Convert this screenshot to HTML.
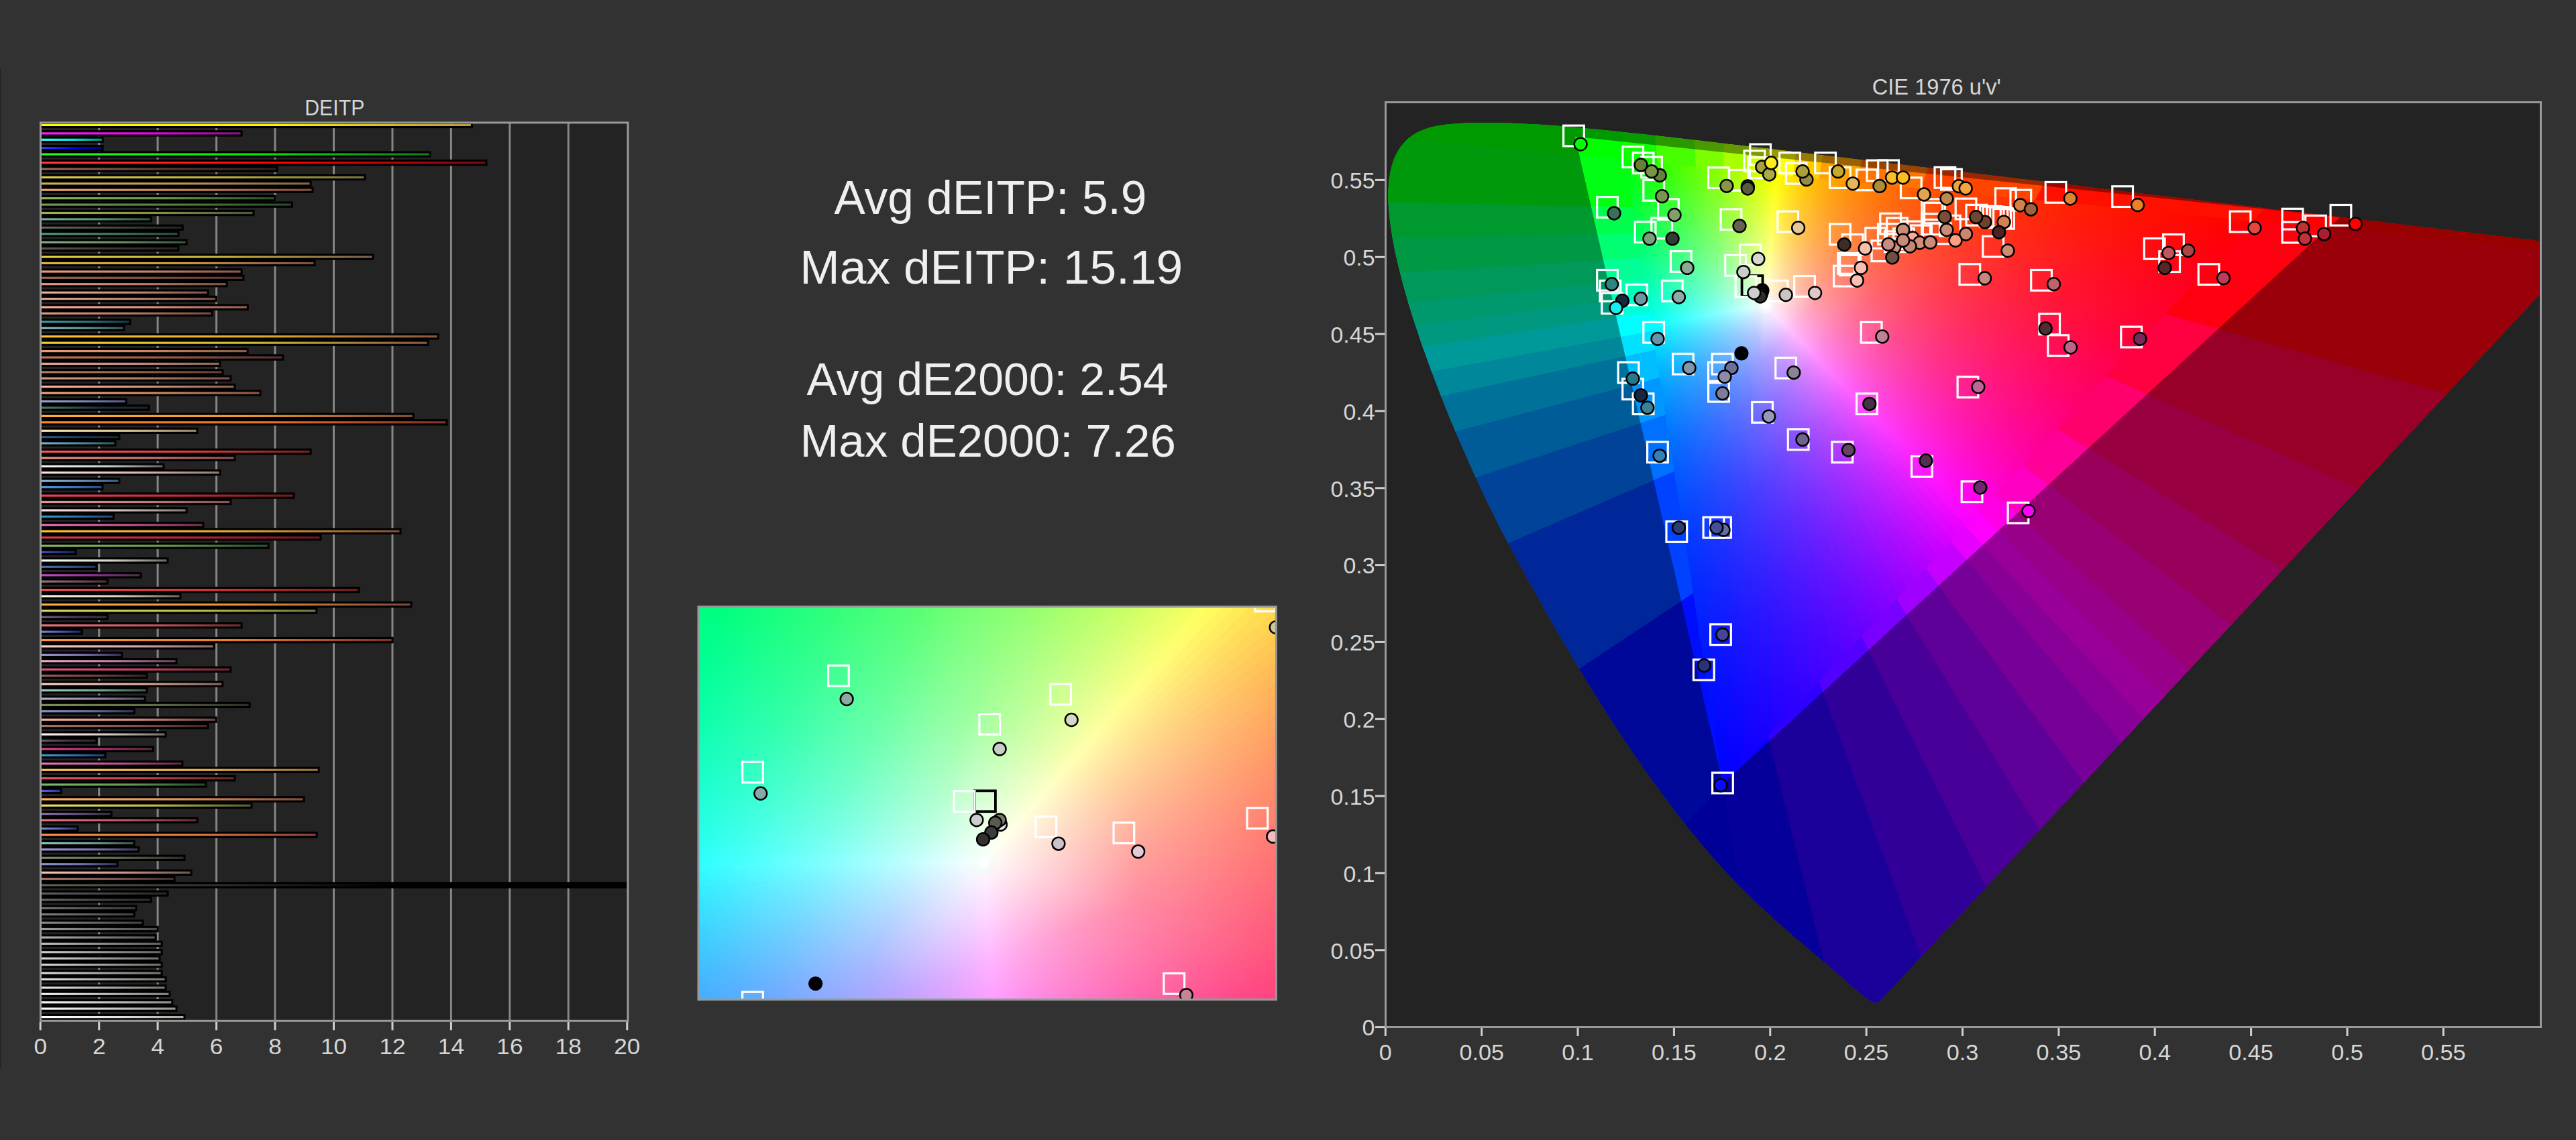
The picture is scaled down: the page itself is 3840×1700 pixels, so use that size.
<!DOCTYPE html>
<html lang="en"><head><meta charset="utf-8"><title>DEITP / CIE 1976 u'v'</title>
<style>
html,body{margin:0;padding:0;background:#323232;}
body{width:3840px;height:1700px;position:relative;overflow:hidden;font-family:"Liberation Sans",sans-serif;}
svg{position:absolute;left:0;top:0;}
text{font-family:"Liberation Sans",sans-serif;}
</style></head><body>
<svg width="3840" height="1700" viewBox="0 0 3840 1700">

<defs>
<linearGradient id="mf0" gradientUnits="userSpaceOnUse" x1="2632.5" y1="455.2" x2="2431.5" y2="239.5"><stop offset="0" stop-color="#fff"/><stop offset="0.12" stop-color="#d1ffd0"/><stop offset="0.25" stop-color="#a6ffa4"/><stop offset="0.4" stop-color="#7cff79"/><stop offset="0.55" stop-color="#58ff54"/><stop offset="0.7" stop-color="#39ff34"/><stop offset="0.85" stop-color="#1eff18"/><stop offset="1" stop-color="#07ff00"/></linearGradient>
<linearGradient id="mf1" gradientUnits="userSpaceOnUse" x1="2632.5" y1="455.2" x2="2446.1" y2="240.9"><stop offset="0" stop-color="#fff"/><stop offset="0.12" stop-color="#d4ffd0"/><stop offset="0.25" stop-color="#acffa5"/><stop offset="0.4" stop-color="#84ff7a"/><stop offset="0.55" stop-color="#62ff55"/><stop offset="0.7" stop-color="#44ff35"/><stop offset="0.85" stop-color="#2aff19"/><stop offset="1" stop-color="#14ff00"/></linearGradient>
<linearGradient id="mf2" gradientUnits="userSpaceOnUse" x1="2632.5" y1="455.2" x2="2459.7" y2="242.2"><stop offset="0" stop-color="#fff"/><stop offset="0.12" stop-color="#d7ffd1"/><stop offset="0.25" stop-color="#b1ffa6"/><stop offset="0.4" stop-color="#8bff7b"/><stop offset="0.55" stop-color="#6bff56"/><stop offset="0.7" stop-color="#4fff35"/><stop offset="0.85" stop-color="#36ff19"/><stop offset="1" stop-color="#20ff00"/></linearGradient>
<linearGradient id="mf3" gradientUnits="userSpaceOnUse" x1="2632.5" y1="455.2" x2="2472.4" y2="243.5"><stop offset="0" stop-color="#fff"/><stop offset="0.12" stop-color="#d9ffd2"/><stop offset="0.25" stop-color="#b6ffa7"/><stop offset="0.4" stop-color="#92ff7c"/><stop offset="0.55" stop-color="#74ff57"/><stop offset="0.7" stop-color="#59ff36"/><stop offset="0.85" stop-color="#41ff19"/><stop offset="1" stop-color="#2cff00"/></linearGradient>
<linearGradient id="mf4" gradientUnits="userSpaceOnUse" x1="2632.5" y1="455.2" x2="2484.4" y2="244.6"><stop offset="0" stop-color="#fff"/><stop offset="0.12" stop-color="#dcffd2"/><stop offset="0.25" stop-color="#baffa7"/><stop offset="0.4" stop-color="#99ff7d"/><stop offset="0.55" stop-color="#7cff57"/><stop offset="0.7" stop-color="#62ff37"/><stop offset="0.85" stop-color="#4cff1a"/><stop offset="1" stop-color="#37ff00"/></linearGradient>
<linearGradient id="mf5" gradientUnits="userSpaceOnUse" x1="2632.5" y1="455.2" x2="2495.7" y2="245.7"><stop offset="0" stop-color="#fff"/><stop offset="0.12" stop-color="#deffd3"/><stop offset="0.25" stop-color="#bfffa8"/><stop offset="0.4" stop-color="#9fff7d"/><stop offset="0.55" stop-color="#84ff58"/><stop offset="0.7" stop-color="#6bff37"/><stop offset="0.85" stop-color="#56ff1a"/><stop offset="1" stop-color="#43ff00"/></linearGradient>
<linearGradient id="mf6" gradientUnits="userSpaceOnUse" x1="2632.5" y1="455.2" x2="2506.3" y2="246.8"><stop offset="0" stop-color="#fff"/><stop offset="0.12" stop-color="#e0ffd3"/><stop offset="0.25" stop-color="#c3ffa9"/><stop offset="0.4" stop-color="#a5ff7e"/><stop offset="0.55" stop-color="#8bff59"/><stop offset="0.7" stop-color="#74ff38"/><stop offset="0.85" stop-color="#60ff1a"/><stop offset="1" stop-color="#4dff00"/></linearGradient>
<linearGradient id="mf7" gradientUnits="userSpaceOnUse" x1="2632.5" y1="455.2" x2="2516.4" y2="247.7"><stop offset="0" stop-color="#fff"/><stop offset="0.12" stop-color="#e2ffd3"/><stop offset="0.25" stop-color="#c7ffaa"/><stop offset="0.4" stop-color="#abff7f"/><stop offset="0.55" stop-color="#93ff5a"/><stop offset="0.7" stop-color="#7dff38"/><stop offset="0.85" stop-color="#69ff1b"/><stop offset="1" stop-color="#58ff00"/></linearGradient>
<linearGradient id="mf8" gradientUnits="userSpaceOnUse" x1="2632.5" y1="455.2" x2="2526.1" y2="248.7"><stop offset="0" stop-color="#fff"/><stop offset="0.12" stop-color="#e4ffd4"/><stop offset="0.25" stop-color="#cbffaa"/><stop offset="0.4" stop-color="#b1ff80"/><stop offset="0.55" stop-color="#9aff5a"/><stop offset="0.7" stop-color="#85ff39"/><stop offset="0.85" stop-color="#73ff1b"/><stop offset="1" stop-color="#62ff00"/></linearGradient>
<linearGradient id="mf9" gradientUnits="userSpaceOnUse" x1="2632.5" y1="455.2" x2="2535.3" y2="249.6"><stop offset="0" stop-color="#fff"/><stop offset="0.12" stop-color="#e6ffd4"/><stop offset="0.25" stop-color="#cfffab"/><stop offset="0.4" stop-color="#b6ff80"/><stop offset="0.55" stop-color="#a1ff5b"/><stop offset="0.7" stop-color="#8dff39"/><stop offset="0.85" stop-color="#7cff1b"/><stop offset="1" stop-color="#6cff00"/></linearGradient>
<linearGradient id="mf10" gradientUnits="userSpaceOnUse" x1="2632.5" y1="455.2" x2="2544.2" y2="250.5"><stop offset="0" stop-color="#fff"/><stop offset="0.12" stop-color="#e8ffd5"/><stop offset="0.25" stop-color="#d2ffab"/><stop offset="0.4" stop-color="#bbff81"/><stop offset="0.55" stop-color="#a7ff5b"/><stop offset="0.7" stop-color="#95ff3a"/><stop offset="0.85" stop-color="#85ff1b"/><stop offset="1" stop-color="#76ff00"/></linearGradient>
<linearGradient id="mf11" gradientUnits="userSpaceOnUse" x1="2632.5" y1="455.2" x2="2552.7" y2="251.3"><stop offset="0" stop-color="#fff"/><stop offset="0.12" stop-color="#eaffd5"/><stop offset="0.25" stop-color="#d6ffac"/><stop offset="0.4" stop-color="#c1ff82"/><stop offset="0.55" stop-color="#aeff5c"/><stop offset="0.7" stop-color="#9dff3a"/><stop offset="0.85" stop-color="#8eff1c"/><stop offset="1" stop-color="#80ff00"/></linearGradient>
<linearGradient id="mf12" gradientUnits="userSpaceOnUse" x1="2632.5" y1="455.2" x2="2561.0" y2="252.1"><stop offset="0" stop-color="#fff"/><stop offset="0.12" stop-color="#ecffd5"/><stop offset="0.25" stop-color="#d9ffad"/><stop offset="0.4" stop-color="#c6ff82"/><stop offset="0.55" stop-color="#b4ff5d"/><stop offset="0.7" stop-color="#a4ff3b"/><stop offset="0.85" stop-color="#96ff1c"/><stop offset="1" stop-color="#89ff00"/></linearGradient>
<linearGradient id="mf13" gradientUnits="userSpaceOnUse" x1="2632.5" y1="455.2" x2="2568.9" y2="252.9"><stop offset="0" stop-color="#fff"/><stop offset="0.12" stop-color="#edffd6"/><stop offset="0.25" stop-color="#dcffad"/><stop offset="0.4" stop-color="#caff83"/><stop offset="0.55" stop-color="#baff5d"/><stop offset="0.7" stop-color="#acff3b"/><stop offset="0.85" stop-color="#9fff1c"/><stop offset="1" stop-color="#93ff00"/></linearGradient>
<linearGradient id="mf14" gradientUnits="userSpaceOnUse" x1="2632.5" y1="455.2" x2="2576.7" y2="253.6"><stop offset="0" stop-color="#fff"/><stop offset="0.12" stop-color="#efffd6"/><stop offset="0.25" stop-color="#dfffae"/><stop offset="0.4" stop-color="#cfff84"/><stop offset="0.55" stop-color="#c1ff5e"/><stop offset="0.7" stop-color="#b3ff3c"/><stop offset="0.85" stop-color="#a7ff1c"/><stop offset="1" stop-color="#9cff00"/></linearGradient>
<linearGradient id="mf15" gradientUnits="userSpaceOnUse" x1="2632.5" y1="455.2" x2="2584.3" y2="254.4"><stop offset="0" stop-color="#fff"/><stop offset="0.12" stop-color="#f1ffd6"/><stop offset="0.25" stop-color="#e3ffae"/><stop offset="0.4" stop-color="#d4ff84"/><stop offset="0.55" stop-color="#c7ff5e"/><stop offset="0.7" stop-color="#bbff3c"/><stop offset="0.85" stop-color="#b0ff1d"/><stop offset="1" stop-color="#a6ff00"/></linearGradient>
<linearGradient id="mf16" gradientUnits="userSpaceOnUse" x1="2632.5" y1="455.2" x2="2591.6" y2="255.1"><stop offset="0" stop-color="#fff"/><stop offset="0.12" stop-color="#f2ffd7"/><stop offset="0.25" stop-color="#e6ffaf"/><stop offset="0.4" stop-color="#d9ff85"/><stop offset="0.55" stop-color="#cdff5f"/><stop offset="0.7" stop-color="#c2ff3d"/><stop offset="0.85" stop-color="#b8ff1d"/><stop offset="1" stop-color="#afff00"/></linearGradient>
<linearGradient id="mf17" gradientUnits="userSpaceOnUse" x1="2632.5" y1="455.2" x2="2598.8" y2="255.8"><stop offset="0" stop-color="#fff"/><stop offset="0.12" stop-color="#f4ffd7"/><stop offset="0.25" stop-color="#e9ffaf"/><stop offset="0.4" stop-color="#ddff86"/><stop offset="0.55" stop-color="#d3ff60"/><stop offset="0.7" stop-color="#c9ff3d"/><stop offset="0.85" stop-color="#c0ff1d"/><stop offset="1" stop-color="#b8ff00"/></linearGradient>
<linearGradient id="mf18" gradientUnits="userSpaceOnUse" x1="2632.5" y1="455.2" x2="2605.9" y2="256.5"><stop offset="0" stop-color="#fff"/><stop offset="0.12" stop-color="#f5ffd7"/><stop offset="0.25" stop-color="#ecffb0"/><stop offset="0.4" stop-color="#e2ff86"/><stop offset="0.55" stop-color="#d9ff60"/><stop offset="0.7" stop-color="#d0ff3d"/><stop offset="0.85" stop-color="#c8ff1d"/><stop offset="1" stop-color="#c1ff00"/></linearGradient>
<linearGradient id="mf19" gradientUnits="userSpaceOnUse" x1="2632.5" y1="455.2" x2="2612.9" y2="257.1"><stop offset="0" stop-color="#fff"/><stop offset="0.12" stop-color="#f7ffd8"/><stop offset="0.25" stop-color="#efffb0"/><stop offset="0.4" stop-color="#e6ff87"/><stop offset="0.55" stop-color="#deff61"/><stop offset="0.7" stop-color="#d7ff3e"/><stop offset="0.85" stop-color="#d1ff1e"/><stop offset="1" stop-color="#cbff00"/></linearGradient>
<linearGradient id="mf20" gradientUnits="userSpaceOnUse" x1="2632.5" y1="455.2" x2="2619.8" y2="257.8"><stop offset="0" stop-color="#fff"/><stop offset="0.12" stop-color="#f8ffd8"/><stop offset="0.25" stop-color="#f2ffb1"/><stop offset="0.4" stop-color="#ebff87"/><stop offset="0.55" stop-color="#e4ff61"/><stop offset="0.7" stop-color="#deff3e"/><stop offset="0.85" stop-color="#d9ff1e"/><stop offset="1" stop-color="#d4ff00"/></linearGradient>
<linearGradient id="mf21" gradientUnits="userSpaceOnUse" x1="2632.5" y1="455.2" x2="2626.6" y2="258.5"><stop offset="0" stop-color="#fff"/><stop offset="0.12" stop-color="#faffd8"/><stop offset="0.25" stop-color="#f5ffb1"/><stop offset="0.4" stop-color="#efff88"/><stop offset="0.55" stop-color="#eaff62"/><stop offset="0.7" stop-color="#e6ff3f"/><stop offset="0.85" stop-color="#e1ff1e"/><stop offset="1" stop-color="#df0"/></linearGradient>
<linearGradient id="mf22" gradientUnits="userSpaceOnUse" x1="2632.5" y1="455.2" x2="2633.3" y2="259.1"><stop offset="0" stop-color="#fff"/><stop offset="0.12" stop-color="#fbffd9"/><stop offset="0.25" stop-color="#f8ffb2"/><stop offset="0.4" stop-color="#f4ff88"/><stop offset="0.55" stop-color="#f0ff62"/><stop offset="0.7" stop-color="#edff3f"/><stop offset="0.85" stop-color="#eaff1e"/><stop offset="1" stop-color="#e7ff00"/></linearGradient>
<linearGradient id="mf23" gradientUnits="userSpaceOnUse" x1="2632.5" y1="455.2" x2="2640.0" y2="259.8"><stop offset="0" stop-color="#fff"/><stop offset="0.12" stop-color="#fdffd9"/><stop offset="0.25" stop-color="#fbffb2"/><stop offset="0.4" stop-color="#f8ff89"/><stop offset="0.55" stop-color="#f6ff63"/><stop offset="0.7" stop-color="#f4ff40"/><stop offset="0.85" stop-color="#f2ff1f"/><stop offset="1" stop-color="#f0ff00"/></linearGradient>
<linearGradient id="mf24" gradientUnits="userSpaceOnUse" x1="2632.5" y1="455.2" x2="2646.7" y2="260.4"><stop offset="0" stop-color="#fff"/><stop offset="0.12" stop-color="#feffd9"/><stop offset="0.25" stop-color="#feffb3"/><stop offset="0.4" stop-color="#fdff8a"/><stop offset="0.55" stop-color="#fcff64"/><stop offset="0.7" stop-color="#fbff40"/><stop offset="0.85" stop-color="#fbff1f"/><stop offset="1" stop-color="#faff00"/></linearGradient>
<linearGradient id="mf25" gradientUnits="userSpaceOnUse" x1="2632.5" y1="455.2" x2="2653.4" y2="261.1"><stop offset="0" stop-color="#fff"/><stop offset="0.12" stop-color="#fffed9"/><stop offset="0.25" stop-color="#fffeb2"/><stop offset="0.4" stop-color="#fffd89"/><stop offset="0.55" stop-color="#fffc63"/><stop offset="0.7" stop-color="#fffb40"/><stop offset="0.85" stop-color="#fffb1f"/><stop offset="1" stop-color="#fffa00"/></linearGradient>
<linearGradient id="mf26" gradientUnits="userSpaceOnUse" x1="2632.5" y1="455.2" x2="2660.1" y2="261.7"><stop offset="0" stop-color="#fff"/><stop offset="0.12" stop-color="#fffdd8"/><stop offset="0.25" stop-color="#fffbb1"/><stop offset="0.4" stop-color="#fff887"/><stop offset="0.55" stop-color="#fff661"/><stop offset="0.7" stop-color="#fff43e"/><stop offset="0.85" stop-color="#fff21e"/><stop offset="1" stop-color="#fff100"/></linearGradient>
<linearGradient id="mf27" gradientUnits="userSpaceOnUse" x1="2632.5" y1="455.2" x2="2666.8" y2="262.4"><stop offset="0" stop-color="#fff"/><stop offset="0.12" stop-color="#fffbd7"/><stop offset="0.25" stop-color="#fff8af"/><stop offset="0.4" stop-color="#fff485"/><stop offset="0.55" stop-color="#fff05f"/><stop offset="0.7" stop-color="#ffed3d"/><stop offset="0.85" stop-color="#ffea1d"/><stop offset="1" stop-color="#ffe800"/></linearGradient>
<linearGradient id="mf28" gradientUnits="userSpaceOnUse" x1="2632.5" y1="455.2" x2="2673.6" y2="263.1"><stop offset="0" stop-color="#fff"/><stop offset="0.12" stop-color="#fffad6"/><stop offset="0.25" stop-color="#fff5ae"/><stop offset="0.4" stop-color="#fff084"/><stop offset="0.55" stop-color="#ffeb5e"/><stop offset="0.7" stop-color="#ffe73c"/><stop offset="0.85" stop-color="#ffe31c"/><stop offset="1" stop-color="#ffdf00"/></linearGradient>
<linearGradient id="mf29" gradientUnits="userSpaceOnUse" x1="2632.5" y1="455.2" x2="2680.4" y2="263.7"><stop offset="0" stop-color="#fff"/><stop offset="0.12" stop-color="#fff8d5"/><stop offset="0.25" stop-color="#fff2ac"/><stop offset="0.4" stop-color="#ffeb82"/><stop offset="0.55" stop-color="#ffe65c"/><stop offset="0.7" stop-color="#ffe03a"/><stop offset="0.85" stop-color="#ffdc1c"/><stop offset="1" stop-color="#ffd700"/></linearGradient>
<linearGradient id="mf30" gradientUnits="userSpaceOnUse" x1="2632.5" y1="455.2" x2="2687.3" y2="264.4"><stop offset="0" stop-color="#fff"/><stop offset="0.12" stop-color="#fff7d4"/><stop offset="0.25" stop-color="#ffefab"/><stop offset="0.4" stop-color="#ffe780"/><stop offset="0.55" stop-color="#ffe05b"/><stop offset="0.7" stop-color="#ffda39"/><stop offset="0.85" stop-color="#ffd51b"/><stop offset="1" stop-color="#ffcf00"/></linearGradient>
<linearGradient id="mf31" gradientUnits="userSpaceOnUse" x1="2632.5" y1="455.2" x2="2694.2" y2="265.1"><stop offset="0" stop-color="#fff"/><stop offset="0.12" stop-color="#fff6d3"/><stop offset="0.25" stop-color="#ffeda9"/><stop offset="0.4" stop-color="#ffe37f"/><stop offset="0.55" stop-color="#ffdb59"/><stop offset="0.7" stop-color="#ffd438"/><stop offset="0.85" stop-color="#ffce1b"/><stop offset="1" stop-color="#ffc800"/></linearGradient>
<linearGradient id="mf32" gradientUnits="userSpaceOnUse" x1="2632.5" y1="455.2" x2="2701.3" y2="265.8"><stop offset="0" stop-color="#fff"/><stop offset="0.12" stop-color="#fff4d2"/><stop offset="0.25" stop-color="#ffeaa8"/><stop offset="0.4" stop-color="#ffdf7d"/><stop offset="0.55" stop-color="#ffd658"/><stop offset="0.7" stop-color="#ffce37"/><stop offset="0.85" stop-color="#ffc71a"/><stop offset="1" stop-color="#ffc100"/></linearGradient>
<linearGradient id="mf33" gradientUnits="userSpaceOnUse" x1="2632.5" y1="455.2" x2="2708.5" y2="266.5"><stop offset="0" stop-color="#fff"/><stop offset="0.12" stop-color="#fff3d1"/><stop offset="0.25" stop-color="#ffe7a6"/><stop offset="0.4" stop-color="#ffdb7b"/><stop offset="0.55" stop-color="#ffd156"/><stop offset="0.7" stop-color="#ffc836"/><stop offset="0.85" stop-color="#ffc119"/><stop offset="1" stop-color="#ffba00"/></linearGradient>
<linearGradient id="mf34" gradientUnits="userSpaceOnUse" x1="2632.5" y1="455.2" x2="2715.8" y2="267.2"><stop offset="0" stop-color="#fff"/><stop offset="0.12" stop-color="#fff1d0"/><stop offset="0.25" stop-color="#ffe4a5"/><stop offset="0.4" stop-color="#ffd77a"/><stop offset="0.55" stop-color="#fc5"/><stop offset="0.7" stop-color="#ffc335"/><stop offset="0.85" stop-color="#ffbb19"/><stop offset="1" stop-color="#ffb300"/></linearGradient>
<linearGradient id="mf35" gradientUnits="userSpaceOnUse" x1="2632.5" y1="455.2" x2="2723.4" y2="267.9"><stop offset="0" stop-color="#fff"/><stop offset="0.12" stop-color="#fff0cf"/><stop offset="0.25" stop-color="#ffe1a3"/><stop offset="0.4" stop-color="#ffd378"/><stop offset="0.55" stop-color="#ffc853"/><stop offset="0.7" stop-color="#ffbd34"/><stop offset="0.85" stop-color="#ffb418"/><stop offset="1" stop-color="#ffad00"/></linearGradient>
<linearGradient id="mf36" gradientUnits="userSpaceOnUse" x1="2632.5" y1="455.2" x2="2731.1" y2="268.7"><stop offset="0" stop-color="#fff"/><stop offset="0.12" stop-color="#ffeece"/><stop offset="0.25" stop-color="#ffdfa2"/><stop offset="0.4" stop-color="#ffcf76"/><stop offset="0.55" stop-color="#ffc352"/><stop offset="0.7" stop-color="#ffb833"/><stop offset="0.85" stop-color="#ffae18"/><stop offset="1" stop-color="#ffa600"/></linearGradient>
<linearGradient id="mf37" gradientUnits="userSpaceOnUse" x1="2632.5" y1="455.2" x2="2739.0" y2="269.4"><stop offset="0" stop-color="#fff"/><stop offset="0.12" stop-color="#ffedcd"/><stop offset="0.25" stop-color="#ffdca0"/><stop offset="0.4" stop-color="#ffcc75"/><stop offset="0.55" stop-color="#ffbe51"/><stop offset="0.7" stop-color="#ffb332"/><stop offset="0.85" stop-color="#ffa917"/><stop offset="1" stop-color="#ffa000"/></linearGradient>
<linearGradient id="mf38" gradientUnits="userSpaceOnUse" x1="2632.5" y1="455.2" x2="2747.2" y2="270.2"><stop offset="0" stop-color="#fff"/><stop offset="0.12" stop-color="#ffebcc"/><stop offset="0.25" stop-color="#ffd99f"/><stop offset="0.4" stop-color="#ffc873"/><stop offset="0.55" stop-color="#ffb94f"/><stop offset="0.7" stop-color="#ffad31"/><stop offset="0.85" stop-color="#ffa317"/><stop offset="1" stop-color="#ff9a00"/></linearGradient>
<linearGradient id="mf39" gradientUnits="userSpaceOnUse" x1="2632.5" y1="455.2" x2="2755.7" y2="271.1"><stop offset="0" stop-color="#fff"/><stop offset="0.12" stop-color="#ffe9cb"/><stop offset="0.25" stop-color="#ffd69d"/><stop offset="0.4" stop-color="#ffc472"/><stop offset="0.55" stop-color="#ffb54e"/><stop offset="0.7" stop-color="#ffa830"/><stop offset="0.85" stop-color="#ff9d16"/><stop offset="1" stop-color="#ff9400"/></linearGradient>
<linearGradient id="mf40" gradientUnits="userSpaceOnUse" x1="2632.5" y1="455.2" x2="2764.5" y2="271.9"><stop offset="0" stop-color="#fff"/><stop offset="0.12" stop-color="#ffe8ca"/><stop offset="0.25" stop-color="#ffd39c"/><stop offset="0.4" stop-color="#ffc070"/><stop offset="0.55" stop-color="#ffb04c"/><stop offset="0.7" stop-color="#ffa32f"/><stop offset="0.85" stop-color="#ff9816"/><stop offset="1" stop-color="#ff8e00"/></linearGradient>
<linearGradient id="mf41" gradientUnits="userSpaceOnUse" x1="2632.5" y1="455.2" x2="2773.6" y2="272.8"><stop offset="0" stop-color="#fff"/><stop offset="0.12" stop-color="#ffe6c9"/><stop offset="0.25" stop-color="#ffd09a"/><stop offset="0.4" stop-color="#ffbc6e"/><stop offset="0.55" stop-color="#ffab4b"/><stop offset="0.7" stop-color="#ff9d2e"/><stop offset="0.85" stop-color="#ff9215"/><stop offset="1" stop-color="#f80"/></linearGradient>
<linearGradient id="mf42" gradientUnits="userSpaceOnUse" x1="2632.5" y1="455.2" x2="2783.2" y2="273.7"><stop offset="0" stop-color="#fff"/><stop offset="0.12" stop-color="#ffe4c8"/><stop offset="0.25" stop-color="#ffcd98"/><stop offset="0.4" stop-color="#ffb76d"/><stop offset="0.55" stop-color="#ffa649"/><stop offset="0.7" stop-color="#ff982d"/><stop offset="0.85" stop-color="#ff8c14"/><stop offset="1" stop-color="#ff8200"/></linearGradient>
<linearGradient id="mf43" gradientUnits="userSpaceOnUse" x1="2632.5" y1="455.2" x2="2793.2" y2="274.7"><stop offset="0" stop-color="#fff"/><stop offset="0.12" stop-color="#ffe2c7"/><stop offset="0.25" stop-color="#ffca97"/><stop offset="0.4" stop-color="#ffb36b"/><stop offset="0.55" stop-color="#ffa148"/><stop offset="0.7" stop-color="#ff932c"/><stop offset="0.85" stop-color="#ff8714"/><stop offset="1" stop-color="#ff7d00"/></linearGradient>
<linearGradient id="mf44" gradientUnits="userSpaceOnUse" x1="2632.5" y1="455.2" x2="2803.7" y2="275.7"><stop offset="0" stop-color="#fff"/><stop offset="0.12" stop-color="#ffe0c5"/><stop offset="0.25" stop-color="#ffc695"/><stop offset="0.4" stop-color="#ffaf69"/><stop offset="0.55" stop-color="#ff9d47"/><stop offset="0.7" stop-color="#ff8e2b"/><stop offset="0.85" stop-color="#ff8113"/><stop offset="1" stop-color="#f70"/></linearGradient>
<linearGradient id="mf45" gradientUnits="userSpaceOnUse" x1="2632.5" y1="455.2" x2="2814.8" y2="276.8"><stop offset="0" stop-color="#fff"/><stop offset="0.12" stop-color="#ffdec4"/><stop offset="0.25" stop-color="#ffc393"/><stop offset="0.4" stop-color="#ffab67"/><stop offset="0.55" stop-color="#ff9845"/><stop offset="0.7" stop-color="#ff882a"/><stop offset="0.85" stop-color="#ff7c13"/><stop offset="1" stop-color="#ff7100"/></linearGradient>
<linearGradient id="mf46" gradientUnits="userSpaceOnUse" x1="2632.5" y1="455.2" x2="2826.6" y2="278.0"><stop offset="0" stop-color="#fff"/><stop offset="0.12" stop-color="#ffdcc3"/><stop offset="0.25" stop-color="#ffc091"/><stop offset="0.4" stop-color="#ffa666"/><stop offset="0.55" stop-color="#ff9344"/><stop offset="0.7" stop-color="#ff8329"/><stop offset="0.85" stop-color="#ff7612"/><stop offset="1" stop-color="#ff6c00"/></linearGradient>
<linearGradient id="mf47" gradientUnits="userSpaceOnUse" x1="2632.5" y1="455.2" x2="2839.1" y2="279.2"><stop offset="0" stop-color="#fff"/><stop offset="0.12" stop-color="#ffdac1"/><stop offset="0.25" stop-color="#ffbc8f"/><stop offset="0.4" stop-color="#ffa264"/><stop offset="0.55" stop-color="#ff8e42"/><stop offset="0.7" stop-color="#ff7e28"/><stop offset="0.85" stop-color="#ff7112"/><stop offset="1" stop-color="#f60"/></linearGradient>
<linearGradient id="mf48" gradientUnits="userSpaceOnUse" x1="2632.5" y1="455.2" x2="2852.5" y2="280.5"><stop offset="0" stop-color="#fff"/><stop offset="0.12" stop-color="#ffd8c0"/><stop offset="0.25" stop-color="#ffb88d"/><stop offset="0.4" stop-color="#ff9d62"/><stop offset="0.55" stop-color="#ff8841"/><stop offset="0.7" stop-color="#ff7826"/><stop offset="0.85" stop-color="#ff6b11"/><stop offset="1" stop-color="#ff6000"/></linearGradient>
<linearGradient id="mf49" gradientUnits="userSpaceOnUse" x1="2632.5" y1="455.2" x2="2866.9" y2="281.9"><stop offset="0" stop-color="#fff"/><stop offset="0.12" stop-color="#ffd5be"/><stop offset="0.25" stop-color="#ffb48b"/><stop offset="0.4" stop-color="#ff9860"/><stop offset="0.55" stop-color="#ff833f"/><stop offset="0.7" stop-color="#ff7225"/><stop offset="0.85" stop-color="#ff6511"/><stop offset="1" stop-color="#ff5a00"/></linearGradient>
<linearGradient id="mf50" gradientUnits="userSpaceOnUse" x1="2632.5" y1="455.2" x2="2882.4" y2="283.4"><stop offset="0" stop-color="#fff"/><stop offset="0.12" stop-color="#ffd3bd"/><stop offset="0.25" stop-color="#ffb089"/><stop offset="0.4" stop-color="#ff935e"/><stop offset="0.55" stop-color="#ff7e3d"/><stop offset="0.7" stop-color="#ff6d24"/><stop offset="0.85" stop-color="#ff5f10"/><stop offset="1" stop-color="#f50"/></linearGradient>
<linearGradient id="mf51" gradientUnits="userSpaceOnUse" x1="2632.5" y1="455.2" x2="2899.3" y2="285.1"><stop offset="0" stop-color="#fff"/><stop offset="0.12" stop-color="#ffd0bb"/><stop offset="0.25" stop-color="#ffac87"/><stop offset="0.4" stop-color="#ff8e5c"/><stop offset="0.55" stop-color="#ff783c"/><stop offset="0.7" stop-color="#ff6723"/><stop offset="0.85" stop-color="#ff5a10"/><stop offset="1" stop-color="#ff4f00"/></linearGradient>
<linearGradient id="mf52" gradientUnits="userSpaceOnUse" x1="2632.5" y1="455.2" x2="2917.7" y2="286.9"><stop offset="0" stop-color="#fff"/><stop offset="0.12" stop-color="#ffcdb9"/><stop offset="0.25" stop-color="#ffa784"/><stop offset="0.4" stop-color="#ff8959"/><stop offset="0.55" stop-color="#ff723a"/><stop offset="0.7" stop-color="#ff6122"/><stop offset="0.85" stop-color="#ff540f"/><stop offset="1" stop-color="#ff4900"/></linearGradient>
<linearGradient id="mf53" gradientUnits="userSpaceOnUse" x1="2632.5" y1="455.2" x2="2937.9" y2="288.8"><stop offset="0" stop-color="#fff"/><stop offset="0.12" stop-color="#ffcab7"/><stop offset="0.25" stop-color="#ffa382"/><stop offset="0.4" stop-color="#ff8357"/><stop offset="0.55" stop-color="#ff6c38"/><stop offset="0.7" stop-color="#ff5b21"/><stop offset="0.85" stop-color="#ff4d0f"/><stop offset="1" stop-color="#ff4300"/></linearGradient>
<linearGradient id="mf54" gradientUnits="userSpaceOnUse" x1="2632.5" y1="455.2" x2="2960.3" y2="291.0"><stop offset="0" stop-color="#fff"/><stop offset="0.12" stop-color="#ffc6b5"/><stop offset="0.25" stop-color="#ff9d7f"/><stop offset="0.4" stop-color="#ff7d55"/><stop offset="0.55" stop-color="#ff6636"/><stop offset="0.7" stop-color="#ff5520"/><stop offset="0.85" stop-color="#ff470e"/><stop offset="1" stop-color="#ff3c00"/></linearGradient>
<linearGradient id="mf55" gradientUnits="userSpaceOnUse" x1="2632.5" y1="455.2" x2="2985.3" y2="293.5"><stop offset="0" stop-color="#fff"/><stop offset="0.12" stop-color="#ffc3b2"/><stop offset="0.25" stop-color="#ff987c"/><stop offset="0.4" stop-color="#ff7752"/><stop offset="0.55" stop-color="#ff5f34"/><stop offset="0.7" stop-color="#ff4e1e"/><stop offset="0.85" stop-color="#ff410d"/><stop offset="1" stop-color="#ff3600"/></linearGradient>
<linearGradient id="mf56" gradientUnits="userSpaceOnUse" x1="2632.5" y1="455.2" x2="3013.5" y2="296.2"><stop offset="0" stop-color="#fff"/><stop offset="0.12" stop-color="#ffbeb0"/><stop offset="0.25" stop-color="#ff9279"/><stop offset="0.4" stop-color="#ff704f"/><stop offset="0.55" stop-color="#ff5932"/><stop offset="0.7" stop-color="#ff471d"/><stop offset="0.85" stop-color="#ff3a0d"/><stop offset="1" stop-color="#ff3000"/></linearGradient>
<linearGradient id="mf57" gradientUnits="userSpaceOnUse" x1="2632.5" y1="455.2" x2="3045.5" y2="299.3"><stop offset="0" stop-color="#fff"/><stop offset="0.12" stop-color="#ffbaad"/><stop offset="0.25" stop-color="#ff8c76"/><stop offset="0.4" stop-color="#ff694d"/><stop offset="0.55" stop-color="#ff5230"/><stop offset="0.7" stop-color="#ff401c"/><stop offset="0.85" stop-color="#ff330c"/><stop offset="1" stop-color="#ff2900"/></linearGradient>
<linearGradient id="mf58" gradientUnits="userSpaceOnUse" x1="2632.5" y1="455.2" x2="3082.3" y2="302.9"><stop offset="0" stop-color="#fff"/><stop offset="0.12" stop-color="#ffb5a9"/><stop offset="0.25" stop-color="#ff8572"/><stop offset="0.4" stop-color="#ff624a"/><stop offset="0.55" stop-color="#ff4a2e"/><stop offset="0.7" stop-color="#ff391a"/><stop offset="0.85" stop-color="#ff2c0c"/><stop offset="1" stop-color="#f20"/></linearGradient>
<linearGradient id="mf59" gradientUnits="userSpaceOnUse" x1="2632.5" y1="455.2" x2="3125.3" y2="307.1"><stop offset="0" stop-color="#fff"/><stop offset="0.12" stop-color="#ffafa6"/><stop offset="0.25" stop-color="#ff7e6e"/><stop offset="0.4" stop-color="#ff5a46"/><stop offset="0.55" stop-color="#ff422c"/><stop offset="0.7" stop-color="#ff3119"/><stop offset="0.85" stop-color="#ff250b"/><stop offset="1" stop-color="#ff1b00"/></linearGradient>
<linearGradient id="mf60" gradientUnits="userSpaceOnUse" x1="2632.5" y1="455.2" x2="3176.1" y2="312.1"><stop offset="0" stop-color="#fff"/><stop offset="0.12" stop-color="#ffa9a2"/><stop offset="0.25" stop-color="#ff756a"/><stop offset="0.4" stop-color="#ff5143"/><stop offset="0.55" stop-color="#ff3a29"/><stop offset="0.7" stop-color="#ff2917"/><stop offset="0.85" stop-color="#ff1d0a"/><stop offset="1" stop-color="#ff1400"/></linearGradient>
<linearGradient id="mf61" gradientUnits="userSpaceOnUse" x1="2632.5" y1="455.2" x2="3237.3" y2="318.0"><stop offset="0" stop-color="#fff"/><stop offset="0.12" stop-color="#ffa29d"/><stop offset="0.25" stop-color="#ff6c65"/><stop offset="0.4" stop-color="#ff483f"/><stop offset="0.55" stop-color="#ff3127"/><stop offset="0.7" stop-color="#ff2116"/><stop offset="0.85" stop-color="#ff1509"/><stop offset="1" stop-color="#ff0c00"/></linearGradient>
<linearGradient id="mf62" gradientUnits="userSpaceOnUse" x1="2632.5" y1="455.2" x2="3312.8" y2="325.4"><stop offset="0" stop-color="#fff"/><stop offset="0.12" stop-color="#ff9998"/><stop offset="0.25" stop-color="#ff6260"/><stop offset="0.4" stop-color="#ff3e3b"/><stop offset="0.55" stop-color="#ff2724"/><stop offset="0.7" stop-color="#ff1814"/><stop offset="0.85" stop-color="#ff0d09"/><stop offset="1" stop-color="#ff0400"/></linearGradient>
<linearGradient id="mf63" gradientUnits="userSpaceOnUse" x1="2632.5" y1="455.2" x2="3343.3" y2="344.9"><stop offset="0" stop-color="#fff"/><stop offset="0.12" stop-color="#ff9697"/><stop offset="0.25" stop-color="#ff5e60"/><stop offset="0.4" stop-color="#ff393d"/><stop offset="0.55" stop-color="#ff2327"/><stop offset="0.7" stop-color="#ff1417"/><stop offset="0.85" stop-color="#ff080c"/><stop offset="1" stop-color="#ff0004"/></linearGradient>
<linearGradient id="mf64" gradientUnits="userSpaceOnUse" x1="2632.5" y1="455.2" x2="3316.6" y2="373.3"><stop offset="0" stop-color="#fff"/><stop offset="0.12" stop-color="#ff989d"/><stop offset="0.25" stop-color="#ff6068"/><stop offset="0.4" stop-color="#ff3b45"/><stop offset="0.55" stop-color="#ff242f"/><stop offset="0.7" stop-color="#ff1420"/><stop offset="0.85" stop-color="#ff0915"/><stop offset="1" stop-color="#ff000c"/></linearGradient>
<linearGradient id="mf65" gradientUnits="userSpaceOnUse" x1="2632.5" y1="455.2" x2="3292.0" y2="399.5"><stop offset="0" stop-color="#fff"/><stop offset="0.12" stop-color="#ff9aa2"/><stop offset="0.25" stop-color="#ff626f"/><stop offset="0.4" stop-color="#ff3d4c"/><stop offset="0.55" stop-color="#ff2537"/><stop offset="0.7" stop-color="#ff1528"/><stop offset="0.85" stop-color="#ff091d"/><stop offset="1" stop-color="#ff0015"/></linearGradient>
<linearGradient id="mf66" gradientUnits="userSpaceOnUse" x1="2632.5" y1="455.2" x2="3269.3" y2="423.7"><stop offset="0" stop-color="#fff"/><stop offset="0.12" stop-color="#ff9ca7"/><stop offset="0.25" stop-color="#ff6475"/><stop offset="0.4" stop-color="#ff3e54"/><stop offset="0.55" stop-color="#ff263e"/><stop offset="0.7" stop-color="#ff1530"/><stop offset="0.85" stop-color="#ff0925"/><stop offset="1" stop-color="#ff001d"/></linearGradient>
<linearGradient id="mf67" gradientUnits="userSpaceOnUse" x1="2632.5" y1="455.2" x2="3248.1" y2="446.1"><stop offset="0" stop-color="#fff"/><stop offset="0.12" stop-color="#ff9eac"/><stop offset="0.25" stop-color="#ff667c"/><stop offset="0.4" stop-color="#ff405b"/><stop offset="0.55" stop-color="#ff2746"/><stop offset="0.7" stop-color="#ff1637"/><stop offset="0.85" stop-color="#ff0a2d"/><stop offset="1" stop-color="#ff0025"/></linearGradient>
<linearGradient id="mf68" gradientUnits="userSpaceOnUse" x1="2632.5" y1="455.2" x2="3228.3" y2="467.2"><stop offset="0" stop-color="#fff"/><stop offset="0.12" stop-color="#ffa0b0"/><stop offset="0.25" stop-color="#ff6882"/><stop offset="0.4" stop-color="#ff4162"/><stop offset="0.55" stop-color="#ff284e"/><stop offset="0.7" stop-color="#ff173f"/><stop offset="0.85" stop-color="#ff0a35"/><stop offset="1" stop-color="#ff002c"/></linearGradient>
<linearGradient id="mf69" gradientUnits="userSpaceOnUse" x1="2632.5" y1="455.2" x2="3209.7" y2="486.9"><stop offset="0" stop-color="#fff"/><stop offset="0.12" stop-color="#ffa1b4"/><stop offset="0.25" stop-color="#ff6988"/><stop offset="0.4" stop-color="#ff4269"/><stop offset="0.55" stop-color="#ff2955"/><stop offset="0.7" stop-color="#ff1747"/><stop offset="0.85" stop-color="#ff0a3c"/><stop offset="1" stop-color="#ff0034"/></linearGradient>
<linearGradient id="mf70" gradientUnits="userSpaceOnUse" x1="2632.5" y1="455.2" x2="3192.2" y2="505.5"><stop offset="0" stop-color="#fff"/><stop offset="0.12" stop-color="#ffa3b9"/><stop offset="0.25" stop-color="#ff6b8e"/><stop offset="0.4" stop-color="#ff4470"/><stop offset="0.55" stop-color="#ff2a5c"/><stop offset="0.7" stop-color="#ff184e"/><stop offset="0.85" stop-color="#ff0a44"/><stop offset="1" stop-color="#ff003c"/></linearGradient>
<linearGradient id="mf71" gradientUnits="userSpaceOnUse" x1="2632.5" y1="455.2" x2="3175.6" y2="523.2"><stop offset="0" stop-color="#fff"/><stop offset="0.12" stop-color="#ffa4bd"/><stop offset="0.25" stop-color="#ff6d94"/><stop offset="0.4" stop-color="#ff4577"/><stop offset="0.55" stop-color="#ff2b63"/><stop offset="0.7" stop-color="#ff1856"/><stop offset="0.85" stop-color="#ff0b4c"/><stop offset="1" stop-color="#f04"/></linearGradient>
<linearGradient id="mf72" gradientUnits="userSpaceOnUse" x1="2632.5" y1="455.2" x2="3159.8" y2="539.9"><stop offset="0" stop-color="#fff"/><stop offset="0.12" stop-color="#ffa6c0"/><stop offset="0.25" stop-color="#ff6e99"/><stop offset="0.4" stop-color="#ff467d"/><stop offset="0.55" stop-color="#ff2c6b"/><stop offset="0.7" stop-color="#ff195d"/><stop offset="0.85" stop-color="#ff0b54"/><stop offset="1" stop-color="#ff004c"/></linearGradient>
<linearGradient id="mf73" gradientUnits="userSpaceOnUse" x1="2632.5" y1="455.2" x2="3144.8" y2="555.9"><stop offset="0" stop-color="#fff"/><stop offset="0.12" stop-color="#ffa7c4"/><stop offset="0.25" stop-color="#ff709f"/><stop offset="0.4" stop-color="#ff4884"/><stop offset="0.55" stop-color="#ff2d72"/><stop offset="0.7" stop-color="#ff1a65"/><stop offset="0.85" stop-color="#ff0b5b"/><stop offset="1" stop-color="#ff0054"/></linearGradient>
<linearGradient id="mf74" gradientUnits="userSpaceOnUse" x1="2632.5" y1="455.2" x2="3130.4" y2="571.2"><stop offset="0" stop-color="#fff"/><stop offset="0.12" stop-color="#ffa9c8"/><stop offset="0.25" stop-color="#ff72a4"/><stop offset="0.4" stop-color="#ff498a"/><stop offset="0.55" stop-color="#ff2e79"/><stop offset="0.7" stop-color="#ff1a6c"/><stop offset="0.85" stop-color="#ff0b63"/><stop offset="1" stop-color="#ff005c"/></linearGradient>
<linearGradient id="mf75" gradientUnits="userSpaceOnUse" x1="2632.5" y1="455.2" x2="3116.6" y2="585.9"><stop offset="0" stop-color="#fff"/><stop offset="0.12" stop-color="#ffaacb"/><stop offset="0.25" stop-color="#ff73aa"/><stop offset="0.4" stop-color="#ff4a91"/><stop offset="0.55" stop-color="#ff2f80"/><stop offset="0.7" stop-color="#ff1b74"/><stop offset="0.85" stop-color="#ff0c6b"/><stop offset="1" stop-color="#ff0064"/></linearGradient>
<linearGradient id="mf76" gradientUnits="userSpaceOnUse" x1="2632.5" y1="455.2" x2="3103.3" y2="600.1"><stop offset="0" stop-color="#fff"/><stop offset="0.12" stop-color="#ffaccf"/><stop offset="0.25" stop-color="#ff75af"/><stop offset="0.4" stop-color="#ff4c97"/><stop offset="0.55" stop-color="#ff3087"/><stop offset="0.7" stop-color="#ff1b7c"/><stop offset="0.85" stop-color="#ff0c73"/><stop offset="1" stop-color="#ff006c"/></linearGradient>
<linearGradient id="mf77" gradientUnits="userSpaceOnUse" x1="2632.5" y1="455.2" x2="3090.4" y2="613.7"><stop offset="0" stop-color="#fff"/><stop offset="0.12" stop-color="#ffadd2"/><stop offset="0.25" stop-color="#ff76b4"/><stop offset="0.4" stop-color="#ff4d9e"/><stop offset="0.55" stop-color="#ff318f"/><stop offset="0.7" stop-color="#ff1c83"/><stop offset="0.85" stop-color="#ff0c7b"/><stop offset="1" stop-color="#ff0074"/></linearGradient>
<linearGradient id="mf78" gradientUnits="userSpaceOnUse" x1="2632.5" y1="455.2" x2="3077.9" y2="627.0"><stop offset="0" stop-color="#fff"/><stop offset="0.12" stop-color="#ffaed6"/><stop offset="0.25" stop-color="#ff78ba"/><stop offset="0.4" stop-color="#ff4ea5"/><stop offset="0.55" stop-color="#ff3296"/><stop offset="0.7" stop-color="#ff1d8b"/><stop offset="0.85" stop-color="#ff0d83"/><stop offset="1" stop-color="#ff007d"/></linearGradient>
<linearGradient id="mf79" gradientUnits="userSpaceOnUse" x1="2632.5" y1="455.2" x2="3065.8" y2="639.9"><stop offset="0" stop-color="#fff"/><stop offset="0.12" stop-color="#ffb0d9"/><stop offset="0.25" stop-color="#ff79bf"/><stop offset="0.4" stop-color="#ff50ab"/><stop offset="0.55" stop-color="#ff339d"/><stop offset="0.7" stop-color="#ff1d93"/><stop offset="0.85" stop-color="#ff0d8b"/><stop offset="1" stop-color="#ff0085"/></linearGradient>
<linearGradient id="mf80" gradientUnits="userSpaceOnUse" x1="2632.5" y1="455.2" x2="3054.0" y2="652.5"><stop offset="0" stop-color="#fff"/><stop offset="0.12" stop-color="#ffb1dc"/><stop offset="0.25" stop-color="#ff7bc4"/><stop offset="0.4" stop-color="#ff51b2"/><stop offset="0.55" stop-color="#ff34a5"/><stop offset="0.7" stop-color="#ff1e9b"/><stop offset="0.85" stop-color="#ff0d94"/><stop offset="1" stop-color="#ff008e"/></linearGradient>
<linearGradient id="mf81" gradientUnits="userSpaceOnUse" x1="2632.5" y1="455.2" x2="3042.4" y2="664.7"><stop offset="0" stop-color="#fff"/><stop offset="0.12" stop-color="#ffb2e0"/><stop offset="0.25" stop-color="#ff7cca"/><stop offset="0.4" stop-color="#ff52b8"/><stop offset="0.55" stop-color="#ff35ac"/><stop offset="0.7" stop-color="#ff1fa3"/><stop offset="0.85" stop-color="#ff0e9c"/><stop offset="1" stop-color="#ff0097"/></linearGradient>
<linearGradient id="mf82" gradientUnits="userSpaceOnUse" x1="2632.5" y1="455.2" x2="3031.1" y2="676.8"><stop offset="0" stop-color="#fff"/><stop offset="0.12" stop-color="#ffb4e3"/><stop offset="0.25" stop-color="#ff7ecf"/><stop offset="0.4" stop-color="#ff54bf"/><stop offset="0.55" stop-color="#ff36b4"/><stop offset="0.7" stop-color="#ff1fac"/><stop offset="0.85" stop-color="#ff0ea5"/><stop offset="1" stop-color="#ff00a0"/></linearGradient>
<linearGradient id="mf83" gradientUnits="userSpaceOnUse" x1="2632.5" y1="455.2" x2="3020.0" y2="688.6"><stop offset="0" stop-color="#fff"/><stop offset="0.12" stop-color="#ffb5e6"/><stop offset="0.25" stop-color="#ff7fd4"/><stop offset="0.4" stop-color="#ff55c6"/><stop offset="0.55" stop-color="#ff37bc"/><stop offset="0.7" stop-color="#ff20b4"/><stop offset="0.85" stop-color="#ff0eae"/><stop offset="1" stop-color="#f0a"/></linearGradient>
<linearGradient id="mf84" gradientUnits="userSpaceOnUse" x1="2632.5" y1="455.2" x2="3009.0" y2="700.2"><stop offset="0" stop-color="#fff"/><stop offset="0.12" stop-color="#ffb6e9"/><stop offset="0.25" stop-color="#ff81da"/><stop offset="0.4" stop-color="#ff56cd"/><stop offset="0.55" stop-color="#ff38c4"/><stop offset="0.7" stop-color="#ff21bd"/><stop offset="0.85" stop-color="#ff0eb8"/><stop offset="1" stop-color="#ff00b3"/></linearGradient>
<linearGradient id="mf85" gradientUnits="userSpaceOnUse" x1="2632.5" y1="455.2" x2="2998.2" y2="711.8"><stop offset="0" stop-color="#fff"/><stop offset="0.12" stop-color="#ffb7ed"/><stop offset="0.25" stop-color="#ff83df"/><stop offset="0.4" stop-color="#ff58d4"/><stop offset="0.55" stop-color="#ff39cc"/><stop offset="0.7" stop-color="#ff21c6"/><stop offset="0.85" stop-color="#ff0fc1"/><stop offset="1" stop-color="#ff00be"/></linearGradient>
<linearGradient id="mf86" gradientUnits="userSpaceOnUse" x1="2632.5" y1="455.2" x2="2987.5" y2="723.1"><stop offset="0" stop-color="#fff"/><stop offset="0.12" stop-color="#ffb9f0"/><stop offset="0.25" stop-color="#ff84e5"/><stop offset="0.4" stop-color="#ff59db"/><stop offset="0.55" stop-color="#ff3ad5"/><stop offset="0.7" stop-color="#ff22d0"/><stop offset="0.85" stop-color="#ff0fcc"/><stop offset="1" stop-color="#ff00c8"/></linearGradient>
<linearGradient id="mf87" gradientUnits="userSpaceOnUse" x1="2632.5" y1="455.2" x2="2976.8" y2="734.4"><stop offset="0" stop-color="#fff"/><stop offset="0.12" stop-color="#ffbaf3"/><stop offset="0.25" stop-color="#ff86ea"/><stop offset="0.4" stop-color="#ff5be3"/><stop offset="0.55" stop-color="#ff3bdd"/><stop offset="0.7" stop-color="#ff23d9"/><stop offset="0.85" stop-color="#ff10d6"/><stop offset="1" stop-color="#ff00d3"/></linearGradient>
<linearGradient id="mf88" gradientUnits="userSpaceOnUse" x1="2632.5" y1="455.2" x2="2966.3" y2="745.7"><stop offset="0" stop-color="#fff"/><stop offset="0.12" stop-color="#ffbbf7"/><stop offset="0.25" stop-color="#ff87f0"/><stop offset="0.4" stop-color="#ff5ceb"/><stop offset="0.55" stop-color="#ff3ce7"/><stop offset="0.7" stop-color="#ff24e4"/><stop offset="0.85" stop-color="#ff10e1"/><stop offset="1" stop-color="#ff00df"/></linearGradient>
<linearGradient id="mf89" gradientUnits="userSpaceOnUse" x1="2632.5" y1="455.2" x2="2955.7" y2="756.9"><stop offset="0" stop-color="#fff"/><stop offset="0.12" stop-color="#ffbdfa"/><stop offset="0.25" stop-color="#ff89f6"/><stop offset="0.4" stop-color="#ff5ef3"/><stop offset="0.55" stop-color="#ff3df0"/><stop offset="0.7" stop-color="#ff24ee"/><stop offset="0.85" stop-color="#ff10ed"/><stop offset="1" stop-color="#ff00eb"/></linearGradient>
<linearGradient id="mf90" gradientUnits="userSpaceOnUse" x1="2632.5" y1="455.2" x2="2945.2" y2="768.1"><stop offset="0" stop-color="#fff"/><stop offset="0.12" stop-color="#ffbefd"/><stop offset="0.25" stop-color="#ff8bfc"/><stop offset="0.4" stop-color="#ff5ffb"/><stop offset="0.55" stop-color="#ff3ffa"/><stop offset="0.7" stop-color="#ff25f9"/><stop offset="0.85" stop-color="#ff11f9"/><stop offset="1" stop-color="#ff00f8"/></linearGradient>
<linearGradient id="mf91" gradientUnits="userSpaceOnUse" x1="2632.5" y1="455.2" x2="2934.7" y2="779.3"><stop offset="0" stop-color="#fff"/><stop offset="0.12" stop-color="#fdbeff"/><stop offset="0.25" stop-color="#fc8bff"/><stop offset="0.4" stop-color="#fb60ff"/><stop offset="0.55" stop-color="#fa3fff"/><stop offset="0.7" stop-color="#f925ff"/><stop offset="0.85" stop-color="#f911ff"/><stop offset="1" stop-color="#f800ff"/></linearGradient>
<linearGradient id="mf92" gradientUnits="userSpaceOnUse" x1="2632.5" y1="455.2" x2="2924.2" y2="790.4"><stop offset="0" stop-color="#fff"/><stop offset="0.12" stop-color="#fabdff"/><stop offset="0.25" stop-color="#f689ff"/><stop offset="0.4" stop-color="#f35eff"/><stop offset="0.55" stop-color="#f03eff"/><stop offset="0.7" stop-color="#ee25ff"/><stop offset="0.85" stop-color="#ed10ff"/><stop offset="1" stop-color="#eb00ff"/></linearGradient>
<linearGradient id="mf93" gradientUnits="userSpaceOnUse" x1="2632.5" y1="455.2" x2="2913.7" y2="801.6"><stop offset="0" stop-color="#fff"/><stop offset="0.12" stop-color="#f7bcff"/><stop offset="0.25" stop-color="#f088ff"/><stop offset="0.4" stop-color="#eb5dff"/><stop offset="0.55" stop-color="#e73dff"/><stop offset="0.7" stop-color="#e424ff"/><stop offset="0.85" stop-color="#e110ff"/><stop offset="1" stop-color="#df00ff"/></linearGradient>
<linearGradient id="mf94" gradientUnits="userSpaceOnUse" x1="2632.5" y1="455.2" x2="2903.0" y2="812.9"><stop offset="0" stop-color="#fff"/><stop offset="0.12" stop-color="#f3bbff"/><stop offset="0.25" stop-color="#ea86ff"/><stop offset="0.4" stop-color="#e35bff"/><stop offset="0.55" stop-color="#dd3bff"/><stop offset="0.7" stop-color="#d923ff"/><stop offset="0.85" stop-color="#d610ff"/><stop offset="1" stop-color="#d300ff"/></linearGradient>
<linearGradient id="mf95" gradientUnits="userSpaceOnUse" x1="2632.5" y1="455.2" x2="2892.3" y2="824.3"><stop offset="0" stop-color="#fff"/><stop offset="0.12" stop-color="#f0b9ff"/><stop offset="0.25" stop-color="#e485ff"/><stop offset="0.4" stop-color="#db5aff"/><stop offset="0.55" stop-color="#d43aff"/><stop offset="0.7" stop-color="#cf22ff"/><stop offset="0.85" stop-color="#cb0fff"/><stop offset="1" stop-color="#c800ff"/></linearGradient>
<linearGradient id="mf96" gradientUnits="userSpaceOnUse" x1="2632.5" y1="455.2" x2="2881.4" y2="835.9"><stop offset="0" stop-color="#fff"/><stop offset="0.12" stop-color="#edb8ff"/><stop offset="0.25" stop-color="#df83ff"/><stop offset="0.4" stop-color="#d459ff"/><stop offset="0.55" stop-color="#cb39ff"/><stop offset="0.7" stop-color="#c522ff"/><stop offset="0.85" stop-color="#c00fff"/><stop offset="1" stop-color="#bc00ff"/></linearGradient>
<linearGradient id="mf97" gradientUnits="userSpaceOnUse" x1="2632.5" y1="455.2" x2="2870.3" y2="847.7"><stop offset="0" stop-color="#fff"/><stop offset="0.12" stop-color="#e9b7ff"/><stop offset="0.25" stop-color="#d982ff"/><stop offset="0.4" stop-color="#cc57ff"/><stop offset="0.55" stop-color="#c338ff"/><stop offset="0.7" stop-color="#bc21ff"/><stop offset="0.85" stop-color="#b60fff"/><stop offset="1" stop-color="#b200ff"/></linearGradient>
<linearGradient id="mf98" gradientUnits="userSpaceOnUse" x1="2632.5" y1="455.2" x2="2859.0" y2="859.7"><stop offset="0" stop-color="#fff"/><stop offset="0.12" stop-color="#e6b6ff"/><stop offset="0.25" stop-color="#d381ff"/><stop offset="0.4" stop-color="#c556ff"/><stop offset="0.55" stop-color="#ba37ff"/><stop offset="0.7" stop-color="#b220ff"/><stop offset="0.85" stop-color="#ac0eff"/><stop offset="1" stop-color="#a700ff"/></linearGradient>
<linearGradient id="mf99" gradientUnits="userSpaceOnUse" x1="2632.5" y1="455.2" x2="2847.4" y2="872.0"><stop offset="0" stop-color="#fff"/><stop offset="0.12" stop-color="#e2b5ff"/><stop offset="0.25" stop-color="#ce7fff"/><stop offset="0.4" stop-color="#bd55ff"/><stop offset="0.55" stop-color="#b236ff"/><stop offset="0.7" stop-color="#a920ff"/><stop offset="0.85" stop-color="#a20eff"/><stop offset="1" stop-color="#9d00ff"/></linearGradient>
<linearGradient id="mf100" gradientUnits="userSpaceOnUse" x1="2632.5" y1="455.2" x2="2835.6" y2="884.6"><stop offset="0" stop-color="#fff"/><stop offset="0.12" stop-color="#dfb3ff"/><stop offset="0.25" stop-color="#c87eff"/><stop offset="0.4" stop-color="#b653ff"/><stop offset="0.55" stop-color="#a935ff"/><stop offset="0.7" stop-color="#a01fff"/><stop offset="0.85" stop-color="#990eff"/><stop offset="1" stop-color="#9300ff"/></linearGradient>
<linearGradient id="mf101" gradientUnits="userSpaceOnUse" x1="2632.5" y1="455.2" x2="2823.4" y2="897.5"><stop offset="0" stop-color="#fff"/><stop offset="0.12" stop-color="#dbb2ff"/><stop offset="0.25" stop-color="#c27cff"/><stop offset="0.4" stop-color="#af52ff"/><stop offset="0.55" stop-color="#a134ff"/><stop offset="0.7" stop-color="#971eff"/><stop offset="0.85" stop-color="#8f0dff"/><stop offset="1" stop-color="#8900ff"/></linearGradient>
<linearGradient id="mf102" gradientUnits="userSpaceOnUse" x1="2632.5" y1="455.2" x2="2810.9" y2="910.8"><stop offset="0" stop-color="#fff"/><stop offset="0.12" stop-color="#d8b1ff"/><stop offset="0.25" stop-color="#bd7bff"/><stop offset="0.4" stop-color="#a851ff"/><stop offset="0.55" stop-color="#93f"/><stop offset="0.7" stop-color="#8e1eff"/><stop offset="0.85" stop-color="#860dff"/><stop offset="1" stop-color="#7f00ff"/></linearGradient>
<linearGradient id="mf103" gradientUnits="userSpaceOnUse" x1="2632.5" y1="455.2" x2="2798.0" y2="924.5"><stop offset="0" stop-color="#fff"/><stop offset="0.12" stop-color="#d4b0ff"/><stop offset="0.25" stop-color="#b779ff"/><stop offset="0.4" stop-color="#a04fff"/><stop offset="0.55" stop-color="#9133ff"/><stop offset="0.7" stop-color="#851dff"/><stop offset="0.85" stop-color="#7d0dff"/><stop offset="1" stop-color="#7600ff"/></linearGradient>
<linearGradient id="mf104" gradientUnits="userSpaceOnUse" x1="2632.5" y1="455.2" x2="2784.6" y2="938.8"><stop offset="0" stop-color="#fff"/><stop offset="0.12" stop-color="#d1aeff"/><stop offset="0.25" stop-color="#b178ff"/><stop offset="0.4" stop-color="#994eff"/><stop offset="0.55" stop-color="#8932ff"/><stop offset="0.7" stop-color="#7d1dff"/><stop offset="0.85" stop-color="#730dff"/><stop offset="1" stop-color="#6c00ff"/></linearGradient>
<linearGradient id="mf105" gradientUnits="userSpaceOnUse" x1="2632.5" y1="455.2" x2="2770.6" y2="953.6"><stop offset="0" stop-color="#fff"/><stop offset="0.12" stop-color="#cdadff"/><stop offset="0.25" stop-color="#ab76ff"/><stop offset="0.4" stop-color="#924dff"/><stop offset="0.55" stop-color="#8131ff"/><stop offset="0.7" stop-color="#741cff"/><stop offset="0.85" stop-color="#6a0cff"/><stop offset="1" stop-color="#6300ff"/></linearGradient>
<linearGradient id="mf106" gradientUnits="userSpaceOnUse" x1="2632.5" y1="455.2" x2="2756.1" y2="969.0"><stop offset="0" stop-color="#fff"/><stop offset="0.12" stop-color="#c9acff"/><stop offset="0.25" stop-color="#a575ff"/><stop offset="0.4" stop-color="#8b4cff"/><stop offset="0.55" stop-color="#7830ff"/><stop offset="0.7" stop-color="#6b1bff"/><stop offset="0.85" stop-color="#610cff"/><stop offset="1" stop-color="#5a00ff"/></linearGradient>
<linearGradient id="mf107" gradientUnits="userSpaceOnUse" x1="2632.5" y1="455.2" x2="2740.9" y2="985.2"><stop offset="0" stop-color="#fff"/><stop offset="0.12" stop-color="#c5aaff"/><stop offset="0.25" stop-color="#9f73ff"/><stop offset="0.4" stop-color="#834aff"/><stop offset="0.55" stop-color="#702fff"/><stop offset="0.7" stop-color="#631bff"/><stop offset="0.85" stop-color="#580cff"/><stop offset="1" stop-color="#5000ff"/></linearGradient>
<linearGradient id="mf108" gradientUnits="userSpaceOnUse" x1="2632.5" y1="455.2" x2="2725.0" y2="1002.1"><stop offset="0" stop-color="#fff"/><stop offset="0.12" stop-color="#c1a9ff"/><stop offset="0.25" stop-color="#9971ff"/><stop offset="0.4" stop-color="#7c49ff"/><stop offset="0.55" stop-color="#682eff"/><stop offset="0.7" stop-color="#5a1aff"/><stop offset="0.85" stop-color="#4f0bff"/><stop offset="1" stop-color="#4700ff"/></linearGradient>
<linearGradient id="mf109" gradientUnits="userSpaceOnUse" x1="2632.5" y1="455.2" x2="2708.2" y2="1020.0"><stop offset="0" stop-color="#fff"/><stop offset="0.12" stop-color="#bda7ff"/><stop offset="0.25" stop-color="#9270ff"/><stop offset="0.4" stop-color="#7448ff"/><stop offset="0.55" stop-color="#602dff"/><stop offset="0.7" stop-color="#511aff"/><stop offset="0.85" stop-color="#460bff"/><stop offset="1" stop-color="#3e00ff"/></linearGradient>
<linearGradient id="mf110" gradientUnits="userSpaceOnUse" x1="2632.5" y1="455.2" x2="2690.4" y2="1038.9"><stop offset="0" stop-color="#fff"/><stop offset="0.12" stop-color="#b8a6ff"/><stop offset="0.25" stop-color="#8c6eff"/><stop offset="0.4" stop-color="#6c46ff"/><stop offset="0.55" stop-color="#572cff"/><stop offset="0.7" stop-color="#4819ff"/><stop offset="0.85" stop-color="#3d0bff"/><stop offset="1" stop-color="#3400ff"/></linearGradient>
<linearGradient id="mf111" gradientUnits="userSpaceOnUse" x1="2632.5" y1="455.2" x2="2671.6" y2="1058.9"><stop offset="0" stop-color="#fff"/><stop offset="0.12" stop-color="#b4a4ff"/><stop offset="0.25" stop-color="#856cff"/><stop offset="0.4" stop-color="#6445ff"/><stop offset="0.55" stop-color="#4f2bff"/><stop offset="0.7" stop-color="#3f18ff"/><stop offset="0.85" stop-color="#340bff"/><stop offset="1" stop-color="#2b00ff"/></linearGradient>
<linearGradient id="mf112" gradientUnits="userSpaceOnUse" x1="2632.5" y1="455.2" x2="2651.5" y2="1080.3"><stop offset="0" stop-color="#fff"/><stop offset="0.12" stop-color="#afa2ff"/><stop offset="0.25" stop-color="#7e6bff"/><stop offset="0.4" stop-color="#5c43ff"/><stop offset="0.55" stop-color="#462aff"/><stop offset="0.7" stop-color="#3618ff"/><stop offset="0.85" stop-color="#2b0aff"/><stop offset="1" stop-color="#20f"/></linearGradient>
<linearGradient id="mf113" gradientUnits="userSpaceOnUse" x1="2632.5" y1="455.2" x2="2629.9" y2="1103.1"><stop offset="0" stop-color="#fff"/><stop offset="0.12" stop-color="#aaa1ff"/><stop offset="0.25" stop-color="#7769ff"/><stop offset="0.4" stop-color="#5442ff"/><stop offset="0.55" stop-color="#3d29ff"/><stop offset="0.7" stop-color="#2d17ff"/><stop offset="0.85" stop-color="#210aff"/><stop offset="1" stop-color="#1800ff"/></linearGradient>
<linearGradient id="mf114" gradientUnits="userSpaceOnUse" x1="2632.5" y1="455.2" x2="2606.8" y2="1127.8"><stop offset="0" stop-color="#fff"/><stop offset="0.12" stop-color="#a49fff"/><stop offset="0.25" stop-color="#7067ff"/><stop offset="0.4" stop-color="#4b40ff"/><stop offset="0.55" stop-color="#3428ff"/><stop offset="0.7" stop-color="#2416ff"/><stop offset="0.85" stop-color="#180aff"/><stop offset="1" stop-color="#0f00ff"/></linearGradient>
<linearGradient id="mf115" gradientUnits="userSpaceOnUse" x1="2632.5" y1="455.2" x2="2581.7" y2="1154.4"><stop offset="0" stop-color="#fff"/><stop offset="0.12" stop-color="#9f9dff"/><stop offset="0.25" stop-color="#6865ff"/><stop offset="0.4" stop-color="#433fff"/><stop offset="0.55" stop-color="#2b27ff"/><stop offset="0.7" stop-color="#1a16ff"/><stop offset="0.85" stop-color="#0e09ff"/><stop offset="1" stop-color="#0500ff"/></linearGradient>
<linearGradient id="mf116" gradientUnits="userSpaceOnUse" x1="2632.5" y1="455.2" x2="2561.0" y2="1121.4"><stop offset="0" stop-color="#fff"/><stop offset="0.12" stop-color="#9fa1ff"/><stop offset="0.25" stop-color="#676aff"/><stop offset="0.4" stop-color="#4044ff"/><stop offset="0.55" stop-color="#282cff"/><stop offset="0.7" stop-color="#161bff"/><stop offset="0.85" stop-color="#0a0eff"/><stop offset="1" stop-color="#0005ff"/></linearGradient>
<linearGradient id="mf117" gradientUnits="userSpaceOnUse" x1="2632.5" y1="455.2" x2="2548.8" y2="1043.1"><stop offset="0" stop-color="#fff"/><stop offset="0.12" stop-color="#a4aaff"/><stop offset="0.25" stop-color="#6d75ff"/><stop offset="0.4" stop-color="#454fff"/><stop offset="0.55" stop-color="#2b37ff"/><stop offset="0.7" stop-color="#1825ff"/><stop offset="0.85" stop-color="#0b18ff"/><stop offset="1" stop-color="#000eff"/></linearGradient>
<linearGradient id="mf118" gradientUnits="userSpaceOnUse" x1="2632.5" y1="455.2" x2="2539.1" y2="980.7"><stop offset="0" stop-color="#fff"/><stop offset="0.12" stop-color="#a9b1ff"/><stop offset="0.25" stop-color="#727fff"/><stop offset="0.4" stop-color="#495aff"/><stop offset="0.55" stop-color="#2e41ff"/><stop offset="0.7" stop-color="#1a2fff"/><stop offset="0.85" stop-color="#0c22ff"/><stop offset="1" stop-color="#0017ff"/></linearGradient>
<linearGradient id="mf119" gradientUnits="userSpaceOnUse" x1="2632.5" y1="455.2" x2="2531.2" y2="929.8"><stop offset="0" stop-color="#fff"/><stop offset="0.12" stop-color="#adb7ff"/><stop offset="0.25" stop-color="#7687ff"/><stop offset="0.4" stop-color="#4d63ff"/><stop offset="0.55" stop-color="#314aff"/><stop offset="0.7" stop-color="#1c38ff"/><stop offset="0.85" stop-color="#0c2aff"/><stop offset="1" stop-color="#0020ff"/></linearGradient>
<linearGradient id="mf120" gradientUnits="userSpaceOnUse" x1="2632.5" y1="455.2" x2="2524.6" y2="887.2"><stop offset="0" stop-color="#fff"/><stop offset="0.12" stop-color="#b1bdff"/><stop offset="0.25" stop-color="#7a8fff"/><stop offset="0.4" stop-color="#506cff"/><stop offset="0.55" stop-color="#3353ff"/><stop offset="0.7" stop-color="#1e41ff"/><stop offset="0.85" stop-color="#0d33ff"/><stop offset="1" stop-color="#0028ff"/></linearGradient>
<linearGradient id="mf121" gradientUnits="userSpaceOnUse" x1="2632.5" y1="455.2" x2="2519.0" y2="851.1"><stop offset="0" stop-color="#fff"/><stop offset="0.12" stop-color="#b4c2ff"/><stop offset="0.25" stop-color="#7e96ff"/><stop offset="0.4" stop-color="#5474ff"/><stop offset="0.55" stop-color="#365bff"/><stop offset="0.7" stop-color="#1f49ff"/><stop offset="0.85" stop-color="#0e3bff"/><stop offset="1" stop-color="#0030ff"/></linearGradient>
<linearGradient id="mf122" gradientUnits="userSpaceOnUse" x1="2632.5" y1="455.2" x2="2514.1" y2="820.1"><stop offset="0" stop-color="#fff"/><stop offset="0.12" stop-color="#b6c6ff"/><stop offset="0.25" stop-color="#819cff"/><stop offset="0.4" stop-color="#577bff"/><stop offset="0.55" stop-color="#3863ff"/><stop offset="0.7" stop-color="#2151ff"/><stop offset="0.85" stop-color="#0f42ff"/><stop offset="1" stop-color="#0037ff"/></linearGradient>
<linearGradient id="mf123" gradientUnits="userSpaceOnUse" x1="2632.5" y1="455.2" x2="2509.9" y2="792.9"><stop offset="0" stop-color="#fff"/><stop offset="0.12" stop-color="#b9caff"/><stop offset="0.25" stop-color="#84a2ff"/><stop offset="0.4" stop-color="#5982ff"/><stop offset="0.55" stop-color="#3a6aff"/><stop offset="0.7" stop-color="#2258ff"/><stop offset="0.85" stop-color="#0f4aff"/><stop offset="1" stop-color="#003eff"/></linearGradient>
<linearGradient id="mf124" gradientUnits="userSpaceOnUse" x1="2632.5" y1="455.2" x2="2506.2" y2="769.0"><stop offset="0" stop-color="#fff"/><stop offset="0.12" stop-color="#bbcdff"/><stop offset="0.25" stop-color="#87a8ff"/><stop offset="0.4" stop-color="#5c88ff"/><stop offset="0.55" stop-color="#3c71ff"/><stop offset="0.7" stop-color="#235fff"/><stop offset="0.85" stop-color="#1051ff"/><stop offset="1" stop-color="#0045ff"/></linearGradient>
<linearGradient id="mf125" gradientUnits="userSpaceOnUse" x1="2632.5" y1="455.2" x2="2502.9" y2="747.7"><stop offset="0" stop-color="#fff"/><stop offset="0.12" stop-color="#bdd1ff"/><stop offset="0.25" stop-color="#8aadff"/><stop offset="0.4" stop-color="#5e8eff"/><stop offset="0.55" stop-color="#3e77ff"/><stop offset="0.7" stop-color="#2566ff"/><stop offset="0.85" stop-color="#1057ff"/><stop offset="1" stop-color="#004cff"/></linearGradient>
<linearGradient id="mf126" gradientUnits="userSpaceOnUse" x1="2632.5" y1="455.2" x2="2499.9" y2="728.6"><stop offset="0" stop-color="#fff"/><stop offset="0.12" stop-color="#bfd4ff"/><stop offset="0.25" stop-color="#8cb1ff"/><stop offset="0.4" stop-color="#6194ff"/><stop offset="0.55" stop-color="#407dff"/><stop offset="0.7" stop-color="#266cff"/><stop offset="0.85" stop-color="#115eff"/><stop offset="1" stop-color="#0052ff"/></linearGradient>
<linearGradient id="mf127" gradientUnits="userSpaceOnUse" x1="2632.5" y1="455.2" x2="2497.2" y2="711.3"><stop offset="0" stop-color="#fff"/><stop offset="0.12" stop-color="#c1d6ff"/><stop offset="0.25" stop-color="#8eb6ff"/><stop offset="0.4" stop-color="#6399ff"/><stop offset="0.55" stop-color="#4183ff"/><stop offset="0.7" stop-color="#2772ff"/><stop offset="0.85" stop-color="#1264ff"/><stop offset="1" stop-color="#0059ff"/></linearGradient>
<linearGradient id="mf128" gradientUnits="userSpaceOnUse" x1="2632.5" y1="455.2" x2="2494.8" y2="695.5"><stop offset="0" stop-color="#fff"/><stop offset="0.12" stop-color="#c2d9ff"/><stop offset="0.25" stop-color="#91baff"/><stop offset="0.4" stop-color="#659eff"/><stop offset="0.55" stop-color="#4389ff"/><stop offset="0.7" stop-color="#2878ff"/><stop offset="0.85" stop-color="#126aff"/><stop offset="1" stop-color="#005fff"/></linearGradient>
<linearGradient id="mf129" gradientUnits="userSpaceOnUse" x1="2632.5" y1="455.2" x2="2492.5" y2="681.0"><stop offset="0" stop-color="#fff"/><stop offset="0.12" stop-color="#c4dbff"/><stop offset="0.25" stop-color="#93beff"/><stop offset="0.4" stop-color="#67a3ff"/><stop offset="0.55" stop-color="#458fff"/><stop offset="0.7" stop-color="#297eff"/><stop offset="0.85" stop-color="#1370ff"/><stop offset="1" stop-color="#0065ff"/></linearGradient>
<linearGradient id="mf130" gradientUnits="userSpaceOnUse" x1="2632.5" y1="455.2" x2="2490.4" y2="667.6"><stop offset="0" stop-color="#fff"/><stop offset="0.12" stop-color="#c5ddff"/><stop offset="0.25" stop-color="#94c1ff"/><stop offset="0.4" stop-color="#69a8ff"/><stop offset="0.55" stop-color="#4694ff"/><stop offset="0.7" stop-color="#2a84ff"/><stop offset="0.85" stop-color="#1376ff"/><stop offset="1" stop-color="#006bff"/></linearGradient>
<linearGradient id="mf131" gradientUnits="userSpaceOnUse" x1="2632.5" y1="455.2" x2="2488.5" y2="655.2"><stop offset="0" stop-color="#fff"/><stop offset="0.12" stop-color="#c6dfff"/><stop offset="0.25" stop-color="#96c5ff"/><stop offset="0.4" stop-color="#6aacff"/><stop offset="0.55" stop-color="#4899ff"/><stop offset="0.7" stop-color="#2b89ff"/><stop offset="0.85" stop-color="#147cff"/><stop offset="1" stop-color="#0071ff"/></linearGradient>
<linearGradient id="mf132" gradientUnits="userSpaceOnUse" x1="2632.5" y1="455.2" x2="2486.7" y2="643.7"><stop offset="0" stop-color="#fff"/><stop offset="0.12" stop-color="#c8e1ff"/><stop offset="0.25" stop-color="#98c8ff"/><stop offset="0.4" stop-color="#6cb1ff"/><stop offset="0.55" stop-color="#499eff"/><stop offset="0.7" stop-color="#2c8fff"/><stop offset="0.85" stop-color="#1482ff"/><stop offset="1" stop-color="#07f"/></linearGradient>
<linearGradient id="mf133" gradientUnits="userSpaceOnUse" x1="2632.5" y1="455.2" x2="2485.0" y2="632.8"><stop offset="0" stop-color="#fff"/><stop offset="0.12" stop-color="#c9e3ff"/><stop offset="0.25" stop-color="#9acbff"/><stop offset="0.4" stop-color="#6eb5ff"/><stop offset="0.55" stop-color="#4ba3ff"/><stop offset="0.7" stop-color="#2d94ff"/><stop offset="0.85" stop-color="#1587ff"/><stop offset="1" stop-color="#007dff"/></linearGradient>
<linearGradient id="mf134" gradientUnits="userSpaceOnUse" x1="2632.5" y1="455.2" x2="2483.4" y2="622.7"><stop offset="0" stop-color="#fff"/><stop offset="0.12" stop-color="#cae5ff"/><stop offset="0.25" stop-color="#9bceff"/><stop offset="0.4" stop-color="#70b9ff"/><stop offset="0.55" stop-color="#4ca8ff"/><stop offset="0.7" stop-color="#2e99ff"/><stop offset="0.85" stop-color="#158dff"/><stop offset="1" stop-color="#0082ff"/></linearGradient>
<linearGradient id="mf135" gradientUnits="userSpaceOnUse" x1="2632.5" y1="455.2" x2="2481.9" y2="613.0"><stop offset="0" stop-color="#fff"/><stop offset="0.12" stop-color="#cbe7ff"/><stop offset="0.25" stop-color="#9dd1ff"/><stop offset="0.4" stop-color="#71bdff"/><stop offset="0.55" stop-color="#4dacff"/><stop offset="0.7" stop-color="#2f9eff"/><stop offset="0.85" stop-color="#1692ff"/><stop offset="1" stop-color="#08f"/></linearGradient>
<linearGradient id="mf136" gradientUnits="userSpaceOnUse" x1="2632.5" y1="455.2" x2="2480.5" y2="603.9"><stop offset="0" stop-color="#fff"/><stop offset="0.12" stop-color="#cce8ff"/><stop offset="0.25" stop-color="#9ed4ff"/><stop offset="0.4" stop-color="#73c1ff"/><stop offset="0.55" stop-color="#4fb1ff"/><stop offset="0.7" stop-color="#30a3ff"/><stop offset="0.85" stop-color="#1698ff"/><stop offset="1" stop-color="#008eff"/></linearGradient>
<linearGradient id="mf137" gradientUnits="userSpaceOnUse" x1="2632.5" y1="455.2" x2="2479.2" y2="595.2"><stop offset="0" stop-color="#fff"/><stop offset="0.12" stop-color="#cdeaff"/><stop offset="0.25" stop-color="#a0d7ff"/><stop offset="0.4" stop-color="#74c5ff"/><stop offset="0.55" stop-color="#50b5ff"/><stop offset="0.7" stop-color="#31a8ff"/><stop offset="0.85" stop-color="#179dff"/><stop offset="1" stop-color="#0094ff"/></linearGradient>
<linearGradient id="mf138" gradientUnits="userSpaceOnUse" x1="2632.5" y1="455.2" x2="2477.9" y2="586.9"><stop offset="0" stop-color="#fff"/><stop offset="0.12" stop-color="#ceebff"/><stop offset="0.25" stop-color="#a1daff"/><stop offset="0.4" stop-color="#76c8ff"/><stop offset="0.55" stop-color="#51baff"/><stop offset="0.7" stop-color="#32adff"/><stop offset="0.85" stop-color="#17a3ff"/><stop offset="1" stop-color="#09f"/></linearGradient>
<linearGradient id="mf139" gradientUnits="userSpaceOnUse" x1="2632.5" y1="455.2" x2="2476.6" y2="578.9"><stop offset="0" stop-color="#fff"/><stop offset="0.12" stop-color="#cfedff"/><stop offset="0.25" stop-color="#a2dcff"/><stop offset="0.4" stop-color="#7cf"/><stop offset="0.55" stop-color="#53beff"/><stop offset="0.7" stop-color="#33b2ff"/><stop offset="0.85" stop-color="#18a8ff"/><stop offset="1" stop-color="#009fff"/></linearGradient>
<linearGradient id="mf140" gradientUnits="userSpaceOnUse" x1="2632.5" y1="455.2" x2="2475.4" y2="571.3"><stop offset="0" stop-color="#fff"/><stop offset="0.12" stop-color="#d0eeff"/><stop offset="0.25" stop-color="#a4dfff"/><stop offset="0.4" stop-color="#79cfff"/><stop offset="0.55" stop-color="#54c2ff"/><stop offset="0.7" stop-color="#34b7ff"/><stop offset="0.85" stop-color="#18adff"/><stop offset="1" stop-color="#00a5ff"/></linearGradient>
<linearGradient id="mf141" gradientUnits="userSpaceOnUse" x1="2632.5" y1="455.2" x2="2474.3" y2="563.9"><stop offset="0" stop-color="#fff"/><stop offset="0.12" stop-color="#d1f0ff"/><stop offset="0.25" stop-color="#a5e1ff"/><stop offset="0.4" stop-color="#7ad3ff"/><stop offset="0.55" stop-color="#55c7ff"/><stop offset="0.7" stop-color="#35bcff"/><stop offset="0.85" stop-color="#19b3ff"/><stop offset="1" stop-color="#00abff"/></linearGradient>
<linearGradient id="mf142" gradientUnits="userSpaceOnUse" x1="2632.5" y1="455.2" x2="2473.2" y2="556.8"><stop offset="0" stop-color="#fff"/><stop offset="0.12" stop-color="#d1f1ff"/><stop offset="0.25" stop-color="#a6e4ff"/><stop offset="0.4" stop-color="#7bd6ff"/><stop offset="0.55" stop-color="#56cbff"/><stop offset="0.7" stop-color="#36c1ff"/><stop offset="0.85" stop-color="#19b8ff"/><stop offset="1" stop-color="#00b0ff"/></linearGradient>
<linearGradient id="mf143" gradientUnits="userSpaceOnUse" x1="2632.5" y1="455.2" x2="2472.1" y2="549.8"><stop offset="0" stop-color="#fff"/><stop offset="0.12" stop-color="#d2f2ff"/><stop offset="0.25" stop-color="#a8e6ff"/><stop offset="0.4" stop-color="#7ddaff"/><stop offset="0.55" stop-color="#58cfff"/><stop offset="0.7" stop-color="#37c6ff"/><stop offset="0.85" stop-color="#1abeff"/><stop offset="1" stop-color="#00b6ff"/></linearGradient>
<linearGradient id="mf144" gradientUnits="userSpaceOnUse" x1="2632.5" y1="455.2" x2="2471.1" y2="543.1"><stop offset="0" stop-color="#fff"/><stop offset="0.12" stop-color="#d3f4ff"/><stop offset="0.25" stop-color="#a9e9ff"/><stop offset="0.4" stop-color="#7eddff"/><stop offset="0.55" stop-color="#59d4ff"/><stop offset="0.7" stop-color="#38cbff"/><stop offset="0.85" stop-color="#1ac3ff"/><stop offset="1" stop-color="#00bcff"/></linearGradient>
<linearGradient id="mf145" gradientUnits="userSpaceOnUse" x1="2632.5" y1="455.2" x2="2470.0" y2="536.5"><stop offset="0" stop-color="#fff"/><stop offset="0.12" stop-color="#d4f5ff"/><stop offset="0.25" stop-color="#aaebff"/><stop offset="0.4" stop-color="#80e1ff"/><stop offset="0.55" stop-color="#5ad8ff"/><stop offset="0.7" stop-color="#39d0ff"/><stop offset="0.85" stop-color="#1bc9ff"/><stop offset="1" stop-color="#00c3ff"/></linearGradient>
<linearGradient id="mf146" gradientUnits="userSpaceOnUse" x1="2632.5" y1="455.2" x2="2469.0" y2="530.1"><stop offset="0" stop-color="#fff"/><stop offset="0.12" stop-color="#d5f6ff"/><stop offset="0.25" stop-color="#abedff"/><stop offset="0.4" stop-color="#81e4ff"/><stop offset="0.55" stop-color="#5bdcff"/><stop offset="0.7" stop-color="#3ad5ff"/><stop offset="0.85" stop-color="#1bcfff"/><stop offset="1" stop-color="#00c9ff"/></linearGradient>
<linearGradient id="mf147" gradientUnits="userSpaceOnUse" x1="2632.5" y1="455.2" x2="2468.1" y2="523.8"><stop offset="0" stop-color="#fff"/><stop offset="0.12" stop-color="#d5f7ff"/><stop offset="0.25" stop-color="#adf0ff"/><stop offset="0.4" stop-color="#82e8ff"/><stop offset="0.55" stop-color="#5de1ff"/><stop offset="0.7" stop-color="#3bdaff"/><stop offset="0.85" stop-color="#1cd5ff"/><stop offset="1" stop-color="#00cfff"/></linearGradient>
<linearGradient id="mf148" gradientUnits="userSpaceOnUse" x1="2632.5" y1="455.2" x2="2467.1" y2="517.6"><stop offset="0" stop-color="#fff"/><stop offset="0.12" stop-color="#d6f8ff"/><stop offset="0.25" stop-color="#aef2ff"/><stop offset="0.4" stop-color="#84ebff"/><stop offset="0.55" stop-color="#5ee5ff"/><stop offset="0.7" stop-color="#3ce0ff"/><stop offset="0.85" stop-color="#1ddbff"/><stop offset="1" stop-color="#00d6ff"/></linearGradient>
<linearGradient id="mf149" gradientUnits="userSpaceOnUse" x1="2632.5" y1="455.2" x2="2466.1" y2="511.5"><stop offset="0" stop-color="#fff"/><stop offset="0.12" stop-color="#d7faff"/><stop offset="0.25" stop-color="#aff4ff"/><stop offset="0.4" stop-color="#85efff"/><stop offset="0.55" stop-color="#5feaff"/><stop offset="0.7" stop-color="#3de5ff"/><stop offset="0.85" stop-color="#1de1ff"/><stop offset="1" stop-color="#0df"/></linearGradient>
<linearGradient id="mf150" gradientUnits="userSpaceOnUse" x1="2632.5" y1="455.2" x2="2465.2" y2="505.4"><stop offset="0" stop-color="#fff"/><stop offset="0.12" stop-color="#d8fbff"/><stop offset="0.25" stop-color="#b0f7ff"/><stop offset="0.4" stop-color="#87f2ff"/><stop offset="0.55" stop-color="#61eeff"/><stop offset="0.7" stop-color="#3eebff"/><stop offset="0.85" stop-color="#1ee7ff"/><stop offset="1" stop-color="#00e4ff"/></linearGradient>
<linearGradient id="mf151" gradientUnits="userSpaceOnUse" x1="2632.5" y1="455.2" x2="2464.3" y2="499.5"><stop offset="0" stop-color="#fff"/><stop offset="0.12" stop-color="#d8fcff"/><stop offset="0.25" stop-color="#b2f9ff"/><stop offset="0.4" stop-color="#88f6ff"/><stop offset="0.55" stop-color="#62f3ff"/><stop offset="0.7" stop-color="#3ff0ff"/><stop offset="0.85" stop-color="#1eeeff"/><stop offset="1" stop-color="#00ebff"/></linearGradient>
<linearGradient id="mf152" gradientUnits="userSpaceOnUse" x1="2632.5" y1="455.2" x2="2463.3" y2="493.5"><stop offset="0" stop-color="#fff"/><stop offset="0.12" stop-color="#d9fdff"/><stop offset="0.25" stop-color="#b3fbff"/><stop offset="0.4" stop-color="#8af9ff"/><stop offset="0.55" stop-color="#63f8ff"/><stop offset="0.7" stop-color="#40f6ff"/><stop offset="0.85" stop-color="#1ff4ff"/><stop offset="1" stop-color="#00f3ff"/></linearGradient>
<linearGradient id="mf153" gradientUnits="userSpaceOnUse" x1="2632.5" y1="455.2" x2="2462.4" y2="487.6"><stop offset="0" stop-color="#fff"/><stop offset="0.12" stop-color="#dafeff"/><stop offset="0.25" stop-color="#b4feff"/><stop offset="0.4" stop-color="#8bfdff"/><stop offset="0.55" stop-color="#65fdff"/><stop offset="0.7" stop-color="#41fcff"/><stop offset="0.85" stop-color="#20fbff"/><stop offset="1" stop-color="#00fbff"/></linearGradient>
<linearGradient id="mf154" gradientUnits="userSpaceOnUse" x1="2632.5" y1="455.2" x2="2461.5" y2="481.7"><stop offset="0" stop-color="#fff"/><stop offset="0.12" stop-color="#dafffe"/><stop offset="0.25" stop-color="#b4fffe"/><stop offset="0.4" stop-color="#8cfffd"/><stop offset="0.55" stop-color="#65fffc"/><stop offset="0.7" stop-color="#41fffc"/><stop offset="0.85" stop-color="#20fffb"/><stop offset="1" stop-color="#00fffb"/></linearGradient>
<linearGradient id="mf155" gradientUnits="userSpaceOnUse" x1="2632.5" y1="455.2" x2="2460.6" y2="475.7"><stop offset="0" stop-color="#fff"/><stop offset="0.12" stop-color="#dafffd"/><stop offset="0.25" stop-color="#b4fffb"/><stop offset="0.4" stop-color="#8bfff9"/><stop offset="0.55" stop-color="#65fff7"/><stop offset="0.7" stop-color="#41fff6"/><stop offset="0.85" stop-color="#20fff4"/><stop offset="1" stop-color="#00fff3"/></linearGradient>
<linearGradient id="mf156" gradientUnits="userSpaceOnUse" x1="2632.5" y1="455.2" x2="2459.6" y2="469.8"><stop offset="0" stop-color="#fff"/><stop offset="0.12" stop-color="#dafffc"/><stop offset="0.25" stop-color="#b3fff9"/><stop offset="0.4" stop-color="#8afff6"/><stop offset="0.55" stop-color="#64fff3"/><stop offset="0.7" stop-color="#41fff0"/><stop offset="0.85" stop-color="#1fffed"/><stop offset="1" stop-color="#00ffea"/></linearGradient>
<linearGradient id="mf157" gradientUnits="userSpaceOnUse" x1="2632.5" y1="455.2" x2="2458.7" y2="463.8"><stop offset="0" stop-color="#fff"/><stop offset="0.12" stop-color="#d9fffb"/><stop offset="0.25" stop-color="#b3fff6"/><stop offset="0.4" stop-color="#8afff2"/><stop offset="0.55" stop-color="#64ffee"/><stop offset="0.7" stop-color="#40ffea"/><stop offset="0.85" stop-color="#1fffe6"/><stop offset="1" stop-color="#00ffe2"/></linearGradient>
<linearGradient id="mf158" gradientUnits="userSpaceOnUse" x1="2632.5" y1="455.2" x2="2457.8" y2="457.7"><stop offset="0" stop-color="#fff"/><stop offset="0.12" stop-color="#d9fffa"/><stop offset="0.25" stop-color="#b3fff4"/><stop offset="0.4" stop-color="#89ffee"/><stop offset="0.55" stop-color="#63ffe9"/><stop offset="0.7" stop-color="#40ffe4"/><stop offset="0.85" stop-color="#1fffdf"/><stop offset="1" stop-color="#00ffda"/></linearGradient>
<linearGradient id="mf159" gradientUnits="userSpaceOnUse" x1="2632.5" y1="455.2" x2="2456.8" y2="451.6"><stop offset="0" stop-color="#fff"/><stop offset="0.12" stop-color="#d9fff8"/><stop offset="0.25" stop-color="#b2fff2"/><stop offset="0.4" stop-color="#89ffea"/><stop offset="0.55" stop-color="#63ffe4"/><stop offset="0.7" stop-color="#3fffde"/><stop offset="0.85" stop-color="#1fffd8"/><stop offset="1" stop-color="#00ffd3"/></linearGradient>
<linearGradient id="mf160" gradientUnits="userSpaceOnUse" x1="2632.5" y1="455.2" x2="2455.9" y2="445.4"><stop offset="0" stop-color="#fff"/><stop offset="0.12" stop-color="#d8fff7"/><stop offset="0.25" stop-color="#b2ffef"/><stop offset="0.4" stop-color="#88ffe7"/><stop offset="0.55" stop-color="#62ffdf"/><stop offset="0.7" stop-color="#3fffd8"/><stop offset="0.85" stop-color="#1effd1"/><stop offset="1" stop-color="#00ffcb"/></linearGradient>
<linearGradient id="mf161" gradientUnits="userSpaceOnUse" x1="2632.5" y1="455.2" x2="2454.9" y2="439.2"><stop offset="0" stop-color="#fff"/><stop offset="0.12" stop-color="#d8fff6"/><stop offset="0.25" stop-color="#b1ffed"/><stop offset="0.4" stop-color="#88ffe3"/><stop offset="0.55" stop-color="#62ffda"/><stop offset="0.7" stop-color="#3fffd2"/><stop offset="0.85" stop-color="#1effca"/><stop offset="1" stop-color="#00ffc3"/></linearGradient>
<linearGradient id="mf162" gradientUnits="userSpaceOnUse" x1="2632.5" y1="455.2" x2="2453.9" y2="432.8"><stop offset="0" stop-color="#fff"/><stop offset="0.12" stop-color="#d8fff5"/><stop offset="0.25" stop-color="#b1ffea"/><stop offset="0.4" stop-color="#87ffdf"/><stop offset="0.55" stop-color="#61ffd5"/><stop offset="0.7" stop-color="#3effcc"/><stop offset="0.85" stop-color="#1effc3"/><stop offset="1" stop-color="#0fb"/></linearGradient>
<linearGradient id="mf163" gradientUnits="userSpaceOnUse" x1="2632.5" y1="455.2" x2="2452.9" y2="426.3"><stop offset="0" stop-color="#fff"/><stop offset="0.12" stop-color="#d8fff3"/><stop offset="0.25" stop-color="#b0ffe8"/><stop offset="0.4" stop-color="#87ffdb"/><stop offset="0.55" stop-color="#61ffd0"/><stop offset="0.7" stop-color="#3effc6"/><stop offset="0.85" stop-color="#1effbc"/><stop offset="1" stop-color="#00ffb3"/></linearGradient>
<linearGradient id="mf164" gradientUnits="userSpaceOnUse" x1="2632.5" y1="455.2" x2="2451.8" y2="419.6"><stop offset="0" stop-color="#fff"/><stop offset="0.12" stop-color="#d7fff2"/><stop offset="0.25" stop-color="#b0ffe5"/><stop offset="0.4" stop-color="#86ffd7"/><stop offset="0.55" stop-color="#60ffcb"/><stop offset="0.7" stop-color="#3dffbf"/><stop offset="0.85" stop-color="#1dffb5"/><stop offset="1" stop-color="#00ffab"/></linearGradient>
<linearGradient id="mf165" gradientUnits="userSpaceOnUse" x1="2632.5" y1="455.2" x2="2450.8" y2="412.8"><stop offset="0" stop-color="#fff"/><stop offset="0.12" stop-color="#d7fff1"/><stop offset="0.25" stop-color="#afffe2"/><stop offset="0.4" stop-color="#86ffd3"/><stop offset="0.55" stop-color="#60ffc6"/><stop offset="0.7" stop-color="#3dffb9"/><stop offset="0.85" stop-color="#1dffae"/><stop offset="1" stop-color="#00ffa3"/></linearGradient>
<linearGradient id="mf166" gradientUnits="userSpaceOnUse" x1="2632.5" y1="455.2" x2="2449.7" y2="405.8"><stop offset="0" stop-color="#fff"/><stop offset="0.12" stop-color="#d7ffef"/><stop offset="0.25" stop-color="#afffe0"/><stop offset="0.4" stop-color="#85ffcf"/><stop offset="0.55" stop-color="#5fffc0"/><stop offset="0.7" stop-color="#3dffb3"/><stop offset="0.85" stop-color="#1dffa7"/><stop offset="1" stop-color="#00ff9b"/></linearGradient>
<linearGradient id="mf167" gradientUnits="userSpaceOnUse" x1="2632.5" y1="455.2" x2="2448.6" y2="398.5"><stop offset="0" stop-color="#fff"/><stop offset="0.12" stop-color="#d6ffee"/><stop offset="0.25" stop-color="#aeffdd"/><stop offset="0.4" stop-color="#84ffcb"/><stop offset="0.55" stop-color="#5effbb"/><stop offset="0.7" stop-color="#3cffad"/><stop offset="0.85" stop-color="#1dff9f"/><stop offset="1" stop-color="#00ff93"/></linearGradient>
<linearGradient id="mf168" gradientUnits="userSpaceOnUse" x1="2632.5" y1="455.2" x2="2447.4" y2="391.0"><stop offset="0" stop-color="#fff"/><stop offset="0.12" stop-color="#d6ffec"/><stop offset="0.25" stop-color="#aeffda"/><stop offset="0.4" stop-color="#84ffc7"/><stop offset="0.55" stop-color="#5effb6"/><stop offset="0.7" stop-color="#3cffa6"/><stop offset="0.85" stop-color="#1cff98"/><stop offset="1" stop-color="#00ff8b"/></linearGradient>
<linearGradient id="mf169" gradientUnits="userSpaceOnUse" x1="2632.5" y1="455.2" x2="2446.2" y2="383.3"><stop offset="0" stop-color="#fff"/><stop offset="0.12" stop-color="#d6ffeb"/><stop offset="0.25" stop-color="#adffd7"/><stop offset="0.4" stop-color="#83ffc2"/><stop offset="0.55" stop-color="#5dffb0"/><stop offset="0.7" stop-color="#3bff9f"/><stop offset="0.85" stop-color="#1cff90"/><stop offset="1" stop-color="#00ff83"/></linearGradient>
<linearGradient id="mf170" gradientUnits="userSpaceOnUse" x1="2632.5" y1="455.2" x2="2444.9" y2="375.2"><stop offset="0" stop-color="#fff"/><stop offset="0.12" stop-color="#d5ffe9"/><stop offset="0.25" stop-color="#adffd4"/><stop offset="0.4" stop-color="#82ffbe"/><stop offset="0.55" stop-color="#5dffaa"/><stop offset="0.7" stop-color="#3bff99"/><stop offset="0.85" stop-color="#1cff89"/><stop offset="1" stop-color="#00ff7a"/></linearGradient>
<linearGradient id="mf171" gradientUnits="userSpaceOnUse" x1="2632.5" y1="455.2" x2="2443.6" y2="366.7"><stop offset="0" stop-color="#fff"/><stop offset="0.12" stop-color="#d5ffe8"/><stop offset="0.25" stop-color="#acffd1"/><stop offset="0.4" stop-color="#82ffb9"/><stop offset="0.55" stop-color="#5cffa4"/><stop offset="0.7" stop-color="#3aff92"/><stop offset="0.85" stop-color="#1cff81"/><stop offset="1" stop-color="#00ff71"/></linearGradient>
<linearGradient id="mf172" gradientUnits="userSpaceOnUse" x1="2632.5" y1="455.2" x2="2442.2" y2="357.9"><stop offset="0" stop-color="#fff"/><stop offset="0.12" stop-color="#d5ffe6"/><stop offset="0.25" stop-color="#abffce"/><stop offset="0.4" stop-color="#81ffb5"/><stop offset="0.55" stop-color="#5bff9e"/><stop offset="0.7" stop-color="#3aff8a"/><stop offset="0.85" stop-color="#1bff78"/><stop offset="1" stop-color="#00ff68"/></linearGradient>
<linearGradient id="mf173" gradientUnits="userSpaceOnUse" x1="2632.5" y1="455.2" x2="2440.8" y2="348.5"><stop offset="0" stop-color="#fff"/><stop offset="0.12" stop-color="#d4ffe4"/><stop offset="0.25" stop-color="#abffca"/><stop offset="0.4" stop-color="#80ffaf"/><stop offset="0.55" stop-color="#5bff98"/><stop offset="0.7" stop-color="#39ff83"/><stop offset="0.85" stop-color="#1bff70"/><stop offset="1" stop-color="#00ff5f"/></linearGradient>
<linearGradient id="mf174" gradientUnits="userSpaceOnUse" x1="2632.5" y1="455.2" x2="2439.3" y2="338.7"><stop offset="0" stop-color="#fff"/><stop offset="0.12" stop-color="#d4ffe2"/><stop offset="0.25" stop-color="#aaffc7"/><stop offset="0.4" stop-color="#80ffaa"/><stop offset="0.55" stop-color="#5aff91"/><stop offset="0.7" stop-color="#39ff7b"/><stop offset="0.85" stop-color="#1bff67"/><stop offset="1" stop-color="#00ff56"/></linearGradient>
<linearGradient id="mf175" gradientUnits="userSpaceOnUse" x1="2632.5" y1="455.2" x2="2437.6" y2="328.3"><stop offset="0" stop-color="#fff"/><stop offset="0.12" stop-color="#d3ffe0"/><stop offset="0.25" stop-color="#a9ffc3"/><stop offset="0.4" stop-color="#7fffa5"/><stop offset="0.55" stop-color="#59ff8a"/><stop offset="0.7" stop-color="#38ff73"/><stop offset="0.85" stop-color="#1bff5e"/><stop offset="1" stop-color="#00ff4c"/></linearGradient>
<linearGradient id="mf176" gradientUnits="userSpaceOnUse" x1="2632.5" y1="455.2" x2="2435.9" y2="317.2"><stop offset="0" stop-color="#fff"/><stop offset="0.12" stop-color="#d3ffde"/><stop offset="0.25" stop-color="#a9ffbf"/><stop offset="0.4" stop-color="#7eff9f"/><stop offset="0.55" stop-color="#59ff83"/><stop offset="0.7" stop-color="#38ff6b"/><stop offset="0.85" stop-color="#1aff55"/><stop offset="1" stop-color="#00ff41"/></linearGradient>
<linearGradient id="mf177" gradientUnits="userSpaceOnUse" x1="2632.5" y1="455.2" x2="2434.1" y2="305.3"><stop offset="0" stop-color="#fff"/><stop offset="0.12" stop-color="#d2ffdc"/><stop offset="0.25" stop-color="#a8ffbb"/><stop offset="0.4" stop-color="#7dff99"/><stop offset="0.55" stop-color="#58ff7c"/><stop offset="0.7" stop-color="#37ff62"/><stop offset="0.85" stop-color="#1aff4b"/><stop offset="1" stop-color="#00ff37"/></linearGradient>
<linearGradient id="mf178" gradientUnits="userSpaceOnUse" x1="2632.5" y1="455.2" x2="2432.1" y2="292.6"><stop offset="0" stop-color="#fff"/><stop offset="0.12" stop-color="#d2ffd9"/><stop offset="0.25" stop-color="#a7ffb6"/><stop offset="0.4" stop-color="#7cff92"/><stop offset="0.55" stop-color="#57ff74"/><stop offset="0.7" stop-color="#36ff59"/><stop offset="0.85" stop-color="#1aff41"/><stop offset="1" stop-color="#00ff2c"/></linearGradient>
<linearGradient id="mf179" gradientUnits="userSpaceOnUse" x1="2632.5" y1="455.2" x2="2429.9" y2="278.8"><stop offset="0" stop-color="#fff"/><stop offset="0.12" stop-color="#d1ffd7"/><stop offset="0.25" stop-color="#a6ffb1"/><stop offset="0.4" stop-color="#7bff8c"/><stop offset="0.55" stop-color="#56ff6b"/><stop offset="0.7" stop-color="#36ff4f"/><stop offset="0.85" stop-color="#19ff36"/><stop offset="1" stop-color="#00ff20"/></linearGradient>
<linearGradient id="mf180" gradientUnits="userSpaceOnUse" x1="2632.5" y1="455.2" x2="2427.6" y2="263.8"><stop offset="0" stop-color="#fff"/><stop offset="0.12" stop-color="#d1ffd4"/><stop offset="0.25" stop-color="#a5ffac"/><stop offset="0.4" stop-color="#7aff84"/><stop offset="0.55" stop-color="#55ff62"/><stop offset="0.7" stop-color="#35ff45"/><stop offset="0.85" stop-color="#19ff2b"/><stop offset="1" stop-color="#00ff14"/></linearGradient>
<linearGradient id="mf181" gradientUnits="userSpaceOnUse" x1="2632.5" y1="455.2" x2="2425.1" y2="247.5"><stop offset="0" stop-color="#fff"/><stop offset="0.12" stop-color="#d0ffd1"/><stop offset="0.25" stop-color="#a4ffa6"/><stop offset="0.4" stop-color="#79ff7c"/><stop offset="0.55" stop-color="#54ff59"/><stop offset="0.7" stop-color="#34ff3a"/><stop offset="0.85" stop-color="#18ff1f"/><stop offset="1" stop-color="#00ff07"/></linearGradient>
<radialGradient id="mw" gradientUnits="userSpaceOnUse" cx="2632.5" cy="455.2" r="16"><stop offset="0" stop-color="#fff"/><stop offset=".3" stop-color="#fff" stop-opacity=".9"/><stop offset="1" stop-color="#fff" stop-opacity="0"/></radialGradient>
<clipPath id="mtri"><path d="M3357.6 329.7L2423.7 238.7L2568.3 1168.6z"/></clipPath>
<linearGradient id="if0" gradientUnits="userSpaceOnUse" x1="1466.0" y1="1286.0" x2="1403.9" y2="158.4"><stop offset="0" stop-color="#fff"/><stop offset="0.2" stop-color="#9eff9c"/><stop offset="0.45" stop-color="#56ff53"/><stop offset="0.7" stop-color="#28ff25"/><stop offset="1" stop-color="#04ff00"/></linearGradient>
<linearGradient id="if1" gradientUnits="userSpaceOnUse" x1="1466.0" y1="1286.0" x2="1435.4" y2="175.4"><stop offset="0" stop-color="#fff"/><stop offset="0.2" stop-color="#a1ff9d"/><stop offset="0.45" stop-color="#5bff54"/><stop offset="0.7" stop-color="#2fff25"/><stop offset="1" stop-color="#0bff00"/></linearGradient>
<linearGradient id="if2" gradientUnits="userSpaceOnUse" x1="1466.0" y1="1286.0" x2="1465.8" y2="191.9"><stop offset="0" stop-color="#fff"/><stop offset="0.2" stop-color="#a5ff9e"/><stop offset="0.45" stop-color="#61ff55"/><stop offset="0.7" stop-color="#35ff26"/><stop offset="1" stop-color="#12ff00"/></linearGradient>
<linearGradient id="if3" gradientUnits="userSpaceOnUse" x1="1466.0" y1="1286.0" x2="1495.4" y2="207.9"><stop offset="0" stop-color="#fff"/><stop offset="0.2" stop-color="#a9ff9f"/><stop offset="0.45" stop-color="#67ff56"/><stop offset="0.7" stop-color="#3cff26"/><stop offset="1" stop-color="#1aff00"/></linearGradient>
<linearGradient id="if4" gradientUnits="userSpaceOnUse" x1="1466.0" y1="1286.0" x2="1524.1" y2="223.4"><stop offset="0" stop-color="#fff"/><stop offset="0.2" stop-color="#acffa0"/><stop offset="0.45" stop-color="#6cff56"/><stop offset="0.7" stop-color="#43ff27"/><stop offset="1" stop-color="#21ff00"/></linearGradient>
<linearGradient id="if5" gradientUnits="userSpaceOnUse" x1="1466.0" y1="1286.0" x2="1552.1" y2="238.6"><stop offset="0" stop-color="#fff"/><stop offset="0.2" stop-color="#b0ffa1"/><stop offset="0.45" stop-color="#72ff57"/><stop offset="0.7" stop-color="#49ff27"/><stop offset="1" stop-color="#28ff00"/></linearGradient>
<linearGradient id="if6" gradientUnits="userSpaceOnUse" x1="1466.0" y1="1286.0" x2="1579.5" y2="253.4"><stop offset="0" stop-color="#fff"/><stop offset="0.2" stop-color="#b3ffa1"/><stop offset="0.45" stop-color="#77ff58"/><stop offset="0.7" stop-color="#50ff28"/><stop offset="1" stop-color="#30ff00"/></linearGradient>
<linearGradient id="if7" gradientUnits="userSpaceOnUse" x1="1466.0" y1="1286.0" x2="1606.2" y2="267.8"><stop offset="0" stop-color="#fff"/><stop offset="0.2" stop-color="#b6ffa2"/><stop offset="0.45" stop-color="#7dff59"/><stop offset="0.7" stop-color="#57ff28"/><stop offset="1" stop-color="#37ff00"/></linearGradient>
<linearGradient id="if8" gradientUnits="userSpaceOnUse" x1="1466.0" y1="1286.0" x2="1632.4" y2="282.0"><stop offset="0" stop-color="#fff"/><stop offset="0.2" stop-color="#baffa3"/><stop offset="0.45" stop-color="#82ff5a"/><stop offset="0.7" stop-color="#5dff29"/><stop offset="1" stop-color="#3eff00"/></linearGradient>
<linearGradient id="if9" gradientUnits="userSpaceOnUse" x1="1466.0" y1="1286.0" x2="1658.2" y2="295.9"><stop offset="0" stop-color="#fff"/><stop offset="0.2" stop-color="#bdffa4"/><stop offset="0.45" stop-color="#88ff5b"/><stop offset="0.7" stop-color="#64ff29"/><stop offset="1" stop-color="#46ff00"/></linearGradient>
<linearGradient id="if10" gradientUnits="userSpaceOnUse" x1="1466.0" y1="1286.0" x2="1683.4" y2="309.6"><stop offset="0" stop-color="#fff"/><stop offset="0.2" stop-color="#c0ffa5"/><stop offset="0.45" stop-color="#8dff5b"/><stop offset="0.7" stop-color="#6bff2a"/><stop offset="1" stop-color="#4eff00"/></linearGradient>
<linearGradient id="if11" gradientUnits="userSpaceOnUse" x1="1466.0" y1="1286.0" x2="1708.3" y2="323.0"><stop offset="0" stop-color="#fff"/><stop offset="0.2" stop-color="#c3ffa6"/><stop offset="0.45" stop-color="#93ff5c"/><stop offset="0.7" stop-color="#71ff2a"/><stop offset="1" stop-color="#5f0"/></linearGradient>
<linearGradient id="if12" gradientUnits="userSpaceOnUse" x1="1466.0" y1="1286.0" x2="1732.9" y2="336.3"><stop offset="0" stop-color="#fff"/><stop offset="0.2" stop-color="#c7ffa6"/><stop offset="0.45" stop-color="#98ff5d"/><stop offset="0.7" stop-color="#78ff2b"/><stop offset="1" stop-color="#5dff00"/></linearGradient>
<linearGradient id="if13" gradientUnits="userSpaceOnUse" x1="1466.0" y1="1286.0" x2="1757.1" y2="349.4"><stop offset="0" stop-color="#fff"/><stop offset="0.2" stop-color="#caffa7"/><stop offset="0.45" stop-color="#9eff5e"/><stop offset="0.7" stop-color="#7fff2b"/><stop offset="1" stop-color="#65ff00"/></linearGradient>
<linearGradient id="if14" gradientUnits="userSpaceOnUse" x1="1466.0" y1="1286.0" x2="1781.1" y2="362.4"><stop offset="0" stop-color="#fff"/><stop offset="0.2" stop-color="#cdffa8"/><stop offset="0.45" stop-color="#a3ff5f"/><stop offset="0.7" stop-color="#86ff2c"/><stop offset="1" stop-color="#6dff00"/></linearGradient>
<linearGradient id="if15" gradientUnits="userSpaceOnUse" x1="1466.0" y1="1286.0" x2="1804.8" y2="375.2"><stop offset="0" stop-color="#fff"/><stop offset="0.2" stop-color="#d0ffa9"/><stop offset="0.45" stop-color="#a9ff5f"/><stop offset="0.7" stop-color="#8dff2c"/><stop offset="1" stop-color="#75ff00"/></linearGradient>
<linearGradient id="if16" gradientUnits="userSpaceOnUse" x1="1466.0" y1="1286.0" x2="1828.4" y2="388.0"><stop offset="0" stop-color="#fff"/><stop offset="0.2" stop-color="#d4ffaa"/><stop offset="0.45" stop-color="#afff60"/><stop offset="0.7" stop-color="#94ff2d"/><stop offset="1" stop-color="#7eff00"/></linearGradient>
<linearGradient id="if17" gradientUnits="userSpaceOnUse" x1="1466.0" y1="1286.0" x2="1851.8" y2="400.7"><stop offset="0" stop-color="#fff"/><stop offset="0.2" stop-color="#d7ffaa"/><stop offset="0.45" stop-color="#b4ff61"/><stop offset="0.7" stop-color="#9cff2d"/><stop offset="1" stop-color="#86ff00"/></linearGradient>
<linearGradient id="if18" gradientUnits="userSpaceOnUse" x1="1466.0" y1="1286.0" x2="1875.2" y2="413.3"><stop offset="0" stop-color="#fff"/><stop offset="0.2" stop-color="#daffab"/><stop offset="0.45" stop-color="#baff62"/><stop offset="0.7" stop-color="#a3ff2e"/><stop offset="1" stop-color="#8fff00"/></linearGradient>
<linearGradient id="if19" gradientUnits="userSpaceOnUse" x1="1466.0" y1="1286.0" x2="1898.4" y2="425.8"><stop offset="0" stop-color="#fff"/><stop offset="0.2" stop-color="#deffac"/><stop offset="0.45" stop-color="#c0ff63"/><stop offset="0.7" stop-color="#abff2e"/><stop offset="1" stop-color="#98ff00"/></linearGradient>
<linearGradient id="if20" gradientUnits="userSpaceOnUse" x1="1466.0" y1="1286.0" x2="1921.6" y2="438.4"><stop offset="0" stop-color="#fff"/><stop offset="0.2" stop-color="#e1ffad"/><stop offset="0.45" stop-color="#c6ff64"/><stop offset="0.7" stop-color="#b3ff2f"/><stop offset="1" stop-color="#a1ff00"/></linearGradient>
<linearGradient id="if21" gradientUnits="userSpaceOnUse" x1="1466.0" y1="1286.0" x2="1944.8" y2="450.9"><stop offset="0" stop-color="#fff"/><stop offset="0.2" stop-color="#e4ffae"/><stop offset="0.45" stop-color="#ccff65"/><stop offset="0.7" stop-color="#bbff30"/><stop offset="1" stop-color="#abff00"/></linearGradient>
<linearGradient id="if22" gradientUnits="userSpaceOnUse" x1="1466.0" y1="1286.0" x2="1968.1" y2="463.5"><stop offset="0" stop-color="#fff"/><stop offset="0.2" stop-color="#e8ffaf"/><stop offset="0.45" stop-color="#d2ff66"/><stop offset="0.7" stop-color="#c3ff30"/><stop offset="1" stop-color="#b5ff00"/></linearGradient>
<linearGradient id="if23" gradientUnits="userSpaceOnUse" x1="1466.0" y1="1286.0" x2="1991.4" y2="476.1"><stop offset="0" stop-color="#fff"/><stop offset="0.2" stop-color="#ebffaf"/><stop offset="0.45" stop-color="#d9ff67"/><stop offset="0.7" stop-color="#cbff31"/><stop offset="1" stop-color="#bfff00"/></linearGradient>
<linearGradient id="if24" gradientUnits="userSpaceOnUse" x1="1466.0" y1="1286.0" x2="2014.8" y2="488.8"><stop offset="0" stop-color="#fff"/><stop offset="0.2" stop-color="#efffb0"/><stop offset="0.45" stop-color="#dfff68"/><stop offset="0.7" stop-color="#d4ff31"/><stop offset="1" stop-color="#caff00"/></linearGradient>
<linearGradient id="if25" gradientUnits="userSpaceOnUse" x1="1466.0" y1="1286.0" x2="2038.3" y2="501.5"><stop offset="0" stop-color="#fff"/><stop offset="0.2" stop-color="#f2ffb1"/><stop offset="0.45" stop-color="#e6ff69"/><stop offset="0.7" stop-color="#ddff32"/><stop offset="1" stop-color="#d5ff00"/></linearGradient>
<linearGradient id="if26" gradientUnits="userSpaceOnUse" x1="1466.0" y1="1286.0" x2="2062.0" y2="514.3"><stop offset="0" stop-color="#fff"/><stop offset="0.2" stop-color="#f6ffb2"/><stop offset="0.45" stop-color="#edff6a"/><stop offset="0.7" stop-color="#e6ff33"/><stop offset="1" stop-color="#e0ff00"/></linearGradient>
<linearGradient id="if27" gradientUnits="userSpaceOnUse" x1="1466.0" y1="1286.0" x2="2086.0" y2="527.3"><stop offset="0" stop-color="#fff"/><stop offset="0.2" stop-color="#f9ffb3"/><stop offset="0.45" stop-color="#f4ff6b"/><stop offset="0.7" stop-color="#f0ff33"/><stop offset="1" stop-color="#ecff00"/></linearGradient>
<linearGradient id="if28" gradientUnits="userSpaceOnUse" x1="1466.0" y1="1286.0" x2="2110.2" y2="540.4"><stop offset="0" stop-color="#fff"/><stop offset="0.2" stop-color="#fdffb4"/><stop offset="0.45" stop-color="#fbff6c"/><stop offset="0.7" stop-color="#faff34"/><stop offset="1" stop-color="#f9ff00"/></linearGradient>
<linearGradient id="if29" gradientUnits="userSpaceOnUse" x1="1466.0" y1="1286.0" x2="2134.5" y2="553.5"><stop offset="0" stop-color="#fff"/><stop offset="0.2" stop-color="#fffdb3"/><stop offset="0.45" stop-color="#fffb6b"/><stop offset="0.7" stop-color="#fffa34"/><stop offset="1" stop-color="#fff900"/></linearGradient>
<linearGradient id="if30" gradientUnits="userSpaceOnUse" x1="1466.0" y1="1286.0" x2="2159.2" y2="566.8"><stop offset="0" stop-color="#fff"/><stop offset="0.2" stop-color="#fff9b2"/><stop offset="0.45" stop-color="#fff469"/><stop offset="0.7" stop-color="#fff032"/><stop offset="1" stop-color="#ffec00"/></linearGradient>
<linearGradient id="if31" gradientUnits="userSpaceOnUse" x1="1466.0" y1="1286.0" x2="2184.1" y2="580.4"><stop offset="0" stop-color="#fff"/><stop offset="0.2" stop-color="#fff6b0"/><stop offset="0.45" stop-color="#ffed67"/><stop offset="0.7" stop-color="#ffe631"/><stop offset="1" stop-color="#ffe100"/></linearGradient>
<linearGradient id="if32" gradientUnits="userSpaceOnUse" x1="1466.0" y1="1286.0" x2="2209.5" y2="594.1"><stop offset="0" stop-color="#fff"/><stop offset="0.2" stop-color="#fff2ae"/><stop offset="0.45" stop-color="#ffe665"/><stop offset="0.7" stop-color="#ffdd30"/><stop offset="1" stop-color="#ffd500"/></linearGradient>
<linearGradient id="if33" gradientUnits="userSpaceOnUse" x1="1466.0" y1="1286.0" x2="2235.4" y2="608.1"><stop offset="0" stop-color="#fff"/><stop offset="0.2" stop-color="#ffeead"/><stop offset="0.45" stop-color="#ffdf64"/><stop offset="0.7" stop-color="#ffd42f"/><stop offset="1" stop-color="#ffcb00"/></linearGradient>
<linearGradient id="if34" gradientUnits="userSpaceOnUse" x1="1466.0" y1="1286.0" x2="2261.8" y2="622.4"><stop offset="0" stop-color="#fff"/><stop offset="0.2" stop-color="#ffeaab"/><stop offset="0.45" stop-color="#ffd862"/><stop offset="0.7" stop-color="#ffcc2e"/><stop offset="1" stop-color="#ffc000"/></linearGradient>
<linearGradient id="if35" gradientUnits="userSpaceOnUse" x1="1466.0" y1="1286.0" x2="2288.8" y2="636.9"><stop offset="0" stop-color="#fff"/><stop offset="0.2" stop-color="#ffe7a9"/><stop offset="0.45" stop-color="#ffd260"/><stop offset="0.7" stop-color="#ffc32c"/><stop offset="1" stop-color="#ffb600"/></linearGradient>
<linearGradient id="if36" gradientUnits="userSpaceOnUse" x1="1466.0" y1="1286.0" x2="2316.4" y2="651.9"><stop offset="0" stop-color="#fff"/><stop offset="0.2" stop-color="#ffe3a7"/><stop offset="0.45" stop-color="#ffcb5e"/><stop offset="0.7" stop-color="#ffbb2b"/><stop offset="1" stop-color="#ffad00"/></linearGradient>
<linearGradient id="if37" gradientUnits="userSpaceOnUse" x1="1466.0" y1="1286.0" x2="2344.7" y2="667.2"><stop offset="0" stop-color="#fff"/><stop offset="0.2" stop-color="#ffdfa6"/><stop offset="0.45" stop-color="#ffc55c"/><stop offset="0.7" stop-color="#ffb32a"/><stop offset="1" stop-color="#ffa400"/></linearGradient>
<linearGradient id="if38" gradientUnits="userSpaceOnUse" x1="1466.0" y1="1286.0" x2="2373.8" y2="682.9"><stop offset="0" stop-color="#fff"/><stop offset="0.2" stop-color="#ffdba4"/><stop offset="0.45" stop-color="#ffbe5a"/><stop offset="0.7" stop-color="#ffab29"/><stop offset="1" stop-color="#ff9b00"/></linearGradient>
<linearGradient id="if39" gradientUnits="userSpaceOnUse" x1="1466.0" y1="1286.0" x2="2403.7" y2="699.1"><stop offset="0" stop-color="#fff"/><stop offset="0.2" stop-color="#ffd7a2"/><stop offset="0.45" stop-color="#ffb859"/><stop offset="0.7" stop-color="#ffa328"/><stop offset="1" stop-color="#ff9200"/></linearGradient>
<linearGradient id="if40" gradientUnits="userSpaceOnUse" x1="1466.0" y1="1286.0" x2="2434.6" y2="715.8"><stop offset="0" stop-color="#fff"/><stop offset="0.2" stop-color="#ffd4a0"/><stop offset="0.45" stop-color="#ffb257"/><stop offset="0.7" stop-color="#ff9c27"/><stop offset="1" stop-color="#ff8a00"/></linearGradient>
<linearGradient id="if41" gradientUnits="userSpaceOnUse" x1="1466.0" y1="1286.0" x2="2466.5" y2="733.1"><stop offset="0" stop-color="#fff"/><stop offset="0.2" stop-color="#ffd09f"/><stop offset="0.45" stop-color="#ffac55"/><stop offset="0.7" stop-color="#ff9426"/><stop offset="1" stop-color="#ff8200"/></linearGradient>
<linearGradient id="if42" gradientUnits="userSpaceOnUse" x1="1466.0" y1="1286.0" x2="2487.3" y2="757.3"><stop offset="0" stop-color="#fff"/><stop offset="0.2" stop-color="#ffcc9e"/><stop offset="0.45" stop-color="#ffa655"/><stop offset="0.7" stop-color="#ff8e27"/><stop offset="1" stop-color="#ff7a01"/></linearGradient>
<linearGradient id="if43" gradientUnits="userSpaceOnUse" x1="1466.0" y1="1286.0" x2="2501.3" y2="785.3"><stop offset="0" stop-color="#fff"/><stop offset="0.2" stop-color="#ffc99d"/><stop offset="0.45" stop-color="#ffa155"/><stop offset="0.7" stop-color="#ff8828"/><stop offset="1" stop-color="#ff7403"/></linearGradient>
<linearGradient id="if44" gradientUnits="userSpaceOnUse" x1="1466.0" y1="1286.0" x2="2514.5" y2="813.6"><stop offset="0" stop-color="#fff"/><stop offset="0.2" stop-color="#ffc69d"/><stop offset="0.45" stop-color="#ff9c55"/><stop offset="0.7" stop-color="#ff8229"/><stop offset="1" stop-color="#ff6d05"/></linearGradient>
<linearGradient id="if45" gradientUnits="userSpaceOnUse" x1="1466.0" y1="1286.0" x2="2526.9" y2="842.2"><stop offset="0" stop-color="#fff"/><stop offset="0.2" stop-color="#ffc39d"/><stop offset="0.45" stop-color="#ff9756"/><stop offset="0.7" stop-color="#ff7c2a"/><stop offset="1" stop-color="#ff6707"/></linearGradient>
<linearGradient id="if46" gradientUnits="userSpaceOnUse" x1="1466.0" y1="1286.0" x2="2538.6" y2="871.2"><stop offset="0" stop-color="#fff"/><stop offset="0.2" stop-color="#ffc09c"/><stop offset="0.45" stop-color="#ff9356"/><stop offset="0.7" stop-color="#ff772b"/><stop offset="1" stop-color="#ff6109"/></linearGradient>
<linearGradient id="if47" gradientUnits="userSpaceOnUse" x1="1466.0" y1="1286.0" x2="2549.5" y2="900.5"><stop offset="0" stop-color="#fff"/><stop offset="0.2" stop-color="#ffbd9c"/><stop offset="0.45" stop-color="#ff8e57"/><stop offset="0.7" stop-color="#ff722c"/><stop offset="1" stop-color="#ff5b0b"/></linearGradient>
<linearGradient id="if48" gradientUnits="userSpaceOnUse" x1="1466.0" y1="1286.0" x2="2559.6" y2="930.1"><stop offset="0" stop-color="#fff"/><stop offset="0.2" stop-color="#ffba9c"/><stop offset="0.45" stop-color="#ff8a57"/><stop offset="0.7" stop-color="#ff6d2d"/><stop offset="1" stop-color="#ff560c"/></linearGradient>
<linearGradient id="if49" gradientUnits="userSpaceOnUse" x1="1466.0" y1="1286.0" x2="2568.8" y2="960.0"><stop offset="0" stop-color="#fff"/><stop offset="0.2" stop-color="#ffb79c"/><stop offset="0.45" stop-color="#ff8658"/><stop offset="0.7" stop-color="#ff682e"/><stop offset="1" stop-color="#ff510e"/></linearGradient>
<linearGradient id="if50" gradientUnits="userSpaceOnUse" x1="1466.0" y1="1286.0" x2="2577.3" y2="990.1"><stop offset="0" stop-color="#fff"/><stop offset="0.2" stop-color="#ffb59c"/><stop offset="0.45" stop-color="#ff8258"/><stop offset="0.7" stop-color="#ff6330"/><stop offset="1" stop-color="#ff4c10"/></linearGradient>
<linearGradient id="if51" gradientUnits="userSpaceOnUse" x1="1466.0" y1="1286.0" x2="2584.9" y2="1020.4"><stop offset="0" stop-color="#fff"/><stop offset="0.2" stop-color="#ffb29c"/><stop offset="0.45" stop-color="#ff7e59"/><stop offset="0.7" stop-color="#ff5f31"/><stop offset="1" stop-color="#ff4712"/></linearGradient>
<linearGradient id="if52" gradientUnits="userSpaceOnUse" x1="1466.0" y1="1286.0" x2="2591.7" y2="1050.9"><stop offset="0" stop-color="#fff"/><stop offset="0.2" stop-color="#ffb09c"/><stop offset="0.45" stop-color="#ff7a5a"/><stop offset="0.7" stop-color="#ff5a32"/><stop offset="1" stop-color="#ff4214"/></linearGradient>
<linearGradient id="if53" gradientUnits="userSpaceOnUse" x1="1466.0" y1="1286.0" x2="2597.7" y2="1081.6"><stop offset="0" stop-color="#fff"/><stop offset="0.2" stop-color="#ffad9c"/><stop offset="0.45" stop-color="#ff765b"/><stop offset="0.7" stop-color="#ff5634"/><stop offset="1" stop-color="#ff3d16"/></linearGradient>
<linearGradient id="if54" gradientUnits="userSpaceOnUse" x1="1466.0" y1="1286.0" x2="2602.8" y2="1112.4"><stop offset="0" stop-color="#fff"/><stop offset="0.2" stop-color="#ffab9d"/><stop offset="0.45" stop-color="#ff735b"/><stop offset="0.7" stop-color="#ff5235"/><stop offset="1" stop-color="#ff3918"/></linearGradient>
<linearGradient id="if55" gradientUnits="userSpaceOnUse" x1="1466.0" y1="1286.0" x2="2607.1" y2="1143.3"><stop offset="0" stop-color="#fff"/><stop offset="0.2" stop-color="#ffa89d"/><stop offset="0.45" stop-color="#ff6f5c"/><stop offset="0.7" stop-color="#ff4e37"/><stop offset="1" stop-color="#ff351a"/></linearGradient>
<linearGradient id="if56" gradientUnits="userSpaceOnUse" x1="1466.0" y1="1286.0" x2="2610.6" y2="1174.4"><stop offset="0" stop-color="#fff"/><stop offset="0.2" stop-color="#ffa69d"/><stop offset="0.45" stop-color="#ff6c5d"/><stop offset="0.7" stop-color="#ff4a38"/><stop offset="1" stop-color="#ff311c"/></linearGradient>
<linearGradient id="if57" gradientUnits="userSpaceOnUse" x1="1466.0" y1="1286.0" x2="2613.2" y2="1205.5"><stop offset="0" stop-color="#fff"/><stop offset="0.2" stop-color="#ffa49e"/><stop offset="0.45" stop-color="#ff695e"/><stop offset="0.7" stop-color="#ff463a"/><stop offset="1" stop-color="#ff2d1e"/></linearGradient>
<linearGradient id="if58" gradientUnits="userSpaceOnUse" x1="1466.0" y1="1286.0" x2="2614.9" y2="1236.7"><stop offset="0" stop-color="#fff"/><stop offset="0.2" stop-color="#ffa29e"/><stop offset="0.45" stop-color="#ff665f"/><stop offset="0.7" stop-color="#ff433b"/><stop offset="1" stop-color="#ff2920"/></linearGradient>
<linearGradient id="if59" gradientUnits="userSpaceOnUse" x1="1466.0" y1="1286.0" x2="2615.9" y2="1268.0"><stop offset="0" stop-color="#fff"/><stop offset="0.2" stop-color="#ffa09e"/><stop offset="0.45" stop-color="#ff6260"/><stop offset="0.7" stop-color="#ff3f3d"/><stop offset="1" stop-color="#ff2522"/></linearGradient>
<linearGradient id="if60" gradientUnits="userSpaceOnUse" x1="1466.0" y1="1286.0" x2="2615.9" y2="1299.6"><stop offset="0" stop-color="#fff"/><stop offset="0.2" stop-color="#ff9e9f"/><stop offset="0.45" stop-color="#ff5f62"/><stop offset="0.7" stop-color="#ff3c3e"/><stop offset="1" stop-color="#ff2124"/></linearGradient>
<linearGradient id="if61" gradientUnits="userSpaceOnUse" x1="1466.0" y1="1286.0" x2="2615.1" y2="1331.6"><stop offset="0" stop-color="#fff"/><stop offset="0.2" stop-color="#ff9c9f"/><stop offset="0.45" stop-color="#ff5d63"/><stop offset="0.7" stop-color="#ff3940"/><stop offset="1" stop-color="#ff1e26"/></linearGradient>
<linearGradient id="if62" gradientUnits="userSpaceOnUse" x1="1466.0" y1="1286.0" x2="2613.4" y2="1363.6"><stop offset="0" stop-color="#fff"/><stop offset="0.2" stop-color="#ff9aa0"/><stop offset="0.45" stop-color="#ff5a64"/><stop offset="0.7" stop-color="#ff3542"/><stop offset="1" stop-color="#ff1a28"/></linearGradient>
<linearGradient id="if63" gradientUnits="userSpaceOnUse" x1="1466.0" y1="1286.0" x2="2610.8" y2="1395.6"><stop offset="0" stop-color="#fff"/><stop offset="0.2" stop-color="#ff98a1"/><stop offset="0.45" stop-color="#ff5765"/><stop offset="0.7" stop-color="#ff3244"/><stop offset="1" stop-color="#ff172b"/></linearGradient>
<linearGradient id="if64" gradientUnits="userSpaceOnUse" x1="1466.0" y1="1286.0" x2="2607.3" y2="1427.4"><stop offset="0" stop-color="#fff"/><stop offset="0.2" stop-color="#ff96a1"/><stop offset="0.45" stop-color="#ff5467"/><stop offset="0.7" stop-color="#ff2f46"/><stop offset="1" stop-color="#ff132d"/></linearGradient>
<linearGradient id="if65" gradientUnits="userSpaceOnUse" x1="1466.0" y1="1286.0" x2="2602.9" y2="1459.1"><stop offset="0" stop-color="#fff"/><stop offset="0.2" stop-color="#ff94a2"/><stop offset="0.45" stop-color="#ff5268"/><stop offset="0.7" stop-color="#ff2c47"/><stop offset="1" stop-color="#ff102f"/></linearGradient>
<linearGradient id="if66" gradientUnits="userSpaceOnUse" x1="1466.0" y1="1286.0" x2="2597.6" y2="1490.7"><stop offset="0" stop-color="#fff"/><stop offset="0.2" stop-color="#ff93a3"/><stop offset="0.45" stop-color="#ff4f6a"/><stop offset="0.7" stop-color="#ff2949"/><stop offset="1" stop-color="#ff0d31"/></linearGradient>
<linearGradient id="if67" gradientUnits="userSpaceOnUse" x1="1466.0" y1="1286.0" x2="2591.5" y2="1522.2"><stop offset="0" stop-color="#fff"/><stop offset="0.2" stop-color="#ff91a4"/><stop offset="0.45" stop-color="#ff4d6b"/><stop offset="0.7" stop-color="#ff264b"/><stop offset="1" stop-color="#ff0a34"/></linearGradient>
<linearGradient id="if68" gradientUnits="userSpaceOnUse" x1="1466.0" y1="1286.0" x2="2584.5" y2="1553.4"><stop offset="0" stop-color="#fff"/><stop offset="0.2" stop-color="#ff8fa5"/><stop offset="0.45" stop-color="#ff4a6d"/><stop offset="0.7" stop-color="#ff244d"/><stop offset="1" stop-color="#ff0736"/></linearGradient>
<linearGradient id="if69" gradientUnits="userSpaceOnUse" x1="1466.0" y1="1286.0" x2="2576.6" y2="1584.5"><stop offset="0" stop-color="#fff"/><stop offset="0.2" stop-color="#ff8ea6"/><stop offset="0.45" stop-color="#ff486e"/><stop offset="0.7" stop-color="#ff214f"/><stop offset="1" stop-color="#ff0438"/></linearGradient>
<linearGradient id="if70" gradientUnits="userSpaceOnUse" x1="1466.0" y1="1286.0" x2="2567.8" y2="1615.3"><stop offset="0" stop-color="#fff"/><stop offset="0.2" stop-color="#ff8da7"/><stop offset="0.45" stop-color="#ff4670"/><stop offset="0.7" stop-color="#ff1e51"/><stop offset="1" stop-color="#ff013b"/></linearGradient>
<linearGradient id="if71" gradientUnits="userSpaceOnUse" x1="1466.0" y1="1286.0" x2="2533.1" y2="1637.6"><stop offset="0" stop-color="#fff"/><stop offset="0.2" stop-color="#ff8da9"/><stop offset="0.45" stop-color="#ff4673"/><stop offset="0.7" stop-color="#ff1e55"/><stop offset="1" stop-color="#ff003f"/></linearGradient>
<linearGradient id="if72" gradientUnits="userSpaceOnUse" x1="1466.0" y1="1286.0" x2="2487.9" y2="1654.5"><stop offset="0" stop-color="#fff"/><stop offset="0.2" stop-color="#ff8eac"/><stop offset="0.45" stop-color="#ff4777"/><stop offset="0.7" stop-color="#ff1e59"/><stop offset="1" stop-color="#ff0043"/></linearGradient>
<linearGradient id="if73" gradientUnits="userSpaceOnUse" x1="1466.0" y1="1286.0" x2="2445.6" y2="1670.4"><stop offset="0" stop-color="#fff"/><stop offset="0.2" stop-color="#ff90af"/><stop offset="0.45" stop-color="#ff487b"/><stop offset="0.7" stop-color="#ff1f5e"/><stop offset="1" stop-color="#ff0047"/></linearGradient>
<linearGradient id="if74" gradientUnits="userSpaceOnUse" x1="1466.0" y1="1286.0" x2="2405.8" y2="1685.4"><stop offset="0" stop-color="#fff"/><stop offset="0.2" stop-color="#ff91b2"/><stop offset="0.45" stop-color="#ff497f"/><stop offset="0.7" stop-color="#ff2062"/><stop offset="1" stop-color="#ff004c"/></linearGradient>
<linearGradient id="if75" gradientUnits="userSpaceOnUse" x1="1466.0" y1="1286.0" x2="2368.3" y2="1699.4"><stop offset="0" stop-color="#fff"/><stop offset="0.2" stop-color="#ff92b4"/><stop offset="0.45" stop-color="#ff4a83"/><stop offset="0.7" stop-color="#ff2066"/><stop offset="1" stop-color="#ff0050"/></linearGradient>
<linearGradient id="if76" gradientUnits="userSpaceOnUse" x1="1466.0" y1="1286.0" x2="2332.7" y2="1712.8"><stop offset="0" stop-color="#fff"/><stop offset="0.2" stop-color="#ff93b7"/><stop offset="0.45" stop-color="#ff4b86"/><stop offset="0.7" stop-color="#ff216a"/><stop offset="1" stop-color="#ff0054"/></linearGradient>
<linearGradient id="if77" gradientUnits="userSpaceOnUse" x1="1466.0" y1="1286.0" x2="2299.0" y2="1725.4"><stop offset="0" stop-color="#fff"/><stop offset="0.2" stop-color="#ff94b9"/><stop offset="0.45" stop-color="#ff4c8a"/><stop offset="0.7" stop-color="#ff216e"/><stop offset="1" stop-color="#ff0058"/></linearGradient>
<linearGradient id="if78" gradientUnits="userSpaceOnUse" x1="1466.0" y1="1286.0" x2="2267.0" y2="1737.4"><stop offset="0" stop-color="#fff"/><stop offset="0.2" stop-color="#ff96bc"/><stop offset="0.45" stop-color="#ff4d8d"/><stop offset="0.7" stop-color="#ff2271"/><stop offset="1" stop-color="#ff005c"/></linearGradient>
<linearGradient id="if79" gradientUnits="userSpaceOnUse" x1="1466.0" y1="1286.0" x2="2236.4" y2="1748.9"><stop offset="0" stop-color="#fff"/><stop offset="0.2" stop-color="#ff97be"/><stop offset="0.45" stop-color="#ff4e91"/><stop offset="0.7" stop-color="#ff2275"/><stop offset="1" stop-color="#ff0060"/></linearGradient>
<linearGradient id="if80" gradientUnits="userSpaceOnUse" x1="1466.0" y1="1286.0" x2="2207.1" y2="1759.9"><stop offset="0" stop-color="#fff"/><stop offset="0.2" stop-color="#ff98c0"/><stop offset="0.45" stop-color="#ff4f94"/><stop offset="0.7" stop-color="#ff2379"/><stop offset="1" stop-color="#ff0064"/></linearGradient>
<linearGradient id="if81" gradientUnits="userSpaceOnUse" x1="1466.0" y1="1286.0" x2="2179.0" y2="1770.5"><stop offset="0" stop-color="#fff"/><stop offset="0.2" stop-color="#ff99c2"/><stop offset="0.45" stop-color="#ff5097"/><stop offset="0.7" stop-color="#ff237d"/><stop offset="1" stop-color="#ff0068"/></linearGradient>
<linearGradient id="if82" gradientUnits="userSpaceOnUse" x1="1466.0" y1="1286.0" x2="2152.0" y2="1780.6"><stop offset="0" stop-color="#fff"/><stop offset="0.2" stop-color="#ff9ac4"/><stop offset="0.45" stop-color="#ff519a"/><stop offset="0.7" stop-color="#ff2480"/><stop offset="1" stop-color="#ff006c"/></linearGradient>
<linearGradient id="if83" gradientUnits="userSpaceOnUse" x1="1466.0" y1="1286.0" x2="2126.0" y2="1790.3"><stop offset="0" stop-color="#fff"/><stop offset="0.2" stop-color="#ff9bc6"/><stop offset="0.45" stop-color="#ff529d"/><stop offset="0.7" stop-color="#ff2484"/><stop offset="1" stop-color="#ff006f"/></linearGradient>
<linearGradient id="if84" gradientUnits="userSpaceOnUse" x1="1466.0" y1="1286.0" x2="2100.9" y2="1799.8"><stop offset="0" stop-color="#fff"/><stop offset="0.2" stop-color="#ff9cc8"/><stop offset="0.45" stop-color="#ff52a0"/><stop offset="0.7" stop-color="#ff2587"/><stop offset="1" stop-color="#ff0073"/></linearGradient>
<linearGradient id="if85" gradientUnits="userSpaceOnUse" x1="1466.0" y1="1286.0" x2="2076.5" y2="1808.9"><stop offset="0" stop-color="#fff"/><stop offset="0.2" stop-color="#ff9cca"/><stop offset="0.45" stop-color="#ff53a3"/><stop offset="0.7" stop-color="#ff258b"/><stop offset="1" stop-color="#f07"/></linearGradient>
<linearGradient id="if86" gradientUnits="userSpaceOnUse" x1="1466.0" y1="1286.0" x2="2053.0" y2="1817.7"><stop offset="0" stop-color="#fff"/><stop offset="0.2" stop-color="#ff9dcc"/><stop offset="0.45" stop-color="#ff54a6"/><stop offset="0.7" stop-color="#ff268e"/><stop offset="1" stop-color="#ff007b"/></linearGradient>
<linearGradient id="if87" gradientUnits="userSpaceOnUse" x1="1466.0" y1="1286.0" x2="2030.1" y2="1826.3"><stop offset="0" stop-color="#fff"/><stop offset="0.2" stop-color="#ff9ece"/><stop offset="0.45" stop-color="#ff55a9"/><stop offset="0.7" stop-color="#ff2692"/><stop offset="1" stop-color="#ff007f"/></linearGradient>
<linearGradient id="if88" gradientUnits="userSpaceOnUse" x1="1466.0" y1="1286.0" x2="2007.8" y2="1834.7"><stop offset="0" stop-color="#fff"/><stop offset="0.2" stop-color="#ff9fd0"/><stop offset="0.45" stop-color="#ff56ac"/><stop offset="0.7" stop-color="#ff2695"/><stop offset="1" stop-color="#ff0082"/></linearGradient>
<linearGradient id="if89" gradientUnits="userSpaceOnUse" x1="1466.0" y1="1286.0" x2="1986.0" y2="1842.9"><stop offset="0" stop-color="#fff"/><stop offset="0.2" stop-color="#ffa0d2"/><stop offset="0.45" stop-color="#ff57af"/><stop offset="0.7" stop-color="#ff2799"/><stop offset="1" stop-color="#ff0086"/></linearGradient>
<linearGradient id="if90" gradientUnits="userSpaceOnUse" x1="1466.0" y1="1286.0" x2="1964.7" y2="1850.9"><stop offset="0" stop-color="#fff"/><stop offset="0.2" stop-color="#ffa1d4"/><stop offset="0.45" stop-color="#ff57b2"/><stop offset="0.7" stop-color="#ff279c"/><stop offset="1" stop-color="#ff008a"/></linearGradient>
<linearGradient id="if91" gradientUnits="userSpaceOnUse" x1="1466.0" y1="1286.0" x2="1943.9" y2="1858.7"><stop offset="0" stop-color="#fff"/><stop offset="0.2" stop-color="#ffa2d6"/><stop offset="0.45" stop-color="#ff58b5"/><stop offset="0.7" stop-color="#ff28a0"/><stop offset="1" stop-color="#ff008e"/></linearGradient>
<linearGradient id="if92" gradientUnits="userSpaceOnUse" x1="1466.0" y1="1286.0" x2="1923.5" y2="1866.3"><stop offset="0" stop-color="#fff"/><stop offset="0.2" stop-color="#ffa2d7"/><stop offset="0.45" stop-color="#ff59b8"/><stop offset="0.7" stop-color="#ff28a3"/><stop offset="1" stop-color="#ff0092"/></linearGradient>
<linearGradient id="if93" gradientUnits="userSpaceOnUse" x1="1466.0" y1="1286.0" x2="1903.4" y2="1873.9"><stop offset="0" stop-color="#fff"/><stop offset="0.2" stop-color="#ffa3d9"/><stop offset="0.45" stop-color="#ff5abb"/><stop offset="0.7" stop-color="#ff29a7"/><stop offset="1" stop-color="#ff0096"/></linearGradient>
<linearGradient id="if94" gradientUnits="userSpaceOnUse" x1="1466.0" y1="1286.0" x2="1883.7" y2="1881.3"><stop offset="0" stop-color="#fff"/><stop offset="0.2" stop-color="#ffa4db"/><stop offset="0.45" stop-color="#ff5bbe"/><stop offset="0.7" stop-color="#ff29aa"/><stop offset="1" stop-color="#ff009a"/></linearGradient>
<linearGradient id="if95" gradientUnits="userSpaceOnUse" x1="1466.0" y1="1286.0" x2="1864.3" y2="1888.6"><stop offset="0" stop-color="#fff"/><stop offset="0.2" stop-color="#ffa5dd"/><stop offset="0.45" stop-color="#ff5bc1"/><stop offset="0.7" stop-color="#ff2aae"/><stop offset="1" stop-color="#ff009e"/></linearGradient>
<linearGradient id="if96" gradientUnits="userSpaceOnUse" x1="1466.0" y1="1286.0" x2="1845.0" y2="1895.8"><stop offset="0" stop-color="#fff"/><stop offset="0.2" stop-color="#ffa6de"/><stop offset="0.45" stop-color="#ff5cc4"/><stop offset="0.7" stop-color="#ff2ab1"/><stop offset="1" stop-color="#ff00a2"/></linearGradient>
<linearGradient id="if97" gradientUnits="userSpaceOnUse" x1="1466.0" y1="1286.0" x2="1826.1" y2="1902.9"><stop offset="0" stop-color="#fff"/><stop offset="0.2" stop-color="#ffa6e0"/><stop offset="0.45" stop-color="#ff5dc6"/><stop offset="0.7" stop-color="#ff2bb5"/><stop offset="1" stop-color="#ff00a6"/></linearGradient>
<linearGradient id="if98" gradientUnits="userSpaceOnUse" x1="1466.0" y1="1286.0" x2="1807.2" y2="1910.0"><stop offset="0" stop-color="#fff"/><stop offset="0.2" stop-color="#ffa7e2"/><stop offset="0.45" stop-color="#ff5ec9"/><stop offset="0.7" stop-color="#ff2bb9"/><stop offset="1" stop-color="#f0a"/></linearGradient>
<linearGradient id="if99" gradientUnits="userSpaceOnUse" x1="1466.0" y1="1286.0" x2="1788.6" y2="1917.0"><stop offset="0" stop-color="#fff"/><stop offset="0.2" stop-color="#ffa8e4"/><stop offset="0.45" stop-color="#ff5fcc"/><stop offset="0.7" stop-color="#ff2cbc"/><stop offset="1" stop-color="#ff00af"/></linearGradient>
<linearGradient id="if100" gradientUnits="userSpaceOnUse" x1="1466.0" y1="1286.0" x2="1770.0" y2="1923.9"><stop offset="0" stop-color="#fff"/><stop offset="0.2" stop-color="#ffa9e5"/><stop offset="0.45" stop-color="#ff5fcf"/><stop offset="0.7" stop-color="#ff2cc0"/><stop offset="1" stop-color="#ff00b3"/></linearGradient>
<linearGradient id="if101" gradientUnits="userSpaceOnUse" x1="1466.0" y1="1286.0" x2="1751.6" y2="1930.8"><stop offset="0" stop-color="#fff"/><stop offset="0.2" stop-color="#ffaae7"/><stop offset="0.45" stop-color="#ff60d3"/><stop offset="0.7" stop-color="#ff2dc4"/><stop offset="1" stop-color="#ff00b7"/></linearGradient>
<linearGradient id="if102" gradientUnits="userSpaceOnUse" x1="1466.0" y1="1286.0" x2="1733.2" y2="1937.8"><stop offset="0" stop-color="#fff"/><stop offset="0.2" stop-color="#ffaae9"/><stop offset="0.45" stop-color="#ff61d6"/><stop offset="0.7" stop-color="#ff2dc8"/><stop offset="1" stop-color="#ff00bc"/></linearGradient>
<linearGradient id="if103" gradientUnits="userSpaceOnUse" x1="1466.0" y1="1286.0" x2="1714.8" y2="1944.6"><stop offset="0" stop-color="#fff"/><stop offset="0.2" stop-color="#ffabeb"/><stop offset="0.45" stop-color="#ff62d9"/><stop offset="0.7" stop-color="#ff2ecc"/><stop offset="1" stop-color="#ff00c1"/></linearGradient>
<linearGradient id="if104" gradientUnits="userSpaceOnUse" x1="1466.0" y1="1286.0" x2="1696.4" y2="1951.5"><stop offset="0" stop-color="#fff"/><stop offset="0.2" stop-color="#ffacec"/><stop offset="0.45" stop-color="#ff63dc"/><stop offset="0.7" stop-color="#ff2ed0"/><stop offset="1" stop-color="#ff00c6"/></linearGradient>
<linearGradient id="if105" gradientUnits="userSpaceOnUse" x1="1466.0" y1="1286.0" x2="1678.0" y2="1958.4"><stop offset="0" stop-color="#fff"/><stop offset="0.2" stop-color="#ffadee"/><stop offset="0.45" stop-color="#ff64df"/><stop offset="0.7" stop-color="#ff2fd4"/><stop offset="1" stop-color="#ff00cb"/></linearGradient>
<linearGradient id="if106" gradientUnits="userSpaceOnUse" x1="1466.0" y1="1286.0" x2="1659.6" y2="1965.4"><stop offset="0" stop-color="#fff"/><stop offset="0.2" stop-color="#ffaef0"/><stop offset="0.45" stop-color="#ff65e3"/><stop offset="0.7" stop-color="#ff30d9"/><stop offset="1" stop-color="#ff00d0"/></linearGradient>
<linearGradient id="if107" gradientUnits="userSpaceOnUse" x1="1466.0" y1="1286.0" x2="1641.1" y2="1972.3"><stop offset="0" stop-color="#fff"/><stop offset="0.2" stop-color="#ffaff2"/><stop offset="0.45" stop-color="#ff66e6"/><stop offset="0.7" stop-color="#ff30dd"/><stop offset="1" stop-color="#ff00d6"/></linearGradient>
<linearGradient id="if108" gradientUnits="userSpaceOnUse" x1="1466.0" y1="1286.0" x2="1622.4" y2="1979.3"><stop offset="0" stop-color="#fff"/><stop offset="0.2" stop-color="#ffb0f4"/><stop offset="0.45" stop-color="#ff67ea"/><stop offset="0.7" stop-color="#ff31e2"/><stop offset="1" stop-color="#ff00db"/></linearGradient>
<linearGradient id="if109" gradientUnits="userSpaceOnUse" x1="1466.0" y1="1286.0" x2="1603.6" y2="1986.4"><stop offset="0" stop-color="#fff"/><stop offset="0.2" stop-color="#ffb0f6"/><stop offset="0.45" stop-color="#ff68ed"/><stop offset="0.7" stop-color="#ff31e7"/><stop offset="1" stop-color="#ff00e1"/></linearGradient>
<linearGradient id="if110" gradientUnits="userSpaceOnUse" x1="1466.0" y1="1286.0" x2="1584.7" y2="1993.5"><stop offset="0" stop-color="#fff"/><stop offset="0.2" stop-color="#ffb1f8"/><stop offset="0.45" stop-color="#ff69f1"/><stop offset="0.7" stop-color="#ff32ec"/><stop offset="1" stop-color="#ff00e7"/></linearGradient>
<linearGradient id="if111" gradientUnits="userSpaceOnUse" x1="1466.0" y1="1286.0" x2="1565.5" y2="2000.7"><stop offset="0" stop-color="#fff"/><stop offset="0.2" stop-color="#ffb2fa"/><stop offset="0.45" stop-color="#ff6af5"/><stop offset="0.7" stop-color="#ff33f1"/><stop offset="1" stop-color="#f0e"/></linearGradient>
<linearGradient id="if112" gradientUnits="userSpaceOnUse" x1="1466.0" y1="1286.0" x2="1546.1" y2="2008.0"><stop offset="0" stop-color="#fff"/><stop offset="0.2" stop-color="#ffb3fc"/><stop offset="0.45" stop-color="#ff6bf9"/><stop offset="0.7" stop-color="#ff34f6"/><stop offset="1" stop-color="#ff00f4"/></linearGradient>
<linearGradient id="if113" gradientUnits="userSpaceOnUse" x1="1466.0" y1="1286.0" x2="1526.4" y2="2015.3"><stop offset="0" stop-color="#fff"/><stop offset="0.2" stop-color="#ffb4fe"/><stop offset="0.45" stop-color="#ff6cfd"/><stop offset="0.7" stop-color="#ff34fc"/><stop offset="1" stop-color="#ff00fb"/></linearGradient>
<linearGradient id="if114" gradientUnits="userSpaceOnUse" x1="1466.0" y1="1286.0" x2="1506.6" y2="2022.8"><stop offset="0" stop-color="#fff"/><stop offset="0.2" stop-color="#feb4ff"/><stop offset="0.45" stop-color="#fd6cff"/><stop offset="0.7" stop-color="#fc34ff"/><stop offset="1" stop-color="#fb00ff"/></linearGradient>
<linearGradient id="if115" gradientUnits="userSpaceOnUse" x1="1466.0" y1="1286.0" x2="1486.5" y2="2030.3"><stop offset="0" stop-color="#fff"/><stop offset="0.2" stop-color="#fcb4ff"/><stop offset="0.45" stop-color="#f96cff"/><stop offset="0.7" stop-color="#f634ff"/><stop offset="1" stop-color="#f400ff"/></linearGradient>
<linearGradient id="if116" gradientUnits="userSpaceOnUse" x1="1466.0" y1="1286.0" x2="1466.1" y2="2038.0"><stop offset="0" stop-color="#fff"/><stop offset="0.2" stop-color="#fab3ff"/><stop offset="0.45" stop-color="#f46bff"/><stop offset="0.7" stop-color="#f034ff"/><stop offset="1" stop-color="#ed00ff"/></linearGradient>
<linearGradient id="if117" gradientUnits="userSpaceOnUse" x1="1466.0" y1="1286.0" x2="1445.3" y2="2045.8"><stop offset="0" stop-color="#fff"/><stop offset="0.2" stop-color="#f7b3ff"/><stop offset="0.45" stop-color="#f06aff"/><stop offset="0.7" stop-color="#eb33ff"/><stop offset="1" stop-color="#e500ff"/></linearGradient>
<linearGradient id="if118" gradientUnits="userSpaceOnUse" x1="1466.0" y1="1286.0" x2="1424.0" y2="2053.8"><stop offset="0" stop-color="#fff"/><stop offset="0.2" stop-color="#f5b2ff"/><stop offset="0.45" stop-color="#ec6aff"/><stop offset="0.7" stop-color="#e533ff"/><stop offset="1" stop-color="#de00ff"/></linearGradient>
<linearGradient id="if119" gradientUnits="userSpaceOnUse" x1="1466.0" y1="1286.0" x2="1402.2" y2="2062.0"><stop offset="0" stop-color="#fff"/><stop offset="0.2" stop-color="#f3b2ff"/><stop offset="0.45" stop-color="#e769ff"/><stop offset="0.7" stop-color="#df32ff"/><stop offset="1" stop-color="#d700ff"/></linearGradient>
<linearGradient id="if120" gradientUnits="userSpaceOnUse" x1="1466.0" y1="1286.0" x2="1379.8" y2="2070.4"><stop offset="0" stop-color="#fff"/><stop offset="0.2" stop-color="#f0b1ff"/><stop offset="0.45" stop-color="#e369ff"/><stop offset="0.7" stop-color="#d932ff"/><stop offset="1" stop-color="#cf00ff"/></linearGradient>
<linearGradient id="if121" gradientUnits="userSpaceOnUse" x1="1466.0" y1="1286.0" x2="1356.8" y2="2079.0"><stop offset="0" stop-color="#fff"/><stop offset="0.2" stop-color="#eeb1ff"/><stop offset="0.45" stop-color="#de68ff"/><stop offset="0.7" stop-color="#d332ff"/><stop offset="1" stop-color="#c800ff"/></linearGradient>
<linearGradient id="if122" gradientUnits="userSpaceOnUse" x1="1466.0" y1="1286.0" x2="1333.1" y2="2087.9"><stop offset="0" stop-color="#fff"/><stop offset="0.2" stop-color="#ecb0ff"/><stop offset="0.45" stop-color="#da67ff"/><stop offset="0.7" stop-color="#cd31ff"/><stop offset="1" stop-color="#c100ff"/></linearGradient>
<linearGradient id="if123" gradientUnits="userSpaceOnUse" x1="1466.0" y1="1286.0" x2="1308.6" y2="2097.1"><stop offset="0" stop-color="#fff"/><stop offset="0.2" stop-color="#e9afff"/><stop offset="0.45" stop-color="#d566ff"/><stop offset="0.7" stop-color="#c631ff"/><stop offset="1" stop-color="#b900ff"/></linearGradient>
<linearGradient id="if124" gradientUnits="userSpaceOnUse" x1="1466.0" y1="1286.0" x2="1283.3" y2="2106.6"><stop offset="0" stop-color="#fff"/><stop offset="0.2" stop-color="#e7afff"/><stop offset="0.45" stop-color="#d066ff"/><stop offset="0.7" stop-color="#c030ff"/><stop offset="1" stop-color="#b100ff"/></linearGradient>
<linearGradient id="if125" gradientUnits="userSpaceOnUse" x1="1466.0" y1="1286.0" x2="1257.0" y2="2116.4"><stop offset="0" stop-color="#fff"/><stop offset="0.2" stop-color="#e4aeff"/><stop offset="0.45" stop-color="#cc65ff"/><stop offset="0.7" stop-color="#ba30ff"/><stop offset="1" stop-color="#a0f"/></linearGradient>
<linearGradient id="if126" gradientUnits="userSpaceOnUse" x1="1466.0" y1="1286.0" x2="1229.8" y2="2126.7"><stop offset="0" stop-color="#fff"/><stop offset="0.2" stop-color="#e1adff"/><stop offset="0.45" stop-color="#c764ff"/><stop offset="0.7" stop-color="#b32fff"/><stop offset="1" stop-color="#a200ff"/></linearGradient>
<linearGradient id="if127" gradientUnits="userSpaceOnUse" x1="1466.0" y1="1286.0" x2="1201.4" y2="2137.3"><stop offset="0" stop-color="#fff"/><stop offset="0.2" stop-color="#deadff"/><stop offset="0.45" stop-color="#c164ff"/><stop offset="0.7" stop-color="#ac2fff"/><stop offset="1" stop-color="#9a00ff"/></linearGradient>
<linearGradient id="if128" gradientUnits="userSpaceOnUse" x1="1466.0" y1="1286.0" x2="1171.8" y2="2148.4"><stop offset="0" stop-color="#fff"/><stop offset="0.2" stop-color="#dbacff"/><stop offset="0.45" stop-color="#bc63ff"/><stop offset="0.7" stop-color="#a62eff"/><stop offset="1" stop-color="#9200ff"/></linearGradient>
<linearGradient id="if129" gradientUnits="userSpaceOnUse" x1="1466.0" y1="1286.0" x2="1140.8" y2="2160.0"><stop offset="0" stop-color="#fff"/><stop offset="0.2" stop-color="#d8abff"/><stop offset="0.45" stop-color="#b762ff"/><stop offset="0.7" stop-color="#9f2eff"/><stop offset="1" stop-color="#8a00ff"/></linearGradient>
<linearGradient id="if130" gradientUnits="userSpaceOnUse" x1="1466.0" y1="1286.0" x2="1108.3" y2="2172.2"><stop offset="0" stop-color="#fff"/><stop offset="0.2" stop-color="#d5aaff"/><stop offset="0.45" stop-color="#b161ff"/><stop offset="0.7" stop-color="#982dff"/><stop offset="1" stop-color="#8100ff"/></linearGradient>
<linearGradient id="if131" gradientUnits="userSpaceOnUse" x1="1466.0" y1="1286.0" x2="1074.2" y2="2185.0"><stop offset="0" stop-color="#fff"/><stop offset="0.2" stop-color="#d2aaff"/><stop offset="0.45" stop-color="#ab60ff"/><stop offset="0.7" stop-color="#902dff"/><stop offset="1" stop-color="#7900ff"/></linearGradient>
<linearGradient id="if132" gradientUnits="userSpaceOnUse" x1="1466.0" y1="1286.0" x2="1038.2" y2="2198.6"><stop offset="0" stop-color="#fff"/><stop offset="0.2" stop-color="#cfa9ff"/><stop offset="0.45" stop-color="#a55fff"/><stop offset="0.7" stop-color="#892cff"/><stop offset="1" stop-color="#7000ff"/></linearGradient>
<linearGradient id="if133" gradientUnits="userSpaceOnUse" x1="1466.0" y1="1286.0" x2="1000.1" y2="2212.9"><stop offset="0" stop-color="#fff"/><stop offset="0.2" stop-color="#cba8ff"/><stop offset="0.45" stop-color="#9f5eff"/><stop offset="0.7" stop-color="#812cff"/><stop offset="1" stop-color="#6700ff"/></linearGradient>
<linearGradient id="if134" gradientUnits="userSpaceOnUse" x1="1466.0" y1="1286.0" x2="959.6" y2="2228.0"><stop offset="0" stop-color="#fff"/><stop offset="0.2" stop-color="#c7a7ff"/><stop offset="0.45" stop-color="#995dff"/><stop offset="0.7" stop-color="#792bff"/><stop offset="1" stop-color="#5e00ff"/></linearGradient>
<linearGradient id="if135" gradientUnits="userSpaceOnUse" x1="1466.0" y1="1286.0" x2="916.6" y2="2244.2"><stop offset="0" stop-color="#fff"/><stop offset="0.2" stop-color="#c3a6ff"/><stop offset="0.45" stop-color="#925cff"/><stop offset="0.7" stop-color="#702aff"/><stop offset="1" stop-color="#5400ff"/></linearGradient>
<linearGradient id="if136" gradientUnits="userSpaceOnUse" x1="1466.0" y1="1286.0" x2="870.6" y2="2261.4"><stop offset="0" stop-color="#fff"/><stop offset="0.2" stop-color="#bfa5ff"/><stop offset="0.45" stop-color="#8b5bff"/><stop offset="0.7" stop-color="#682aff"/><stop offset="1" stop-color="#4a00ff"/></linearGradient>
<linearGradient id="if137" gradientUnits="userSpaceOnUse" x1="1466.0" y1="1286.0" x2="840.1" y2="2250.8"><stop offset="0" stop-color="#fff"/><stop offset="0.2" stop-color="#bca6ff"/><stop offset="0.45" stop-color="#865dff"/><stop offset="0.7" stop-color="#612dff"/><stop offset="1" stop-color="#4203ff"/></linearGradient>
<linearGradient id="if138" gradientUnits="userSpaceOnUse" x1="1466.0" y1="1286.0" x2="813.9" y2="2233.3"><stop offset="0" stop-color="#fff"/><stop offset="0.2" stop-color="#baa8ff"/><stop offset="0.45" stop-color="#8160ff"/><stop offset="0.7" stop-color="#5b30ff"/><stop offset="1" stop-color="#3b08ff"/></linearGradient>
<linearGradient id="if139" gradientUnits="userSpaceOnUse" x1="1466.0" y1="1286.0" x2="788.2" y2="2215.0"><stop offset="0" stop-color="#fff"/><stop offset="0.2" stop-color="#b7a9ff"/><stop offset="0.45" stop-color="#7d63ff"/><stop offset="0.7" stop-color="#5634ff"/><stop offset="1" stop-color="#340cff"/></linearGradient>
<linearGradient id="if140" gradientUnits="userSpaceOnUse" x1="1466.0" y1="1286.0" x2="763.0" y2="2196.1"><stop offset="0" stop-color="#fff"/><stop offset="0.2" stop-color="#b5abff"/><stop offset="0.45" stop-color="#7966ff"/><stop offset="0.7" stop-color="#5038ff"/><stop offset="1" stop-color="#2d10ff"/></linearGradient>
<linearGradient id="if141" gradientUnits="userSpaceOnUse" x1="1466.0" y1="1286.0" x2="738.3" y2="2176.5"><stop offset="0" stop-color="#fff"/><stop offset="0.2" stop-color="#b3adff"/><stop offset="0.45" stop-color="#7469ff"/><stop offset="0.7" stop-color="#4a3cff"/><stop offset="1" stop-color="#2615ff"/></linearGradient>
<linearGradient id="if142" gradientUnits="userSpaceOnUse" x1="1466.0" y1="1286.0" x2="714.2" y2="2156.2"><stop offset="0" stop-color="#fff"/><stop offset="0.2" stop-color="#b0aeff"/><stop offset="0.45" stop-color="#706cff"/><stop offset="0.7" stop-color="#4440ff"/><stop offset="1" stop-color="#1f1aff"/></linearGradient>
<linearGradient id="if143" gradientUnits="userSpaceOnUse" x1="1466.0" y1="1286.0" x2="690.7" y2="2135.4"><stop offset="0" stop-color="#fff"/><stop offset="0.2" stop-color="#aeb0ff"/><stop offset="0.45" stop-color="#6c70ff"/><stop offset="0.7" stop-color="#3f44ff"/><stop offset="1" stop-color="#191eff"/></linearGradient>
<linearGradient id="if144" gradientUnits="userSpaceOnUse" x1="1466.0" y1="1286.0" x2="667.9" y2="2114.0"><stop offset="0" stop-color="#fff"/><stop offset="0.2" stop-color="#acb2ff"/><stop offset="0.45" stop-color="#6873ff"/><stop offset="0.7" stop-color="#3948ff"/><stop offset="1" stop-color="#1223ff"/></linearGradient>
<linearGradient id="if145" gradientUnits="userSpaceOnUse" x1="1466.0" y1="1286.0" x2="645.7" y2="2092.0"><stop offset="0" stop-color="#fff"/><stop offset="0.2" stop-color="#aab4ff"/><stop offset="0.45" stop-color="#6476ff"/><stop offset="0.7" stop-color="#344cff"/><stop offset="1" stop-color="#0b28ff"/></linearGradient>
<linearGradient id="if146" gradientUnits="userSpaceOnUse" x1="1466.0" y1="1286.0" x2="624.1" y2="2069.4"><stop offset="0" stop-color="#fff"/><stop offset="0.2" stop-color="#a8b6ff"/><stop offset="0.45" stop-color="#607aff"/><stop offset="0.7" stop-color="#2e50ff"/><stop offset="1" stop-color="#042dff"/></linearGradient>
<linearGradient id="if147" gradientUnits="userSpaceOnUse" x1="1466.0" y1="1286.0" x2="620.4" y2="2031.0"><stop offset="0" stop-color="#fff"/><stop offset="0.2" stop-color="#a7b9ff"/><stop offset="0.45" stop-color="#5e7fff"/><stop offset="0.7" stop-color="#2b57ff"/><stop offset="1" stop-color="#0034ff"/></linearGradient>
<linearGradient id="if148" gradientUnits="userSpaceOnUse" x1="1466.0" y1="1286.0" x2="645.1" y2="1970.6"><stop offset="0" stop-color="#fff"/><stop offset="0.2" stop-color="#a9beff"/><stop offset="0.45" stop-color="#6087ff"/><stop offset="0.7" stop-color="#2c60ff"/><stop offset="1" stop-color="#003fff"/></linearGradient>
<linearGradient id="if149" gradientUnits="userSpaceOnUse" x1="1466.0" y1="1286.0" x2="667.3" y2="1916.1"><stop offset="0" stop-color="#fff"/><stop offset="0.2" stop-color="#abc3ff"/><stop offset="0.45" stop-color="#628eff"/><stop offset="0.7" stop-color="#2e69ff"/><stop offset="1" stop-color="#0049ff"/></linearGradient>
<linearGradient id="if150" gradientUnits="userSpaceOnUse" x1="1466.0" y1="1286.0" x2="687.5" y2="1866.5"><stop offset="0" stop-color="#fff"/><stop offset="0.2" stop-color="#acc7ff"/><stop offset="0.45" stop-color="#6395ff"/><stop offset="0.7" stop-color="#2f72ff"/><stop offset="1" stop-color="#0052ff"/></linearGradient>
<linearGradient id="if151" gradientUnits="userSpaceOnUse" x1="1466.0" y1="1286.0" x2="706.0" y2="1821.2"><stop offset="0" stop-color="#fff"/><stop offset="0.2" stop-color="#aecbff"/><stop offset="0.45" stop-color="#659cff"/><stop offset="0.7" stop-color="#307aff"/><stop offset="1" stop-color="#005bff"/></linearGradient>
<linearGradient id="if152" gradientUnits="userSpaceOnUse" x1="1466.0" y1="1286.0" x2="723.0" y2="1779.6"><stop offset="0" stop-color="#fff"/><stop offset="0.2" stop-color="#afcfff"/><stop offset="0.45" stop-color="#66a2ff"/><stop offset="0.7" stop-color="#3182ff"/><stop offset="1" stop-color="#0064ff"/></linearGradient>
<linearGradient id="if153" gradientUnits="userSpaceOnUse" x1="1466.0" y1="1286.0" x2="738.6" y2="1741.2"><stop offset="0" stop-color="#fff"/><stop offset="0.2" stop-color="#b1d2ff"/><stop offset="0.45" stop-color="#68a8ff"/><stop offset="0.7" stop-color="#3289ff"/><stop offset="1" stop-color="#006dff"/></linearGradient>
<linearGradient id="if154" gradientUnits="userSpaceOnUse" x1="1466.0" y1="1286.0" x2="753.2" y2="1705.6"><stop offset="0" stop-color="#fff"/><stop offset="0.2" stop-color="#b2d5ff"/><stop offset="0.45" stop-color="#69aeff"/><stop offset="0.7" stop-color="#3290ff"/><stop offset="1" stop-color="#0075ff"/></linearGradient>
<linearGradient id="if155" gradientUnits="userSpaceOnUse" x1="1466.0" y1="1286.0" x2="766.7" y2="1672.5"><stop offset="0" stop-color="#fff"/><stop offset="0.2" stop-color="#b3d8ff"/><stop offset="0.45" stop-color="#6bb4ff"/><stop offset="0.7" stop-color="#3397ff"/><stop offset="1" stop-color="#007dff"/></linearGradient>
<linearGradient id="if156" gradientUnits="userSpaceOnUse" x1="1466.0" y1="1286.0" x2="779.3" y2="1641.5"><stop offset="0" stop-color="#fff"/><stop offset="0.2" stop-color="#b4dbff"/><stop offset="0.45" stop-color="#6cb9ff"/><stop offset="0.7" stop-color="#349eff"/><stop offset="1" stop-color="#0085ff"/></linearGradient>
<linearGradient id="if157" gradientUnits="userSpaceOnUse" x1="1466.0" y1="1286.0" x2="791.2" y2="1612.4"><stop offset="0" stop-color="#fff"/><stop offset="0.2" stop-color="#b5deff"/><stop offset="0.45" stop-color="#6dbeff"/><stop offset="0.7" stop-color="#35a5ff"/><stop offset="1" stop-color="#008dff"/></linearGradient>
<linearGradient id="if158" gradientUnits="userSpaceOnUse" x1="1466.0" y1="1286.0" x2="802.4" y2="1585.0"><stop offset="0" stop-color="#fff"/><stop offset="0.2" stop-color="#b6e1ff"/><stop offset="0.45" stop-color="#6ec3ff"/><stop offset="0.7" stop-color="#36abff"/><stop offset="1" stop-color="#0095ff"/></linearGradient>
<linearGradient id="if159" gradientUnits="userSpaceOnUse" x1="1466.0" y1="1286.0" x2="812.9" y2="1559.2"><stop offset="0" stop-color="#fff"/><stop offset="0.2" stop-color="#b7e3ff"/><stop offset="0.45" stop-color="#70c7ff"/><stop offset="0.7" stop-color="#37b1ff"/><stop offset="1" stop-color="#009cff"/></linearGradient>
<linearGradient id="if160" gradientUnits="userSpaceOnUse" x1="1466.0" y1="1286.0" x2="822.9" y2="1534.7"><stop offset="0" stop-color="#fff"/><stop offset="0.2" stop-color="#b8e5ff"/><stop offset="0.45" stop-color="#71ccff"/><stop offset="0.7" stop-color="#37b7ff"/><stop offset="1" stop-color="#00a3ff"/></linearGradient>
<linearGradient id="if161" gradientUnits="userSpaceOnUse" x1="1466.0" y1="1286.0" x2="832.4" y2="1511.4"><stop offset="0" stop-color="#fff"/><stop offset="0.2" stop-color="#b9e8ff"/><stop offset="0.45" stop-color="#72d0ff"/><stop offset="0.7" stop-color="#38bdff"/><stop offset="1" stop-color="#00abff"/></linearGradient>
<linearGradient id="if162" gradientUnits="userSpaceOnUse" x1="1466.0" y1="1286.0" x2="841.4" y2="1489.3"><stop offset="0" stop-color="#fff"/><stop offset="0.2" stop-color="#baeaff"/><stop offset="0.45" stop-color="#73d4ff"/><stop offset="0.7" stop-color="#39c3ff"/><stop offset="1" stop-color="#00b2ff"/></linearGradient>
<linearGradient id="if163" gradientUnits="userSpaceOnUse" x1="1466.0" y1="1286.0" x2="850.0" y2="1468.1"><stop offset="0" stop-color="#fff"/><stop offset="0.2" stop-color="#baecff"/><stop offset="0.45" stop-color="#74d9ff"/><stop offset="0.7" stop-color="#3ac9ff"/><stop offset="1" stop-color="#00b9ff"/></linearGradient>
<linearGradient id="if164" gradientUnits="userSpaceOnUse" x1="1466.0" y1="1286.0" x2="858.3" y2="1447.8"><stop offset="0" stop-color="#fff"/><stop offset="0.2" stop-color="#bef"/><stop offset="0.45" stop-color="#75ddff"/><stop offset="0.7" stop-color="#3aceff"/><stop offset="1" stop-color="#00c0ff"/></linearGradient>
<linearGradient id="if165" gradientUnits="userSpaceOnUse" x1="1466.0" y1="1286.0" x2="866.2" y2="1428.4"><stop offset="0" stop-color="#fff"/><stop offset="0.2" stop-color="#bcf0ff"/><stop offset="0.45" stop-color="#76e1ff"/><stop offset="0.7" stop-color="#3bd3ff"/><stop offset="1" stop-color="#00c6ff"/></linearGradient>
<linearGradient id="if166" gradientUnits="userSpaceOnUse" x1="1466.0" y1="1286.0" x2="873.9" y2="1409.7"><stop offset="0" stop-color="#fff"/><stop offset="0.2" stop-color="#bdf2ff"/><stop offset="0.45" stop-color="#77e4ff"/><stop offset="0.7" stop-color="#3cd9ff"/><stop offset="1" stop-color="#00cdff"/></linearGradient>
<linearGradient id="if167" gradientUnits="userSpaceOnUse" x1="1466.0" y1="1286.0" x2="881.2" y2="1391.6"><stop offset="0" stop-color="#fff"/><stop offset="0.2" stop-color="#bdf4ff"/><stop offset="0.45" stop-color="#78e8ff"/><stop offset="0.7" stop-color="#3cdeff"/><stop offset="1" stop-color="#00d4ff"/></linearGradient>
<linearGradient id="if168" gradientUnits="userSpaceOnUse" x1="1466.0" y1="1286.0" x2="888.3" y2="1374.2"><stop offset="0" stop-color="#fff"/><stop offset="0.2" stop-color="#bef6ff"/><stop offset="0.45" stop-color="#78ecff"/><stop offset="0.7" stop-color="#3de3ff"/><stop offset="1" stop-color="#00dbff"/></linearGradient>
<linearGradient id="if169" gradientUnits="userSpaceOnUse" x1="1466.0" y1="1286.0" x2="895.2" y2="1357.4"><stop offset="0" stop-color="#fff"/><stop offset="0.2" stop-color="#bff7ff"/><stop offset="0.45" stop-color="#79efff"/><stop offset="0.7" stop-color="#3ee8ff"/><stop offset="1" stop-color="#00e1ff"/></linearGradient>
<linearGradient id="if170" gradientUnits="userSpaceOnUse" x1="1466.0" y1="1286.0" x2="901.9" y2="1341.0"><stop offset="0" stop-color="#fff"/><stop offset="0.2" stop-color="#bff9ff"/><stop offset="0.45" stop-color="#7af3ff"/><stop offset="0.7" stop-color="#3eedff"/><stop offset="1" stop-color="#00e8ff"/></linearGradient>
<linearGradient id="if171" gradientUnits="userSpaceOnUse" x1="1466.0" y1="1286.0" x2="908.4" y2="1325.1"><stop offset="0" stop-color="#fff"/><stop offset="0.2" stop-color="#c0fbff"/><stop offset="0.45" stop-color="#7bf6ff"/><stop offset="0.7" stop-color="#3ff3ff"/><stop offset="1" stop-color="#0ef"/></linearGradient>
<linearGradient id="if172" gradientUnits="userSpaceOnUse" x1="1466.0" y1="1286.0" x2="914.7" y2="1309.6"><stop offset="0" stop-color="#fff"/><stop offset="0.2" stop-color="#c1fdff"/><stop offset="0.45" stop-color="#7cfaff"/><stop offset="0.7" stop-color="#3ff8ff"/><stop offset="1" stop-color="#00f5ff"/></linearGradient>
<linearGradient id="if173" gradientUnits="userSpaceOnUse" x1="1466.0" y1="1286.0" x2="920.8" y2="1294.5"><stop offset="0" stop-color="#fff"/><stop offset="0.2" stop-color="#c1feff"/><stop offset="0.45" stop-color="#7dfdff"/><stop offset="0.7" stop-color="#40fdff"/><stop offset="1" stop-color="#00fcff"/></linearGradient>
<linearGradient id="if174" gradientUnits="userSpaceOnUse" x1="1466.0" y1="1286.0" x2="926.9" y2="1279.6"><stop offset="0" stop-color="#fff"/><stop offset="0.2" stop-color="#c1fffe"/><stop offset="0.45" stop-color="#7dfffd"/><stop offset="0.7" stop-color="#40fffc"/><stop offset="1" stop-color="#00fffc"/></linearGradient>
<linearGradient id="if175" gradientUnits="userSpaceOnUse" x1="1466.0" y1="1286.0" x2="933.0" y2="1264.8"><stop offset="0" stop-color="#fff"/><stop offset="0.2" stop-color="#c1fffd"/><stop offset="0.45" stop-color="#7cfffa"/><stop offset="0.7" stop-color="#3ffff8"/><stop offset="1" stop-color="#00fff5"/></linearGradient>
<linearGradient id="if176" gradientUnits="userSpaceOnUse" x1="1466.0" y1="1286.0" x2="938.9" y2="1250.3"><stop offset="0" stop-color="#fff"/><stop offset="0.2" stop-color="#c0fffb"/><stop offset="0.45" stop-color="#7bfff7"/><stop offset="0.7" stop-color="#3ffff3"/><stop offset="1" stop-color="#00ffef"/></linearGradient>
<linearGradient id="if177" gradientUnits="userSpaceOnUse" x1="1466.0" y1="1286.0" x2="944.7" y2="1236.1"><stop offset="0" stop-color="#fff"/><stop offset="0.2" stop-color="#bffffa"/><stop offset="0.45" stop-color="#7afff4"/><stop offset="0.7" stop-color="#3effee"/><stop offset="1" stop-color="#00ffe9"/></linearGradient>
<linearGradient id="if178" gradientUnits="userSpaceOnUse" x1="1466.0" y1="1286.0" x2="950.4" y2="1222.1"><stop offset="0" stop-color="#fff"/><stop offset="0.2" stop-color="#bffff8"/><stop offset="0.45" stop-color="#7afff1"/><stop offset="0.7" stop-color="#3effea"/><stop offset="1" stop-color="#00ffe3"/></linearGradient>
<linearGradient id="if179" gradientUnits="userSpaceOnUse" x1="1466.0" y1="1286.0" x2="956.0" y2="1208.3"><stop offset="0" stop-color="#fff"/><stop offset="0.2" stop-color="#befff7"/><stop offset="0.45" stop-color="#79ffee"/><stop offset="0.7" stop-color="#3dffe6"/><stop offset="1" stop-color="#00ffde"/></linearGradient>
<linearGradient id="if180" gradientUnits="userSpaceOnUse" x1="1466.0" y1="1286.0" x2="961.5" y2="1194.7"><stop offset="0" stop-color="#fff"/><stop offset="0.2" stop-color="#befff5"/><stop offset="0.45" stop-color="#78ffeb"/><stop offset="0.7" stop-color="#3dffe2"/><stop offset="1" stop-color="#00ffd9"/></linearGradient>
<linearGradient id="if181" gradientUnits="userSpaceOnUse" x1="1466.0" y1="1286.0" x2="967.0" y2="1181.3"><stop offset="0" stop-color="#fff"/><stop offset="0.2" stop-color="#bdfff4"/><stop offset="0.45" stop-color="#77ffe8"/><stop offset="0.7" stop-color="#3cffde"/><stop offset="1" stop-color="#00ffd3"/></linearGradient>
<linearGradient id="if182" gradientUnits="userSpaceOnUse" x1="1466.0" y1="1286.0" x2="972.5" y2="1168.0"><stop offset="0" stop-color="#fff"/><stop offset="0.2" stop-color="#bdfff2"/><stop offset="0.45" stop-color="#77ffe5"/><stop offset="0.7" stop-color="#3cffda"/><stop offset="1" stop-color="#00ffce"/></linearGradient>
<linearGradient id="if183" gradientUnits="userSpaceOnUse" x1="1466.0" y1="1286.0" x2="977.8" y2="1154.8"><stop offset="0" stop-color="#fff"/><stop offset="0.2" stop-color="#bcfff1"/><stop offset="0.45" stop-color="#76ffe2"/><stop offset="0.7" stop-color="#3bffd6"/><stop offset="1" stop-color="#00ffca"/></linearGradient>
<linearGradient id="if184" gradientUnits="userSpaceOnUse" x1="1466.0" y1="1286.0" x2="983.2" y2="1141.7"><stop offset="0" stop-color="#fff"/><stop offset="0.2" stop-color="#bcfff0"/><stop offset="0.45" stop-color="#75ffe0"/><stop offset="0.7" stop-color="#3bffd2"/><stop offset="1" stop-color="#00ffc5"/></linearGradient>
<linearGradient id="if185" gradientUnits="userSpaceOnUse" x1="1466.0" y1="1286.0" x2="988.5" y2="1128.7"><stop offset="0" stop-color="#fff"/><stop offset="0.2" stop-color="#bfe"/><stop offset="0.45" stop-color="#75ffdd"/><stop offset="0.7" stop-color="#3affcf"/><stop offset="1" stop-color="#00ffc0"/></linearGradient>
<linearGradient id="if186" gradientUnits="userSpaceOnUse" x1="1466.0" y1="1286.0" x2="993.8" y2="1115.7"><stop offset="0" stop-color="#fff"/><stop offset="0.2" stop-color="#bbffed"/><stop offset="0.45" stop-color="#74ffda"/><stop offset="0.7" stop-color="#3affcb"/><stop offset="1" stop-color="#00ffbc"/></linearGradient>
<linearGradient id="if187" gradientUnits="userSpaceOnUse" x1="1466.0" y1="1286.0" x2="999.1" y2="1102.8"><stop offset="0" stop-color="#fff"/><stop offset="0.2" stop-color="#baffec"/><stop offset="0.45" stop-color="#73ffd8"/><stop offset="0.7" stop-color="#39ffc8"/><stop offset="1" stop-color="#00ffb8"/></linearGradient>
<linearGradient id="if188" gradientUnits="userSpaceOnUse" x1="1466.0" y1="1286.0" x2="1004.3" y2="1089.8"><stop offset="0" stop-color="#fff"/><stop offset="0.2" stop-color="#baffea"/><stop offset="0.45" stop-color="#73ffd5"/><stop offset="0.7" stop-color="#39ffc4"/><stop offset="1" stop-color="#00ffb3"/></linearGradient>
<linearGradient id="if189" gradientUnits="userSpaceOnUse" x1="1466.0" y1="1286.0" x2="1009.6" y2="1076.9"><stop offset="0" stop-color="#fff"/><stop offset="0.2" stop-color="#b9ffe9"/><stop offset="0.45" stop-color="#72ffd3"/><stop offset="0.7" stop-color="#38ffc1"/><stop offset="1" stop-color="#00ffaf"/></linearGradient>
<linearGradient id="if190" gradientUnits="userSpaceOnUse" x1="1466.0" y1="1286.0" x2="1014.9" y2="1063.9"><stop offset="0" stop-color="#fff"/><stop offset="0.2" stop-color="#b9ffe8"/><stop offset="0.45" stop-color="#72ffd0"/><stop offset="0.7" stop-color="#38ffbe"/><stop offset="1" stop-color="#00ffab"/></linearGradient>
<linearGradient id="if191" gradientUnits="userSpaceOnUse" x1="1466.0" y1="1286.0" x2="1020.2" y2="1050.9"><stop offset="0" stop-color="#fff"/><stop offset="0.2" stop-color="#b8ffe7"/><stop offset="0.45" stop-color="#71ffce"/><stop offset="0.7" stop-color="#38ffba"/><stop offset="1" stop-color="#00ffa7"/></linearGradient>
<linearGradient id="if192" gradientUnits="userSpaceOnUse" x1="1466.0" y1="1286.0" x2="1025.6" y2="1037.8"><stop offset="0" stop-color="#fff"/><stop offset="0.2" stop-color="#b8ffe5"/><stop offset="0.45" stop-color="#70ffcc"/><stop offset="0.7" stop-color="#37ffb7"/><stop offset="1" stop-color="#00ffa3"/></linearGradient>
<linearGradient id="if193" gradientUnits="userSpaceOnUse" x1="1466.0" y1="1286.0" x2="1031.0" y2="1024.6"><stop offset="0" stop-color="#fff"/><stop offset="0.2" stop-color="#b7ffe4"/><stop offset="0.45" stop-color="#70ffc9"/><stop offset="0.7" stop-color="#37ffb4"/><stop offset="1" stop-color="#00ff9f"/></linearGradient>
<linearGradient id="if194" gradientUnits="userSpaceOnUse" x1="1466.0" y1="1286.0" x2="1036.4" y2="1011.3"><stop offset="0" stop-color="#fff"/><stop offset="0.2" stop-color="#b7ffe3"/><stop offset="0.45" stop-color="#6fffc7"/><stop offset="0.7" stop-color="#36ffb0"/><stop offset="1" stop-color="#00ff9b"/></linearGradient>
<linearGradient id="if195" gradientUnits="userSpaceOnUse" x1="1466.0" y1="1286.0" x2="1041.9" y2="997.8"><stop offset="0" stop-color="#fff"/><stop offset="0.2" stop-color="#b6ffe1"/><stop offset="0.45" stop-color="#6fffc4"/><stop offset="0.7" stop-color="#36ffad"/><stop offset="1" stop-color="#00ff97"/></linearGradient>
<linearGradient id="if196" gradientUnits="userSpaceOnUse" x1="1466.0" y1="1286.0" x2="1047.4" y2="984.2"><stop offset="0" stop-color="#fff"/><stop offset="0.2" stop-color="#b6ffe0"/><stop offset="0.45" stop-color="#6effc2"/><stop offset="0.7" stop-color="#36ffaa"/><stop offset="1" stop-color="#00ff93"/></linearGradient>
<linearGradient id="if197" gradientUnits="userSpaceOnUse" x1="1466.0" y1="1286.0" x2="1053.0" y2="970.4"><stop offset="0" stop-color="#fff"/><stop offset="0.2" stop-color="#b5ffdf"/><stop offset="0.45" stop-color="#6dffbf"/><stop offset="0.7" stop-color="#35ffa7"/><stop offset="1" stop-color="#00ff90"/></linearGradient>
<linearGradient id="if198" gradientUnits="userSpaceOnUse" x1="1466.0" y1="1286.0" x2="1058.8" y2="956.4"><stop offset="0" stop-color="#fff"/><stop offset="0.2" stop-color="#b5ffdd"/><stop offset="0.45" stop-color="#6dffbd"/><stop offset="0.7" stop-color="#35ffa4"/><stop offset="1" stop-color="#00ff8c"/></linearGradient>
<linearGradient id="if199" gradientUnits="userSpaceOnUse" x1="1466.0" y1="1286.0" x2="1064.6" y2="942.2"><stop offset="0" stop-color="#fff"/><stop offset="0.2" stop-color="#b4ffdc"/><stop offset="0.45" stop-color="#6cffbb"/><stop offset="0.7" stop-color="#34ffa0"/><stop offset="1" stop-color="#0f8"/></linearGradient>
<linearGradient id="if200" gradientUnits="userSpaceOnUse" x1="1466.0" y1="1286.0" x2="1070.5" y2="927.7"><stop offset="0" stop-color="#fff"/><stop offset="0.2" stop-color="#b4ffdb"/><stop offset="0.45" stop-color="#6cffb8"/><stop offset="0.7" stop-color="#34ff9d"/><stop offset="1" stop-color="#00ff84"/></linearGradient>
<linearGradient id="if201" gradientUnits="userSpaceOnUse" x1="1466.0" y1="1286.0" x2="1076.5" y2="912.9"><stop offset="0" stop-color="#fff"/><stop offset="0.2" stop-color="#b3ffd9"/><stop offset="0.45" stop-color="#6bffb6"/><stop offset="0.7" stop-color="#34ff9a"/><stop offset="1" stop-color="#00ff80"/></linearGradient>
<linearGradient id="if202" gradientUnits="userSpaceOnUse" x1="1466.0" y1="1286.0" x2="1082.7" y2="897.8"><stop offset="0" stop-color="#fff"/><stop offset="0.2" stop-color="#b3ffd8"/><stop offset="0.45" stop-color="#6affb3"/><stop offset="0.7" stop-color="#33ff97"/><stop offset="1" stop-color="#00ff7d"/></linearGradient>
<linearGradient id="if203" gradientUnits="userSpaceOnUse" x1="1466.0" y1="1286.0" x2="1089.0" y2="882.3"><stop offset="0" stop-color="#fff"/><stop offset="0.2" stop-color="#b2ffd7"/><stop offset="0.45" stop-color="#6affb0"/><stop offset="0.7" stop-color="#33ff94"/><stop offset="1" stop-color="#00ff79"/></linearGradient>
<linearGradient id="if204" gradientUnits="userSpaceOnUse" x1="1466.0" y1="1286.0" x2="1095.5" y2="866.4"><stop offset="0" stop-color="#fff"/><stop offset="0.2" stop-color="#b2ffd5"/><stop offset="0.45" stop-color="#69ffae"/><stop offset="0.7" stop-color="#32ff90"/><stop offset="1" stop-color="#00ff75"/></linearGradient>
<linearGradient id="if205" gradientUnits="userSpaceOnUse" x1="1466.0" y1="1286.0" x2="1102.2" y2="850.0"><stop offset="0" stop-color="#fff"/><stop offset="0.2" stop-color="#b1ffd4"/><stop offset="0.45" stop-color="#68ffab"/><stop offset="0.7" stop-color="#32ff8d"/><stop offset="1" stop-color="#00ff71"/></linearGradient>
<linearGradient id="if206" gradientUnits="userSpaceOnUse" x1="1466.0" y1="1286.0" x2="1109.0" y2="833.2"><stop offset="0" stop-color="#fff"/><stop offset="0.2" stop-color="#b0ffd2"/><stop offset="0.45" stop-color="#68ffa9"/><stop offset="0.7" stop-color="#31ff8a"/><stop offset="1" stop-color="#00ff6d"/></linearGradient>
<linearGradient id="if207" gradientUnits="userSpaceOnUse" x1="1466.0" y1="1286.0" x2="1116.1" y2="815.8"><stop offset="0" stop-color="#fff"/><stop offset="0.2" stop-color="#b0ffd1"/><stop offset="0.45" stop-color="#67ffa6"/><stop offset="0.7" stop-color="#31ff86"/><stop offset="1" stop-color="#00ff69"/></linearGradient>
<linearGradient id="if208" gradientUnits="userSpaceOnUse" x1="1466.0" y1="1286.0" x2="1123.4" y2="797.8"><stop offset="0" stop-color="#fff"/><stop offset="0.2" stop-color="#afffcf"/><stop offset="0.45" stop-color="#66ffa3"/><stop offset="0.7" stop-color="#31ff83"/><stop offset="1" stop-color="#00ff65"/></linearGradient>
<linearGradient id="if209" gradientUnits="userSpaceOnUse" x1="1466.0" y1="1286.0" x2="1131.0" y2="779.2"><stop offset="0" stop-color="#fff"/><stop offset="0.2" stop-color="#afffcd"/><stop offset="0.45" stop-color="#66ffa0"/><stop offset="0.7" stop-color="#30ff7f"/><stop offset="1" stop-color="#00ff61"/></linearGradient>
<linearGradient id="if210" gradientUnits="userSpaceOnUse" x1="1466.0" y1="1286.0" x2="1138.9" y2="759.8"><stop offset="0" stop-color="#fff"/><stop offset="0.2" stop-color="#aeffcc"/><stop offset="0.45" stop-color="#65ff9d"/><stop offset="0.7" stop-color="#30ff7b"/><stop offset="1" stop-color="#00ff5d"/></linearGradient>
<linearGradient id="if211" gradientUnits="userSpaceOnUse" x1="1466.0" y1="1286.0" x2="1147.2" y2="739.7"><stop offset="0" stop-color="#fff"/><stop offset="0.2" stop-color="#adffca"/><stop offset="0.45" stop-color="#64ff9a"/><stop offset="0.7" stop-color="#2fff78"/><stop offset="1" stop-color="#00ff59"/></linearGradient>
<linearGradient id="if212" gradientUnits="userSpaceOnUse" x1="1466.0" y1="1286.0" x2="1155.7" y2="718.7"><stop offset="0" stop-color="#fff"/><stop offset="0.2" stop-color="#adffc8"/><stop offset="0.45" stop-color="#64ff97"/><stop offset="0.7" stop-color="#2fff74"/><stop offset="1" stop-color="#0f5"/></linearGradient>
<linearGradient id="if213" gradientUnits="userSpaceOnUse" x1="1466.0" y1="1286.0" x2="1164.7" y2="696.7"><stop offset="0" stop-color="#fff"/><stop offset="0.2" stop-color="#acffc6"/><stop offset="0.45" stop-color="#63ff94"/><stop offset="0.7" stop-color="#2eff70"/><stop offset="1" stop-color="#00ff51"/></linearGradient>
<linearGradient id="if214" gradientUnits="userSpaceOnUse" x1="1466.0" y1="1286.0" x2="1174.1" y2="673.6"><stop offset="0" stop-color="#fff"/><stop offset="0.2" stop-color="#abffc4"/><stop offset="0.45" stop-color="#62ff91"/><stop offset="0.7" stop-color="#2eff6c"/><stop offset="1" stop-color="#00ff4c"/></linearGradient>
<linearGradient id="if215" gradientUnits="userSpaceOnUse" x1="1466.0" y1="1286.0" x2="1184.0" y2="649.3"><stop offset="0" stop-color="#fff"/><stop offset="0.2" stop-color="#aaffc2"/><stop offset="0.45" stop-color="#61ff8d"/><stop offset="0.7" stop-color="#2dff68"/><stop offset="1" stop-color="#00ff48"/></linearGradient>
<linearGradient id="if216" gradientUnits="userSpaceOnUse" x1="1466.0" y1="1286.0" x2="1194.5" y2="623.7"><stop offset="0" stop-color="#fff"/><stop offset="0.2" stop-color="#aaffc0"/><stop offset="0.45" stop-color="#60ff8a"/><stop offset="0.7" stop-color="#2dff64"/><stop offset="1" stop-color="#00ff43"/></linearGradient>
<linearGradient id="if217" gradientUnits="userSpaceOnUse" x1="1466.0" y1="1286.0" x2="1205.5" y2="596.5"><stop offset="0" stop-color="#fff"/><stop offset="0.2" stop-color="#a9ffbe"/><stop offset="0.45" stop-color="#5fff86"/><stop offset="0.7" stop-color="#2cff60"/><stop offset="1" stop-color="#00ff3e"/></linearGradient>
<linearGradient id="if218" gradientUnits="userSpaceOnUse" x1="1466.0" y1="1286.0" x2="1217.3" y2="567.7"><stop offset="0" stop-color="#fff"/><stop offset="0.2" stop-color="#a8ffbb"/><stop offset="0.45" stop-color="#5eff82"/><stop offset="0.7" stop-color="#2cff5b"/><stop offset="1" stop-color="#00ff39"/></linearGradient>
<linearGradient id="if219" gradientUnits="userSpaceOnUse" x1="1466.0" y1="1286.0" x2="1229.8" y2="537.0"><stop offset="0" stop-color="#fff"/><stop offset="0.2" stop-color="#a7ffb9"/><stop offset="0.45" stop-color="#5dff7e"/><stop offset="0.7" stop-color="#2bff56"/><stop offset="1" stop-color="#00ff34"/></linearGradient>
<linearGradient id="if220" gradientUnits="userSpaceOnUse" x1="1466.0" y1="1286.0" x2="1243.2" y2="504.2"><stop offset="0" stop-color="#fff"/><stop offset="0.2" stop-color="#a6ffb6"/><stop offset="0.45" stop-color="#5cff7a"/><stop offset="0.7" stop-color="#2aff51"/><stop offset="1" stop-color="#00ff2f"/></linearGradient>
<linearGradient id="if221" gradientUnits="userSpaceOnUse" x1="1466.0" y1="1286.0" x2="1257.6" y2="469.0"><stop offset="0" stop-color="#fff"/><stop offset="0.2" stop-color="#a5ffb3"/><stop offset="0.45" stop-color="#5bff76"/><stop offset="0.7" stop-color="#2aff4c"/><stop offset="1" stop-color="#00ff2a"/></linearGradient>
<linearGradient id="if222" gradientUnits="userSpaceOnUse" x1="1466.0" y1="1286.0" x2="1273.1" y2="431.0"><stop offset="0" stop-color="#fff"/><stop offset="0.2" stop-color="#a4ffb0"/><stop offset="0.45" stop-color="#5aff71"/><stop offset="0.7" stop-color="#29ff47"/><stop offset="1" stop-color="#00ff24"/></linearGradient>
<linearGradient id="if223" gradientUnits="userSpaceOnUse" x1="1466.0" y1="1286.0" x2="1289.9" y2="389.8"><stop offset="0" stop-color="#fff"/><stop offset="0.2" stop-color="#a2ffad"/><stop offset="0.45" stop-color="#59ff6d"/><stop offset="0.7" stop-color="#28ff42"/><stop offset="1" stop-color="#00ff1e"/></linearGradient>
<linearGradient id="if224" gradientUnits="userSpaceOnUse" x1="1466.0" y1="1286.0" x2="1308.1" y2="345.0"><stop offset="0" stop-color="#fff"/><stop offset="0.2" stop-color="#a1ffaa"/><stop offset="0.45" stop-color="#58ff67"/><stop offset="0.7" stop-color="#28ff3c"/><stop offset="1" stop-color="#00ff18"/></linearGradient>
<linearGradient id="if225" gradientUnits="userSpaceOnUse" x1="1466.0" y1="1286.0" x2="1328.2" y2="295.9"><stop offset="0" stop-color="#fff"/><stop offset="0.2" stop-color="#a0ffa6"/><stop offset="0.45" stop-color="#56ff62"/><stop offset="0.7" stop-color="#27ff36"/><stop offset="1" stop-color="#0f1"/></linearGradient>
<linearGradient id="if226" gradientUnits="userSpaceOnUse" x1="1466.0" y1="1286.0" x2="1350.2" y2="242.0"><stop offset="0" stop-color="#fff"/><stop offset="0.2" stop-color="#9effa2"/><stop offset="0.45" stop-color="#55ff5c"/><stop offset="0.7" stop-color="#26ff2f"/><stop offset="1" stop-color="#00ff0b"/></linearGradient>
<linearGradient id="if227" gradientUnits="userSpaceOnUse" x1="1466.0" y1="1286.0" x2="1374.6" y2="182.1"><stop offset="0" stop-color="#fff"/><stop offset="0.2" stop-color="#9dff9e"/><stop offset="0.45" stop-color="#53ff56"/><stop offset="0.7" stop-color="#25ff28"/><stop offset="1" stop-color="#00ff04"/></linearGradient>
<radialGradient id="iw" gradientUnits="userSpaceOnUse" cx="1466.0" cy="1286.0" r="16"><stop offset="0" stop-color="#fff"/><stop offset=".3" stop-color="#fff" stop-opacity=".9"/><stop offset="1" stop-color="#fff" stop-opacity="0"/></radialGradient>
<clipPath id="itri"><path d="M3481.2 1281.8L1387.8 149.7L464.3 2413.9z"/></clipPath>
<clipPath id="cpm"><rect x="2067" y="154" width="1719" height="1376"/></clipPath>
<clipPath id="cpl"><path d="M2801.6 1493.4L2801.6 1493.3L2801.4 1493.3L2801.3 1493.3L2801.2 1493.4L2801.0 1493.5L2800.9 1493.7L2800.7 1494.0L2800.5 1494.1L2800.3 1494.2L2800.1 1494.1L2799.8 1494.1L2799.6 1494.1L2799.3 1494.3L2799.0 1494.5L2798.8 1494.7L2798.5 1494.9L2798.1 1494.9L2797.8 1494.9L2797.4 1494.9L2797.0 1494.9L2796.6 1494.9L2796.1 1494.9L2795.6 1494.9L2795.1 1494.9L2794.6 1495.0L2794.1 1495.0L2793.5 1495.1L2792.7 1494.9L2791.9 1494.6L2790.9 1494.1L2789.8 1493.5L2788.5 1492.7L2786.9 1491.7L2785.1 1490.5L2783.1 1489.1L2781.0 1487.5L2778.8 1485.8L2776.5 1484.0L2773.9 1481.9L2771.0 1479.5L2767.8 1476.8L2764.3 1473.9L2760.5 1470.7L2756.5 1467.3L2752.3 1463.6L2747.9 1459.6L2743.2 1455.5L2738.2 1451.0L2733.0 1446.5L2727.4 1441.7L2721.5 1436.6L2715.1 1431.1L2708.2 1425.2L2700.8 1418.9L2693.0 1412.3L2684.8 1405.2L2676.3 1397.9L2667.5 1390.4L2658.2 1382.3L2648.3 1373.4L2637.9 1364.0L2627.1 1354.0L2615.6 1343.2L2603.5 1331.3L2591.2 1318.9L2578.5 1306.0L2564.9 1291.4L2549.8 1274.2L2533.4 1254.8L2516.1 1233.7L2497.8 1210.5L2478.4 1184.5L2458.3 1156.7L2437.7 1127.5L2416.4 1096.1L2394.2 1061.8L2371.5 1025.6L2348.7 988.2L2325.8 949.5L2302.8 909.1L2279.7 867.9L2257.1 826.7L2235.3 785.4L2214.8 743.9L2195.6 702.6L2177.6 662.1L2161.0 622.9L2146.0 585.3L2132.3 549.0L2119.7 514.2L2108.7 481.6L2099.4 451.7L2091.5 423.9L2084.8 397.8L2079.3 373.9L2075.3 352.3L2072.3 332.7L2070.3 314.6L2069.3 298.1L2069.4 283.2L2070.5 269.5L2072.4 257.0L2075.1 245.7L2078.6 235.6L2083.0 226.7L2088.3 218.6L2094.2 211.5L2100.5 205.5L2107.5 200.4L2115.1 196.3L2123.2 192.9L2131.6 190.1L2140.3 187.9L2149.4 186.4L2158.9 185.3L2168.5 184.4L2178.3 183.7L2188.4 183.3L2198.6 183.1L2208.8 183.0L2219.0 182.9L2229.2 183.0L2239.4 183.2L2249.8 183.5L2260.2 183.9L2270.8 184.4L2281.5 184.9L2292.5 185.6L2303.6 186.3L2315.0 187.1L2326.6 188.1L2338.5 189.0L2350.6 190.1L2362.9 191.2L2375.5 192.5L2388.4 193.7L2401.7 195.1L2415.2 196.5L2429.1 198.0L2443.4 199.5L2458.0 201.1L2473.1 202.8L2488.5 204.5L2504.3 206.3L2520.5 208.2L2537.1 210.1L2554.1 212.1L2571.6 214.2L2589.6 216.3L2608.0 218.4L2626.9 220.6L2646.2 222.9L2666.0 225.3L2686.2 227.7L2707.0 230.2L2728.1 232.7L2749.8 235.3L2771.9 238.0L2794.5 240.7L2817.5 243.4L2841.0 246.3L2864.9 249.1L2889.2 252.0L2913.9 255.0L2938.9 258.0L2964.3 261.0L2990.0 264.1L3015.9 267.2L3042.0 270.3L3068.2 273.5L3094.5 276.6L3120.6 279.8L3146.4 282.9L3171.8 285.9L3197.0 288.9L3222.2 291.9L3247.3 295.0L3272.3 298.0L3296.9 300.9L3321.0 303.8L3344.4 306.6L3367.0 309.2L3389.1 311.9L3410.6 314.4L3431.4 316.9L3451.5 319.3L3470.9 321.7L3489.7 323.9L3507.7 326.1L3524.8 328.2L3541.2 330.1L3557.0 332.0L3572.1 333.8L3586.5 335.5L3600.2 337.2L3613.4 338.7L3626.1 340.3L3638.1 341.7L3649.7 343.1L3661.0 344.5L3671.9 345.8L3682.4 347.0L3692.5 348.2L3702.2 349.4L3711.5 350.5L3720.4 351.6L3728.9 352.6L3737.0 353.6L3744.7 354.5L3751.9 355.4L3758.8 356.1L3765.2 356.9L3771.3 357.6L3776.9 358.3L3782.1 358.9L3787.1 359.5L3791.8 360.1L3796.2 360.6L3800.3 361.1L3804.1 361.6L3807.7 362.0L3811.1 362.4L3814.1 362.8L3816.9 363.1L3819.3 363.4L3821.4 363.7L3823.3 363.9L3825.2 364.1L3827.0 364.3L3828.8 364.5L3830.4 364.7L3832.0 364.9L3833.5 365.1L3834.8 365.3L3836.1 365.4L3837.4 365.6L3838.7 365.7L3840.1 365.9L3841.4 366.1L3842.7 366.2L3844.0 366.4L3845.2 366.5L3846.3 366.7L3847.3 366.8L3848.3 366.9L3849.1 367.0L3849.8 367.1L3850.4 367.2L3850.9 367.2L3851.4 367.3L3851.7 367.3L3852.0 367.3L3852.2 367.4L3852.5 367.4L3852.6 367.4L3852.8 367.4z"/></clipPath>
<clipPath id="cpi"><rect x="1042.5" y="906.2" width="858.5" height="583"/></clipPath>
<clipPath id="cpb"><rect x="61.8" y="184.4" width="872.7" height="1336.4"/></clipPath>
<linearGradient id="b0" gradientUnits="userSpaceOnUse" x1="61.8" y1="0" x2="701.9" y2="0"><stop offset="0" stop-color="#ff0"/><stop offset=".55" stop-color="#fff000"/><stop offset="1" stop-color="#be963c"/></linearGradient>
<linearGradient id="b1" gradientUnits="userSpaceOnUse" x1="61.8" y1="0" x2="358.6" y2="0"><stop offset="0" stop-color="#ff1eff"/><stop offset=".55" stop-color="#f000f0"/><stop offset="1" stop-color="#821482"/></linearGradient>
<linearGradient id="b2" gradientUnits="userSpaceOnUse" x1="61.8" y1="0" x2="151.7" y2="0"><stop offset="0" stop-color="#3cffff"/><stop offset=".55" stop-color="#00ebeb"/><stop offset="1" stop-color="#008c78"/></linearGradient>
<linearGradient id="b3" gradientUnits="userSpaceOnUse" x1="61.8" y1="0" x2="151.7" y2="0"><stop offset="0" stop-color="#3c3cff"/><stop offset=".55" stop-color="#0000f0"/><stop offset="1" stop-color="#000082"/></linearGradient>
<linearGradient id="b4" gradientUnits="userSpaceOnUse" x1="61.8" y1="0" x2="639.6" y2="0"><stop offset="0" stop-color="#28ff28"/><stop offset=".55" stop-color="#00f000"/><stop offset="1" stop-color="#14781e"/></linearGradient>
<linearGradient id="b5" gradientUnits="userSpaceOnUse" x1="61.8" y1="0" x2="723.5" y2="0"><stop offset="0" stop-color="#ff3c3c"/><stop offset=".55" stop-color="#f00"/><stop offset="1" stop-color="#780a14"/></linearGradient>
<linearGradient id="b6" gradientUnits="userSpaceOnUse" x1="61.8" y1="0" x2="411.4" y2="0"><stop offset="0" stop-color="#96695f"/><stop offset=".55" stop-color="#5f3732"/><stop offset="1" stop-color="#282020"/></linearGradient>
<linearGradient id="b7" gradientUnits="userSpaceOnUse" x1="61.8" y1="0" x2="542.4" y2="0"><stop offset="0" stop-color="#d7cd4b"/><stop offset=".55" stop-color="#beaf3c"/><stop offset="1" stop-color="#78733c"/></linearGradient>
<linearGradient id="b8" gradientUnits="userSpaceOnUse" x1="61.8" y1="0" x2="461.6" y2="0"><stop offset="0" stop-color="#cdaf5f"/><stop offset=".55" stop-color="#b9964b"/><stop offset="1" stop-color="#826446"/></linearGradient>
<linearGradient id="b9" gradientUnits="userSpaceOnUse" x1="61.8" y1="0" x2="464.4" y2="0"><stop offset="0" stop-color="#eba569"/><stop offset=".55" stop-color="#c88250"/><stop offset="1" stop-color="#824b41"/></linearGradient>
<linearGradient id="b10" gradientUnits="userSpaceOnUse" x1="61.8" y1="0" x2="408.5" y2="0"><stop offset="0" stop-color="#87b955"/><stop offset=".55" stop-color="#649641"/><stop offset="1" stop-color="#235028"/></linearGradient>
<linearGradient id="b11" gradientUnits="userSpaceOnUse" x1="61.8" y1="0" x2="433.8" y2="0"><stop offset="0" stop-color="#739b55"/><stop offset=".55" stop-color="#557d37"/><stop offset="1" stop-color="#234b28"/></linearGradient>
<linearGradient id="b12" gradientUnits="userSpaceOnUse" x1="61.8" y1="0" x2="376.5" y2="0"><stop offset="0" stop-color="#a5af5f"/><stop offset=".55" stop-color="#829146"/><stop offset="1" stop-color="#465a37"/></linearGradient>
<linearGradient id="b13" gradientUnits="userSpaceOnUse" x1="61.8" y1="0" x2="223.6" y2="0"><stop offset="0" stop-color="#73af9b"/><stop offset=".55" stop-color="#559173"/><stop offset="1" stop-color="#2d553c"/></linearGradient>
<linearGradient id="b14" gradientUnits="userSpaceOnUse" x1="61.8" y1="0" x2="270.7" y2="0"><stop offset="0" stop-color="#5f695f"/><stop offset=".55" stop-color="#3c463c"/><stop offset="1" stop-color="#202020"/></linearGradient>
<linearGradient id="b15" gradientUnits="userSpaceOnUse" x1="61.8" y1="0" x2="264.5" y2="0"><stop offset="0" stop-color="#559b7d"/><stop offset=".55" stop-color="#3c7d5a"/><stop offset="1" stop-color="#28503c"/></linearGradient>
<linearGradient id="b16" gradientUnits="userSpaceOnUse" x1="61.8" y1="0" x2="276.6" y2="0"><stop offset="0" stop-color="#87af87"/><stop offset=".55" stop-color="#699164"/><stop offset="1" stop-color="#325a37"/></linearGradient>
<linearGradient id="b17" gradientUnits="userSpaceOnUse" x1="61.8" y1="0" x2="264.5" y2="0"><stop offset="0" stop-color="#5f5555"/><stop offset=".55" stop-color="#3c3434"/><stop offset="1" stop-color="#282424"/></linearGradient>
<linearGradient id="b18" gradientUnits="userSpaceOnUse" x1="61.8" y1="0" x2="554.5" y2="0"><stop offset="0" stop-color="#e1cd41"/><stop offset=".55" stop-color="#c3af37"/><stop offset="1" stop-color="#785a4b"/></linearGradient>
<linearGradient id="b19" gradientUnits="userSpaceOnUse" x1="61.8" y1="0" x2="467.5" y2="0"><stop offset="0" stop-color="#e1af41"/><stop offset=".55" stop-color="#c8963c"/><stop offset="1" stop-color="#7d4b46"/></linearGradient>
<linearGradient id="b20" gradientUnits="userSpaceOnUse" x1="61.8" y1="0" x2="358.6" y2="0"><stop offset="0" stop-color="#eb9b7d"/><stop offset=".55" stop-color="#c88269"/><stop offset="1" stop-color="#8c554b"/></linearGradient>
<linearGradient id="b21" gradientUnits="userSpaceOnUse" x1="61.8" y1="0" x2="361.4" y2="0"><stop offset="0" stop-color="#9b6955"/><stop offset=".55" stop-color="#7d5041"/><stop offset="1" stop-color="#5a3232"/></linearGradient>
<linearGradient id="b22" gradientUnits="userSpaceOnUse" x1="61.8" y1="0" x2="336.7" y2="0"><stop offset="0" stop-color="#e19b87"/><stop offset=".55" stop-color="#be7d69"/><stop offset="1" stop-color="#7d5046"/></linearGradient>
<linearGradient id="b23" gradientUnits="userSpaceOnUse" x1="61.8" y1="0" x2="308.6" y2="0"><stop offset="0" stop-color="#ebaf9b"/><stop offset=".55" stop-color="#c38778"/><stop offset="1" stop-color="#78504b"/></linearGradient>
<linearGradient id="b24" gradientUnits="userSpaceOnUse" x1="61.8" y1="0" x2="320.7" y2="0"><stop offset="0" stop-color="#e1a591"/><stop offset=".55" stop-color="#b9826e"/><stop offset="1" stop-color="#7d5046"/></linearGradient>
<linearGradient id="b25" gradientUnits="userSpaceOnUse" x1="61.8" y1="0" x2="367.8" y2="0"><stop offset="0" stop-color="#ffaf9b"/><stop offset=".55" stop-color="#dc917d"/><stop offset="1" stop-color="#965a50"/></linearGradient>
<linearGradient id="b26" gradientUnits="userSpaceOnUse" x1="61.8" y1="0" x2="314.5" y2="0"><stop offset="0" stop-color="#e19b87"/><stop offset=".55" stop-color="#b97869"/><stop offset="1" stop-color="#7d4641"/></linearGradient>
<linearGradient id="b27" gradientUnits="userSpaceOnUse" x1="61.8" y1="0" x2="192.4" y2="0"><stop offset="0" stop-color="#419baf"/><stop offset=".55" stop-color="#2d737d"/><stop offset="1" stop-color="#143750"/></linearGradient>
<linearGradient id="b28" gradientUnits="userSpaceOnUse" x1="61.8" y1="0" x2="183.4" y2="0"><stop offset="0" stop-color="#7db9c3"/><stop offset=".55" stop-color="#5a9196"/><stop offset="1" stop-color="#325a5a"/></linearGradient>
<linearGradient id="b29" gradientUnits="userSpaceOnUse" x1="61.8" y1="0" x2="651.6" y2="0"><stop offset="0" stop-color="#ffc32d"/><stop offset=".55" stop-color="#e1aa32"/><stop offset="1" stop-color="#875546"/></linearGradient>
<linearGradient id="b30" gradientUnits="userSpaceOnUse" x1="61.8" y1="0" x2="636.5" y2="0"><stop offset="0" stop-color="#ebcd37"/><stop offset=".55" stop-color="#cdb92d"/><stop offset="1" stop-color="#8c5546"/></linearGradient>
<linearGradient id="b31" gradientUnits="userSpaceOnUse" x1="61.8" y1="0" x2="367.6" y2="0"><stop offset="0" stop-color="#eb9b7d"/><stop offset=".55" stop-color="#c88264"/><stop offset="1" stop-color="#8c5a46"/></linearGradient>
<linearGradient id="b32" gradientUnits="userSpaceOnUse" x1="61.8" y1="0" x2="420.3" y2="0"><stop offset="0" stop-color="#c37355"/><stop offset=".55" stop-color="#965a41"/><stop offset="1" stop-color="#552d32"/></linearGradient>
<linearGradient id="b33" gradientUnits="userSpaceOnUse" x1="61.8" y1="0" x2="326.6" y2="0"><stop offset="0" stop-color="#eba591"/><stop offset=".55" stop-color="#c88c78"/><stop offset="1" stop-color="#8c6455"/></linearGradient>
<linearGradient id="b34" gradientUnits="userSpaceOnUse" x1="61.8" y1="0" x2="330.5" y2="0"><stop offset="0" stop-color="#b97d5f"/><stop offset=".55" stop-color="#915f46"/><stop offset="1" stop-color="#5f3c37"/></linearGradient>
<linearGradient id="b35" gradientUnits="userSpaceOnUse" x1="61.8" y1="0" x2="342.3" y2="0"><stop offset="0" stop-color="#d79b7d"/><stop offset=".55" stop-color="#b47d64"/><stop offset="1" stop-color="#7d5046"/></linearGradient>
<linearGradient id="b36" gradientUnits="userSpaceOnUse" x1="61.8" y1="0" x2="348.5" y2="0"><stop offset="0" stop-color="#ffb9a5"/><stop offset=".55" stop-color="#d79682"/><stop offset="1" stop-color="#8c6455"/></linearGradient>
<linearGradient id="b37" gradientUnits="userSpaceOnUse" x1="61.8" y1="0" x2="386.6" y2="0"><stop offset="0" stop-color="#f5a573"/><stop offset=".55" stop-color="#cd875f"/><stop offset="1" stop-color="#8c5546"/></linearGradient>
<linearGradient id="b38" gradientUnits="userSpaceOnUse" x1="61.8" y1="0" x2="186.5" y2="0"><stop offset="0" stop-color="#91a5cd"/><stop offset=".55" stop-color="#7882af"/><stop offset="1" stop-color="#50557d"/></linearGradient>
<linearGradient id="b39" gradientUnits="userSpaceOnUse" x1="61.8" y1="0" x2="220.5" y2="0"><stop offset="0" stop-color="#467d64"/><stop offset=".55" stop-color="#193246"/><stop offset="1" stop-color="#202022"/></linearGradient>
<linearGradient id="b40" gradientUnits="userSpaceOnUse" x1="61.8" y1="0" x2="614.6" y2="0"><stop offset="0" stop-color="#ffaf37"/><stop offset=".55" stop-color="#eb9632"/><stop offset="1" stop-color="#824b32"/></linearGradient>
<linearGradient id="b41" gradientUnits="userSpaceOnUse" x1="61.8" y1="0" x2="664.5" y2="0"><stop offset="0" stop-color="#ff8723"/><stop offset=".55" stop-color="#eb731e"/><stop offset="1" stop-color="#822d28"/></linearGradient>
<linearGradient id="b42" gradientUnits="userSpaceOnUse" x1="61.8" y1="0" x2="292.6" y2="0"><stop offset="0" stop-color="#f5e1af"/><stop offset=".55" stop-color="#d7c396"/><stop offset="1" stop-color="#968264"/></linearGradient>
<linearGradient id="b43" gradientUnits="userSpaceOnUse" x1="61.8" y1="0" x2="176.4" y2="0"><stop offset="0" stop-color="#325a82"/><stop offset=".55" stop-color="#193255"/><stop offset="1" stop-color="#202226"/></linearGradient>
<linearGradient id="b44" gradientUnits="userSpaceOnUse" x1="61.8" y1="0" x2="170.5" y2="0"><stop offset="0" stop-color="#73afcd"/><stop offset=".55" stop-color="#508796"/><stop offset="1" stop-color="#2d555a"/></linearGradient>
<linearGradient id="b45" gradientUnits="userSpaceOnUse" x1="61.8" y1="0" x2="461.6" y2="0"><stop offset="0" stop-color="#f55"/><stop offset=".55" stop-color="#e13c3c"/><stop offset="1" stop-color="#732323"/></linearGradient>
<linearGradient id="b46" gradientUnits="userSpaceOnUse" x1="61.8" y1="0" x2="348.5" y2="0"><stop offset="0" stop-color="#eb9187"/><stop offset=".55" stop-color="#c87873"/><stop offset="1" stop-color="#8c5050"/></linearGradient>
<linearGradient id="b47" gradientUnits="userSpaceOnUse" x1="61.8" y1="0" x2="242.4" y2="0"><stop offset="0" stop-color="#f5f5f5"/><stop offset=".55" stop-color="#c8cdc8"/><stop offset="1" stop-color="#64645a"/></linearGradient>
<linearGradient id="b48" gradientUnits="userSpaceOnUse" x1="61.8" y1="0" x2="326.6" y2="0"><stop offset="0" stop-color="#ffe1d7"/><stop offset=".55" stop-color="#dcb9af"/><stop offset="1" stop-color="#967873"/></linearGradient>
<linearGradient id="b49" gradientUnits="userSpaceOnUse" x1="61.8" y1="0" x2="176.4" y2="0"><stop offset="0" stop-color="#87afd7"/><stop offset=".55" stop-color="#698cb4"/><stop offset="1" stop-color="#415a7d"/></linearGradient>
<linearGradient id="b50" gradientUnits="userSpaceOnUse" x1="61.8" y1="0" x2="151.4" y2="0"><stop offset="0" stop-color="#4b9be1"/><stop offset=".55" stop-color="#3773be"/><stop offset="1" stop-color="#234b8c"/></linearGradient>
<linearGradient id="b51" gradientUnits="userSpaceOnUse" x1="61.8" y1="0" x2="436.6" y2="0"><stop offset="0" stop-color="#eb4155"/><stop offset=".55" stop-color="#cd2837"/><stop offset="1" stop-color="#691c1e"/></linearGradient>
<linearGradient id="b52" gradientUnits="userSpaceOnUse" x1="61.8" y1="0" x2="342.3" y2="0"><stop offset="0" stop-color="#eb919b"/><stop offset=".55" stop-color="#c8787d"/><stop offset="1" stop-color="#8c5055"/></linearGradient>
<linearGradient id="b53" gradientUnits="userSpaceOnUse" x1="61.8" y1="0" x2="276.6" y2="0"><stop offset="0" stop-color="#ffe1e6"/><stop offset=".55" stop-color="#d2bebe"/><stop offset="1" stop-color="#827878"/></linearGradient>
<linearGradient id="b54" gradientUnits="userSpaceOnUse" x1="61.8" y1="0" x2="167.7" y2="0"><stop offset="0" stop-color="#2d9bcd"/><stop offset=".55" stop-color="#286ea0"/><stop offset="1" stop-color="#234173"/></linearGradient>
<linearGradient id="b55" gradientUnits="userSpaceOnUse" x1="61.8" y1="0" x2="301.3" y2="0"><stop offset="0" stop-color="#eb73b9"/><stop offset=".55" stop-color="#be5591"/><stop offset="1" stop-color="#782d50"/></linearGradient>
<linearGradient id="b56" gradientUnits="userSpaceOnUse" x1="61.8" y1="0" x2="595.5" y2="0"><stop offset="0" stop-color="#ffc32d"/><stop offset=".55" stop-color="#e1aa32"/><stop offset="1" stop-color="#7d503c"/></linearGradient>
<linearGradient id="b57" gradientUnits="userSpaceOnUse" x1="61.8" y1="0" x2="476.5" y2="0"><stop offset="0" stop-color="#e13755"/><stop offset=".55" stop-color="#be2337"/><stop offset="1" stop-color="#731226"/></linearGradient>
<linearGradient id="b58" gradientUnits="userSpaceOnUse" x1="61.8" y1="0" x2="398.7" y2="0"><stop offset="0" stop-color="#87b95f"/><stop offset=".55" stop-color="#699b4b"/><stop offset="1" stop-color="#28502d"/></linearGradient>
<linearGradient id="b59" gradientUnits="userSpaceOnUse" x1="61.8" y1="0" x2="111.6" y2="0"><stop offset="0" stop-color="#3c50b4"/><stop offset=".55" stop-color="#233787"/><stop offset="1" stop-color="#142355"/></linearGradient>
<linearGradient id="b60" gradientUnits="userSpaceOnUse" x1="61.8" y1="0" x2="248.5" y2="0"><stop offset="0" stop-color="#f5faf0"/><stop offset=".55" stop-color="#d7d7cd"/><stop offset="1" stop-color="#69695f"/></linearGradient>
<linearGradient id="b61" gradientUnits="userSpaceOnUse" x1="61.8" y1="0" x2="142.4" y2="0"><stop offset="0" stop-color="#5569af"/><stop offset=".55" stop-color="#3c508c"/><stop offset="1" stop-color="#23325f"/></linearGradient>
<linearGradient id="b62" gradientUnits="userSpaceOnUse" x1="61.8" y1="0" x2="208.4" y2="0"><stop offset="0" stop-color="#c34bc3"/><stop offset=".55" stop-color="#912d91"/><stop offset="1" stop-color="#413241"/></linearGradient>
<linearGradient id="b63" gradientUnits="userSpaceOnUse" x1="61.8" y1="0" x2="158.7" y2="0"><stop offset="0" stop-color="#9b737d"/><stop offset=".55" stop-color="#78505a"/><stop offset="1" stop-color="#502d37"/></linearGradient>
<linearGradient id="b64" gradientUnits="userSpaceOnUse" x1="61.8" y1="0" x2="533.5" y2="0"><stop offset="0" stop-color="#f54b55"/><stop offset=".55" stop-color="#e12d37"/><stop offset="1" stop-color="#731c1e"/></linearGradient>
<linearGradient id="b65" gradientUnits="userSpaceOnUse" x1="61.8" y1="0" x2="267.4" y2="0"><stop offset="0" stop-color="#fafae1"/><stop offset=".55" stop-color="#d2d2be"/><stop offset="1" stop-color="#64645a"/></linearGradient>
<linearGradient id="b66" gradientUnits="userSpaceOnUse" x1="61.8" y1="0" x2="611.5" y2="0"><stop offset="0" stop-color="#ffaf41"/><stop offset=".55" stop-color="#eb9137"/><stop offset="1" stop-color="#7d463c"/></linearGradient>
<linearGradient id="b67" gradientUnits="userSpaceOnUse" x1="61.8" y1="0" x2="470.3" y2="0"><stop offset="0" stop-color="#e1d75f"/><stop offset=".55" stop-color="#c3c34b"/><stop offset="1" stop-color="#737841"/></linearGradient>
<linearGradient id="b68" gradientUnits="userSpaceOnUse" x1="61.8" y1="0" x2="158.7" y2="0"><stop offset="0" stop-color="#735f87"/><stop offset=".55" stop-color="#503255"/><stop offset="1" stop-color="#303032"/></linearGradient>
<linearGradient id="b69" gradientUnits="userSpaceOnUse" x1="61.8" y1="0" x2="358.6" y2="0"><stop offset="0" stop-color="#eb737d"/><stop offset=".55" stop-color="#c8555f"/><stop offset="1" stop-color="#692d2d"/></linearGradient>
<linearGradient id="b70" gradientUnits="userSpaceOnUse" x1="61.8" y1="0" x2="120.5" y2="0"><stop offset="0" stop-color="#7387d7"/><stop offset=".55" stop-color="#4155aa"/><stop offset="1" stop-color="#14285a"/></linearGradient>
<linearGradient id="b71" gradientUnits="userSpaceOnUse" x1="61.8" y1="0" x2="583.7" y2="0"><stop offset="0" stop-color="#ff9137"/><stop offset=".55" stop-color="#eb7d2d"/><stop offset="1" stop-color="#7d3228"/></linearGradient>
<linearGradient id="b72" gradientUnits="userSpaceOnUse" x1="61.8" y1="0" x2="317.6" y2="0"><stop offset="0" stop-color="#ffcdcd"/><stop offset=".55" stop-color="#d7a5a5"/><stop offset="1" stop-color="#8c6464"/></linearGradient>
<linearGradient id="b73" gradientUnits="userSpaceOnUse" x1="61.8" y1="0" x2="180.3" y2="0"><stop offset="0" stop-color="#9b91cd"/><stop offset=".55" stop-color="#7369a5"/><stop offset="1" stop-color="#372d55"/></linearGradient>
<linearGradient id="b74" gradientUnits="userSpaceOnUse" x1="61.8" y1="0" x2="261.5" y2="0"><stop offset="0" stop-color="#eba5cd"/><stop offset=".55" stop-color="#b97da5"/><stop offset="1" stop-color="#64415a"/></linearGradient>
<linearGradient id="b75" gradientUnits="userSpaceOnUse" x1="61.8" y1="0" x2="342.3" y2="0"><stop offset="0" stop-color="#e1557d"/><stop offset=".55" stop-color="#cd4169"/><stop offset="1" stop-color="#6e2630"/></linearGradient>
<linearGradient id="b76" gradientUnits="userSpaceOnUse" x1="61.8" y1="0" x2="217.4" y2="0"><stop offset="0" stop-color="#9b5f5f"/><stop offset=".55" stop-color="#6e4141"/><stop offset="1" stop-color="#302626"/></linearGradient>
<linearGradient id="b77" gradientUnits="userSpaceOnUse" x1="61.8" y1="0" x2="330.2" y2="0"><stop offset="0" stop-color="#ffd7c3"/><stop offset=".55" stop-color="#e1af9b"/><stop offset="1" stop-color="#8c645a"/></linearGradient>
<linearGradient id="b78" gradientUnits="userSpaceOnUse" x1="61.8" y1="0" x2="217.4" y2="0"><stop offset="0" stop-color="#9bcdc3"/><stop offset=".55" stop-color="#78aa96"/><stop offset="1" stop-color="#375f4b"/></linearGradient>
<linearGradient id="b79" gradientUnits="userSpaceOnUse" x1="61.8" y1="0" x2="214.6" y2="0"><stop offset="0" stop-color="#b9afcd"/><stop offset=".55" stop-color="#9187a5"/><stop offset="1" stop-color="#554b5f"/></linearGradient>
<linearGradient id="b80" gradientUnits="userSpaceOnUse" x1="61.8" y1="0" x2="370.6" y2="0"><stop offset="0" stop-color="#7d9155"/><stop offset=".55" stop-color="#5f6e41"/><stop offset="1" stop-color="#2d2d26"/></linearGradient>
<linearGradient id="b81" gradientUnits="userSpaceOnUse" x1="61.8" y1="0" x2="198.6" y2="0"><stop offset="0" stop-color="#8791c3"/><stop offset=".55" stop-color="#646e9b"/><stop offset="1" stop-color="#2d374b"/></linearGradient>
<linearGradient id="b82" gradientUnits="userSpaceOnUse" x1="61.8" y1="0" x2="320.7" y2="0"><stop offset="0" stop-color="#f5af9b"/><stop offset=".55" stop-color="#d28c78"/><stop offset="1" stop-color="#6e4641"/></linearGradient>
<linearGradient id="b83" gradientUnits="userSpaceOnUse" x1="61.8" y1="0" x2="308.6" y2="0"><stop offset="0" stop-color="#a5735f"/><stop offset=".55" stop-color="#82554b"/><stop offset="1" stop-color="#412626"/></linearGradient>
<linearGradient id="b84" gradientUnits="userSpaceOnUse" x1="61.8" y1="0" x2="245.5" y2="0"><stop offset="0" stop-color="#fff5f5"/><stop offset=".55" stop-color="#d7c8c8"/><stop offset="1" stop-color="#6e6e64"/></linearGradient>
<linearGradient id="b85" gradientUnits="userSpaceOnUse" x1="61.8" y1="0" x2="142.4" y2="0"><stop offset="0" stop-color="#695573"/><stop offset=".55" stop-color="#462d46"/><stop offset="1" stop-color="#28282a"/></linearGradient>
<linearGradient id="b86" gradientUnits="userSpaceOnUse" x1="61.8" y1="0" x2="226.6" y2="0"><stop offset="0" stop-color="#e14191"/><stop offset=".55" stop-color="#aa2d6e"/><stop offset="1" stop-color="#552d30"/></linearGradient>
<linearGradient id="b87" gradientUnits="userSpaceOnUse" x1="61.8" y1="0" x2="155.6" y2="0"><stop offset="0" stop-color="#419bd7"/><stop offset=".55" stop-color="#2d6eb4"/><stop offset="1" stop-color="#1e3c6e"/></linearGradient>
<linearGradient id="b88" gradientUnits="userSpaceOnUse" x1="61.8" y1="0" x2="270.4" y2="0"><stop offset="0" stop-color="#eb73b9"/><stop offset=".55" stop-color="#be5096"/><stop offset="1" stop-color="#5f264b"/></linearGradient>
<linearGradient id="b89" gradientUnits="userSpaceOnUse" x1="61.8" y1="0" x2="473.7" y2="0"><stop offset="0" stop-color="#ffc355"/><stop offset=".55" stop-color="#ebaf4b"/><stop offset="1" stop-color="#966e3c"/></linearGradient>
<linearGradient id="b90" gradientUnits="userSpaceOnUse" x1="61.8" y1="0" x2="348.5" y2="0"><stop offset="0" stop-color="#e1555f"/><stop offset=".55" stop-color="#be414b"/><stop offset="1" stop-color="#642626"/></linearGradient>
<linearGradient id="b91" gradientUnits="userSpaceOnUse" x1="61.8" y1="0" x2="305.5" y2="0"><stop offset="0" stop-color="#7db969"/><stop offset=".55" stop-color="#5f9b55"/><stop offset="1" stop-color="#234b28"/></linearGradient>
<linearGradient id="b92" gradientUnits="userSpaceOnUse" x1="61.8" y1="0" x2="89.7" y2="0"><stop offset="0" stop-color="#5f5fe1"/><stop offset=".55" stop-color="#4646be"/><stop offset="1" stop-color="#2d2d8c"/></linearGradient>
<linearGradient id="b93" gradientUnits="userSpaceOnUse" x1="61.8" y1="0" x2="451.5" y2="0"><stop offset="0" stop-color="#ffaf5f"/><stop offset=".55" stop-color="#e19155"/><stop offset="1" stop-color="#824b3c"/></linearGradient>
<linearGradient id="b94" gradientUnits="userSpaceOnUse" x1="61.8" y1="0" x2="373.5" y2="0"><stop offset="0" stop-color="#ebe15f"/><stop offset=".55" stop-color="#bebe4b"/><stop offset="1" stop-color="#505f32"/></linearGradient>
<linearGradient id="b95" gradientUnits="userSpaceOnUse" x1="61.8" y1="0" x2="164.6" y2="0"><stop offset="0" stop-color="#9173af"/><stop offset=".55" stop-color="#64507d"/><stop offset="1" stop-color="#30303a"/></linearGradient>
<linearGradient id="b96" gradientUnits="userSpaceOnUse" x1="61.8" y1="0" x2="292.6" y2="0"><stop offset="0" stop-color="#eb7387"/><stop offset=".55" stop-color="#be5569"/><stop offset="1" stop-color="#643030"/></linearGradient>
<linearGradient id="b97" gradientUnits="userSpaceOnUse" x1="61.8" y1="0" x2="114.4" y2="0"><stop offset="0" stop-color="#7d87e1"/><stop offset=".55" stop-color="#555fb4"/><stop offset="1" stop-color="#283264"/></linearGradient>
<linearGradient id="b98" gradientUnits="userSpaceOnUse" x1="61.8" y1="0" x2="470.6" y2="0"><stop offset="0" stop-color="#ff914b"/><stop offset=".55" stop-color="#e17d41"/><stop offset="1" stop-color="#8c413c"/></linearGradient>
<linearGradient id="b99" gradientUnits="userSpaceOnUse" x1="61.8" y1="0" x2="198.6" y2="0"><stop offset="0" stop-color="#91c3c3"/><stop offset=".55" stop-color="#6ea096"/><stop offset="1" stop-color="#37554b"/></linearGradient>
<linearGradient id="b100" gradientUnits="userSpaceOnUse" x1="61.8" y1="0" x2="205.3" y2="0"><stop offset="0" stop-color="#9b9bd7"/><stop offset=".55" stop-color="#7878af"/><stop offset="1" stop-color="#373755"/></linearGradient>
<linearGradient id="b101" gradientUnits="userSpaceOnUse" x1="61.8" y1="0" x2="273.5" y2="0"><stop offset="0" stop-color="#7d8769"/><stop offset=".55" stop-color="#5f694b"/><stop offset="1" stop-color="#30302c"/></linearGradient>
<linearGradient id="b102" gradientUnits="userSpaceOnUse" x1="61.8" y1="0" x2="173.6" y2="0"><stop offset="0" stop-color="#9191d7"/><stop offset=".55" stop-color="#6e6eaf"/><stop offset="1" stop-color="#2d2d55"/></linearGradient>
<linearGradient id="b103" gradientUnits="userSpaceOnUse" x1="61.8" y1="0" x2="283.6" y2="0"><stop offset="0" stop-color="#f5c3af"/><stop offset=".55" stop-color="#c8968c"/><stop offset="1" stop-color="#6e554b"/></linearGradient>
<linearGradient id="b104" gradientUnits="userSpaceOnUse" x1="61.8" y1="0" x2="258.6" y2="0"><stop offset="0" stop-color="#a57369"/><stop offset=".55" stop-color="#7d5555"/><stop offset="1" stop-color="#413030"/></linearGradient>
<linearGradient id="b105" gradientUnits="userSpaceOnUse" x1="61.8" y1="0" x2="585.0" y2="0"><stop offset="0" stop-color="#5f5f4b"/><stop offset=".55" stop-color="#282826"/><stop offset="1" stop-color="#000"/></linearGradient>
<linearGradient id="b106" gradientUnits="userSpaceOnUse" x1="61.8" y1="0" x2="248.5" y2="0"><stop offset="0" stop-color="#5f5f5f"/><stop offset=".55" stop-color="#414141"/><stop offset="1" stop-color="#262626"/></linearGradient>
<linearGradient id="b107" gradientUnits="userSpaceOnUse" x1="61.8" y1="0" x2="223.6" y2="0"><stop offset="0" stop-color="#696969"/><stop offset=".55" stop-color="#444"/><stop offset="1" stop-color="#2a2a2a"/></linearGradient>
<linearGradient id="b108" gradientUnits="userSpaceOnUse" x1="61.8" y1="0" x2="201.4" y2="0"><stop offset="0" stop-color="#737373"/><stop offset=".55" stop-color="#555"/><stop offset="1" stop-color="#3c3c3c"/></linearGradient>
<linearGradient id="b109" gradientUnits="userSpaceOnUse" x1="61.8" y1="0" x2="198.6" y2="0"><stop offset="0" stop-color="#7d7d7d"/><stop offset=".55" stop-color="#5c5c5c"/><stop offset="1" stop-color="#3e3e3e"/></linearGradient>
<linearGradient id="b110" gradientUnits="userSpaceOnUse" x1="61.8" y1="0" x2="211.5" y2="0"><stop offset="0" stop-color="#8c8c8c"/><stop offset=".55" stop-color="#646464"/><stop offset="1" stop-color="#414141"/></linearGradient>
<linearGradient id="b111" gradientUnits="userSpaceOnUse" x1="61.8" y1="0" x2="233.7" y2="0"><stop offset="0" stop-color="#9b9b9b"/><stop offset=".55" stop-color="#707070"/><stop offset="1" stop-color="#4b4b4b"/></linearGradient>
<linearGradient id="b112" gradientUnits="userSpaceOnUse" x1="61.8" y1="0" x2="230.6" y2="0"><stop offset="0" stop-color="#afafaf"/><stop offset=".55" stop-color="#7d7d7d"/><stop offset="1" stop-color="#555"/></linearGradient>
<linearGradient id="b113" gradientUnits="userSpaceOnUse" x1="61.8" y1="0" x2="239.6" y2="0"><stop offset="0" stop-color="#bebebe"/><stop offset=".55" stop-color="#878787"/><stop offset="1" stop-color="#5f5f5f"/></linearGradient>
<linearGradient id="b114" gradientUnits="userSpaceOnUse" x1="61.8" y1="0" x2="239.6" y2="0"><stop offset="0" stop-color="#cdcdcd"/><stop offset=".55" stop-color="#919191"/><stop offset="1" stop-color="#646464"/></linearGradient>
<linearGradient id="b115" gradientUnits="userSpaceOnUse" x1="61.8" y1="0" x2="236.5" y2="0"><stop offset="0" stop-color="#d7d7d7"/><stop offset=".55" stop-color="#9b9b9b"/><stop offset="1" stop-color="#6e6e69"/></linearGradient>
<linearGradient id="b116" gradientUnits="userSpaceOnUse" x1="61.8" y1="0" x2="239.6" y2="0"><stop offset="0" stop-color="#dadada"/><stop offset=".55" stop-color="#a0a0a0"/><stop offset="1" stop-color="#6e6e69"/></linearGradient>
<linearGradient id="b117" gradientUnits="userSpaceOnUse" x1="61.8" y1="0" x2="239.6" y2="0"><stop offset="0" stop-color="#dedede"/><stop offset=".55" stop-color="#a0a0a0"/><stop offset="1" stop-color="#737369"/></linearGradient>
<linearGradient id="b118" gradientUnits="userSpaceOnUse" x1="61.8" y1="0" x2="245.5" y2="0"><stop offset="0" stop-color="#e4e4e4"/><stop offset=".55" stop-color="#a5a5a5"/><stop offset="1" stop-color="#78786e"/></linearGradient>
<linearGradient id="b119" gradientUnits="userSpaceOnUse" x1="61.8" y1="0" x2="245.5" y2="0"><stop offset="0" stop-color="#e9e9e4"/><stop offset=".55" stop-color="#aaaaa8"/><stop offset="1" stop-color="#78786e"/></linearGradient>
<linearGradient id="b120" gradientUnits="userSpaceOnUse" x1="61.8" y1="0" x2="251.4" y2="0"><stop offset="0" stop-color="#f2f2f2"/><stop offset=".55" stop-color="#b4b4b4"/><stop offset="1" stop-color="#82827d"/></linearGradient>
<linearGradient id="b121" gradientUnits="userSpaceOnUse" x1="61.8" y1="0" x2="255.3" y2="0"><stop offset="0" stop-color="#f7f7f7"/><stop offset=".55" stop-color="#bebebe"/><stop offset="1" stop-color="#8c8c87"/></linearGradient>
<linearGradient id="b122" gradientUnits="userSpaceOnUse" x1="61.8" y1="0" x2="261.5" y2="0"><stop offset="0" stop-color="#fcfcfc"/><stop offset=".55" stop-color="#c8c8c8"/><stop offset="1" stop-color="#969691"/></linearGradient>
<linearGradient id="b123" gradientUnits="userSpaceOnUse" x1="61.8" y1="0" x2="273.5" y2="0"><stop offset="0" stop-color="#fff"/><stop offset=".55" stop-color="#e1e1e1"/><stop offset="1" stop-color="#aaaaa0"/></linearGradient>
</defs>
<rect x="0" y="103" width="1.6" height="1490" fill="#242424"/>
<rect x="60.5" y="182.9" width="875.5" height="1339.4" fill="#232323"/>
<rect x="146.2" y="184" width="3" height="1337" fill="#858585"/>
<rect x="233.6" y="184" width="3" height="1337" fill="#858585"/>
<rect x="321.1" y="184" width="3" height="1337" fill="#858585"/>
<rect x="408.5" y="184" width="3" height="1337" fill="#858585"/>
<rect x="496.0" y="184" width="3" height="1337" fill="#858585"/>
<rect x="583.5" y="184" width="3" height="1337" fill="#858585"/>
<rect x="670.9" y="184" width="3" height="1337" fill="#858585"/>
<rect x="758.4" y="184" width="3" height="1337" fill="#858585"/>
<rect x="845.8" y="184" width="3" height="1337" fill="#858585"/>
<g clip-path="url(#cpb)">
<rect x="61" y="181.7" width="643.9" height="9.4" fill="#000"/>
<rect x="61.8" y="184.8" width="640.1" height="3.2" fill="url(#b0)"/>
<rect x="61" y="194.2" width="300.6" height="9.4" fill="#000"/>
<rect x="61.8" y="197.3" width="296.8" height="3.2" fill="url(#b1)"/>
<rect x="61" y="203.6" width="93.7" height="9.4" fill="#000"/>
<rect x="61.8" y="206.7" width="89.9" height="3.2" fill="url(#b2)"/>
<rect x="61" y="216.0" width="93.7" height="9.4" fill="#000"/>
<rect x="61.8" y="219.1" width="89.9" height="3.2" fill="url(#b3)"/>
<rect x="61" y="225.4" width="581.6" height="9.4" fill="#000"/>
<rect x="61.8" y="228.5" width="577.8" height="3.2" fill="url(#b4)"/>
<rect x="61" y="237.9" width="665.5" height="9.4" fill="#000"/>
<rect x="61.8" y="241.0" width="661.7" height="3.2" fill="url(#b5)"/>
<rect x="61" y="247.3" width="353.4" height="9.4" fill="#000"/>
<rect x="61.8" y="250.4" width="349.6" height="3.2" fill="url(#b6)"/>
<rect x="61" y="259.8" width="484.4" height="9.4" fill="#000"/>
<rect x="61.8" y="262.9" width="480.6" height="3.2" fill="url(#b7)"/>
<rect x="61" y="269.1" width="403.6" height="9.4" fill="#000"/>
<rect x="61.8" y="272.2" width="399.8" height="3.2" fill="url(#b8)"/>
<rect x="61" y="278.5" width="406.4" height="9.4" fill="#000"/>
<rect x="61.8" y="281.6" width="402.6" height="3.2" fill="url(#b9)"/>
<rect x="61" y="291.0" width="350.5" height="9.4" fill="#000"/>
<rect x="61.8" y="294.1" width="346.7" height="3.2" fill="url(#b10)"/>
<rect x="61" y="300.4" width="375.8" height="9.4" fill="#000"/>
<rect x="61.8" y="303.5" width="372.0" height="3.2" fill="url(#b11)"/>
<rect x="61" y="312.8" width="318.5" height="9.4" fill="#000"/>
<rect x="61.8" y="315.9" width="314.7" height="3.2" fill="url(#b12)"/>
<rect x="61" y="322.2" width="165.6" height="9.4" fill="#000"/>
<rect x="61.8" y="325.3" width="161.8" height="3.2" fill="url(#b13)"/>
<rect x="61" y="334.7" width="212.7" height="9.4" fill="#000"/>
<rect x="61.8" y="337.8" width="208.9" height="3.2" fill="url(#b14)"/>
<rect x="61" y="344.1" width="206.5" height="9.4" fill="#000"/>
<rect x="61.8" y="347.2" width="202.7" height="3.2" fill="url(#b15)"/>
<rect x="61" y="356.6" width="218.6" height="9.4" fill="#000"/>
<rect x="61.8" y="359.7" width="214.8" height="3.2" fill="url(#b16)"/>
<rect x="61" y="365.9" width="206.5" height="9.4" fill="#000"/>
<rect x="61.8" y="369.0" width="202.7" height="3.2" fill="url(#b17)"/>
<rect x="61" y="378.4" width="496.5" height="9.4" fill="#000"/>
<rect x="61.8" y="381.5" width="492.7" height="3.2" fill="url(#b18)"/>
<rect x="61" y="387.8" width="409.5" height="9.4" fill="#000"/>
<rect x="61.8" y="390.9" width="405.7" height="3.2" fill="url(#b19)"/>
<rect x="61" y="400.3" width="300.6" height="9.4" fill="#000"/>
<rect x="61.8" y="403.4" width="296.8" height="3.2" fill="url(#b20)"/>
<rect x="61" y="409.6" width="303.4" height="9.4" fill="#000"/>
<rect x="61.8" y="412.7" width="299.6" height="3.2" fill="url(#b21)"/>
<rect x="61" y="419.0" width="278.7" height="9.4" fill="#000"/>
<rect x="61.8" y="422.1" width="274.9" height="3.2" fill="url(#b22)"/>
<rect x="61" y="431.5" width="250.6" height="9.4" fill="#000"/>
<rect x="61.8" y="434.6" width="246.8" height="3.2" fill="url(#b23)"/>
<rect x="61" y="440.9" width="262.7" height="9.4" fill="#000"/>
<rect x="61.8" y="444.0" width="258.9" height="3.2" fill="url(#b24)"/>
<rect x="61" y="453.4" width="309.8" height="9.4" fill="#000"/>
<rect x="61.8" y="456.5" width="306.0" height="3.2" fill="url(#b25)"/>
<rect x="61" y="462.7" width="256.5" height="9.4" fill="#000"/>
<rect x="61.8" y="465.8" width="252.7" height="3.2" fill="url(#b26)"/>
<rect x="61" y="475.2" width="134.4" height="9.4" fill="#000"/>
<rect x="61.8" y="478.3" width="130.6" height="3.2" fill="url(#b27)"/>
<rect x="61" y="484.6" width="125.4" height="9.4" fill="#000"/>
<rect x="61.8" y="487.7" width="121.6" height="3.2" fill="url(#b28)"/>
<rect x="61" y="497.1" width="593.6" height="9.4" fill="#000"/>
<rect x="61.8" y="500.2" width="589.8" height="3.2" fill="url(#b29)"/>
<rect x="61" y="506.5" width="578.5" height="9.4" fill="#000"/>
<rect x="61.8" y="509.6" width="574.7" height="3.2" fill="url(#b30)"/>
<rect x="61" y="518.9" width="309.6" height="9.4" fill="#000"/>
<rect x="61.8" y="522.0" width="305.8" height="3.2" fill="url(#b31)"/>
<rect x="61" y="528.3" width="362.3" height="9.4" fill="#000"/>
<rect x="61.8" y="531.4" width="358.5" height="3.2" fill="url(#b32)"/>
<rect x="61" y="537.7" width="268.6" height="9.4" fill="#000"/>
<rect x="61.8" y="540.8" width="264.8" height="3.2" fill="url(#b33)"/>
<rect x="61" y="550.2" width="272.5" height="9.4" fill="#000"/>
<rect x="61.8" y="553.3" width="268.7" height="3.2" fill="url(#b34)"/>
<rect x="61" y="559.5" width="284.3" height="9.4" fill="#000"/>
<rect x="61.8" y="562.6" width="280.5" height="3.2" fill="url(#b35)"/>
<rect x="61" y="572.0" width="290.5" height="9.4" fill="#000"/>
<rect x="61.8" y="575.1" width="286.7" height="3.2" fill="url(#b36)"/>
<rect x="61" y="581.4" width="328.6" height="9.4" fill="#000"/>
<rect x="61.8" y="584.5" width="324.8" height="3.2" fill="url(#b37)"/>
<rect x="61" y="593.9" width="128.5" height="9.4" fill="#000"/>
<rect x="61.8" y="597.0" width="124.7" height="3.2" fill="url(#b38)"/>
<rect x="61" y="603.3" width="162.5" height="9.4" fill="#000"/>
<rect x="61.8" y="606.4" width="158.7" height="3.2" fill="url(#b39)"/>
<rect x="61" y="615.7" width="556.6" height="9.4" fill="#000"/>
<rect x="61.8" y="618.8" width="552.8" height="3.2" fill="url(#b40)"/>
<rect x="61" y="625.1" width="606.5" height="9.4" fill="#000"/>
<rect x="61.8" y="628.2" width="602.7" height="3.2" fill="url(#b41)"/>
<rect x="61" y="637.6" width="234.6" height="9.4" fill="#000"/>
<rect x="61.8" y="640.7" width="230.8" height="3.2" fill="url(#b42)"/>
<rect x="61" y="647.0" width="118.4" height="9.4" fill="#000"/>
<rect x="61.8" y="650.1" width="114.6" height="3.2" fill="url(#b43)"/>
<rect x="61" y="656.3" width="112.5" height="9.4" fill="#000"/>
<rect x="61.8" y="659.4" width="108.7" height="3.2" fill="url(#b44)"/>
<rect x="61" y="668.8" width="403.6" height="9.4" fill="#000"/>
<rect x="61.8" y="671.9" width="399.8" height="3.2" fill="url(#b45)"/>
<rect x="61" y="678.2" width="290.5" height="9.4" fill="#000"/>
<rect x="61.8" y="681.3" width="286.7" height="3.2" fill="url(#b46)"/>
<rect x="61" y="690.7" width="184.4" height="9.4" fill="#000"/>
<rect x="61.8" y="693.8" width="180.6" height="3.2" fill="url(#b47)"/>
<rect x="61" y="700.1" width="268.6" height="9.4" fill="#000"/>
<rect x="61.8" y="703.2" width="264.8" height="3.2" fill="url(#b48)"/>
<rect x="61" y="712.5" width="118.4" height="9.4" fill="#000"/>
<rect x="61.8" y="715.6" width="114.6" height="3.2" fill="url(#b49)"/>
<rect x="61" y="721.9" width="93.4" height="9.4" fill="#000"/>
<rect x="61.8" y="725.0" width="89.6" height="3.2" fill="url(#b50)"/>
<rect x="61" y="734.4" width="378.6" height="9.4" fill="#000"/>
<rect x="61.8" y="737.5" width="374.8" height="3.2" fill="url(#b51)"/>
<rect x="61" y="743.8" width="284.3" height="9.4" fill="#000"/>
<rect x="61.8" y="746.9" width="280.5" height="3.2" fill="url(#b52)"/>
<rect x="61" y="756.3" width="218.6" height="9.4" fill="#000"/>
<rect x="61.8" y="759.4" width="214.8" height="3.2" fill="url(#b53)"/>
<rect x="61" y="765.6" width="109.7" height="9.4" fill="#000"/>
<rect x="61.8" y="768.7" width="105.9" height="3.2" fill="url(#b54)"/>
<rect x="61" y="778.1" width="243.3" height="9.4" fill="#000"/>
<rect x="61.8" y="781.2" width="239.5" height="3.2" fill="url(#b55)"/>
<rect x="61" y="787.5" width="537.5" height="9.4" fill="#000"/>
<rect x="61.8" y="790.6" width="533.7" height="3.2" fill="url(#b56)"/>
<rect x="61" y="796.9" width="418.5" height="9.4" fill="#000"/>
<rect x="61.8" y="800.0" width="414.7" height="3.2" fill="url(#b57)"/>
<rect x="61" y="809.3" width="340.7" height="9.4" fill="#000"/>
<rect x="61.8" y="812.4" width="336.9" height="3.2" fill="url(#b58)"/>
<rect x="61" y="818.7" width="53.6" height="9.4" fill="#000"/>
<rect x="61.8" y="821.8" width="49.8" height="3.2" fill="url(#b59)"/>
<rect x="61" y="831.2" width="190.5" height="9.4" fill="#000"/>
<rect x="61.8" y="834.3" width="186.7" height="3.2" fill="url(#b60)"/>
<rect x="61" y="840.6" width="84.4" height="9.4" fill="#000"/>
<rect x="61.8" y="843.7" width="80.6" height="3.2" fill="url(#b61)"/>
<rect x="61" y="853.1" width="150.4" height="9.4" fill="#000"/>
<rect x="61.8" y="856.2" width="146.6" height="3.2" fill="url(#b62)"/>
<rect x="61" y="862.4" width="100.7" height="9.4" fill="#000"/>
<rect x="61.8" y="865.5" width="96.9" height="3.2" fill="url(#b63)"/>
<rect x="61" y="874.9" width="475.5" height="9.4" fill="#000"/>
<rect x="61.8" y="878.0" width="471.7" height="3.2" fill="url(#b64)"/>
<rect x="61" y="884.3" width="209.4" height="9.4" fill="#000"/>
<rect x="61.8" y="887.4" width="205.6" height="3.2" fill="url(#b65)"/>
<rect x="61" y="896.8" width="553.5" height="9.4" fill="#000"/>
<rect x="61.8" y="899.9" width="549.7" height="3.2" fill="url(#b66)"/>
<rect x="61" y="906.1" width="412.3" height="9.4" fill="#000"/>
<rect x="61.8" y="909.2" width="408.5" height="3.2" fill="url(#b67)"/>
<rect x="61" y="915.5" width="100.7" height="9.4" fill="#000"/>
<rect x="61.8" y="918.6" width="96.9" height="3.2" fill="url(#b68)"/>
<rect x="61" y="928.0" width="300.6" height="9.4" fill="#000"/>
<rect x="61.8" y="931.1" width="296.8" height="3.2" fill="url(#b69)"/>
<rect x="61" y="937.4" width="62.5" height="9.4" fill="#000"/>
<rect x="61.8" y="940.5" width="58.7" height="3.2" fill="url(#b70)"/>
<rect x="61" y="949.9" width="525.7" height="9.4" fill="#000"/>
<rect x="61.8" y="953.0" width="521.9" height="3.2" fill="url(#b71)"/>
<rect x="61" y="959.2" width="259.6" height="9.4" fill="#000"/>
<rect x="61.8" y="962.3" width="255.8" height="3.2" fill="url(#b72)"/>
<rect x="61" y="971.7" width="122.3" height="9.4" fill="#000"/>
<rect x="61.8" y="974.8" width="118.5" height="3.2" fill="url(#b73)"/>
<rect x="61" y="981.1" width="203.5" height="9.4" fill="#000"/>
<rect x="61.8" y="984.2" width="199.7" height="3.2" fill="url(#b74)"/>
<rect x="61" y="993.6" width="284.3" height="9.4" fill="#000"/>
<rect x="61.8" y="996.7" width="280.5" height="3.2" fill="url(#b75)"/>
<rect x="61" y="1002.9" width="159.4" height="9.4" fill="#000"/>
<rect x="61.8" y="1006.0" width="155.6" height="3.2" fill="url(#b76)"/>
<rect x="61" y="1015.4" width="272.2" height="9.4" fill="#000"/>
<rect x="61.8" y="1018.5" width="268.4" height="3.2" fill="url(#b77)"/>
<rect x="61" y="1024.8" width="159.4" height="9.4" fill="#000"/>
<rect x="61.8" y="1027.9" width="155.6" height="3.2" fill="url(#b78)"/>
<rect x="61" y="1037.3" width="156.6" height="9.4" fill="#000"/>
<rect x="61.8" y="1040.4" width="152.8" height="3.2" fill="url(#b79)"/>
<rect x="61" y="1046.7" width="312.6" height="9.4" fill="#000"/>
<rect x="61.8" y="1049.8" width="308.8" height="3.2" fill="url(#b80)"/>
<rect x="61" y="1056.0" width="140.6" height="9.4" fill="#000"/>
<rect x="61.8" y="1059.1" width="136.8" height="3.2" fill="url(#b81)"/>
<rect x="61" y="1068.5" width="262.7" height="9.4" fill="#000"/>
<rect x="61.8" y="1071.6" width="258.9" height="3.2" fill="url(#b82)"/>
<rect x="61" y="1077.9" width="250.6" height="9.4" fill="#000"/>
<rect x="61.8" y="1081.0" width="246.8" height="3.2" fill="url(#b83)"/>
<rect x="61" y="1090.4" width="187.5" height="9.4" fill="#000"/>
<rect x="61.8" y="1093.5" width="183.7" height="3.2" fill="url(#b84)"/>
<rect x="61" y="1099.7" width="84.4" height="9.4" fill="#000"/>
<rect x="61.8" y="1102.8" width="80.6" height="3.2" fill="url(#b85)"/>
<rect x="61" y="1112.2" width="168.6" height="9.4" fill="#000"/>
<rect x="61.8" y="1115.3" width="164.8" height="3.2" fill="url(#b86)"/>
<rect x="61" y="1121.6" width="97.6" height="9.4" fill="#000"/>
<rect x="61.8" y="1124.7" width="93.8" height="3.2" fill="url(#b87)"/>
<rect x="61" y="1134.1" width="212.4" height="9.4" fill="#000"/>
<rect x="61.8" y="1137.2" width="208.6" height="3.2" fill="url(#b88)"/>
<rect x="61" y="1143.5" width="415.7" height="9.4" fill="#000"/>
<rect x="61.8" y="1146.6" width="411.9" height="3.2" fill="url(#b89)"/>
<rect x="61" y="1156.0" width="290.5" height="9.4" fill="#000"/>
<rect x="61.8" y="1159.1" width="286.7" height="3.2" fill="url(#b90)"/>
<rect x="61" y="1165.3" width="247.5" height="9.4" fill="#000"/>
<rect x="61.8" y="1168.4" width="243.7" height="3.2" fill="url(#b91)"/>
<rect x="61" y="1174.7" width="31.7" height="9.4" fill="#000"/>
<rect x="61.8" y="1177.8" width="27.9" height="3.2" fill="url(#b92)"/>
<rect x="61" y="1187.2" width="393.5" height="9.4" fill="#000"/>
<rect x="61.8" y="1190.3" width="389.7" height="3.2" fill="url(#b93)"/>
<rect x="61" y="1196.5" width="315.5" height="9.4" fill="#000"/>
<rect x="61.8" y="1199.6" width="311.7" height="3.2" fill="url(#b94)"/>
<rect x="61" y="1209.0" width="106.6" height="9.4" fill="#000"/>
<rect x="61.8" y="1212.1" width="102.8" height="3.2" fill="url(#b95)"/>
<rect x="61" y="1218.4" width="234.6" height="9.4" fill="#000"/>
<rect x="61.8" y="1221.5" width="230.8" height="3.2" fill="url(#b96)"/>
<rect x="61" y="1230.9" width="56.4" height="9.4" fill="#000"/>
<rect x="61.8" y="1234.0" width="52.6" height="3.2" fill="url(#b97)"/>
<rect x="61" y="1240.3" width="412.6" height="9.4" fill="#000"/>
<rect x="61.8" y="1243.4" width="408.8" height="3.2" fill="url(#b98)"/>
<rect x="61" y="1252.8" width="140.6" height="9.4" fill="#000"/>
<rect x="61.8" y="1255.9" width="136.8" height="3.2" fill="url(#b99)"/>
<rect x="61" y="1262.1" width="147.3" height="9.4" fill="#000"/>
<rect x="61.8" y="1265.2" width="143.5" height="3.2" fill="url(#b100)"/>
<rect x="61" y="1274.6" width="215.5" height="9.4" fill="#000"/>
<rect x="61.8" y="1277.7" width="211.7" height="3.2" fill="url(#b101)"/>
<rect x="61" y="1284.0" width="115.6" height="9.4" fill="#000"/>
<rect x="61.8" y="1287.1" width="111.8" height="3.2" fill="url(#b102)"/>
<rect x="61" y="1296.5" width="225.6" height="9.4" fill="#000"/>
<rect x="61.8" y="1299.6" width="221.8" height="3.2" fill="url(#b103)"/>
<rect x="61" y="1305.8" width="200.6" height="9.4" fill="#000"/>
<rect x="61.8" y="1308.9" width="196.8" height="3.2" fill="url(#b104)"/>
<rect x="61" y="1315.2" width="887.2" height="9.4" fill="#000"/>
<rect x="61.8" y="1318.3" width="873.2" height="3.2" fill="url(#b105)"/>
<rect x="61" y="1327.7" width="190.5" height="9.4" fill="#000"/>
<rect x="61.8" y="1330.8" width="186.7" height="3.2" fill="url(#b106)"/>
<rect x="61" y="1337.1" width="165.6" height="9.4" fill="#000"/>
<rect x="61.8" y="1340.2" width="161.8" height="3.2" fill="url(#b107)"/>
<rect x="61" y="1349.6" width="143.4" height="9.4" fill="#000"/>
<rect x="61.8" y="1352.7" width="139.6" height="3.2" fill="url(#b108)"/>
<rect x="61" y="1358.9" width="140.6" height="9.4" fill="#000"/>
<rect x="61.8" y="1362.0" width="136.8" height="3.2" fill="url(#b109)"/>
<rect x="61" y="1371.4" width="153.5" height="9.4" fill="#000"/>
<rect x="61.8" y="1374.5" width="149.7" height="3.2" fill="url(#b110)"/>
<rect x="61" y="1380.8" width="175.7" height="9.4" fill="#000"/>
<rect x="61.8" y="1383.9" width="171.9" height="3.2" fill="url(#b111)"/>
<rect x="61" y="1393.3" width="172.6" height="9.4" fill="#000"/>
<rect x="61.8" y="1396.4" width="168.8" height="3.2" fill="url(#b112)"/>
<rect x="61" y="1402.6" width="181.6" height="9.4" fill="#000"/>
<rect x="61.8" y="1405.7" width="177.8" height="3.2" fill="url(#b113)"/>
<rect x="61" y="1415.1" width="181.6" height="9.4" fill="#000"/>
<rect x="61.8" y="1418.2" width="177.8" height="3.2" fill="url(#b114)"/>
<rect x="61" y="1424.5" width="178.5" height="9.4" fill="#000"/>
<rect x="61.8" y="1427.6" width="174.7" height="3.2" fill="url(#b115)"/>
<rect x="61" y="1433.9" width="181.6" height="9.4" fill="#000"/>
<rect x="61.8" y="1437.0" width="177.8" height="3.2" fill="url(#b116)"/>
<rect x="61" y="1446.4" width="181.6" height="9.4" fill="#000"/>
<rect x="61.8" y="1449.5" width="177.8" height="3.2" fill="url(#b117)"/>
<rect x="61" y="1455.7" width="187.5" height="9.4" fill="#000"/>
<rect x="61.8" y="1458.8" width="183.7" height="3.2" fill="url(#b118)"/>
<rect x="61" y="1468.2" width="187.5" height="9.4" fill="#000"/>
<rect x="61.8" y="1471.3" width="183.7" height="3.2" fill="url(#b119)"/>
<rect x="61" y="1477.6" width="193.4" height="9.4" fill="#000"/>
<rect x="61.8" y="1480.7" width="189.6" height="3.2" fill="url(#b120)"/>
<rect x="61" y="1490.1" width="197.3" height="9.4" fill="#000"/>
<rect x="61.8" y="1493.2" width="193.5" height="3.2" fill="url(#b121)"/>
<rect x="61" y="1499.4" width="203.5" height="9.4" fill="#000"/>
<rect x="61.8" y="1502.5" width="199.7" height="3.2" fill="url(#b122)"/>
<rect x="61" y="1511.9" width="215.5" height="9.4" fill="#000"/>
<rect x="61.8" y="1515.0" width="211.7" height="3.2" fill="url(#b123)"/>
</g>
<rect x="60.5" y="182.9" width="875.5" height="1339.4" fill="none" stroke="#999999" stroke-width="3"/>
<rect x="58.7" y="1523.8" width="3" height="12.5" fill="#cfcfcf"/>
<text x="60.2" y="1572" font-size="32.3" text-anchor="middle" fill="#d6d6d6" textLength="19.6" lengthAdjust="spacingAndGlyphs">0</text>
<rect x="146.2" y="1523.8" width="3" height="12.5" fill="#cfcfcf"/>
<text x="147.7" y="1572" font-size="32.3" text-anchor="middle" fill="#d6d6d6" textLength="19.6" lengthAdjust="spacingAndGlyphs">2</text>
<rect x="233.6" y="1523.8" width="3" height="12.5" fill="#cfcfcf"/>
<text x="235.1" y="1572" font-size="32.3" text-anchor="middle" fill="#d6d6d6" textLength="19.6" lengthAdjust="spacingAndGlyphs">4</text>
<rect x="321.1" y="1523.8" width="3" height="12.5" fill="#cfcfcf"/>
<text x="322.6" y="1572" font-size="32.3" text-anchor="middle" fill="#d6d6d6" textLength="19.6" lengthAdjust="spacingAndGlyphs">6</text>
<rect x="408.5" y="1523.8" width="3" height="12.5" fill="#cfcfcf"/>
<text x="410.0" y="1572" font-size="32.3" text-anchor="middle" fill="#d6d6d6" textLength="19.6" lengthAdjust="spacingAndGlyphs">8</text>
<rect x="496.0" y="1523.8" width="3" height="12.5" fill="#cfcfcf"/>
<text x="497.5" y="1572" font-size="32.3" text-anchor="middle" fill="#d6d6d6" textLength="39.2" lengthAdjust="spacingAndGlyphs">10</text>
<rect x="583.5" y="1523.8" width="3" height="12.5" fill="#cfcfcf"/>
<text x="585.0" y="1572" font-size="32.3" text-anchor="middle" fill="#d6d6d6" textLength="39.2" lengthAdjust="spacingAndGlyphs">12</text>
<rect x="670.9" y="1523.8" width="3" height="12.5" fill="#cfcfcf"/>
<text x="672.4" y="1572" font-size="32.3" text-anchor="middle" fill="#d6d6d6" textLength="39.2" lengthAdjust="spacingAndGlyphs">14</text>
<rect x="758.4" y="1523.8" width="3" height="12.5" fill="#cfcfcf"/>
<text x="759.9" y="1572" font-size="32.3" text-anchor="middle" fill="#d6d6d6" textLength="39.2" lengthAdjust="spacingAndGlyphs">16</text>
<rect x="845.8" y="1523.8" width="3" height="12.5" fill="#cfcfcf"/>
<text x="847.3" y="1572" font-size="32.3" text-anchor="middle" fill="#d6d6d6" textLength="39.2" lengthAdjust="spacingAndGlyphs">18</text>
<rect x="933.3" y="1523.8" width="3" height="12.5" fill="#cfcfcf"/>
<text x="934.8" y="1572" font-size="32.3" text-anchor="middle" fill="#d6d6d6" textLength="39.2" lengthAdjust="spacingAndGlyphs">20</text>
<text x="498.8" y="171.6"  font-size="32.3" text-anchor="middle" fill="#d6d6d6" textLength="89" lengthAdjust="spacingAndGlyphs">DEITP</text>
<text x="1476.5" y="319.4" font-size="70.0" text-anchor="middle" fill="#efefef" textLength="466.0" lengthAdjust="spacingAndGlyphs">Avg dEITP: 5.9</text>
<text x="1477.8" y="422.6" font-size="70.0" text-anchor="middle" fill="#efefef" textLength="571.0" lengthAdjust="spacingAndGlyphs">Max dEITP: 15.19</text>
<text x="1472.0" y="589.0" font-size="67.7" text-anchor="middle" fill="#efefef" textLength="539.0" lengthAdjust="spacingAndGlyphs">Avg dE2000: 2.54</text>
<text x="1472.8" y="680.6" font-size="67.7" text-anchor="middle" fill="#efefef" textLength="560.0" lengthAdjust="spacingAndGlyphs">Max dE2000: 7.26</text>
<rect x="1041" y="904.7" width="861.4" height="586" fill="#00ff80"/>
<g clip-path="url(#cpi)">
<path d="M3481.2 1281.8L7439.4 3422.4L15738.2 2121.3L7694.3 -299.2z" fill="#f00" stroke="#f00" stroke-width="1"/>
<path d="M1387.8 149.7L3087.4 -4017.0L-2000.2 -9311.3L-2570.4 -1990.9z" fill="#0f0" stroke="#0f0" stroke-width="1"/>
<path d="M464.3 2413.9L-3748.9 3994.9L-8404.8 11035.5L-1235.3 6580.6z" fill="#00f" stroke="#00f" stroke-width="1"/>
<path d="M1419.2 166.7L-477.1 -858.8L-510.9 -795.0L1404.9 201.7z" fill="#0f0" stroke="#0f0" stroke-width="1"/>
<path d="M1404.9 201.7L-510.9 -795.0L-572.2 -672.8L1378.0 267.6z" fill="#00ff08" stroke="#00ff08" stroke-width="1"/>
<path d="M1378.0 267.6L-572.2 -672.8L-626.5 -555.9L1352.8 329.6z" fill="#00ff10" stroke="#00ff10" stroke-width="1"/>
<path d="M1352.8 329.6L-626.5 -555.9L-675.0 -443.4L1328.8 388.4z" fill="#00ff18" stroke="#00ff18" stroke-width="1"/>
<path d="M1328.8 388.4L-675.0 -443.4L-718.2 -335.4L1306.0 444.1z" fill="#00ff20" stroke="#00ff20" stroke-width="1"/>
<path d="M1306.0 444.1L-718.2 -335.4L-755.9 -233.8L1284.8 496.2z" fill="#00ff28" stroke="#00ff28" stroke-width="1"/>
<path d="M1284.8 496.2L-755.9 -233.8L-789.7 -135.8L1264.5 546.0z" fill="#00ff30" stroke="#00ff30" stroke-width="1"/>
<path d="M1264.5 546.0L-789.7 -135.8L-819.4 -43.0L1245.3 593.0z" fill="#00ff38" stroke="#00ff38" stroke-width="1"/>
<path d="M1245.3 593.0L-819.4 -43.0L-845.8 45.9L1227.0 637.9z" fill="#00ff40" stroke="#00ff40" stroke-width="1"/>
<path d="M1227.0 637.9L-845.8 45.9L-869.1 130.7L1209.5 680.7z" fill="#00ff48" stroke="#00ff48" stroke-width="1"/>
<path d="M1209.5 680.7L-869.1 130.7L-889.7 211.4L1192.9 721.4z" fill="#00ff50" stroke="#00ff50" stroke-width="1"/>
<path d="M1192.9 721.4L-889.7 211.4L-907.7 287.9L1177.2 760.0z" fill="#00ff58" stroke="#00ff58" stroke-width="1"/>
<path d="M1177.2 760.0L-907.7 287.9L-923.7 361.6L1162.0 797.3z" fill="#00ff60" stroke="#00ff60" stroke-width="1"/>
<path d="M1162.0 797.3L-923.7 361.6L-937.6 430.9L1147.6 832.4z" fill="#00ff68" stroke="#00ff68" stroke-width="1"/>
<path d="M1147.6 832.4L-937.6 430.9L-950.2 498.9L1133.5 867.0z" fill="#00ff70" stroke="#00ff70" stroke-width="1"/>
<path d="M1133.5 867.0L-950.2 498.9L-960.9 562.4L1120.3 899.5z" fill="#00ff78" stroke="#00ff78" stroke-width="1"/>
<path d="M1120.3 899.5L-960.9 562.4L-970.3 622.9L1107.7 930.5z" fill="#00ff80" stroke="#00ff80" stroke-width="1"/>
<path d="M1107.7 930.5L-970.3 622.9L-978.5 680.5L1095.6 960.1z" fill="#00ff87" stroke="#00ff87" stroke-width="1"/>
<path d="M1095.6 960.1L-978.5 680.5L-985.5 735.0L1084.0 988.4z" fill="#00ff8f" stroke="#00ff8f" stroke-width="1"/>
<path d="M1084.0 988.4L-985.5 735.0L-991.6 788.1L1072.8 1016.0z" fill="#00ff97" stroke="#00ff97" stroke-width="1"/>
<path d="M1072.8 1016.0L-991.6 788.1L-997.0 839.7L1061.8 1042.9z" fill="#00ff9f" stroke="#00ff9f" stroke-width="1"/>
<path d="M1061.8 1042.9L-997.0 839.7L-1001.4 886.6L1051.7 1067.6z" fill="#00ffa7" stroke="#00ffa7" stroke-width="1"/>
<path d="M1051.7 1067.6L-1001.4 886.6L-1005.3 933.6L1041.6 1092.5z" fill="#00ffaf" stroke="#00ffaf" stroke-width="1"/>
<path d="M1041.6 1092.5L-1005.3 933.6L-1008.5 977.5L1032.1 1115.8z" fill="#00ffb7" stroke="#00ffb7" stroke-width="1"/>
<path d="M1032.1 1115.8L-1008.5 977.5L-1011.3 1021.4L1022.5 1139.3z" fill="#00ffbf" stroke="#00ffbf" stroke-width="1"/>
<path d="M1022.5 1139.3L-1011.3 1021.4L-1013.5 1062.2L1013.5 1161.2z" fill="#00ffc7" stroke="#00ffc7" stroke-width="1"/>
<path d="M1013.5 1161.2L-1013.5 1062.2L-1015.2 1101.4L1004.9 1182.5z" fill="#00ffcf" stroke="#00ffcf" stroke-width="1"/>
<path d="M1004.9 1182.5L-1015.2 1101.4L-1016.6 1139.1L996.5 1203.0z" fill="#00ffd7" stroke="#00ffd7" stroke-width="1"/>
<path d="M996.5 1203.0L-1016.6 1139.1L-1017.6 1175.2L988.4 1222.7z" fill="#00ffdf" stroke="#00ffdf" stroke-width="1"/>
<path d="M988.4 1222.7L-1017.6 1175.2L-1018.2 1209.8L980.7 1241.8z" fill="#00ffe7" stroke="#00ffe7" stroke-width="1"/>
<path d="M980.7 1241.8L-1018.2 1209.8L-1018.6 1242.8L973.2 1260.0z" fill="#00ffef" stroke="#00ffef" stroke-width="1"/>
<path d="M973.2 1260.0L-1018.6 1242.8L-1018.8 1275.8L965.7 1278.4z" fill="#00fff7" stroke="#00fff7" stroke-width="1"/>
<path d="M965.7 1278.4L-1018.8 1275.8L-1018.7 1307.2L958.6 1296.0z" fill="#0ff" stroke="#0ff" stroke-width="1"/>
<path d="M958.6 1296.0L-1018.7 1307.2L-1018.5 1338.6L951.3 1313.7z" fill="#00f7ff" stroke="#00f7ff" stroke-width="1"/>
<path d="M951.3 1313.7L-1018.5 1338.6L-1017.9 1371.6L943.7 1332.5z" fill="#00efff" stroke="#00efff" stroke-width="1"/>
<path d="M943.7 1332.5L-1017.9 1371.6L-1017.1 1404.6L936.0 1351.3z" fill="#00e7ff" stroke="#00e7ff" stroke-width="1"/>
<path d="M936.0 1351.3L-1017.1 1404.6L-1016.1 1439.1L927.9 1371.1z" fill="#00dfff" stroke="#00dfff" stroke-width="1"/>
<path d="M927.9 1371.1L-1016.1 1439.1L-1014.7 1475.2L919.4 1392.0z" fill="#00d7ff" stroke="#00d7ff" stroke-width="1"/>
<path d="M919.4 1392.0L-1014.7 1475.2L-1013.0 1511.3L910.8 1413.1z" fill="#00cfff" stroke="#00cfff" stroke-width="1"/>
<path d="M910.8 1413.1L-1013.0 1511.3L-1010.9 1549.0L901.8 1435.2z" fill="#00c7ff" stroke="#00c7ff" stroke-width="1"/>
<path d="M901.8 1435.2L-1010.9 1549.0L-1008.5 1586.6L892.7 1457.6z" fill="#00bfff" stroke="#00bfff" stroke-width="1"/>
<path d="M892.7 1457.6L-1008.5 1586.6L-1005.6 1625.8L883.1 1481.0z" fill="#00b7ff" stroke="#00b7ff" stroke-width="1"/>
<path d="M883.1 1481.0L-1005.6 1625.8L-1002.3 1666.5L873.1 1505.6z" fill="#00afff" stroke="#00afff" stroke-width="1"/>
<path d="M873.1 1505.6L-1002.3 1666.5L-998.5 1708.8L862.6 1531.4z" fill="#00a7ff" stroke="#00a7ff" stroke-width="1"/>
<path d="M862.6 1531.4L-998.5 1708.8L-994.3 1751.0L851.9 1557.4z" fill="#009fff" stroke="#009fff" stroke-width="1"/>
<path d="M851.9 1557.4L-994.3 1751.0L-989.5 1794.7L840.8 1584.7z" fill="#0097ff" stroke="#0097ff" stroke-width="1"/>
<path d="M840.8 1584.7L-989.5 1794.7L-984.1 1840.0L829.1 1613.3z" fill="#008fff" stroke="#008fff" stroke-width="1"/>
<path d="M829.1 1613.3L-984.1 1840.0L-978.0 1886.7L816.9 1643.2z" fill="#0087ff" stroke="#0087ff" stroke-width="1"/>
<path d="M816.9 1643.2L-978.0 1886.7L-971.4 1933.4L804.6 1673.5z" fill="#0080ff" stroke="#0080ff" stroke-width="1"/>
<path d="M804.6 1673.5L-971.4 1933.4L-963.8 1983.1L791.3 1706.2z" fill="#0078ff" stroke="#0078ff" stroke-width="1"/>
<path d="M791.3 1706.2L-963.8 1983.1L-955.7 2032.7L777.7 1739.3z" fill="#0070ff" stroke="#0070ff" stroke-width="1"/>
<path d="M777.7 1739.3L-955.7 2032.7L-946.5 2085.3L763.2 1775.1z" fill="#0068ff" stroke="#0068ff" stroke-width="1"/>
<path d="M763.2 1775.1L-946.5 2085.3L-936.6 2137.8L748.4 1811.3z" fill="#0060ff" stroke="#0060ff" stroke-width="1"/>
<path d="M748.4 1811.3L-936.6 2137.8L-925.5 2193.3L732.5 1850.4z" fill="#0058ff" stroke="#0058ff" stroke-width="1"/>
<path d="M732.5 1850.4L-925.5 2193.3L-913.7 2248.6L716.3 1890.0z" fill="#0050ff" stroke="#0050ff" stroke-width="1"/>
<path d="M716.3 1890.0L-913.7 2248.6L-900.5 2306.8L698.9 1932.7z" fill="#0048ff" stroke="#0048ff" stroke-width="1"/>
<path d="M698.9 1932.7L-900.5 2306.8L-886.5 2364.9L681.1 1976.1z" fill="#0040ff" stroke="#0040ff" stroke-width="1"/>
<path d="M681.1 1976.1L-886.5 2364.9L-871.0 2425.8L662.1 2022.8z" fill="#0038ff" stroke="#0038ff" stroke-width="1"/>
<path d="M662.1 2022.8L-871.0 2425.8L-853.7 2489.5L641.7 2072.9z" fill="#0030ff" stroke="#0030ff" stroke-width="1"/>
<path d="M641.7 2072.9L-853.7 2489.5L-835.6 2552.9L620.8 2124.1z" fill="#0028ff" stroke="#0028ff" stroke-width="1"/>
<path d="M620.8 2124.1L-835.6 2552.9L-815.5 2619.1L598.4 2179.0z" fill="#0020ff" stroke="#0020ff" stroke-width="1"/>
<path d="M598.4 2179.0L-815.5 2619.1L-794.0 2686.4L574.9 2236.7z" fill="#0018ff" stroke="#0018ff" stroke-width="1"/>
<path d="M574.9 2236.7L-794.0 2686.4L-770.4 2756.4L549.6 2298.6z" fill="#0010ff" stroke="#0010ff" stroke-width="1"/>
<path d="M549.6 2298.6L-770.4 2756.4L-745.6 2826.0L523.6 2362.3z" fill="#0008ff" stroke="#0008ff" stroke-width="1"/>
<path d="M523.6 2362.3L-745.6 2826.0L-731.9 2862.8L509.5 2396.9z" fill="#00f" stroke="#00f" stroke-width="1"/>
<path d="M478.1 2380.0L-311.8 4316.4L-278.2 4329.9L502.6 2370.8z" fill="#00f" stroke="#00f" stroke-width="1"/>
<path d="M502.6 2370.8L-278.2 4329.9L-210.9 4356.1L550.5 2352.8z" fill="#0800ff" stroke="#0800ff" stroke-width="1"/>
<path d="M550.5 2352.8L-210.9 4356.1L-143.2 4381.3L597.1 2335.3z" fill="#1000ff" stroke="#1000ff" stroke-width="1"/>
<path d="M597.1 2335.3L-143.2 4381.3L-75.0 4405.3L642.4 2318.3z" fill="#1800ff" stroke="#1800ff" stroke-width="1"/>
<path d="M642.4 2318.3L-75.0 4405.3L-6.5 4428.2L686.5 2301.8z" fill="#2000ff" stroke="#2000ff" stroke-width="1"/>
<path d="M686.5 2301.8L-6.5 4428.2L60.9 4449.6L728.6 2286.0z" fill="#2800ff" stroke="#2800ff" stroke-width="1"/>
<path d="M728.6 2286.0L60.9 4449.6L128.6 4469.9L769.6 2270.6z" fill="#3000ff" stroke="#3000ff" stroke-width="1"/>
<path d="M769.6 2270.6L128.6 4469.9L196.6 4489.2L809.8 2255.5z" fill="#3800ff" stroke="#3800ff" stroke-width="1"/>
<path d="M809.8 2255.5L196.6 4489.2L263.4 4507.0L848.1 2241.1z" fill="#4000ff" stroke="#4000ff" stroke-width="1"/>
<path d="M848.1 2241.1L263.4 4507.0L330.5 4523.7L885.7 2227.0z" fill="#4800ff" stroke="#4800ff" stroke-width="1"/>
<path d="M885.7 2227.0L330.5 4523.7L397.8 4539.4L922.4 2213.2z" fill="#5000ff" stroke="#5000ff" stroke-width="1"/>
<path d="M922.4 2213.2L397.8 4539.4L463.8 4553.8L957.6 2200.0z" fill="#5800ff" stroke="#5800ff" stroke-width="1"/>
<path d="M957.6 2200.0L463.8 4553.8L530.0 4567.2L992.2 2187.0z" fill="#6000ff" stroke="#6000ff" stroke-width="1"/>
<path d="M992.2 2187.0L530.0 4567.2L596.4 4579.6L1026.1 2174.3z" fill="#6800ff" stroke="#6800ff" stroke-width="1"/>
<path d="M1026.1 2174.3L596.4 4579.6L661.4 4590.7L1058.7 2162.1z" fill="#7000ff" stroke="#7000ff" stroke-width="1"/>
<path d="M1058.7 2162.1L661.4 4590.7L725.1 4600.6L1089.9 2150.4z" fill="#7800ff" stroke="#7800ff" stroke-width="1"/>
<path d="M1089.9 2150.4L725.1 4600.6L790.4 4609.9L1121.4 2138.6z" fill="#8000ff" stroke="#8000ff" stroke-width="1"/>
<path d="M1121.4 2138.6L790.4 4609.9L852.7 4617.8L1151.0 2127.5z" fill="#8700ff" stroke="#8700ff" stroke-width="1"/>
<path d="M1151.0 2127.5L852.7 4617.8L916.7 4625.0L1180.8 2116.3z" fill="#8f00ff" stroke="#8f00ff" stroke-width="1"/>
<path d="M1180.8 2116.3L916.7 4625.0L979.3 4631.1L1209.5 2105.5z" fill="#9700ff" stroke="#9700ff" stroke-width="1"/>
<path d="M1209.5 2105.5L979.3 4631.1L1040.3 4636.3L1237.1 2095.1z" fill="#9f00ff" stroke="#9f00ff" stroke-width="1"/>
<path d="M1237.1 2095.1L1040.3 4636.3L1101.4 4640.6L1264.4 2084.9z" fill="#a700ff" stroke="#a700ff" stroke-width="1"/>
<path d="M1264.4 2084.9L1101.4 4640.6L1162.6 4644.1L1291.3 2074.8z" fill="#af00ff" stroke="#af00ff" stroke-width="1"/>
<path d="M1291.3 2074.8L1162.6 4644.1L1220.7 4646.6L1316.6 2065.3z" fill="#b700ff" stroke="#b700ff" stroke-width="1"/>
<path d="M1316.6 2065.3L1220.7 4646.6L1280.3 4648.4L1342.3 2055.7z" fill="#bf00ff" stroke="#bf00ff" stroke-width="1"/>
<path d="M1342.3 2055.7L1280.3 4648.4L1338.4 4649.4L1367.0 2046.4z" fill="#c700ff" stroke="#c700ff" stroke-width="1"/>
<path d="M1367.0 2046.4L1338.4 4649.4L1395.0 4649.7L1390.8 2037.5z" fill="#cf00ff" stroke="#cf00ff" stroke-width="1"/>
<path d="M1390.8 2037.5L1395.0 4649.7L1451.5 4649.2L1414.4 2028.6z" fill="#d700ff" stroke="#d700ff" stroke-width="1"/>
<path d="M1414.4 2028.6L1451.5 4649.2L1508.1 4648.1L1437.8 2019.8z" fill="#df00ff" stroke="#df00ff" stroke-width="1"/>
<path d="M1437.8 2019.8L1508.1 4648.1L1563.0 4646.3L1460.4 2011.4z" fill="#e700ff" stroke="#e700ff" stroke-width="1"/>
<path d="M1460.4 2011.4L1563.0 4646.3L1616.4 4643.9L1482.1 2003.2z" fill="#ef00ff" stroke="#ef00ff" stroke-width="1"/>
<path d="M1482.1 2003.2L1616.4 4643.9L1669.7 4640.9L1503.6 1995.1z" fill="#f700ff" stroke="#f700ff" stroke-width="1"/>
<path d="M1503.6 1995.1L1669.7 4640.9L1723.0 4637.2L1525.0 1987.1z" fill="#f0f" stroke="#f0f" stroke-width="1"/>
<path d="M1525.0 1987.1L1723.0 4637.2L1777.8 4632.8L1546.9 1978.9z" fill="#ff00f7" stroke="#ff00f7" stroke-width="1"/>
<path d="M1546.9 1978.9L1777.8 4632.8L1835.7 4627.4L1569.9 1970.3z" fill="#ff00ef" stroke="#ff00ef" stroke-width="1"/>
<path d="M1569.9 1970.3L1835.7 4627.4L1896.6 4620.8L1593.9 1961.2z" fill="#ff00e7" stroke="#ff00e7" stroke-width="1"/>
<path d="M1593.9 1961.2L1896.6 4620.8L1960.5 4613.1L1619.0 1951.8z" fill="#ff00df" stroke="#ff00df" stroke-width="1"/>
<path d="M1619.0 1951.8L1960.5 4613.1L2027.5 4604.0L1645.2 1942.0z" fill="#ff00d7" stroke="#ff00d7" stroke-width="1"/>
<path d="M1645.2 1942.0L2027.5 4604.0L2097.3 4593.4L1672.4 1931.8z" fill="#ff00cf" stroke="#ff00cf" stroke-width="1"/>
<path d="M1672.4 1931.8L2097.3 4593.4L2171.7 4580.9L1701.2 1921.0z" fill="#ff00c7" stroke="#ff00c7" stroke-width="1"/>
<path d="M1701.2 1921.0L2171.7 4580.9L2250.5 4566.2L1731.6 1909.6z" fill="#ff00bf" stroke="#ff00bf" stroke-width="1"/>
<path d="M1731.6 1909.6L2250.5 4566.2L2332.0 4549.5L1763.0 1897.8z" fill="#ff00b7" stroke="#ff00b7" stroke-width="1"/>
<path d="M1763.0 1897.8L2332.0 4549.5L2417.8 4530.2L1795.9 1885.4z" fill="#ff00af" stroke="#ff00af" stroke-width="1"/>
<path d="M1795.9 1885.4L2417.8 4530.2L2509.4 4507.7L1831.1 1872.2z" fill="#ff00a7" stroke="#ff00a7" stroke-width="1"/>
<path d="M1831.1 1872.2L2509.4 4507.7L2604.9 4482.0L1867.9 1858.4z" fill="#ff009f" stroke="#ff009f" stroke-width="1"/>
<path d="M1867.9 1858.4L2604.9 4482.0L2707.4 4451.9L1907.4 1843.6z" fill="#ff0097" stroke="#ff0097" stroke-width="1"/>
<path d="M1907.4 1843.6L2707.4 4451.9L2813.6 4417.8L1948.5 1828.2z" fill="#ff008f" stroke="#ff008f" stroke-width="1"/>
<path d="M1948.5 1828.2L2813.6 4417.8L2924.9 4379.0L1991.9 1811.9z" fill="#ff0087" stroke="#ff0087" stroke-width="1"/>
<path d="M1991.9 1811.9L2924.9 4379.0L3043.8 4333.9L2038.7 1794.3z" fill="#ff0080" stroke="#ff0080" stroke-width="1"/>
<path d="M2038.7 1794.3L3043.8 4333.9L3167.2 4282.9L2087.9 1775.9z" fill="#ff0078" stroke="#ff0078" stroke-width="1"/>
<path d="M2087.9 1775.9L3167.2 4282.9L3296.2 4225.0L2140.1 1756.3z" fill="#ff0070" stroke="#ff0070" stroke-width="1"/>
<path d="M2140.1 1756.3L3296.2 4225.0L3431.7 4158.8L2196.1 1735.3z" fill="#ff0068" stroke="#ff0068" stroke-width="1"/>
<path d="M2196.1 1735.3L3431.7 4158.8L3574.5 4082.7L2256.7 1712.5z" fill="#ff0060" stroke="#ff0060" stroke-width="1"/>
<path d="M2256.7 1712.5L3574.5 4082.7L3721.2 3997.5L2320.9 1688.4z" fill="#ff0058" stroke="#ff0058" stroke-width="1"/>
<path d="M2320.9 1688.4L3721.2 3997.5L3872.4 3901.6L2389.7 1662.6z" fill="#ff0050" stroke="#ff0050" stroke-width="1"/>
<path d="M2389.7 1662.6L3872.4 3901.6L4029.9 3792.4L2464.7 1634.5z" fill="#ff0048" stroke="#ff0048" stroke-width="1"/>
<path d="M2464.7 1634.5L4029.9 3792.4L4190.0 3670.8L2545.4 1604.2z" fill="#ff0040" stroke="#ff0040" stroke-width="1"/>
<path d="M2545.4 1604.2L4190.0 3670.8L4351.6 3535.9L2632.3 1571.6z" fill="#ff0038" stroke="#ff0038" stroke-width="1"/>
<path d="M2632.3 1571.6L4351.6 3535.9L4515.7 3384.9L2727.9 1535.7z" fill="#ff0030" stroke="#ff0030" stroke-width="1"/>
<path d="M2727.9 1535.7L4515.7 3384.9L4678.6 3219.0L2832.0 1496.7z" fill="#ff0028" stroke="#ff0028" stroke-width="1"/>
<path d="M2832.0 1496.7L4678.6 3219.0L4838.8 3037.8L2946.1 1453.8z" fill="#ff0020" stroke="#ff0020" stroke-width="1"/>
<path d="M2946.1 1453.8L4838.8 3037.8L4993.7 2841.9L3071.5 1406.8z" fill="#ff0018" stroke="#ff0018" stroke-width="1"/>
<path d="M3071.5 1406.8L4993.7 2841.9L5141.8 2631.1L3210.6 1354.6z" fill="#ff0010" stroke="#ff0010" stroke-width="1"/>
<path d="M3210.6 1354.6L5141.8 2631.1L5280.8 2406.8L3365.6 1296.4z" fill="#ff0008" stroke="#ff0008" stroke-width="1"/>
<path d="M3365.6 1296.4L5280.8 2406.8L5346.0 2290.3L3449.8 1264.8z" fill="#f00" stroke="#f00" stroke-width="1"/>
<path d="M3435.9 1298.8L4677.4 832.9L4652.0 766.9L3378.6 1267.8z" fill="#f00" stroke="#f00" stroke-width="1"/>
<path d="M3378.6 1267.8L4652.0 766.9L4600.1 640.5L3271.9 1210.1z" fill="#ff0800" stroke="#ff0800" stroke-width="1"/>
<path d="M3271.9 1210.1L4600.1 640.5L4547.6 522.9L3175.9 1158.2z" fill="#ff1000" stroke="#ff1000" stroke-width="1"/>
<path d="M3175.9 1158.2L4547.6 522.9L4495.3 413.8L3089.4 1111.4z" fill="#ff1800" stroke="#ff1800" stroke-width="1"/>
<path d="M3089.4 1111.4L4495.3 413.8L4443.1 311.8L3010.4 1068.7z" fill="#ff2000" stroke="#ff2000" stroke-width="1"/>
<path d="M3010.4 1068.7L4443.1 311.8L4391.3 216.6L2938.2 1029.6z" fill="#ff2800" stroke="#ff2800" stroke-width="1"/>
<path d="M2938.2 1029.6L4391.3 216.6L4341.2 129.4L2873.2 994.4z" fill="#ff3000" stroke="#ff3000" stroke-width="1"/>
<path d="M2873.2 994.4L4341.2 129.4L4291.7 47.4L2812.8 961.8z" fill="#ff3800" stroke="#ff3800" stroke-width="1"/>
<path d="M2812.8 961.8L4291.7 47.4L4243.0 -29.6L2756.7 931.5z" fill="#ff4000" stroke="#ff4000" stroke-width="1"/>
<path d="M2756.7 931.5L4243.0 -29.6L4195.4 -101.7L2704.7 903.3z" fill="#ff4800" stroke="#ff4800" stroke-width="1"/>
<path d="M2704.7 903.3L4195.4 -101.7L4150.0 -167.8L2657.4 877.7z" fill="#ff5000" stroke="#ff5000" stroke-width="1"/>
<path d="M2657.4 877.7L4150.0 -167.8L4105.3 -230.4L2612.7 853.6z" fill="#ff5800" stroke="#ff5800" stroke-width="1"/>
<path d="M2612.7 853.6L4105.3 -230.4L4061.5 -289.8L2570.6 830.8z" fill="#ff6000" stroke="#ff6000" stroke-width="1"/>
<path d="M2570.6 830.8L4061.5 -289.8L4020.5 -343.5L2532.5 810.2z" fill="#ff6800" stroke="#ff6800" stroke-width="1"/>
<path d="M2532.5 810.2L4020.5 -343.5L3979.7 -395.3L2495.9 790.4z" fill="#ff7000" stroke="#ff7000" stroke-width="1"/>
<path d="M2495.9 790.4L3979.7 -395.3L3940.1 -444.1L2461.4 771.7z" fill="#ff7800" stroke="#ff7800" stroke-width="1"/>
<path d="M2461.4 771.7L3940.1 -444.1L3901.9 -490.0L2429.0 754.2z" fill="#ff8000" stroke="#ff8000" stroke-width="1"/>
<path d="M2429.0 754.2L3901.9 -490.0L3865.1 -533.0L2398.6 737.8z" fill="#ff8700" stroke="#ff8700" stroke-width="1"/>
<path d="M2398.6 737.8L3865.1 -533.0L3829.9 -573.1L2370.2 722.4z" fill="#ff8f00" stroke="#ff8f00" stroke-width="1"/>
<path d="M2370.2 722.4L3829.9 -573.1L3796.3 -610.5L2343.6 708.1z" fill="#ff9700" stroke="#ff9700" stroke-width="1"/>
<path d="M2343.6 708.1L3796.3 -610.5L3762.3 -647.6L2317.3 693.8z" fill="#ff9f00" stroke="#ff9f00" stroke-width="1"/>
<path d="M2317.3 693.8L3762.3 -647.6L3731.2 -680.8L2293.6 681.0z" fill="#ffa700" stroke="#ffa700" stroke-width="1"/>
<path d="M2293.6 681.0L3731.2 -680.8L3699.7 -713.7L2270.1 668.3z" fill="#ffaf00" stroke="#ffaf00" stroke-width="1"/>
<path d="M2270.1 668.3L3699.7 -713.7L3670.1 -744.1L2248.3 656.5z" fill="#ffb700" stroke="#ffb700" stroke-width="1"/>
<path d="M2248.3 656.5L3670.1 -744.1L3641.3 -773.0L2227.4 645.2z" fill="#ffbf00" stroke="#ffbf00" stroke-width="1"/>
<path d="M2227.4 645.2L3641.3 -773.0L3613.3 -800.6L2207.5 634.4z" fill="#ffc700" stroke="#ffc700" stroke-width="1"/>
<path d="M2207.5 634.4L3613.3 -800.6L3586.3 -826.9L2188.4 624.1z" fill="#ffcf00" stroke="#ffcf00" stroke-width="1"/>
<path d="M2188.4 624.1L3586.3 -826.9L3560.2 -851.9L2170.3 614.3z" fill="#ffd700" stroke="#ffd700" stroke-width="1"/>
<path d="M2170.3 614.3L3560.2 -851.9L3535.0 -875.5L2153.0 604.9z" fill="#ffdf00" stroke="#ffdf00" stroke-width="1"/>
<path d="M2153.0 604.9L3535.0 -875.5L3510.8 -898.0L2136.5 596.0z" fill="#ffe700" stroke="#ffe700" stroke-width="1"/>
<path d="M2136.5 596.0L3510.8 -898.0L3486.4 -920.2L2120.1 587.2z" fill="#ffef00" stroke="#ffef00" stroke-width="1"/>
<path d="M2120.1 587.2L3486.4 -920.2L3463.1 -941.2L2104.5 578.8z" fill="#fff700" stroke="#fff700" stroke-width="1"/>
<path d="M2104.5 578.8L3463.1 -941.2L3440.8 -961.0L2089.8 570.8z" fill="#ff0" stroke="#ff0" stroke-width="1"/>
<path d="M2089.8 570.8L3440.8 -961.0L3418.3 -980.7L2075.1 562.8z" fill="#f7ff00" stroke="#f7ff00" stroke-width="1"/>
<path d="M2075.1 562.8L3418.3 -980.7L3394.6 -1001.2L2059.7 554.5z" fill="#efff00" stroke="#efff00" stroke-width="1"/>
<path d="M2059.7 554.5L3394.6 -1001.2L3370.6 -1021.6L2044.3 546.2z" fill="#e7ff00" stroke="#e7ff00" stroke-width="1"/>
<path d="M2044.3 546.2L3370.6 -1021.6L3345.4 -1042.8L2028.2 537.5z" fill="#dfff00" stroke="#dfff00" stroke-width="1"/>
<path d="M2028.2 537.5L3345.4 -1042.8L3318.8 -1064.9L2011.4 528.4z" fill="#d7ff00" stroke="#d7ff00" stroke-width="1"/>
<path d="M2011.4 528.4L3318.8 -1064.9L3292.0 -1086.7L1994.7 519.3z" fill="#cfff00" stroke="#cfff00" stroke-width="1"/>
<path d="M1994.7 519.3L3292.0 -1086.7L3263.8 -1109.3L1977.2 509.9z" fill="#c7ff00" stroke="#c7ff00" stroke-width="1"/>
<path d="M1977.2 509.9L3263.8 -1109.3L3235.4 -1131.6L1959.8 500.5z" fill="#bfff00" stroke="#bfff00" stroke-width="1"/>
<path d="M1959.8 500.5L3235.4 -1131.6L3205.6 -1154.7L1941.6 490.7z" fill="#b7ff00" stroke="#b7ff00" stroke-width="1"/>
<path d="M1941.6 490.7L3205.6 -1154.7L3175.6 -1177.6L1923.6 480.9z" fill="#afff00" stroke="#afff00" stroke-width="1"/>
<path d="M1923.6 480.9L3175.6 -1177.6L3142.9 -1202.0L1904.0 470.3z" fill="#a7ff00" stroke="#a7ff00" stroke-width="1"/>
<path d="M1904.0 470.3L3142.9 -1202.0L3109.9 -1226.2L1884.6 459.8z" fill="#9fff00" stroke="#9fff00" stroke-width="1"/>
<path d="M1884.6 459.8L3109.9 -1226.2L3076.8 -1250.0L1865.1 449.3z" fill="#97ff00" stroke="#97ff00" stroke-width="1"/>
<path d="M1865.1 449.3L3076.8 -1250.0L3040.9 -1275.4L1844.2 438.0z" fill="#8fff00" stroke="#8fff00" stroke-width="1"/>
<path d="M1844.2 438.0L3040.9 -1275.4L3004.7 -1300.4L1823.4 426.7z" fill="#87ff00" stroke="#87ff00" stroke-width="1"/>
<path d="M1823.4 426.7L3004.7 -1300.4L2967.0 -1325.9L1801.9 415.1z" fill="#80ff00" stroke="#80ff00" stroke-width="1"/>
<path d="M1801.9 415.1L2967.0 -1325.9L2927.7 -1351.9L1779.6 403.1z" fill="#78ff00" stroke="#78ff00" stroke-width="1"/>
<path d="M1779.6 403.1L2927.7 -1351.9L2886.8 -1378.4L1756.7 390.7z" fill="#70ff00" stroke="#70ff00" stroke-width="1"/>
<path d="M1756.7 390.7L2886.8 -1378.4L2845.6 -1404.4L1733.8 378.3z" fill="#68ff00" stroke="#68ff00" stroke-width="1"/>
<path d="M1733.8 378.3L2845.6 -1404.4L2801.4 -1431.5L1709.5 365.1z" fill="#60ff00" stroke="#60ff00" stroke-width="1"/>
<path d="M1709.5 365.1L2801.4 -1431.5L2755.6 -1459.0L1684.4 351.6z" fill="#58ff00" stroke="#58ff00" stroke-width="1"/>
<path d="M1684.4 351.6L2755.6 -1459.0L2709.5 -1485.9L1659.4 338.0z" fill="#50ff00" stroke="#50ff00" stroke-width="1"/>
<path d="M1659.4 338.0L2709.5 -1485.9L2660.3 -1513.8L1632.9 323.7z" fill="#48ff00" stroke="#48ff00" stroke-width="1"/>
<path d="M1632.9 323.7L2660.3 -1513.8L2609.4 -1541.9L1605.7 309.0z" fill="#40ff00" stroke="#40ff00" stroke-width="1"/>
<path d="M1605.7 309.0L2609.4 -1541.9L2556.8 -1570.0L1577.8 293.9z" fill="#38ff00" stroke="#38ff00" stroke-width="1"/>
<path d="M1577.8 293.9L2556.8 -1570.0L2502.3 -1598.1L1549.1 278.4z" fill="#30ff00" stroke="#30ff00" stroke-width="1"/>
<path d="M1549.1 278.4L2502.3 -1598.1L2446.1 -1626.2L1519.6 262.5z" fill="#28ff00" stroke="#28ff00" stroke-width="1"/>
<path d="M1519.6 262.5L2446.1 -1626.2L2386.7 -1654.8L1488.7 245.7z" fill="#20ff00" stroke="#20ff00" stroke-width="1"/>
<path d="M1488.7 245.7L2386.7 -1654.8L2326.8 -1682.5L1457.7 229.0z" fill="#18ff00" stroke="#18ff00" stroke-width="1"/>
<path d="M1457.7 229.0L2326.8 -1682.5L2263.7 -1710.7L1425.2 211.4z" fill="#10ff00" stroke="#10ff00" stroke-width="1"/>
<path d="M1425.2 211.4L2263.7 -1710.7L2197.2 -1739.0L1391.0 192.9z" fill="#08ff00" stroke="#08ff00" stroke-width="1"/>
<path d="M1391.0 192.9L2197.2 -1739.0L2163.8 -1752.8L1374.0 183.7z" fill="#0f0" stroke="#0f0" stroke-width="1"/>
<g clip-path="url(#itri)"><circle cx="1466.0" cy="1286.0" r="6" fill="#fff"/>
<path d="M1466.0 1286.0L1385.0 143.4L1402.7 135.9L1418.8 144.6L1450.5 172.7z" fill="url(#if0)"/>
<path d="M1466.0 1286.0L1416.9 154.5L1434.7 153.2L1450.4 161.7L1480.8 189.1z" fill="url(#if1)"/>
<path d="M1466.0 1286.0L1448.2 171.4L1465.8 170.0L1481.0 178.2L1510.3 205.0z" fill="url(#if2)"/>
<path d="M1466.0 1286.0L1478.6 187.8L1496.0 186.3L1510.7 194.3L1538.9 220.5z" fill="url(#if3)"/>
<path d="M1466.0 1286.0L1508.1 203.8L1525.3 202.2L1539.7 209.9L1566.9 235.6z" fill="url(#if4)"/>
<path d="M1466.0 1286.0L1536.8 219.3L1553.9 217.6L1567.9 225.2L1594.2 250.4z" fill="url(#if5)"/>
<path d="M1466.0 1286.0L1564.8 234.5L1581.8 232.7L1595.5 240.1L1620.9 264.8z" fill="url(#if6)"/>
<path d="M1466.0 1286.0L1592.1 249.3L1609.0 247.5L1622.5 254.7L1647.2 279.0z" fill="url(#if7)"/>
<path d="M1466.0 1286.0L1618.9 263.7L1635.8 261.9L1648.9 269.0L1672.9 292.9z" fill="url(#if8)"/>
<path d="M1466.0 1286.0L1645.2 277.9L1662.0 276.1L1674.9 283.1L1698.2 306.6z" fill="url(#if9)"/>
<path d="M1466.0 1286.0L1670.9 291.9L1687.8 290.0L1700.5 296.9L1723.2 320.1z" fill="url(#if10)"/>
<path d="M1466.0 1286.0L1696.3 305.6L1713.2 303.8L1725.7 310.6L1747.8 333.4z" fill="url(#if11)"/>
<path d="M1466.0 1286.0L1721.3 319.1L1738.2 317.3L1750.6 324.0L1772.2 346.6z" fill="url(#if12)"/>
<path d="M1466.0 1286.0L1745.9 332.4L1762.9 330.7L1775.2 337.3L1796.3 359.6z" fill="url(#if13)"/>
<path d="M1466.0 1286.0L1770.3 345.6L1787.4 343.9L1799.5 350.5L1820.2 372.6z" fill="url(#if14)"/>
<path d="M1466.0 1286.0L1794.4 358.7L1811.6 357.0L1823.7 363.5L1843.9 385.4z" fill="url(#if15)"/>
<path d="M1466.0 1286.0L1818.3 371.6L1835.7 370.0L1847.6 376.5L1867.5 398.2z" fill="url(#if16)"/>
<path d="M1466.0 1286.0L1842.1 384.4L1859.6 382.9L1871.5 389.4L1891.0 410.9z" fill="url(#if17)"/>
<path d="M1466.0 1286.0L1865.7 397.2L1883.3 395.8L1895.2 402.2L1914.5 423.6z" fill="url(#if18)"/>
<path d="M1466.0 1286.0L1889.2 409.9L1907.1 408.6L1918.9 415.0L1937.9 436.2z" fill="url(#if19)"/>
<path d="M1466.0 1286.0L1912.7 422.6L1930.7 421.4L1942.6 427.8L1961.3 448.9z" fill="url(#if20)"/>
<path d="M1466.0 1286.0L1936.1 435.3L1954.4 434.2L1966.3 440.6L1984.8 461.6z" fill="url(#if21)"/>
<path d="M1466.0 1286.0L1959.6 448.0L1978.1 447.1L1990.0 453.5L2008.4 474.4z" fill="url(#if22)"/>
<path d="M1466.0 1286.0L1983.1 460.7L2001.9 459.9L2013.8 466.4L2032.1 487.2z" fill="url(#if23)"/>
<path d="M1466.0 1286.0L2006.6 473.4L2025.8 472.8L2037.7 479.3L2056.0 500.1z" fill="url(#if24)"/>
<path d="M1466.0 1286.0L2030.3 486.2L2049.8 485.8L2061.8 492.3L2080.1 513.1z" fill="url(#if25)"/>
<path d="M1466.0 1286.0L2054.2 499.1L2074.0 498.9L2086.1 505.5L2104.4 526.3z" fill="url(#if26)"/>
<path d="M1466.0 1286.0L2078.2 512.1L2098.4 512.1L2110.7 518.8L2128.9 539.6z" fill="url(#if27)"/>
<path d="M1466.0 1286.0L2102.5 525.3L2123.1 525.4L2135.5 532.2L2153.6 552.9z" fill="url(#if28)"/>
<path d="M1466.0 1286.0L2127.0 538.5L2147.9 538.9L2160.4 545.7L2178.6 566.4z" fill="url(#if29)"/>
<path d="M1466.0 1286.0L2151.7 551.9L2173.0 552.5L2185.7 559.3L2204.1 580.2z" fill="url(#if30)"/>
<path d="M1466.0 1286.0L2176.7 565.4L2198.5 566.2L2211.4 573.2L2230.0 594.2z" fill="url(#if31)"/>
<path d="M1466.0 1286.0L2202.1 579.1L2224.4 580.3L2237.5 587.4L2256.4 608.5z" fill="url(#if32)"/>
<path d="M1466.0 1286.0L2228.0 593.1L2250.8 594.5L2264.2 601.8L2283.3 623.0z" fill="url(#if33)"/>
<path d="M1466.0 1286.0L2254.3 607.4L2277.7 609.1L2291.4 616.5L2310.9 637.9z" fill="url(#if34)"/>
<path d="M1466.0 1286.0L2281.2 621.9L2305.2 624.0L2319.2 631.5L2339.1 653.2z" fill="url(#if35)"/>
<path d="M1466.0 1286.0L2308.7 636.8L2333.4 639.2L2347.7 646.9L2368.1 668.9z" fill="url(#if36)"/>
<path d="M1466.0 1286.0L2336.9 652.0L2362.3 654.8L2377.0 662.8L2397.9 685.0z" fill="url(#if37)"/>
<path d="M1466.0 1286.0L2365.8 667.7L2391.9 670.9L2407.1 679.1L2428.6 701.6z" fill="url(#if38)"/>
<path d="M1466.0 1286.0L2395.5 683.7L2422.5 687.4L2438.1 695.8L2460.3 718.8z" fill="url(#if39)"/>
<path d="M1466.0 1286.0L2426.2 700.3L2454.0 704.4L2470.1 713.1L2493.1 736.5z" fill="url(#if40)"/>
<path d="M1466.0 1286.0L2457.8 717.4L2486.5 722.0L2503.2 731.1L2527.1 754.9z" fill="url(#if41)"/>
<path d="M1466.0 1286.0L2490.5 735.1L2520.3 740.2L2537.6 749.6L2562.4 774.0z" fill="url(#if42)"/>
<path d="M1466.0 1286.0L2524.4 753.4L2555.2 759.2L2573.2 768.9L2599.1 793.9z" fill="url(#if43)"/>
<path d="M1466.0 1286.0L2559.6 772.5L2591.6 778.8L2610.4 789.0L2637.5 814.6z" fill="url(#if44)"/>
<path d="M1466.0 1286.0L2596.3 792.3L2629.5 799.3L2649.1 809.9L2677.6 836.3z" fill="url(#if45)"/>
<path d="M1466.0 1286.0L2634.5 813.0L2669.1 820.8L2689.6 831.9L2719.7 859.1z" fill="url(#if46)"/>
<path d="M1466.0 1286.0L2674.5 834.6L2710.6 843.2L2732.2 854.8L2764.0 883.0z" fill="url(#if47)"/>
<path d="M1466.0 1286.0L2716.4 857.3L2754.2 866.8L2776.9 879.0L2810.7 908.3z" fill="url(#if48)"/>
<path d="M1466.0 1286.0L2760.5 881.1L2800.1 891.6L2824.0 904.5L2860.1 935.0z" fill="url(#if49)"/>
<path d="M1466.0 1286.0L2807.0 906.3L2848.6 917.8L2873.9 931.5L2912.5 963.3z" fill="url(#if50)"/>
<path d="M1466.0 1286.0L2856.2 932.9L2899.9 945.6L2926.8 960.1L2968.3 993.5z" fill="url(#if51)"/>
<path d="M1466.0 1286.0L2908.3 961.1L2954.5 975.1L2983.1 990.6L3027.8 1025.7z" fill="url(#if52)"/>
<path d="M1466.0 1286.0L2963.8 991.1L3012.7 1006.6L3043.3 1023.1L3091.8 1060.3z" fill="url(#if53)"/>
<path d="M1466.0 1286.0L3023.1 1023.1L3075.0 1040.3L3107.9 1058.0L3160.6 1097.5z" fill="url(#if54)"/>
<path d="M1466.0 1286.0L3086.7 1057.5L3142.0 1076.5L3177.4 1095.6L3235.0 1137.7z" fill="url(#if55)"/>
<path d="M1466.0 1286.0L3155.1 1094.5L3214.2 1115.5L3252.5 1136.3L3315.9 1181.5z" fill="url(#if56)"/>
<path d="M1466.0 1286.0L3229.1 1134.5L3292.5 1157.9L3334.2 1180.5L3404.3 1229.3z" fill="url(#if57)"/>
<path d="M1466.0 1286.0L3309.4 1178.0L3377.8 1204.0L3423.5 1228.7L3501.3 1281.8z" fill="url(#if58)"/>
<path d="M1466.0 1286.0L3397.2 1225.4L3471.3 1254.6L3521.5 1281.7L3359.9 1334.8z" fill="url(#if59)"/>
<path d="M1466.0 1286.0L3493.5 1277.5L3447.5 1309.5L3378.7 1335.3L3236.7 1381.1z" fill="url(#if60)"/>
<path d="M1466.0 1286.0L3369.9 1331.1L3314.4 1359.4L3254.3 1382.0L3128.3 1421.8z" fill="url(#if61)"/>
<path d="M1466.0 1286.0L3245.5 1377.8L3197.8 1403.2L3144.8 1423.1L3031.9 1457.9z" fill="url(#if62)"/>
<path d="M1466.0 1286.0L3136.0 1418.9L3094.7 1441.9L3047.5 1459.6L2945.7 1490.3z" fill="url(#if63)"/>
<path d="M1466.0 1286.0L3038.8 1455.3L3002.7 1476.4L2960.3 1492.3L2867.8 1519.5z" fill="url(#if64)"/>
<path d="M1466.0 1286.0L2951.8 1488.0L2920.0 1507.4L2881.7 1521.8L2797.1 1546.0z" fill="url(#if65)"/>
<path d="M1466.0 1286.0L2873.4 1517.4L2845.2 1535.5L2810.3 1548.6L2732.6 1570.2z" fill="url(#if66)"/>
<path d="M1466.0 1286.0L2802.2 1544.1L2777.0 1561.1L2745.1 1573.1L2673.3 1592.5z" fill="url(#if67)"/>
<path d="M1466.0 1286.0L2737.2 1568.5L2714.6 1584.5L2685.2 1595.5L2618.6 1613.0z" fill="url(#if68)"/>
<path d="M1466.0 1286.0L2677.6 1590.9L2657.1 1606.1L2630.0 1616.3L2567.8 1632.1z" fill="url(#if69)"/>
<path d="M1466.0 1286.0L2622.5 1611.5L2603.9 1626.1L2578.7 1635.5L2520.6 1649.8z" fill="url(#if70)"/>
<path d="M1466.0 1286.0L2571.5 1630.7L2554.5 1644.6L2531.0 1653.4L2476.4 1666.4z" fill="url(#if71)"/>
<path d="M1466.0 1286.0L2524.0 1648.5L2508.4 1661.9L2486.4 1670.1L2435.0 1681.9z" fill="url(#if72)"/>
<path d="M1466.0 1286.0L2479.6 1665.2L2465.2 1678.1L2444.6 1685.8L2396.0 1696.6z" fill="url(#if73)"/>
<path d="M1466.0 1286.0L2438.0 1680.8L2424.6 1693.3L2405.2 1700.6L2359.1 1710.4z" fill="url(#if74)"/>
<path d="M1466.0 1286.0L2398.8 1695.5L2386.3 1707.7L2367.9 1714.6L2324.2 1723.5z" fill="url(#if75)"/>
<path d="M1466.0 1286.0L2361.8 1709.4L2350.1 1721.3L2332.7 1727.8L2291.0 1736.0z" fill="url(#if76)"/>
<path d="M1466.0 1286.0L2326.7 1722.5L2315.7 1734.2L2299.2 1740.4L2259.4 1747.8z" fill="url(#if77)"/>
<path d="M1466.0 1286.0L2293.4 1735.0L2283.0 1746.5L2267.2 1752.4L2229.1 1759.2z" fill="url(#if78)"/>
<path d="M1466.0 1286.0L2261.7 1746.9L2251.8 1758.2L2236.7 1763.8L2200.2 1770.0z" fill="url(#if79)"/>
<path d="M1466.0 1286.0L2231.4 1758.3L2221.9 1769.4L2207.4 1774.8L2172.4 1780.5z" fill="url(#if80)"/>
<path d="M1466.0 1286.0L2202.3 1769.2L2193.3 1780.1L2179.4 1785.4L2145.6 1790.5z" fill="url(#if81)"/>
<path d="M1466.0 1286.0L2174.4 1779.7L2165.7 1790.5L2152.3 1795.5L2119.8 1800.2z" fill="url(#if82)"/>
<path d="M1466.0 1286.0L2147.6 1789.8L2139.2 1800.4L2126.3 1805.3L2094.8 1809.6z" fill="url(#if83)"/>
<path d="M1466.0 1286.0L2121.7 1799.5L2113.6 1810.1L2101.1 1814.7L2070.7 1818.6z" fill="url(#if84)"/>
<path d="M1466.0 1286.0L2096.7 1808.9L2088.8 1819.4L2076.6 1823.9L2047.2 1827.4z" fill="url(#if85)"/>
<path d="M1466.0 1286.0L2072.5 1818.0L2064.7 1828.4L2052.9 1832.8L2024.4 1836.0z" fill="url(#if86)"/>
<path d="M1466.0 1286.0L2048.9 1826.8L2041.3 1837.2L2029.9 1841.5L2002.1 1844.4z" fill="url(#if87)"/>
<path d="M1466.0 1286.0L2026.1 1835.4L2018.6 1845.7L2007.4 1849.9L1980.4 1852.5z" fill="url(#if88)"/>
<path d="M1466.0 1286.0L2003.8 1843.7L1996.4 1854.0L1985.5 1858.1L1959.1 1860.5z" fill="url(#if89)"/>
<path d="M1466.0 1286.0L1982.0 1851.9L1974.7 1862.2L1964.0 1866.2L1938.3 1868.3z" fill="url(#if90)"/>
<path d="M1466.0 1286.0L1960.7 1859.9L1953.5 1870.1L1943.0 1874.1L1917.9 1876.0z" fill="url(#if91)"/>
<path d="M1466.0 1286.0L1939.9 1867.7L1932.6 1877.9L1922.4 1881.8L1897.8 1883.5z" fill="url(#if92)"/>
<path d="M1466.0 1286.0L1919.4 1875.4L1912.2 1885.6L1902.1 1889.4L1878.0 1890.9z" fill="url(#if93)"/>
<path d="M1466.0 1286.0L1899.3 1882.9L1892.1 1893.2L1882.1 1896.9L1858.5 1898.2z" fill="url(#if94)"/>
<path d="M1466.0 1286.0L1879.5 1890.4L1872.2 1900.6L1862.4 1904.3L1839.2 1905.5z" fill="url(#if95)"/>
<path d="M1466.0 1286.0L1860.0 1897.7L1852.6 1908.0L1842.9 1911.6L1820.1 1912.6z" fill="url(#if96)"/>
<path d="M1466.0 1286.0L1840.7 1904.9L1833.3 1915.2L1823.6 1918.8L1801.2 1919.7z" fill="url(#if97)"/>
<path d="M1466.0 1286.0L1821.6 1912.1L1814.1 1922.4L1804.5 1926.0L1782.4 1926.8z" fill="url(#if98)"/>
<path d="M1466.0 1286.0L1802.6 1919.2L1795.0 1929.6L1785.6 1933.1L1763.7 1933.8z" fill="url(#if99)"/>
<path d="M1466.0 1286.0L1783.8 1926.3L1776.1 1936.7L1766.7 1940.2L1745.1 1940.8z" fill="url(#if100)"/>
<path d="M1466.0 1286.0L1765.1 1933.3L1757.3 1943.7L1747.9 1947.3L1726.6 1947.8z" fill="url(#if101)"/>
<path d="M1466.0 1286.0L1746.5 1940.3L1738.5 1950.8L1729.1 1954.3L1708.0 1954.7z" fill="url(#if102)"/>
<path d="M1466.0 1286.0L1728.0 1947.2L1719.8 1957.8L1710.4 1961.3L1689.5 1961.7z" fill="url(#if103)"/>
<path d="M1466.0 1286.0L1709.4 1954.2L1701.0 1964.8L1691.7 1968.4L1670.9 1968.7z" fill="url(#if104)"/>
<path d="M1466.0 1286.0L1690.9 1961.2L1682.3 1971.9L1672.9 1975.4L1652.2 1975.7z" fill="url(#if105)"/>
<path d="M1466.0 1286.0L1672.3 1968.1L1663.5 1978.9L1654.0 1982.5L1633.4 1982.7z" fill="url(#if106)"/>
<path d="M1466.0 1286.0L1653.6 1975.1L1644.6 1986.0L1635.1 1989.6L1614.5 1989.8z" fill="url(#if107)"/>
<path d="M1466.0 1286.0L1634.8 1982.2L1625.6 1993.2L1616.0 1996.8L1595.5 1996.9z" fill="url(#if108)"/>
<path d="M1466.0 1286.0L1616.0 1989.3L1606.4 2000.4L1596.7 2004.0L1576.2 2004.2z" fill="url(#if109)"/>
<path d="M1466.0 1286.0L1596.9 1996.4L1587.0 2007.6L1577.3 2011.3L1556.7 2011.5z" fill="url(#if110)"/>
<path d="M1466.0 1286.0L1577.7 2003.6L1567.5 2015.0L1557.6 2018.7L1537.0 2018.9z" fill="url(#if111)"/>
<path d="M1466.0 1286.0L1558.2 2010.9L1547.7 2022.4L1537.7 2026.1L1517.0 2026.4z" fill="url(#if112)"/>
<path d="M1466.0 1286.0L1538.5 2018.3L1527.6 2029.9L1517.5 2033.7L1496.9 2033.9z" fill="url(#if113)"/>
<path d="M1466.0 1286.0L1518.5 2025.8L1507.4 2037.5L1497.2 2041.3L1476.5 2041.6z" fill="url(#if114)"/>
<path d="M1466.0 1286.0L1498.4 2033.4L1487.0 2045.2L1476.6 2049.1L1455.7 2049.4z" fill="url(#if115)"/>
<path d="M1466.0 1286.0L1478.1 2041.0L1466.1 2053.0L1455.6 2057.0L1434.4 2057.4z" fill="url(#if116)"/>
<path d="M1466.0 1286.0L1457.3 2048.8L1444.9 2061.0L1434.1 2065.0L1412.6 2065.6z" fill="url(#if117)"/>
<path d="M1466.0 1286.0L1436.0 2056.8L1423.2 2069.1L1412.1 2073.3L1390.3 2073.9z" fill="url(#if118)"/>
<path d="M1466.0 1286.0L1414.3 2064.9L1400.9 2077.5L1389.6 2081.7L1367.4 2082.5z" fill="url(#if119)"/>
<path d="M1466.0 1286.0L1392.0 2073.3L1378.1 2086.0L1366.4 2090.4L1343.8 2091.4z" fill="url(#if120)"/>
<path d="M1466.0 1286.0L1369.2 2081.9L1354.6 2094.9L1342.6 2099.4L1319.5 2100.5z" fill="url(#if121)"/>
<path d="M1466.0 1286.0L1345.6 2090.7L1330.4 2103.9L1318.0 2108.6L1294.3 2109.9z" fill="url(#if122)"/>
<path d="M1466.0 1286.0L1321.4 2099.8L1305.4 2113.3L1292.6 2118.1L1268.3 2119.7z" fill="url(#if123)"/>
<path d="M1466.0 1286.0L1296.3 2109.2L1279.6 2123.0L1266.4 2128.0L1241.3 2129.8z" fill="url(#if124)"/>
<path d="M1466.0 1286.0L1270.3 2119.0L1252.8 2133.0L1239.1 2138.2L1213.2 2140.4z" fill="url(#if125)"/>
<path d="M1466.0 1286.0L1243.4 2129.1L1225.1 2143.5L1210.7 2148.8L1184.0 2151.4z" fill="url(#if126)"/>
<path d="M1466.0 1286.0L1215.4 2139.6L1196.1 2154.3L1181.2 2159.9L1153.4 2162.8z" fill="url(#if127)"/>
<path d="M1466.0 1286.0L1186.3 2150.5L1165.9 2165.7L1150.3 2171.5L1121.4 2174.9z" fill="url(#if128)"/>
<path d="M1466.0 1286.0L1155.8 2161.9L1134.3 2177.5L1118.0 2183.7L1087.7 2187.5z" fill="url(#if129)"/>
<path d="M1466.0 1286.0L1123.9 2173.9L1101.2 2189.9L1084.0 2196.4L1052.3 2200.8z" fill="url(#if130)"/>
<path d="M1466.0 1286.0L1090.4 2186.5L1066.4 2203.0L1048.2 2209.8L1014.9 2214.8z" fill="url(#if131)"/>
<path d="M1466.0 1286.0L1055.1 2199.7L1029.6 2216.8L1010.5 2224.0L975.3 2229.7z" fill="url(#if132)"/>
<path d="M1466.0 1286.0L1017.9 2213.7L990.7 2231.4L970.4 2239.0L933.2 2245.5z" fill="url(#if133)"/>
<path d="M1466.0 1286.0L978.4 2228.5L949.5 2246.9L927.9 2255.0L888.2 2262.3z" fill="url(#if134)"/>
<path d="M1466.0 1286.0L936.5 2244.2L905.6 2263.3L882.5 2272.0L840.1 2280.4z" fill="url(#if135)"/>
<path d="M1466.0 1286.0L891.8 2261.0L858.7 2281.0L833.9 2290.2L788.4 2299.8z" fill="url(#if136)"/>
<path d="M1466.0 1286.0L843.9 2279.0L808.3 2299.8L781.7 2309.8L732.6 2320.7z" fill="url(#if137)"/>
<path d="M1466.0 1286.0L792.5 2298.3L754.1 2320.2L725.4 2331.0L672.1 2343.4z" fill="url(#if138)"/>
<path d="M1466.0 1286.0L737.1 2319.1L695.5 2342.2L664.3 2353.9L606.2 2368.2z" fill="url(#if139)"/>
<path d="M1466.0 1286.0L676.9 2341.6L631.7 2366.1L597.7 2378.9L533.9 2395.3z" fill="url(#if140)"/>
<path d="M1466.0 1286.0L611.4 2366.2L562.0 2392.3L524.7 2406.3L454.2 2425.2z" fill="url(#if141)"/>
<path d="M1466.0 1286.0L539.7 2393.1L485.5 2421.0L444.2 2436.5L497.9 2318.1z" fill="url(#if142)"/>
<path d="M1466.0 1286.0L460.6 2422.8L467.1 2380.4L488.3 2328.3L535.8 2225.2z" fill="url(#if143)"/>
<path d="M1466.0 1286.0L494.8 2325.8L508.1 2279.8L526.6 2234.5L569.1 2143.7z" fill="url(#if144)"/>
<path d="M1466.0 1286.0L533.1 2231.9L543.9 2192.1L560.2 2152.2L598.5 2071.6z" fill="url(#if145)"/>
<path d="M1466.0 1286.0L566.6 2149.6L575.5 2114.7L589.9 2079.4L624.8 2007.2z" fill="url(#if146)"/>
<path d="M1466.0 1286.0L596.3 2076.8L603.5 2045.9L616.4 2014.3L648.4 1949.2z" fill="url(#if147)"/>
<path d="M1466.0 1286.0L622.8 2011.9L628.7 1984.3L640.3 1955.8L669.8 1896.7z" fill="url(#if148)"/>
<path d="M1466.0 1286.0L646.6 1953.5L651.4 1928.7L661.9 1902.8L689.3 1848.9z" fill="url(#if149)"/>
<path d="M1466.0 1286.0L668.2 1900.6L672.0 1878.1L681.6 1854.5L707.2 1805.1z" fill="url(#if150)"/>
<path d="M1466.0 1286.0L687.8 1852.5L690.8 1831.9L699.6 1810.3L723.6 1764.8z" fill="url(#if151)"/>
<path d="M1466.0 1286.0L705.8 1808.4L708.1 1789.5L716.3 1769.5L738.8 1727.5z" fill="url(#if152)"/>
<path d="M1466.0 1286.0L722.4 1767.8L724.1 1750.3L731.6 1731.8L753.0 1692.8z" fill="url(#if153)"/>
<path d="M1466.0 1286.0L737.7 1730.2L738.9 1714.0L745.9 1696.8L766.2 1660.4z" fill="url(#if154)"/>
<path d="M1466.0 1286.0L751.9 1695.4L752.7 1680.2L759.3 1664.1L778.5 1630.1z" fill="url(#if155)"/>
<path d="M1466.0 1286.0L765.2 1662.8L765.6 1648.6L771.7 1633.5L790.2 1601.6z" fill="url(#if156)"/>
<path d="M1466.0 1286.0L777.6 1632.4L777.7 1618.9L783.5 1604.8L801.1 1574.8z" fill="url(#if157)"/>
<path d="M1466.0 1286.0L789.3 1603.8L789.1 1591.0L794.5 1577.6L811.5 1549.4z" fill="url(#if158)"/>
<path d="M1466.0 1286.0L800.3 1576.8L799.8 1564.6L805.0 1552.0L821.3 1525.3z" fill="url(#if159)"/>
<path d="M1466.0 1286.0L810.7 1551.3L810.0 1539.7L814.9 1527.6L830.7 1502.3z" fill="url(#if160)"/>
<path d="M1466.0 1286.0L820.6 1527.1L819.7 1515.9L824.4 1504.5L839.6 1480.5z" fill="url(#if161)"/>
<path d="M1466.0 1286.0L830.0 1504.1L828.9 1493.3L833.4 1482.4L848.1 1459.6z" fill="url(#if162)"/>
<path d="M1466.0 1286.0L838.9 1482.1L837.7 1471.7L842.0 1461.3L856.3 1439.5z" fill="url(#if163)"/>
<path d="M1466.0 1286.0L847.5 1461.2L846.2 1451.1L850.2 1441.0L864.1 1420.3z" fill="url(#if164)"/>
<path d="M1466.0 1286.0L855.7 1441.0L854.2 1431.2L858.2 1421.6L871.7 1401.7z" fill="url(#if165)"/>
<path d="M1466.0 1286.0L863.5 1421.7L862.0 1412.2L865.8 1402.9L879.0 1383.8z" fill="url(#if166)"/>
<path d="M1466.0 1286.0L871.1 1403.1L869.5 1393.8L873.2 1384.8L886.1 1366.5z" fill="url(#if167)"/>
<path d="M1466.0 1286.0L878.4 1385.2L876.8 1376.0L880.3 1367.3L892.9 1349.8z" fill="url(#if168)"/>
<path d="M1466.0 1286.0L885.5 1367.8L883.8 1358.8L887.2 1350.4L899.5 1333.5z" fill="url(#if169)"/>
<path d="M1466.0 1286.0L892.4 1351.0L890.6 1342.1L893.9 1333.9L906.0 1317.6z" fill="url(#if170)"/>
<path d="M1466.0 1286.0L899.0 1334.7L897.2 1325.9L900.5 1318.0L912.3 1302.2z" fill="url(#if171)"/>
<path d="M1466.0 1286.0L905.5 1318.8L903.7 1310.1L906.8 1302.4L918.4 1287.1z" fill="url(#if172)"/>
<path d="M1466.0 1286.0L911.8 1303.4L909.9 1294.7L913.0 1287.2L924.6 1272.0z" fill="url(#if173)"/>
<path d="M1466.0 1286.0L918.0 1288.3L916.1 1279.5L919.2 1271.9L930.6 1257.3z" fill="url(#if174)"/>
<path d="M1466.0 1286.0L924.1 1273.2L922.3 1264.4L925.3 1257.0L936.5 1242.8z" fill="url(#if175)"/>
<path d="M1466.0 1286.0L930.2 1258.4L928.3 1249.6L931.3 1242.3L942.4 1228.5z" fill="url(#if176)"/>
<path d="M1466.0 1286.0L936.1 1243.8L934.2 1235.1L937.2 1227.9L948.1 1214.5z" fill="url(#if177)"/>
<path d="M1466.0 1286.0L941.9 1229.6L940.1 1220.8L942.9 1213.8L953.7 1200.7z" fill="url(#if178)"/>
<path d="M1466.0 1286.0L947.6 1215.5L945.8 1206.8L948.6 1199.8L959.3 1187.0z" fill="url(#if179)"/>
<path d="M1466.0 1286.0L953.3 1201.7L951.5 1192.9L954.3 1186.0L964.8 1173.5z" fill="url(#if180)"/>
<path d="M1466.0 1286.0L958.9 1188.0L957.0 1179.2L959.8 1172.4L970.2 1160.1z" fill="url(#if181)"/>
<path d="M1466.0 1286.0L964.4 1174.5L962.6 1165.6L965.3 1158.9L975.7 1146.9z" fill="url(#if182)"/>
<path d="M1466.0 1286.0L969.8 1161.1L968.1 1152.2L970.8 1145.5L981.0 1133.7z" fill="url(#if183)"/>
<path d="M1466.0 1286.0L975.2 1147.9L973.5 1138.8L976.2 1132.2L986.4 1120.6z" fill="url(#if184)"/>
<path d="M1466.0 1286.0L980.6 1134.7L978.9 1125.5L981.6 1118.9L991.7 1107.5z" fill="url(#if185)"/>
<path d="M1466.0 1286.0L986.0 1121.5L984.3 1112.3L987.0 1105.7L997.1 1094.4z" fill="url(#if186)"/>
<path d="M1466.0 1286.0L991.3 1108.4L989.7 1099.1L992.4 1092.5L1002.4 1081.3z" fill="url(#if187)"/>
<path d="M1466.0 1286.0L996.7 1095.4L995.1 1085.9L997.8 1079.3L1007.7 1068.2z" fill="url(#if188)"/>
<path d="M1466.0 1286.0L1002.0 1082.3L1000.5 1072.7L1003.2 1066.1L1013.1 1055.1z" fill="url(#if189)"/>
<path d="M1466.0 1286.0L1007.3 1069.2L1005.9 1059.5L1008.6 1052.8L1018.5 1041.9z" fill="url(#if190)"/>
<path d="M1466.0 1286.0L1012.7 1056.1L1011.3 1046.2L1014.0 1039.5L1023.9 1028.6z" fill="url(#if191)"/>
<path d="M1466.0 1286.0L1018.1 1042.9L1016.8 1032.8L1019.5 1026.1L1029.3 1015.3z" fill="url(#if192)"/>
<path d="M1466.0 1286.0L1023.5 1029.6L1022.3 1019.3L1025.0 1012.6L1034.8 1001.7z" fill="url(#if193)"/>
<path d="M1466.0 1286.0L1028.9 1016.3L1027.8 1005.8L1030.6 998.9L1040.4 988.1z" fill="url(#if194)"/>
<path d="M1466.0 1286.0L1034.4 1002.8L1033.4 992.1L1036.2 985.1L1046.1 974.3z" fill="url(#if195)"/>
<path d="M1466.0 1286.0L1040.0 989.1L1039.0 978.2L1041.9 971.2L1051.8 960.2z" fill="url(#if196)"/>
<path d="M1466.0 1286.0L1045.6 975.3L1044.8 964.1L1047.7 957.0L1057.6 946.0z" fill="url(#if197)"/>
<path d="M1466.0 1286.0L1051.3 961.3L1050.6 949.8L1053.6 942.6L1063.5 931.5z" fill="url(#if198)"/>
<path d="M1466.0 1286.0L1057.2 947.1L1056.5 935.3L1059.5 928.0L1069.6 916.7z" fill="url(#if199)"/>
<path d="M1466.0 1286.0L1063.1 932.6L1062.6 920.5L1065.6 913.0L1075.7 901.6z" fill="url(#if200)"/>
<path d="M1466.0 1286.0L1069.1 917.8L1068.7 905.4L1071.9 897.7L1082.0 886.1z" fill="url(#if201)"/>
<path d="M1466.0 1286.0L1075.2 902.7L1075.0 890.0L1078.2 882.1L1088.5 870.2z" fill="url(#if202)"/>
<path d="M1466.0 1286.0L1081.5 887.3L1081.5 874.2L1084.7 866.1L1095.1 854.0z" fill="url(#if203)"/>
<path d="M1466.0 1286.0L1088.0 871.4L1088.1 858.0L1091.5 849.7L1102.0 837.2z" fill="url(#if204)"/>
<path d="M1466.0 1286.0L1094.6 855.2L1094.9 841.3L1098.4 832.8L1109.0 819.9z" fill="url(#if205)"/>
<path d="M1466.0 1286.0L1101.4 838.5L1101.9 824.1L1105.5 815.3L1116.3 802.1z" fill="url(#if206)"/>
<path d="M1466.0 1286.0L1108.5 821.3L1109.1 806.4L1112.8 797.3L1123.8 783.6z" fill="url(#if207)"/>
<path d="M1466.0 1286.0L1115.7 803.5L1116.6 788.1L1120.4 778.7L1131.6 764.5z" fill="url(#if208)"/>
<path d="M1466.0 1286.0L1123.2 785.0L1124.3 769.1L1128.3 759.3L1139.8 744.5z" fill="url(#if209)"/>
<path d="M1466.0 1286.0L1131.0 765.9L1132.4 749.3L1136.5 739.2L1148.2 723.7z" fill="url(#if210)"/>
<path d="M1466.0 1286.0L1139.1 746.0L1140.8 728.8L1145.1 718.2L1157.1 702.0z" fill="url(#if211)"/>
<path d="M1466.0 1286.0L1147.6 725.3L1149.5 707.3L1154.0 696.2L1166.4 679.3z" fill="url(#if212)"/>
<path d="M1466.0 1286.0L1156.4 703.7L1158.7 684.9L1163.4 673.2L1176.1 655.3z" fill="url(#if213)"/>
<path d="M1466.0 1286.0L1165.7 681.0L1168.3 661.3L1173.3 649.1L1186.4 630.2z" fill="url(#if214)"/>
<path d="M1466.0 1286.0L1175.4 657.2L1178.4 636.6L1183.6 623.7L1197.3 603.5z" fill="url(#if215)"/>
<path d="M1466.0 1286.0L1185.6 632.1L1189.1 610.4L1194.6 596.8L1208.8 575.3z" fill="url(#if216)"/>
<path d="M1466.0 1286.0L1196.4 605.6L1200.3 582.7L1206.2 568.3L1221.0 545.3z" fill="url(#if217)"/>
<path d="M1466.0 1286.0L1207.9 577.5L1212.3 553.4L1218.6 538.0L1234.1 513.3z" fill="url(#if218)"/>
<path d="M1466.0 1286.0L1220.1 547.6L1225.1 522.1L1231.8 505.6L1248.1 478.9z" fill="url(#if219)"/>
<path d="M1466.0 1286.0L1233.1 515.7L1238.8 488.6L1245.9 470.9L1263.2 442.0z" fill="url(#if220)"/>
<path d="M1466.0 1286.0L1247.0 481.6L1253.4 452.6L1261.2 433.6L1279.5 402.0z" fill="url(#if221)"/>
<path d="M1466.0 1286.0L1262.0 444.8L1269.2 413.9L1277.6 393.3L1297.1 358.7z" fill="url(#if222)"/>
<path d="M1466.0 1286.0L1278.2 405.2L1286.3 371.9L1295.5 349.5L1316.4 311.4z" fill="url(#if223)"/>
<path d="M1466.0 1286.0L1295.8 362.1L1305.0 326.2L1315.0 301.7L1337.6 259.5z" fill="url(#if224)"/>
<path d="M1466.0 1286.0L1314.9 315.1L1325.4 276.1L1336.3 249.3L1361.0 202.1z" fill="url(#if225)"/>
<path d="M1466.0 1286.0L1336.0 263.5L1347.9 221.1L1360.0 191.4L1387.0 138.3z" fill="url(#if226)"/>
<path d="M1466.0 1286.0L1359.2 206.6L1372.7 160.1L1386.2 127.0L1419.3 155.8z" fill="url(#if227)"/>
<path d="M1466.0 1286.0L1385.0 143.4L1402.7 135.9L1418.8 144.6L1450.5 172.7z" fill="url(#if0)"/>
<circle cx="1466.0" cy="1286.0" r="16" fill="url(#iw)"/></g>
<rect x="1453.0" y="1179.3" width="30.9" height="30.9" fill="none" stroke="#000" stroke-width="3.8"/>
<rect x="1234.6" y="992.4" width="30.7" height="30.7" fill="none" stroke="#fff" stroke-width="3.2"/>
<rect x="1565.8" y="1020.1" width="30.7" height="30.7" fill="none" stroke="#fff" stroke-width="3.2"/>
<rect x="1459.9" y="1064.6" width="30.7" height="30.7" fill="none" stroke="#fff" stroke-width="3.2"/>
<rect x="1106.7" y="1136.2" width="30.7" height="30.7" fill="none" stroke="#fff" stroke-width="3.2"/>
<rect x="1422.2" y="1179.7" width="30.7" height="30.7" fill="none" stroke="#fff" stroke-width="3.2"/>
<rect x="1543.9" y="1217.7" width="30.7" height="30.7" fill="none" stroke="#fff" stroke-width="3.2"/>
<rect x="1660.0" y="1226.8" width="30.7" height="30.7" fill="none" stroke="#fff" stroke-width="3.2"/>
<rect x="1859.0" y="1204.8" width="30.7" height="30.7" fill="none" stroke="#fff" stroke-width="3.2"/>
<rect x="1734.9" y="1451.5" width="30.7" height="30.7" fill="none" stroke="#fff" stroke-width="3.2"/>
<rect x="1106.7" y="1479.2" width="30.7" height="30.7" fill="none" stroke="#fff" stroke-width="3.2"/>
<rect x="1870.8" y="881.0" width="30.7" height="30.7" fill="none" stroke="#fff" stroke-width="3.2"/>
<circle cx="1262.2" cy="1042.5" r="9.4" fill="#8caaa0" stroke="#000" stroke-width="2.5"/>
<circle cx="1597.2" cy="1073.5" r="9.4" fill="#d7d7c8" stroke="#000" stroke-width="2.5"/>
<circle cx="1490.1" cy="1116.9" r="9.4" fill="#c8cdc8" stroke="#000" stroke-width="2.5"/>
<circle cx="1133.8" cy="1183.2" r="9.4" fill="#82aaaa" stroke="#000" stroke-width="2.5"/>
<circle cx="1491.5" cy="1229.5" r="9.4" fill="#e1e1e1" stroke="#000" stroke-width="2.5"/>
<circle cx="1490.1" cy="1222.8" r="9.4" fill="#78786e" stroke="#000" stroke-width="2.5"/>
<circle cx="1483.7" cy="1227.1" r="9.4" fill="#5a5a50" stroke="#000" stroke-width="2.5"/>
<circle cx="1455.9" cy="1222.8" r="9.4" fill="#cdcdcd" stroke="#000" stroke-width="2.5"/>
<circle cx="1477.8" cy="1241.5" r="9.4" fill="#3c3c3c" stroke="#000" stroke-width="2.5"/>
<circle cx="1465.5" cy="1251.7" r="9.4" fill="#323232" stroke="#000" stroke-width="2.5"/>
<circle cx="1577.9" cy="1258.1" r="9.4" fill="#cdc3c8" stroke="#000" stroke-width="2.5"/>
<circle cx="1696.7" cy="1269.9" r="9.4" fill="#e6c8d7" stroke="#000" stroke-width="2.5"/>
<circle cx="1897.8" cy="1247.4" r="9.4" fill="#f0bebe" stroke="#000" stroke-width="2.5"/>
<circle cx="1768.4" cy="1483.9" r="9.4" fill="#c88296" stroke="#000" stroke-width="2.5"/>
<circle cx="1902.1" cy="935.5" r="9.4" fill="#cdc8a0" stroke="#000" stroke-width="2.5"/>
<circle cx="1215.7" cy="1466.8" r="10.6" fill="#000"/>
</g>
<rect x="1041" y="904.7" width="861.4" height="586" fill="none" stroke="#999999" stroke-width="3"/>
<rect x="2065.5" y="152.5" width="1722" height="1379" fill="#232323"/>
<g clip-path="url(#cpm)"><g clip-path="url(#cpl)">
<path d="M3357.6 329.7L6343.4 620.8L10920.0 -2511.0L5413.4 -1855.2z" fill="#f00" stroke="#f00" stroke-width="1"/>
<path d="M2423.7 238.7L1962.7 -2725.7L-2746.6 -4644.5L-562.1 -52.4z" fill="#0f0" stroke="#0f0" stroke-width="1"/>
<path d="M2568.3 1168.6L512.6 3353.5L176.3 8892.5L3029.4 4133.0z" fill="#00f" stroke="#00f" stroke-width="1"/>
<path d="M2437.7 240.1L371.8 38.7L358.3 264.5L2448.6 310.0z" fill="#00ff15" stroke="#00ff15" stroke-width="1"/>
<path d="M2448.6 310.0L358.3 264.5L358.2 389.1L2454.4 347.6z" fill="#00ff4c" stroke="#00ff4c" stroke-width="1"/>
<path d="M2454.4 347.6L358.2 389.1L363.1 511.5L2460.1 384.2z" fill="#00ff71" stroke="#00ff71" stroke-width="1"/>
<path d="M2460.1 384.2L363.1 511.5L371.5 618.1L2465.1 415.9z" fill="#00ff96" stroke="#00ff96" stroke-width="1"/>
<path d="M2465.1 415.9L371.5 618.1L380.7 701.3L2468.9 440.7z" fill="#00ffb8" stroke="#00ffb8" stroke-width="1"/>
<path d="M2468.9 440.7L380.7 701.3L391.6 780.2L2472.6 464.2z" fill="#00ffd6" stroke="#00ffd6" stroke-width="1"/>
<path d="M2472.6 464.2L391.6 780.2L407.0 872.1L2476.8 491.6z" fill="#0ff" stroke="#0ff" stroke-width="1"/>
<path d="M2476.8 491.6L407.0 872.1L425.3 963.5L2481.1 519.2z" fill="#00e2ff" stroke="#00e2ff" stroke-width="1"/>
<path d="M2481.1 519.2L425.3 963.5L457.4 1096.9L2487.5 559.9z" fill="#00beff" stroke="#00beff" stroke-width="1"/>
<path d="M2487.5 559.9L457.4 1096.9L509.3 1271.6L2496.0 614.7z" fill="#0098ff" stroke="#0098ff" stroke-width="1"/>
<path d="M2496.0 614.7L509.3 1271.6L605.2 1523.1L2508.9 697.7z" fill="#0070ff" stroke="#0070ff" stroke-width="1"/>
<path d="M2508.9 697.7L605.2 1523.1L860.6 1992.6L2536.7 876.4z" fill="#0042ff" stroke="#0042ff" stroke-width="1"/>
<path d="M2536.7 876.4L860.6 1992.6L1301.9 2514.7L2580.2 1156.0z" fill="#000eff" stroke="#000eff" stroke-width="1"/>
<path d="M2566.2 1154.7L2884.7 3203.1L3143.4 3151.1L2632.6 1084.0z" fill="#0900ff" stroke="#0900ff" stroke-width="1"/>
<path d="M2632.6 1084.0L3143.4 3151.1L3466.6 3051.6L2707.6 1004.4z" fill="#2d00ff" stroke="#2d00ff" stroke-width="1"/>
<path d="M2707.6 1004.4L3466.6 3051.6L3755.9 2926.7L2770.2 937.8z" fill="#5300ff" stroke="#5300ff" stroke-width="1"/>
<path d="M2770.2 937.8L3755.9 2926.7L3999.4 2791.6L2821.5 883.2z" fill="#7900ff" stroke="#7900ff" stroke-width="1"/>
<path d="M2821.5 883.2L3999.4 2791.6L4201.6 2655.1L2864.4 837.7z" fill="#9f00ff" stroke="#9f00ff" stroke-width="1"/>
<path d="M2864.4 837.7L4201.6 2655.1L4369.1 2522.5L2900.9 798.9z" fill="#c600ff" stroke="#c600ff" stroke-width="1"/>
<path d="M2900.9 798.9L4369.1 2522.5L4463.8 2438.3L2922.2 776.2z" fill="#e500ff" stroke="#e500ff" stroke-width="1"/>
<path d="M2922.2 776.2L4463.8 2438.3L4548.9 2356.1L2942.1 755.1z" fill="#f0f" stroke="#f0f" stroke-width="1"/>
<path d="M2942.1 755.1L4548.9 2356.1L4647.8 2252.1L2966.0 729.7z" fill="#ff00e4" stroke="#ff00e4" stroke-width="1"/>
<path d="M2966.0 729.7L4647.8 2252.1L4803.4 2065.5L3006.8 686.3z" fill="#ff00c2" stroke="#ff00c2" stroke-width="1"/>
<path d="M3006.8 686.3L4803.4 2065.5L4969.7 1825.4L3056.8 633.2z" fill="#f09" stroke="#f09" stroke-width="1"/>
<path d="M3056.8 633.2L4969.7 1825.4L5161.1 1466.1L3130.0 555.4z" fill="#ff006d" stroke="#ff006d" stroke-width="1"/>
<path d="M3130.0 555.4L5161.1 1466.1L5309.1 1060.1L3215.8 464.2z" fill="#ff0041" stroke="#ff0041" stroke-width="1"/>
<path d="M3215.8 464.2L5309.1 1060.1L5409.6 529.8L3343.6 328.4z" fill="#ff0010" stroke="#ff0010" stroke-width="1"/>
<path d="M3345.8 342.3L4624.1 -1016.3L3981.9 -1477.5L3026.4 311.2z" fill="#ff0f00" stroke="#ff0f00" stroke-width="1"/>
<path d="M3026.4 311.2L3981.9 -1477.5L3514.7 -1678.2L2858.8 294.9z" fill="#f40" stroke="#f40" stroke-width="1"/>
<path d="M2858.8 294.9L3514.7 -1678.2L3218.0 -1760.2L2764.2 285.6z" fill="#ff7400" stroke="#ff7400" stroke-width="1"/>
<path d="M2764.2 285.6L3218.0 -1760.2L3036.9 -1794.6L2708.8 280.2z" fill="#ffa200" stroke="#ffa200" stroke-width="1"/>
<path d="M2708.8 280.2L3036.9 -1794.6L2911.3 -1811.7L2671.0 276.5z" fill="#fc0" stroke="#fc0" stroke-width="1"/>
<path d="M2671.0 276.5L2911.3 -1811.7L2778.8 -1824.0L2631.4 272.7z" fill="#ff0" stroke="#ff0" stroke-width="1"/>
<path d="M2631.4 272.7L2778.8 -1824.0L2686.8 -1829.0L2603.8 270.0z" fill="#d2ff00" stroke="#d2ff00" stroke-width="1"/>
<path d="M2603.8 270.0L2686.8 -1829.0L2569.5 -1831.4L2568.7 266.6z" fill="#a9ff00" stroke="#a9ff00" stroke-width="1"/>
<path d="M2568.7 266.6L2569.5 -1831.4L2434.4 -1828.4L2527.9 262.6z" fill="#7bff00" stroke="#7bff00" stroke-width="1"/>
<path d="M2527.9 262.6L2434.4 -1828.4L2253.7 -1814.8L2472.2 257.2z" fill="#47ff00" stroke="#47ff00" stroke-width="1"/>
<path d="M2472.2 257.2L2253.7 -1814.8L2107.3 -1795.8L2425.9 252.7z" fill="#0fff00" stroke="#0fff00" stroke-width="1"/>
<g clip-path="url(#mtri)"><circle cx="2632.5" cy="455.2" r="6" fill="#fff"/>
<path d="M2632.5 455.2L2421.8 237.6L2427.4 235.1L2435.1 235.9L2451.2 239.4z" fill="url(#mf0)"/>
<path d="M2632.5 455.2L2436.1 238.0L2442.4 236.6L2449.4 237.3L2464.5 240.7z" fill="url(#mf1)"/>
<path d="M2632.5 455.2L2450.4 239.3L2456.3 238.0L2462.9 238.6L2477.0 241.9z" fill="url(#mf2)"/>
<path d="M2632.5 455.2L2463.7 240.6L2469.2 239.2L2475.4 239.8L2488.7 243.1z" fill="url(#mf3)"/>
<path d="M2632.5 455.2L2476.2 241.9L2481.4 240.4L2487.3 241.0L2499.7 244.2z" fill="url(#mf4)"/>
<path d="M2632.5 455.2L2488.0 243.0L2492.9 241.5L2498.4 242.1L2510.2 245.2z" fill="url(#mf5)"/>
<path d="M2632.5 455.2L2499.1 244.1L2503.8 242.6L2509.0 243.1L2520.2 246.2z" fill="url(#mf6)"/>
<path d="M2632.5 455.2L2509.6 245.1L2514.1 243.6L2519.1 244.1L2529.7 247.1z" fill="url(#mf7)"/>
<path d="M2632.5 455.2L2519.6 246.1L2524.0 244.6L2528.7 245.0L2538.9 248.0z" fill="url(#mf8)"/>
<path d="M2632.5 455.2L2529.2 247.0L2533.4 245.5L2537.9 245.9L2547.7 248.8z" fill="url(#mf9)"/>
<path d="M2632.5 455.2L2538.3 247.9L2542.4 246.4L2546.8 246.8L2556.1 249.7z" fill="url(#mf10)"/>
<path d="M2632.5 455.2L2547.1 248.8L2551.1 247.2L2555.4 247.6L2564.3 250.5z" fill="url(#mf11)"/>
<path d="M2632.5 455.2L2555.6 249.6L2559.5 248.0L2563.6 248.4L2572.3 251.2z" fill="url(#mf12)"/>
<path d="M2632.5 455.2L2563.8 250.4L2567.7 248.8L2571.7 249.2L2580.0 252.0z" fill="url(#mf13)"/>
<path d="M2632.5 455.2L2571.8 251.2L2575.6 249.6L2579.5 250.0L2587.5 252.7z" fill="url(#mf14)"/>
<path d="M2632.5 455.2L2579.5 251.9L2583.3 250.3L2587.1 250.7L2594.9 253.4z" fill="url(#mf15)"/>
<path d="M2632.5 455.2L2587.1 252.7L2590.8 251.1L2594.5 251.4L2602.1 254.1z" fill="url(#mf16)"/>
<path d="M2632.5 455.2L2594.4 253.4L2598.2 251.8L2601.8 252.1L2609.2 254.8z" fill="url(#mf17)"/>
<path d="M2632.5 455.2L2601.7 254.1L2605.4 252.5L2609.0 252.8L2616.2 255.5z" fill="url(#mf18)"/>
<path d="M2632.5 455.2L2608.8 254.8L2612.5 253.2L2616.0 253.5L2623.1 256.2z" fill="url(#mf19)"/>
<path d="M2632.5 455.2L2615.8 255.5L2619.5 253.9L2623.0 254.2L2629.9 256.8z" fill="url(#mf20)"/>
<path d="M2632.5 455.2L2622.7 256.1L2626.5 254.5L2629.9 254.9L2636.7 257.5z" fill="url(#mf21)"/>
<path d="M2632.5 455.2L2629.5 256.8L2633.3 255.2L2636.8 255.6L2643.5 258.2z" fill="url(#mf22)"/>
<path d="M2632.5 455.2L2636.3 257.5L2640.2 255.9L2643.6 256.2L2650.2 258.8z" fill="url(#mf23)"/>
<path d="M2632.5 455.2L2643.1 258.1L2647.0 256.6L2650.4 256.9L2657.0 259.5z" fill="url(#mf24)"/>
<path d="M2632.5 455.2L2649.8 258.8L2653.8 257.2L2657.2 257.5L2663.7 260.1z" fill="url(#mf25)"/>
<path d="M2632.5 455.2L2656.6 259.4L2660.6 257.9L2664.1 258.2L2670.6 260.8z" fill="url(#mf26)"/>
<path d="M2632.5 455.2L2663.3 260.1L2667.5 258.5L2670.9 258.9L2677.4 261.5z" fill="url(#mf27)"/>
<path d="M2632.5 455.2L2670.1 260.8L2674.4 259.2L2677.8 259.6L2684.3 262.2z" fill="url(#mf28)"/>
<path d="M2632.5 455.2L2677.0 261.4L2681.3 259.9L2684.8 260.2L2691.3 262.8z" fill="url(#mf29)"/>
<path d="M2632.5 455.2L2683.9 262.1L2688.3 260.6L2691.9 260.9L2698.4 263.5z" fill="url(#mf30)"/>
<path d="M2632.5 455.2L2690.9 262.8L2695.5 261.3L2699.0 261.6L2705.6 264.2z" fill="url(#mf31)"/>
<path d="M2632.5 455.2L2698.0 263.5L2702.7 262.0L2706.3 262.3L2713.0 264.9z" fill="url(#mf32)"/>
<path d="M2632.5 455.2L2705.2 264.2L2710.0 262.7L2713.7 263.1L2720.5 265.7z" fill="url(#mf33)"/>
<path d="M2632.5 455.2L2712.5 264.9L2717.5 263.4L2721.3 263.8L2728.1 266.4z" fill="url(#mf34)"/>
<path d="M2632.5 455.2L2720.0 265.6L2725.2 264.2L2729.1 264.6L2736.0 267.2z" fill="url(#mf35)"/>
<path d="M2632.5 455.2L2727.7 266.4L2733.1 264.9L2737.1 265.3L2744.2 268.0z" fill="url(#mf36)"/>
<path d="M2632.5 455.2L2735.6 267.1L2741.1 265.7L2745.3 266.1L2752.6 268.8z" fill="url(#mf37)"/>
<path d="M2632.5 455.2L2743.7 267.9L2749.5 266.5L2753.8 267.0L2761.3 269.7z" fill="url(#mf38)"/>
<path d="M2632.5 455.2L2752.1 268.8L2758.1 267.4L2762.6 267.8L2770.4 270.5z" fill="url(#mf39)"/>
<path d="M2632.5 455.2L2760.8 269.6L2767.1 268.3L2771.7 268.7L2779.8 271.5z" fill="url(#mf40)"/>
<path d="M2632.5 455.2L2769.8 270.5L2776.4 269.2L2781.2 269.6L2789.7 272.4z" fill="url(#mf41)"/>
<path d="M2632.5 455.2L2779.2 271.4L2786.2 270.1L2791.2 270.6L2800.0 273.4z" fill="url(#mf42)"/>
<path d="M2632.5 455.2L2789.0 272.4L2796.4 271.1L2801.7 271.6L2810.9 274.5z" fill="url(#mf43)"/>
<path d="M2632.5 455.2L2799.4 273.4L2807.1 272.2L2812.7 272.7L2822.5 275.6z" fill="url(#mf44)"/>
<path d="M2632.5 455.2L2810.3 274.4L2818.5 273.3L2824.4 273.8L2834.8 276.8z" fill="url(#mf45)"/>
<path d="M2632.5 455.2L2821.8 275.6L2830.5 274.4L2836.8 275.1L2847.8 278.1z" fill="url(#mf46)"/>
<path d="M2632.5 455.2L2834.0 276.7L2843.2 275.7L2850.0 276.3L2861.8 279.5z" fill="url(#mf47)"/>
<path d="M2632.5 455.2L2847.0 278.0L2856.9 277.0L2864.1 277.7L2876.9 280.9z" fill="url(#mf48)"/>
<path d="M2632.5 455.2L2861.0 279.4L2871.6 278.4L2879.3 279.2L2893.3 282.5z" fill="url(#mf49)"/>
<path d="M2632.5 455.2L2876.0 280.8L2887.4 280.0L2895.8 280.8L2911.0 284.3z" fill="url(#mf50)"/>
<path d="M2632.5 455.2L2892.2 282.4L2904.6 281.7L2913.8 282.6L2930.5 286.2z" fill="url(#mf51)"/>
<path d="M2632.5 455.2L2909.9 284.1L2923.4 283.5L2933.5 284.5L2952.0 288.2z" fill="url(#mf52)"/>
<path d="M2632.5 455.2L2929.3 286.0L2944.0 285.5L2955.2 286.6L2975.9 290.6z" fill="url(#mf53)"/>
<path d="M2632.5 455.2L2950.6 288.1L2966.9 287.7L2979.3 288.9L3002.6 293.2z" fill="url(#mf54)"/>
<path d="M2632.5 455.2L2974.3 290.4L2992.4 290.2L3006.3 291.6L3032.9 296.1z" fill="url(#mf55)"/>
<path d="M2632.5 455.2L3000.9 293.0L3021.1 293.0L3036.9 294.6L3067.6 299.5z" fill="url(#mf56)"/>
<path d="M2632.5 455.2L3031.0 295.9L3053.8 296.2L3071.9 298.0L3107.6 303.4z" fill="url(#mf57)"/>
<path d="M2632.5 455.2L3065.3 299.3L3091.3 299.9L3112.3 301.9L3154.7 308.0z" fill="url(#mf58)"/>
<path d="M2632.5 455.2L3105.0 303.2L3135.1 304.1L3159.9 306.6L3210.9 313.5z" fill="url(#mf59)"/>
<path d="M2632.5 455.2L3151.6 307.7L3187.0 309.2L3216.7 312.1L3279.4 320.2z" fill="url(#mf60)"/>
<path d="M2632.5 455.2L3207.2 313.1L3249.4 315.3L3285.8 318.8L3364.9 328.5z" fill="url(#mf61)"/>
<path d="M2632.5 455.2L3274.8 319.7L3326.4 322.8L3372.1 327.2L3336.6 358.5z" fill="url(#mf62)"/>
<path d="M2632.5 455.2L3359.1 327.9L3357.5 342.7L3343.6 357.5L3310.8 386.0z" fill="url(#mf63)"/>
<path d="M2632.5 455.2L3338.3 356.7L3330.3 371.7L3317.5 385.3L3286.9 411.4z" fill="url(#mf64)"/>
<path d="M2632.5 455.2L3312.3 384.4L3305.2 398.4L3293.4 410.9L3264.7 434.9z" fill="url(#mf65)"/>
<path d="M2632.5 455.2L3288.3 409.9L3282.0 423.0L3271.0 434.7L3244.1 456.9z" fill="url(#mf66)"/>
<path d="M2632.5 455.2L3266.0 433.5L3260.4 446.0L3250.1 456.9L3224.7 477.4z" fill="url(#mf67)"/>
<path d="M2632.5 455.2L3245.3 455.6L3240.2 467.4L3230.6 477.6L3206.5 496.8z" fill="url(#mf68)"/>
<path d="M2632.5 455.2L3225.9 476.2L3221.3 487.6L3212.2 497.2L3189.3 515.1z" fill="url(#mf69)"/>
<path d="M2632.5 455.2L3207.6 495.6L3203.4 506.6L3194.8 515.7L3173.0 532.4z" fill="url(#mf70)"/>
<path d="M2632.5 455.2L3190.3 514.0L3186.5 524.5L3178.3 533.2L3157.4 548.9z" fill="url(#mf71)"/>
<path d="M2632.5 455.2L3173.9 531.4L3170.4 541.6L3162.6 549.9L3142.6 564.7z" fill="url(#mf72)"/>
<path d="M2632.5 455.2L3158.4 548.0L3155.1 557.9L3147.6 565.8L3128.3 579.9z" fill="url(#mf73)"/>
<path d="M2632.5 455.2L3143.5 563.8L3140.4 573.5L3133.3 581.1L3114.6 594.4z" fill="url(#mf74)"/>
<path d="M2632.5 455.2L3129.2 579.0L3126.3 588.5L3119.4 595.8L3101.4 608.5z" fill="url(#mf75)"/>
<path d="M2632.5 455.2L3115.5 593.6L3112.7 603.0L3106.1 610.0L3088.6 622.1z" fill="url(#mf76)"/>
<path d="M2632.5 455.2L3102.2 607.6L3099.6 616.9L3093.1 623.7L3076.2 635.3z" fill="url(#mf77)"/>
<path d="M2632.5 455.2L3089.4 621.3L3086.8 630.4L3080.6 637.1L3064.1 648.1z" fill="url(#mf78)"/>
<path d="M2632.5 455.2L3076.9 634.5L3074.5 643.6L3068.4 650.0L3052.3 660.7z" fill="url(#mf79)"/>
<path d="M2632.5 455.2L3064.8 647.4L3062.4 656.4L3056.5 662.7L3040.8 672.9z" fill="url(#mf80)"/>
<path d="M2632.5 455.2L3053.0 659.9L3050.6 668.9L3044.8 675.1L3029.4 685.0z" fill="url(#mf81)"/>
<path d="M2632.5 455.2L3041.5 672.2L3039.1 681.2L3033.4 687.3L3018.3 696.8z" fill="url(#mf82)"/>
<path d="M2632.5 455.2L3030.1 684.3L3027.7 693.3L3022.1 699.2L3007.3 708.5z" fill="url(#mf83)"/>
<path d="M2632.5 455.2L3019.0 696.1L3016.5 705.1L3011.0 711.0L2996.4 720.1z" fill="url(#mf84)"/>
<path d="M2632.5 455.2L3008.0 707.8L3005.5 716.9L3000.0 722.7L2985.6 731.5z" fill="url(#mf85)"/>
<path d="M2632.5 455.2L2997.1 719.4L2994.6 728.5L2989.1 734.3L2974.9 742.9z" fill="url(#mf86)"/>
<path d="M2632.5 455.2L2986.3 730.8L2983.7 740.0L2978.3 745.8L2964.3 754.3z" fill="url(#mf87)"/>
<path d="M2632.5 455.2L2975.6 742.2L2972.9 751.5L2967.5 757.2L2953.6 765.6z" fill="url(#mf88)"/>
<path d="M2632.5 455.2L2964.9 753.6L2962.2 762.9L2956.8 768.7L2942.9 776.9z" fill="url(#mf89)"/>
<path d="M2632.5 455.2L2954.3 764.9L2951.4 774.4L2946.0 780.1L2932.4 788.1z" fill="url(#mf90)"/>
<path d="M2632.5 455.2L2943.6 776.2L2940.7 785.7L2935.4 791.4L2921.8 799.4z" fill="url(#mf91)"/>
<path d="M2632.5 455.2L2933.1 787.4L2930.0 797.1L2924.7 802.8L2911.1 810.7z" fill="url(#mf92)"/>
<path d="M2632.5 455.2L2922.5 798.7L2919.3 808.5L2913.9 814.3L2900.3 822.2z" fill="url(#mf93)"/>
<path d="M2632.5 455.2L2911.8 810.0L2908.4 820.0L2903.0 825.8L2889.4 833.8z" fill="url(#mf94)"/>
<path d="M2632.5 455.2L2901.0 821.5L2897.5 831.7L2891.9 837.6L2878.3 845.6z" fill="url(#mf95)"/>
<path d="M2632.5 455.2L2890.1 833.1L2886.4 843.5L2880.7 849.5L2867.0 857.6z" fill="url(#mf96)"/>
<path d="M2632.5 455.2L2879.0 844.9L2875.0 855.5L2869.3 861.6L2855.4 869.9z" fill="url(#mf97)"/>
<path d="M2632.5 455.2L2867.7 856.9L2863.5 867.8L2857.7 874.0L2843.6 882.5z" fill="url(#mf98)"/>
<path d="M2632.5 455.2L2856.2 869.2L2851.7 880.3L2845.7 886.7L2831.5 895.3z" fill="url(#mf99)"/>
<path d="M2632.5 455.2L2844.4 881.7L2839.7 893.1L2833.5 899.7L2819.1 908.6z" fill="url(#mf100)"/>
<path d="M2632.5 455.2L2832.3 894.5L2827.3 906.3L2820.9 913.1L2806.2 922.2z" fill="url(#mf101)"/>
<path d="M2632.5 455.2L2819.8 907.8L2814.5 919.9L2807.9 926.9L2792.9 936.4z" fill="url(#mf102)"/>
<path d="M2632.5 455.2L2807.0 921.4L2801.3 933.9L2794.5 941.1L2779.1 951.0z" fill="url(#mf103)"/>
<path d="M2632.5 455.2L2793.7 935.5L2787.6 948.5L2780.6 955.9L2764.8 966.3z" fill="url(#mf104)"/>
<path d="M2632.5 455.2L2780.0 950.1L2773.4 963.6L2766.1 971.4L2749.8 982.2z" fill="url(#mf105)"/>
<path d="M2632.5 455.2L2765.7 965.3L2758.6 979.3L2750.9 987.5L2734.1 998.9z" fill="url(#mf106)"/>
<path d="M2632.5 455.2L2750.7 981.2L2743.1 995.8L2735.1 1004.3L2717.5 1016.5z" fill="url(#mf107)"/>
<path d="M2632.5 455.2L2735.0 997.9L2726.8 1013.1L2718.4 1022.1L2700.1 1035.0z" fill="url(#mf108)"/>
<path d="M2632.5 455.2L2718.6 1015.4L2709.7 1031.3L2700.8 1040.8L2681.6 1054.7z" fill="url(#mf109)"/>
<path d="M2632.5 455.2L2701.2 1033.9L2691.6 1050.5L2682.1 1060.6L2662.0 1075.5z" fill="url(#mf110)"/>
<path d="M2632.5 455.2L2682.8 1053.4L2672.3 1071.0L2662.3 1081.7L2641.0 1097.9z" fill="url(#mf111)"/>
<path d="M2632.5 455.2L2663.2 1074.2L2651.8 1092.8L2641.1 1104.2L2618.4 1121.8z" fill="url(#mf112)"/>
<path d="M2632.5 455.2L2642.3 1096.5L2629.9 1116.1L2618.3 1128.4L2594.1 1147.7z" fill="url(#mf113)"/>
<path d="M2632.5 455.2L2619.8 1120.3L2606.2 1141.2L2593.7 1154.5L2567.7 1175.7z" fill="url(#mf114)"/>
<path d="M2632.5 455.2L2595.6 1146.0L2580.7 1168.4L2567.1 1182.9L2553.8 1086.1z" fill="url(#mf115)"/>
<path d="M2632.5 455.2L2569.4 1174.0L2559.6 1134.7L2553.0 1092.4L2542.8 1015.8z" fill="url(#mf116)"/>
<path d="M2632.5 455.2L2554.5 1091.0L2547.1 1054.9L2541.9 1021.4L2534.0 959.0z" fill="url(#mf117)"/>
<path d="M2632.5 455.2L2543.4 1019.6L2537.2 991.2L2533.0 964.0L2526.7 912.1z" fill="url(#mf118)"/>
<path d="M2632.5 455.2L2534.5 962.2L2529.2 939.3L2525.6 916.6L2520.6 872.6z" fill="url(#mf119)"/>
<path d="M2632.5 455.2L2527.1 914.7L2522.4 895.9L2519.4 876.8L2515.3 838.8z" fill="url(#mf120)"/>
<path d="M2632.5 455.2L2520.9 874.8L2516.7 859.1L2514.1 842.6L2510.7 809.6z" fill="url(#mf121)"/>
<path d="M2632.5 455.2L2515.6 840.8L2511.8 827.4L2509.5 813.1L2506.7 783.9z" fill="url(#mf122)"/>
<path d="M2632.5 455.2L2511.0 811.2L2507.5 799.7L2505.5 787.1L2503.2 761.1z" fill="url(#mf123)"/>
<path d="M2632.5 455.2L2507.0 785.3L2503.7 775.3L2501.9 764.1L2500.0 740.7z" fill="url(#mf124)"/>
<path d="M2632.5 455.2L2503.4 762.4L2500.3 753.6L2498.7 743.6L2497.2 722.4z" fill="url(#mf125)"/>
<path d="M2632.5 455.2L2500.2 741.9L2497.2 734.1L2495.8 725.0L2494.6 705.7z" fill="url(#mf126)"/>
<path d="M2632.5 455.2L2497.3 723.4L2494.5 716.4L2493.2 708.2L2492.2 690.4z" fill="url(#mf127)"/>
<path d="M2632.5 455.2L2494.7 706.6L2492.0 700.3L2490.8 692.7L2490.0 676.4z" fill="url(#mf128)"/>
<path d="M2632.5 455.2L2492.4 691.3L2489.7 685.5L2488.6 678.6L2488.0 663.4z" fill="url(#mf129)"/>
<path d="M2632.5 455.2L2490.2 677.2L2487.6 671.9L2486.6 665.4L2486.1 651.3z" fill="url(#mf130)"/>
<path d="M2632.5 455.2L2488.1 664.1L2485.6 659.2L2484.7 653.2L2484.4 640.0z" fill="url(#mf131)"/>
<path d="M2632.5 455.2L2486.2 652.0L2483.8 647.4L2482.9 641.8L2482.7 629.4z" fill="url(#mf132)"/>
<path d="M2632.5 455.2L2484.5 640.7L2482.1 636.4L2481.2 631.1L2481.2 619.4z" fill="url(#mf133)"/>
<path d="M2632.5 455.2L2482.8 630.0L2480.4 626.0L2479.7 621.0L2479.7 609.9z" fill="url(#mf134)"/>
<path d="M2632.5 455.2L2481.3 620.0L2478.9 616.2L2478.2 611.5L2478.3 600.9z" fill="url(#mf135)"/>
<path d="M2632.5 455.2L2479.8 610.5L2477.5 606.9L2476.8 602.4L2477.0 592.4z" fill="url(#mf136)"/>
<path d="M2632.5 455.2L2478.4 601.5L2476.1 598.0L2475.4 593.7L2475.7 584.2z" fill="url(#mf137)"/>
<path d="M2632.5 455.2L2477.0 592.9L2474.8 589.5L2474.1 585.4L2474.5 576.3z" fill="url(#mf138)"/>
<path d="M2632.5 455.2L2475.8 584.7L2473.5 581.4L2472.9 577.5L2473.3 568.7z" fill="url(#mf139)"/>
<path d="M2632.5 455.2L2474.5 576.8L2472.3 573.6L2471.7 569.8L2472.1 561.4z" fill="url(#mf140)"/>
<path d="M2632.5 455.2L2473.4 569.2L2471.1 566.1L2470.6 562.4L2471.0 554.3z" fill="url(#mf141)"/>
<path d="M2632.5 455.2L2472.2 561.8L2470.0 558.8L2469.4 555.3L2470.0 547.4z" fill="url(#mf142)"/>
<path d="M2632.5 455.2L2471.1 554.7L2468.9 551.7L2468.4 548.3L2468.9 540.6z" fill="url(#mf143)"/>
<path d="M2632.5 455.2L2470.0 547.8L2467.8 544.9L2467.3 541.5L2467.9 534.1z" fill="url(#mf144)"/>
<path d="M2632.5 455.2L2469.0 541.1L2466.8 538.2L2466.3 534.9L2466.9 527.7z" fill="url(#mf145)"/>
<path d="M2632.5 455.2L2468.0 534.5L2465.8 531.6L2465.3 528.4L2465.9 521.3z" fill="url(#mf146)"/>
<path d="M2632.5 455.2L2467.0 528.0L2464.8 525.2L2464.3 522.0L2465.0 515.1z" fill="url(#mf147)"/>
<path d="M2632.5 455.2L2466.0 521.7L2463.8 518.8L2463.3 515.7L2464.0 509.0z" fill="url(#mf148)"/>
<path d="M2632.5 455.2L2465.0 515.5L2462.8 512.6L2462.3 509.5L2463.1 502.9z" fill="url(#mf149)"/>
<path d="M2632.5 455.2L2464.1 509.4L2461.9 506.5L2461.4 503.4L2462.1 496.9z" fill="url(#mf150)"/>
<path d="M2632.5 455.2L2463.1 503.3L2460.9 500.3L2460.4 497.3L2461.2 490.9z" fill="url(#mf151)"/>
<path d="M2632.5 455.2L2462.2 497.3L2460.0 494.3L2459.5 491.3L2460.3 485.0z" fill="url(#mf152)"/>
<path d="M2632.5 455.2L2461.2 491.3L2459.0 488.3L2458.6 485.3L2459.3 478.9z" fill="url(#mf153)"/>
<path d="M2632.5 455.2L2460.3 485.3L2458.1 482.2L2457.6 479.2L2458.4 472.9z" fill="url(#mf154)"/>
<path d="M2632.5 455.2L2459.4 479.3L2457.1 476.1L2456.7 473.1L2457.4 466.9z" fill="url(#mf155)"/>
<path d="M2632.5 455.2L2458.4 473.3L2456.2 470.1L2455.7 467.0L2456.5 460.8z" fill="url(#mf156)"/>
<path d="M2632.5 455.2L2457.5 467.2L2455.2 463.9L2454.8 460.9L2455.5 454.7z" fill="url(#mf157)"/>
<path d="M2632.5 455.2L2456.6 461.2L2454.3 457.8L2453.8 454.7L2454.6 448.5z" fill="url(#mf158)"/>
<path d="M2632.5 455.2L2455.6 455.0L2453.3 451.5L2452.8 448.4L2453.6 442.2z" fill="url(#mf159)"/>
<path d="M2632.5 455.2L2454.6 448.8L2452.3 445.2L2451.8 442.1L2452.6 435.8z" fill="url(#mf160)"/>
<path d="M2632.5 455.2L2453.7 442.6L2451.3 438.8L2450.8 435.6L2451.6 429.3z" fill="url(#mf161)"/>
<path d="M2632.5 455.2L2452.7 436.2L2450.3 432.3L2449.8 429.0L2450.6 422.6z" fill="url(#mf162)"/>
<path d="M2632.5 455.2L2451.7 429.7L2449.3 425.7L2448.8 422.3L2449.5 415.8z" fill="url(#mf163)"/>
<path d="M2632.5 455.2L2450.6 423.1L2448.2 418.9L2447.7 415.5L2448.4 408.8z" fill="url(#mf164)"/>
<path d="M2632.5 455.2L2449.6 416.3L2447.2 411.9L2446.6 408.4L2447.3 401.6z" fill="url(#mf165)"/>
<path d="M2632.5 455.2L2448.5 409.3L2446.0 404.8L2445.5 401.1L2446.1 394.2z" fill="url(#mf166)"/>
<path d="M2632.5 455.2L2447.4 402.1L2444.9 397.4L2444.3 393.6L2444.9 386.5z" fill="url(#mf167)"/>
<path d="M2632.5 455.2L2446.2 394.7L2443.7 389.8L2443.1 385.8L2443.7 378.5z" fill="url(#mf168)"/>
<path d="M2632.5 455.2L2445.0 387.0L2442.5 381.8L2441.8 377.7L2442.4 370.1z" fill="url(#mf169)"/>
<path d="M2632.5 455.2L2443.8 379.0L2441.2 373.6L2440.5 369.3L2441.0 361.4z" fill="url(#mf170)"/>
<path d="M2632.5 455.2L2442.5 370.7L2439.8 364.9L2439.1 360.5L2439.6 352.2z" fill="url(#mf171)"/>
<path d="M2632.5 455.2L2441.1 362.0L2438.4 355.9L2437.7 351.2L2438.1 342.6z" fill="url(#mf172)"/>
<path d="M2632.5 455.2L2439.7 352.8L2437.0 346.4L2436.2 341.5L2436.5 332.4z" fill="url(#mf173)"/>
<path d="M2632.5 455.2L2438.2 343.2L2435.4 336.4L2434.6 331.1L2434.8 321.5z" fill="url(#mf174)"/>
<path d="M2632.5 455.2L2436.6 333.0L2433.7 325.7L2432.9 320.2L2433.0 309.9z" fill="url(#mf175)"/>
<path d="M2632.5 455.2L2434.9 322.2L2432.0 314.4L2431.1 308.5L2431.1 297.5z" fill="url(#mf176)"/>
<path d="M2632.5 455.2L2433.1 310.6L2430.1 302.3L2429.1 295.9L2429.0 284.1z" fill="url(#mf177)"/>
<path d="M2632.5 455.2L2431.2 298.3L2428.1 289.3L2427.0 282.4L2426.8 269.6z" fill="url(#mf178)"/>
<path d="M2632.5 455.2L2429.2 285.0L2425.9 275.3L2424.7 267.8L2424.3 253.8z" fill="url(#mf179)"/>
<path d="M2632.5 455.2L2426.9 270.5L2423.5 260.0L2422.3 251.9L2421.6 236.5z" fill="url(#mf180)"/>
<path d="M2632.5 455.2L2424.5 254.8L2420.9 243.3L2419.5 234.4L2437.0 238.0z" fill="url(#mf181)"/>
<path d="M2632.5 455.2L2421.8 237.6L2427.4 235.1L2435.1 235.9L2451.2 239.4z" fill="url(#mf0)"/>
<circle cx="2632.5" cy="455.2" r="16" fill="url(#mw)"/></g>
<path d="M2801.6 1493.4L2801.6 1493.3L2801.4 1493.3L2801.3 1493.3L2801.2 1493.4L2801.0 1493.5L2800.9 1493.7L2800.7 1494.0L2800.5 1494.1L2800.3 1494.2L2800.1 1494.1L2799.8 1494.1L2799.6 1494.1L2799.3 1494.3L2799.0 1494.5L2798.8 1494.7L2798.5 1494.9L2798.1 1494.9L2797.8 1494.9L2797.4 1494.9L2797.0 1494.9L2796.6 1494.9L2796.1 1494.9L2795.6 1494.9L2795.1 1494.9L2794.6 1495.0L2794.1 1495.0L2793.5 1495.1L2792.7 1494.9L2791.9 1494.6L2790.9 1494.1L2789.8 1493.5L2788.5 1492.7L2786.9 1491.7L2785.1 1490.5L2783.1 1489.1L2781.0 1487.5L2778.8 1485.8L2776.5 1484.0L2773.9 1481.9L2771.0 1479.5L2767.8 1476.8L2764.3 1473.9L2760.5 1470.7L2756.5 1467.3L2752.3 1463.6L2747.9 1459.6L2743.2 1455.5L2738.2 1451.0L2733.0 1446.5L2727.4 1441.7L2721.5 1436.6L2715.1 1431.1L2708.2 1425.2L2700.8 1418.9L2693.0 1412.3L2684.8 1405.2L2676.3 1397.9L2667.5 1390.4L2658.2 1382.3L2648.3 1373.4L2637.9 1364.0L2627.1 1354.0L2615.6 1343.2L2603.5 1331.3L2591.2 1318.9L2578.5 1306.0L2564.9 1291.4L2549.8 1274.2L2533.4 1254.8L2516.1 1233.7L2497.8 1210.5L2478.4 1184.5L2458.3 1156.7L2437.7 1127.5L2416.4 1096.1L2394.2 1061.8L2371.5 1025.6L2348.7 988.2L2325.8 949.5L2302.8 909.1L2279.7 867.9L2257.1 826.7L2235.3 785.4L2214.8 743.9L2195.6 702.6L2177.6 662.1L2161.0 622.9L2146.0 585.3L2132.3 549.0L2119.7 514.2L2108.7 481.6L2099.4 451.7L2091.5 423.9L2084.8 397.8L2079.3 373.9L2075.3 352.3L2072.3 332.7L2070.3 314.6L2069.3 298.1L2069.4 283.2L2070.5 269.5L2072.4 257.0L2075.1 245.7L2078.6 235.6L2083.0 226.7L2088.3 218.6L2094.2 211.5L2100.5 205.5L2107.5 200.4L2115.1 196.3L2123.2 192.9L2131.6 190.1L2140.3 187.9L2149.4 186.4L2158.9 185.3L2168.5 184.4L2178.3 183.7L2188.4 183.3L2198.6 183.1L2208.8 183.0L2219.0 182.9L2229.2 183.0L2239.4 183.2L2249.8 183.5L2260.2 183.9L2270.8 184.4L2281.5 184.9L2292.5 185.6L2303.6 186.3L2315.0 187.1L2326.6 188.1L2338.5 189.0L2350.6 190.1L2362.9 191.2L2375.5 192.5L2388.4 193.7L2401.7 195.1L2415.2 196.5L2429.1 198.0L2443.4 199.5L2458.0 201.1L2473.1 202.8L2488.5 204.5L2504.3 206.3L2520.5 208.2L2537.1 210.1L2554.1 212.1L2571.6 214.2L2589.6 216.3L2608.0 218.4L2626.9 220.6L2646.2 222.9L2666.0 225.3L2686.2 227.7L2707.0 230.2L2728.1 232.7L2749.8 235.3L2771.9 238.0L2794.5 240.7L2817.5 243.4L2841.0 246.3L2864.9 249.1L2889.2 252.0L2913.9 255.0L2938.9 258.0L2964.3 261.0L2990.0 264.1L3015.9 267.2L3042.0 270.3L3068.2 273.5L3094.5 276.6L3120.6 279.8L3146.4 282.9L3171.8 285.9L3197.0 288.9L3222.2 291.9L3247.3 295.0L3272.3 298.0L3296.9 300.9L3321.0 303.8L3344.4 306.6L3367.0 309.2L3389.1 311.9L3410.6 314.4L3431.4 316.9L3451.5 319.3L3470.9 321.7L3489.7 323.9L3507.7 326.1L3524.8 328.2L3541.2 330.1L3557.0 332.0L3572.1 333.8L3586.5 335.5L3600.2 337.2L3613.4 338.7L3626.1 340.3L3638.1 341.7L3649.7 343.1L3661.0 344.5L3671.9 345.8L3682.4 347.0L3692.5 348.2L3702.2 349.4L3711.5 350.5L3720.4 351.6L3728.9 352.6L3737.0 353.6L3744.7 354.5L3751.9 355.4L3758.8 356.1L3765.2 356.9L3771.3 357.6L3776.9 358.3L3782.1 358.9L3787.1 359.5L3791.8 360.1L3796.2 360.6L3800.3 361.1L3804.1 361.6L3807.7 362.0L3811.1 362.4L3814.1 362.8L3816.9 363.1L3819.3 363.4L3821.4 363.7L3823.3 363.9L3825.2 364.1L3827.0 364.3L3828.8 364.5L3830.4 364.7L3832.0 364.9L3833.5 365.1L3834.8 365.3L3836.1 365.4L3837.4 365.6L3838.7 365.7L3840.1 365.9L3841.4 366.1L3842.7 366.2L3844.0 366.4L3845.2 366.5L3846.3 366.7L3847.3 366.8L3848.3 366.9L3849.1 367.0L3849.8 367.1L3850.4 367.2L3850.9 367.2L3851.4 367.3L3851.7 367.3L3852.0 367.3L3852.2 367.4L3852.5 367.4L3852.6 367.4L3852.8 367.4zM3488.5 323.6L2348.0 203.8L2568.3 1168.6z" fill="#000" fill-opacity="0.40" fill-rule="evenodd"/>
</g>
<rect x="2596.6" y="411.1" width="30.9" height="30.9" fill="none" stroke="#000" stroke-width="3.8"/>
<rect x="2330.6" y="187.2" width="30.7" height="30.7" fill="none" stroke="#fff" stroke-width="3.2"/>
<rect x="2418.8" y="218.8" width="30.7" height="30.7" fill="none" stroke="#fff" stroke-width="3.2"/>
<rect x="2434.2" y="227.8" width="30.7" height="30.7" fill="none" stroke="#fff" stroke-width="3.2"/>
<rect x="2446.7" y="234.1" width="30.7" height="30.7" fill="none" stroke="#fff" stroke-width="3.2"/>
<rect x="2449.8" y="268.5" width="30.7" height="30.7" fill="none" stroke="#fff" stroke-width="3.2"/>
<rect x="2471.6" y="296.8" width="30.7" height="30.7" fill="none" stroke="#fff" stroke-width="3.2"/>
<rect x="2380.7" y="293.6" width="30.7" height="30.7" fill="none" stroke="#fff" stroke-width="3.2"/>
<rect x="2437.2" y="330.8" width="30.7" height="30.7" fill="none" stroke="#fff" stroke-width="3.2"/>
<rect x="2461.8" y="325.0" width="30.7" height="30.7" fill="none" stroke="#fff" stroke-width="3.2"/>
<rect x="2546.6" y="249.8" width="30.7" height="30.7" fill="none" stroke="#fff" stroke-width="3.2"/>
<rect x="2577.7" y="253.5" width="30.7" height="30.7" fill="none" stroke="#fff" stroke-width="3.2"/>
<rect x="2600.1" y="224.8" width="30.7" height="30.7" fill="none" stroke="#fff" stroke-width="3.2"/>
<rect x="2608.8" y="215.1" width="30.7" height="30.7" fill="none" stroke="#fff" stroke-width="3.2"/>
<rect x="2606.0" y="234.8" width="30.7" height="30.7" fill="none" stroke="#fff" stroke-width="3.2"/>
<rect x="2652.7" y="227.7" width="30.7" height="30.7" fill="none" stroke="#fff" stroke-width="3.2"/>
<rect x="2662.3" y="243.3" width="30.7" height="30.7" fill="none" stroke="#fff" stroke-width="3.2"/>
<rect x="2705.8" y="227.7" width="30.7" height="30.7" fill="none" stroke="#fff" stroke-width="3.2"/>
<rect x="2727.6" y="249.7" width="30.7" height="30.7" fill="none" stroke="#fff" stroke-width="3.2"/>
<rect x="2767.6" y="253.0" width="30.7" height="30.7" fill="none" stroke="#fff" stroke-width="3.2"/>
<rect x="2565.1" y="311.9" width="30.7" height="30.7" fill="none" stroke="#fff" stroke-width="3.2"/>
<rect x="2649.8" y="315.2" width="30.7" height="30.7" fill="none" stroke="#fff" stroke-width="3.2"/>
<rect x="2727.6" y="334.1" width="30.7" height="30.7" fill="none" stroke="#fff" stroke-width="3.2"/>
<rect x="2490.5" y="374.6" width="30.7" height="30.7" fill="none" stroke="#fff" stroke-width="3.2"/>
<rect x="2593.8" y="364.9" width="30.7" height="30.7" fill="none" stroke="#fff" stroke-width="3.2"/>
<rect x="2571.8" y="380.5" width="30.7" height="30.7" fill="none" stroke="#fff" stroke-width="3.2"/>
<rect x="2380.7" y="402.5" width="30.7" height="30.7" fill="none" stroke="#fff" stroke-width="3.2"/>
<rect x="2385.0" y="418.5" width="30.7" height="30.7" fill="none" stroke="#fff" stroke-width="3.2"/>
<rect x="2387.8" y="437.0" width="30.7" height="30.7" fill="none" stroke="#fff" stroke-width="3.2"/>
<rect x="2424.8" y="424.3" width="30.7" height="30.7" fill="none" stroke="#fff" stroke-width="3.2"/>
<rect x="2477.5" y="418.5" width="30.7" height="30.7" fill="none" stroke="#fff" stroke-width="3.2"/>
<rect x="2587.2" y="411.9" width="30.7" height="30.7" fill="none" stroke="#fff" stroke-width="3.2"/>
<rect x="2634.2" y="418.5" width="30.7" height="30.7" fill="none" stroke="#fff" stroke-width="3.2"/>
<rect x="2674.7" y="411.6" width="30.7" height="30.7" fill="none" stroke="#fff" stroke-width="3.2"/>
<rect x="2733.6" y="396.3" width="30.7" height="30.7" fill="none" stroke="#fff" stroke-width="3.2"/>
<rect x="2739.8" y="377.6" width="30.7" height="30.7" fill="none" stroke="#fff" stroke-width="3.2"/>
<rect x="2742.7" y="379.9" width="30.7" height="30.7" fill="none" stroke="#fff" stroke-width="3.2"/>
<rect x="2746.3" y="349.6" width="30.7" height="30.7" fill="none" stroke="#fff" stroke-width="3.2"/>
<rect x="2449.8" y="480.4" width="30.7" height="30.7" fill="none" stroke="#fff" stroke-width="3.2"/>
<rect x="2774.3" y="480.4" width="30.7" height="30.7" fill="none" stroke="#fff" stroke-width="3.2"/>
<rect x="2493.6" y="527.5" width="30.7" height="30.7" fill="none" stroke="#fff" stroke-width="3.2"/>
<rect x="2552.3" y="527.5" width="30.7" height="30.7" fill="none" stroke="#fff" stroke-width="3.2"/>
<rect x="2546.6" y="540.2" width="30.7" height="30.7" fill="none" stroke="#fff" stroke-width="3.2"/>
<rect x="2546.6" y="568.4" width="30.7" height="30.7" fill="none" stroke="#fff" stroke-width="3.2"/>
<rect x="2646.8" y="533.4" width="30.7" height="30.7" fill="none" stroke="#fff" stroke-width="3.2"/>
<rect x="2412.2" y="540.2" width="30.7" height="30.7" fill="none" stroke="#fff" stroke-width="3.2"/>
<rect x="2418.7" y="564.9" width="30.7" height="30.7" fill="none" stroke="#fff" stroke-width="3.2"/>
<rect x="2434.2" y="586.9" width="30.7" height="30.7" fill="none" stroke="#fff" stroke-width="3.2"/>
<rect x="2611.8" y="599.5" width="30.7" height="30.7" fill="none" stroke="#fff" stroke-width="3.2"/>
<rect x="2767.6" y="586.9" width="30.7" height="30.7" fill="none" stroke="#fff" stroke-width="3.2"/>
<rect x="2921.0" y="393.8" width="30.7" height="30.7" fill="none" stroke="#fff" stroke-width="3.2"/>
<rect x="3027.7" y="402.5" width="30.7" height="30.7" fill="none" stroke="#fff" stroke-width="3.2"/>
<rect x="3039.8" y="468.1" width="30.7" height="30.7" fill="none" stroke="#fff" stroke-width="3.2"/>
<rect x="3052.8" y="499.8" width="30.7" height="30.7" fill="none" stroke="#fff" stroke-width="3.2"/>
<rect x="3161.8" y="487.2" width="30.7" height="30.7" fill="none" stroke="#fff" stroke-width="3.2"/>
<rect x="2918.1" y="562.0" width="30.7" height="30.7" fill="none" stroke="#fff" stroke-width="3.2"/>
<rect x="3218.8" y="374.8" width="30.7" height="30.7" fill="none" stroke="#fff" stroke-width="3.2"/>
<rect x="3277.2" y="393.8" width="30.7" height="30.7" fill="none" stroke="#fff" stroke-width="3.2"/>
<rect x="3224.6" y="349.6" width="30.7" height="30.7" fill="none" stroke="#fff" stroke-width="3.2"/>
<rect x="3196.3" y="355.5" width="30.7" height="30.7" fill="none" stroke="#fff" stroke-width="3.2"/>
<rect x="3324.2" y="315.2" width="30.7" height="30.7" fill="none" stroke="#fff" stroke-width="3.2"/>
<rect x="3402.1" y="311.3" width="30.7" height="30.7" fill="none" stroke="#fff" stroke-width="3.2"/>
<rect x="3402.1" y="331.2" width="30.7" height="30.7" fill="none" stroke="#fff" stroke-width="3.2"/>
<rect x="3436.6" y="321.5" width="30.7" height="30.7" fill="none" stroke="#fff" stroke-width="3.2"/>
<rect x="3474.1" y="305.5" width="30.7" height="30.7" fill="none" stroke="#fff" stroke-width="3.2"/>
<rect x="3049.2" y="271.5" width="30.7" height="30.7" fill="none" stroke="#fff" stroke-width="3.2"/>
<rect x="3148.8" y="277.8" width="30.7" height="30.7" fill="none" stroke="#fff" stroke-width="3.2"/>
<rect x="2974.5" y="280.8" width="30.7" height="30.7" fill="none" stroke="#fff" stroke-width="3.2"/>
<rect x="2997.0" y="283.2" width="30.7" height="30.7" fill="none" stroke="#fff" stroke-width="3.2"/>
<rect x="2971.6" y="310.4" width="30.7" height="30.7" fill="none" stroke="#fff" stroke-width="3.2"/>
<rect x="2955.8" y="352.3" width="30.7" height="30.7" fill="none" stroke="#fff" stroke-width="3.2"/>
<rect x="2783.0" y="239.1" width="30.7" height="30.7" fill="none" stroke="#fff" stroke-width="3.2"/>
<rect x="2799.7" y="239.0" width="30.7" height="30.7" fill="none" stroke="#fff" stroke-width="3.2"/>
<rect x="2833.5" y="264.9" width="30.7" height="30.7" fill="none" stroke="#fff" stroke-width="3.2"/>
<rect x="2884.0" y="249.5" width="30.7" height="30.7" fill="none" stroke="#fff" stroke-width="3.2"/>
<rect x="2893.6" y="252.3" width="30.7" height="30.7" fill="none" stroke="#fff" stroke-width="3.2"/>
<rect x="2915.2" y="296.1" width="30.7" height="30.7" fill="none" stroke="#fff" stroke-width="3.2"/>
<rect x="2931.0" y="305.4" width="30.7" height="30.7" fill="none" stroke="#fff" stroke-width="3.2"/>
<rect x="2951.6" y="307.5" width="30.7" height="30.7" fill="none" stroke="#fff" stroke-width="3.2"/>
<rect x="2956.2" y="308.1" width="30.7" height="30.7" fill="none" stroke="#fff" stroke-width="3.2"/>
<rect x="2962.0" y="308.8" width="30.7" height="30.7" fill="none" stroke="#fff" stroke-width="3.2"/>
<rect x="2966.7" y="308.8" width="30.7" height="30.7" fill="none" stroke="#fff" stroke-width="3.2"/>
<rect x="2864.8" y="296.8" width="30.7" height="30.7" fill="none" stroke="#fff" stroke-width="3.2"/>
<rect x="2868.6" y="302.3" width="30.7" height="30.7" fill="none" stroke="#fff" stroke-width="3.2"/>
<rect x="2802.8" y="318.3" width="30.7" height="30.7" fill="none" stroke="#fff" stroke-width="3.2"/>
<rect x="2780.8" y="339.8" width="30.7" height="30.7" fill="none" stroke="#fff" stroke-width="3.2"/>
<rect x="2790.0" y="358.9" width="30.7" height="30.7" fill="none" stroke="#fff" stroke-width="3.2"/>
<rect x="2864.7" y="319.0" width="30.7" height="30.7" fill="none" stroke="#fff" stroke-width="3.2"/>
<rect x="2799.5" y="333.8" width="30.7" height="30.7" fill="none" stroke="#fff" stroke-width="3.2"/>
<rect x="2809.5" y="344.9" width="30.7" height="30.7" fill="none" stroke="#fff" stroke-width="3.2"/>
<rect x="2822.6" y="340.8" width="30.7" height="30.7" fill="none" stroke="#fff" stroke-width="3.2"/>
<rect x="2877.5" y="333.0" width="30.7" height="30.7" fill="none" stroke="#fff" stroke-width="3.2"/>
<rect x="2891.5" y="321.4" width="30.7" height="30.7" fill="none" stroke="#fff" stroke-width="3.2"/>
<rect x="2835.7" y="330.1" width="30.7" height="30.7" fill="none" stroke="#fff" stroke-width="3.2"/>
<rect x="2848.7" y="336.1" width="30.7" height="30.7" fill="none" stroke="#fff" stroke-width="3.2"/>
<rect x="2812.7" y="325.1" width="30.7" height="30.7" fill="none" stroke="#fff" stroke-width="3.2"/>
<rect x="2455.6" y="659.0" width="30.7" height="30.7" fill="none" stroke="#fff" stroke-width="3.2"/>
<rect x="2665.3" y="640.0" width="30.7" height="30.7" fill="none" stroke="#fff" stroke-width="3.2"/>
<rect x="2731.0" y="659.0" width="30.7" height="30.7" fill="none" stroke="#fff" stroke-width="3.2"/>
<rect x="2849.6" y="680.4" width="30.7" height="30.7" fill="none" stroke="#fff" stroke-width="3.2"/>
<rect x="2924.2" y="717.9" width="30.7" height="30.7" fill="none" stroke="#fff" stroke-width="3.2"/>
<rect x="2993.1" y="749.5" width="30.7" height="30.7" fill="none" stroke="#fff" stroke-width="3.2"/>
<rect x="2484.0" y="777.6" width="30.7" height="30.7" fill="none" stroke="#fff" stroke-width="3.2"/>
<rect x="2539.1" y="771.4" width="30.7" height="30.7" fill="none" stroke="#fff" stroke-width="3.2"/>
<rect x="2549.6" y="771.4" width="30.7" height="30.7" fill="none" stroke="#fff" stroke-width="3.2"/>
<rect x="2549.6" y="930.9" width="30.7" height="30.7" fill="none" stroke="#fff" stroke-width="3.2"/>
<rect x="2524.5" y="983.6" width="30.7" height="30.7" fill="none" stroke="#fff" stroke-width="3.2"/>
<rect x="2552.6" y="1152.2" width="30.7" height="30.7" fill="none" stroke="#fff" stroke-width="3.2"/>
<circle cx="2356.1" cy="215.0" r="9.4" fill="#0f0" stroke="#000" stroke-width="2.5"/>
<circle cx="2474.3" cy="261.5" r="9.4" fill="#64823c" stroke="#000" stroke-width="2.5"/>
<circle cx="2446.0" cy="245.9" r="9.4" fill="#648232" stroke="#000" stroke-width="2.5"/>
<circle cx="2462.0" cy="255.7" r="9.4" fill="#789646" stroke="#000" stroke-width="2.5"/>
<circle cx="2477.6" cy="292.7" r="9.4" fill="#789650" stroke="#000" stroke-width="2.5"/>
<circle cx="2496.1" cy="320.5" r="9.4" fill="#82a06e" stroke="#000" stroke-width="2.5"/>
<circle cx="2406.1" cy="318.0" r="9.4" fill="#3c6e5a" stroke="#000" stroke-width="2.5"/>
<circle cx="2458.9" cy="355.9" r="9.4" fill="#78a078" stroke="#000" stroke-width="2.5"/>
<circle cx="2493.1" cy="355.9" r="9.4" fill="#323c32" stroke="#000" stroke-width="2.5"/>
<circle cx="2573.9" cy="277.3" r="9.4" fill="#8c9646" stroke="#000" stroke-width="2.5"/>
<circle cx="2605.3" cy="278.0" r="9.4" fill="#505037" stroke="#000" stroke-width="2.5"/>
<circle cx="2605.3" cy="281.0" r="9.4" fill="#5a5a3c" stroke="#000" stroke-width="2.5"/>
<circle cx="2626.7" cy="248.9" r="9.4" fill="#aaa03c" stroke="#000" stroke-width="2.5"/>
<circle cx="2637.4" cy="260.0" r="9.4" fill="#aaaa46" stroke="#000" stroke-width="2.5"/>
<circle cx="2640.3" cy="243.0" r="9.4" fill="#ffeb1e" stroke="#000" stroke-width="2.5"/>
<circle cx="2692.9" cy="267.7" r="9.4" fill="#968c46" stroke="#000" stroke-width="2.5"/>
<circle cx="2687.1" cy="255.7" r="9.4" fill="#aaa03c" stroke="#000" stroke-width="2.5"/>
<circle cx="2740.0" cy="255.7" r="9.4" fill="#c8aa28" stroke="#000" stroke-width="2.5"/>
<circle cx="2762.0" cy="273.8" r="9.4" fill="#e6b45a" stroke="#000" stroke-width="2.5"/>
<circle cx="2801.9" cy="277.4" r="9.4" fill="#aa8c3c" stroke="#000" stroke-width="2.5"/>
<circle cx="2593.0" cy="336.9" r="9.4" fill="#646450" stroke="#000" stroke-width="2.5"/>
<circle cx="2680.6" cy="339.8" r="9.4" fill="#e1c896" stroke="#000" stroke-width="2.5"/>
<circle cx="2749.2" cy="364.7" r="9.4" fill="#3c2d2d" stroke="#000" stroke-width="2.5"/>
<circle cx="2780.3" cy="370.5" r="9.4" fill="#fabeaa" stroke="#000" stroke-width="2.5"/>
<circle cx="2620.9" cy="386.1" r="9.4" fill="#d7d7cd" stroke="#000" stroke-width="2.5"/>
<circle cx="2515.1" cy="399.4" r="9.4" fill="#8caa96" stroke="#000" stroke-width="2.5"/>
<circle cx="2402.6" cy="423.7" r="9.4" fill="#328282" stroke="#000" stroke-width="2.5"/>
<circle cx="2418.4" cy="448.5" r="9.4" fill="#192841" stroke="#000" stroke-width="2.5"/>
<circle cx="2409.0" cy="459.2" r="9.4" fill="#14f0f0" stroke="#000" stroke-width="2.5"/>
<circle cx="2446.0" cy="445.5" r="9.4" fill="#6e96a0" stroke="#000" stroke-width="2.5"/>
<circle cx="2502.5" cy="443.0" r="9.4" fill="#8caaaa" stroke="#000" stroke-width="2.5"/>
<circle cx="2598.9" cy="405.6" r="9.4" fill="#c8cdc8" stroke="#000" stroke-width="2.5"/>
<circle cx="2627.0" cy="433.0" r="9.4" fill="#191919" stroke="#000" stroke-width="2.5"/>
<circle cx="2626.0" cy="436.0" r="9.4" fill="#282828" stroke="#000" stroke-width="2.5"/>
<circle cx="2625.2" cy="439.0" r="9.4" fill="#323232" stroke="#000" stroke-width="2.5"/>
<circle cx="2624.0" cy="442.0" r="9.4" fill="#2d2d2d" stroke="#000" stroke-width="2.5"/>
<circle cx="2614.8" cy="436.8" r="9.4" fill="#cdcdcd" stroke="#000" stroke-width="2.5"/>
<circle cx="2662.1" cy="439.7" r="9.4" fill="#cdc3c3" stroke="#000" stroke-width="2.5"/>
<circle cx="2705.6" cy="436.8" r="9.4" fill="#e1c8c8" stroke="#000" stroke-width="2.5"/>
<circle cx="2768.3" cy="418.3" r="9.4" fill="#fabeb4" stroke="#000" stroke-width="2.5"/>
<circle cx="2774.1" cy="399.4" r="9.4" fill="#fabeaf" stroke="#000" stroke-width="2.5"/>
<circle cx="2471.0" cy="505.3" r="9.4" fill="#6496aa" stroke="#000" stroke-width="2.5"/>
<circle cx="2518.1" cy="548.7" r="9.4" fill="#8296aa" stroke="#000" stroke-width="2.5"/>
<circle cx="2581.0" cy="548.7" r="9.4" fill="#6e6e96" stroke="#000" stroke-width="2.5"/>
<circle cx="2571.0" cy="561.8" r="9.4" fill="#8c8caa" stroke="#000" stroke-width="2.5"/>
<circle cx="2567.7" cy="586.7" r="9.4" fill="#7d7d9b" stroke="#000" stroke-width="2.5"/>
<circle cx="2673.8" cy="555.6" r="9.4" fill="#8c8296" stroke="#000" stroke-width="2.5"/>
<circle cx="2434.0" cy="564.7" r="9.4" fill="#28788c" stroke="#000" stroke-width="2.5"/>
<circle cx="2446.0" cy="589.6" r="9.4" fill="#192841" stroke="#000" stroke-width="2.5"/>
<circle cx="2455.8" cy="608.1" r="9.4" fill="#3c8296" stroke="#000" stroke-width="2.5"/>
<circle cx="2786.8" cy="602.3" r="9.4" fill="#463246" stroke="#000" stroke-width="2.5"/>
<circle cx="2805.8" cy="502.0" r="9.4" fill="#be8296" stroke="#000" stroke-width="2.5"/>
<circle cx="2636.8" cy="621.1" r="9.4" fill="#9696be" stroke="#000" stroke-width="2.5"/>
<circle cx="2958.6" cy="414.9" r="9.4" fill="#c8877d" stroke="#000" stroke-width="2.5"/>
<circle cx="3061.5" cy="423.7" r="9.4" fill="#be646e" stroke="#000" stroke-width="2.5"/>
<circle cx="3049.2" cy="489.9" r="9.4" fill="#502d32" stroke="#000" stroke-width="2.5"/>
<circle cx="3086.6" cy="518.0" r="9.4" fill="#be648c" stroke="#000" stroke-width="2.5"/>
<circle cx="3190.0" cy="505.3" r="9.4" fill="#78285a" stroke="#000" stroke-width="2.5"/>
<circle cx="2948.9" cy="577.0" r="9.4" fill="#be6496" stroke="#000" stroke-width="2.5"/>
<circle cx="3227.0" cy="399.4" r="9.4" fill="#552828" stroke="#000" stroke-width="2.5"/>
<circle cx="3261.9" cy="373.8" r="9.4" fill="#aa4646" stroke="#000" stroke-width="2.5"/>
<circle cx="3232.7" cy="377.3" r="9.4" fill="#c3555f" stroke="#000" stroke-width="2.5"/>
<circle cx="3314.5" cy="414.7" r="9.4" fill="#be3c5a" stroke="#000" stroke-width="2.5"/>
<circle cx="3360.9" cy="340.0" r="9.4" fill="#e6463c" stroke="#000" stroke-width="2.5"/>
<circle cx="3433.0" cy="340.0" r="9.4" fill="#be3232" stroke="#000" stroke-width="2.5"/>
<circle cx="3464.5" cy="349.1" r="9.4" fill="#aa1e32" stroke="#000" stroke-width="2.5"/>
<circle cx="3435.9" cy="355.9" r="9.4" fill="#be323c" stroke="#000" stroke-width="2.5"/>
<circle cx="3511.3" cy="333.9" r="9.4" fill="#f00" stroke="#000" stroke-width="2.5"/>
<circle cx="3086.2" cy="296.0" r="9.4" fill="#e18232" stroke="#000" stroke-width="2.5"/>
<circle cx="3186.5" cy="305.7" r="9.4" fill="#eb8228" stroke="#000" stroke-width="2.5"/>
<circle cx="2820.5" cy="264.8" r="9.4" fill="#fabe28" stroke="#000" stroke-width="2.5"/>
<circle cx="2836.8" cy="264.8" r="9.4" fill="#ffbe1e" stroke="#000" stroke-width="2.5"/>
<circle cx="2868.1" cy="289.9" r="9.4" fill="#e1a550" stroke="#000" stroke-width="2.5"/>
<circle cx="2901.9" cy="296.1" r="9.4" fill="#be874b" stroke="#000" stroke-width="2.5"/>
<circle cx="2920.0" cy="277.7" r="9.4" fill="#f0a03c" stroke="#000" stroke-width="2.5"/>
<circle cx="2930.2" cy="280.9" r="9.4" fill="#f5a53c" stroke="#000" stroke-width="2.5"/>
<circle cx="2899.0" cy="323.5" r="9.4" fill="#785037" stroke="#000" stroke-width="2.5"/>
<circle cx="2958.8" cy="331.1" r="9.4" fill="#6e412d" stroke="#000" stroke-width="2.5"/>
<circle cx="2945.7" cy="323.7" r="9.4" fill="#6e4632" stroke="#000" stroke-width="2.5"/>
<circle cx="2987.1" cy="331.1" r="9.4" fill="#d28250" stroke="#000" stroke-width="2.5"/>
<circle cx="2979.8" cy="346.3" r="9.4" fill="#4b2323" stroke="#000" stroke-width="2.5"/>
<circle cx="3011.6" cy="306.0" r="9.4" fill="#d28246" stroke="#000" stroke-width="2.5"/>
<circle cx="3027.4" cy="312.1" r="9.4" fill="#a0643c" stroke="#000" stroke-width="2.5"/>
<circle cx="2851.2" cy="355.0" r="9.4" fill="#faaa96" stroke="#000" stroke-width="2.5"/>
<circle cx="2861.7" cy="362.0" r="9.4" fill="#d28c78" stroke="#000" stroke-width="2.5"/>
<circle cx="2847.1" cy="367.3" r="9.4" fill="#c88773" stroke="#000" stroke-width="2.5"/>
<circle cx="2823.8" cy="369.1" r="9.4" fill="#d2917d" stroke="#000" stroke-width="2.5"/>
<circle cx="2901.9" cy="342.8" r="9.4" fill="#c88c78" stroke="#000" stroke-width="2.5"/>
<circle cx="2930.5" cy="349.0" r="9.4" fill="#c8876e" stroke="#000" stroke-width="2.5"/>
<circle cx="2915.0" cy="358.5" r="9.4" fill="#faa082" stroke="#000" stroke-width="2.5"/>
<circle cx="2836.8" cy="342.8" r="9.4" fill="#c88c78" stroke="#000" stroke-width="2.5"/>
<circle cx="2836.8" cy="358.5" r="9.4" fill="#c88c7d" stroke="#000" stroke-width="2.5"/>
<circle cx="2877.4" cy="361.4" r="9.4" fill="#cd8c78" stroke="#000" stroke-width="2.5"/>
<circle cx="2815.0" cy="364.4" r="9.4" fill="#c88c7d" stroke="#000" stroke-width="2.5"/>
<circle cx="2820.8" cy="383.9" r="9.4" fill="#6e5041" stroke="#000" stroke-width="2.5"/>
<circle cx="2993.0" cy="373.8" r="9.4" fill="#cd8c78" stroke="#000" stroke-width="2.5"/>
<circle cx="2474.0" cy="679.6" r="9.4" fill="#3282b4" stroke="#000" stroke-width="2.5"/>
<circle cx="2687.0" cy="655.4" r="9.4" fill="#6e648c" stroke="#000" stroke-width="2.5"/>
<circle cx="2755.4" cy="671.2" r="9.4" fill="#644664" stroke="#000" stroke-width="2.5"/>
<circle cx="2870.9" cy="687.0" r="9.4" fill="#503250" stroke="#000" stroke-width="2.5"/>
<circle cx="2951.9" cy="727.0" r="9.4" fill="#6e286e" stroke="#000" stroke-width="2.5"/>
<circle cx="3023.9" cy="762.1" r="9.4" fill="#f0f" stroke="#000" stroke-width="2.5"/>
<circle cx="2502.5" cy="787.0" r="9.4" fill="#2d3c6e" stroke="#000" stroke-width="2.5"/>
<circle cx="2569.1" cy="790.2" r="9.4" fill="#646ea0" stroke="#000" stroke-width="2.5"/>
<circle cx="2558.9" cy="787.0" r="9.4" fill="#465096" stroke="#000" stroke-width="2.5"/>
<circle cx="2567.7" cy="946.3" r="9.4" fill="#464696" stroke="#000" stroke-width="2.5"/>
<circle cx="2540.3" cy="992.5" r="9.4" fill="#283278" stroke="#000" stroke-width="2.5"/>
<circle cx="2565.0" cy="1171.0" r="9.4" fill="#0a0aff" stroke="#000" stroke-width="2.5"/>
<circle cx="2596.0" cy="526.9" r="10.6" fill="#000"/>
</g>
<rect x="2065.5" y="152.5" width="1722" height="1379" fill="none" stroke="#999999" stroke-width="3"/>
<rect x="2063.8" y="1533" width="3" height="12" fill="#cfcfcf"/>
<text x="2065.3" y="1581" font-size="32.3" text-anchor="middle" fill="#d6d6d6" textLength="19.0" lengthAdjust="spacingAndGlyphs">0</text>
<rect x="2050" y="1530.1" width="14" height="3" fill="#cfcfcf"/>
<text x="2049.5" y="1544.4" font-size="32.3" text-anchor="end" fill="#d6d6d6" textLength="18.9" lengthAdjust="spacingAndGlyphs">0</text>
<rect x="2207.2" y="1533" width="3" height="12" fill="#cfcfcf"/>
<text x="2208.7" y="1581" font-size="32.3" text-anchor="middle" fill="#d6d6d6" textLength="66.6" lengthAdjust="spacingAndGlyphs">0.05</text>
<rect x="2050" y="1415.3" width="14" height="3" fill="#cfcfcf"/>
<text x="2049.5" y="1429.6" font-size="32.3" text-anchor="end" fill="#d6d6d6" textLength="66.0" lengthAdjust="spacingAndGlyphs">0.05</text>
<rect x="2350.5" y="1533" width="3" height="12" fill="#cfcfcf"/>
<text x="2352.0" y="1581" font-size="32.3" text-anchor="middle" fill="#d6d6d6" textLength="47.6" lengthAdjust="spacingAndGlyphs">0.1</text>
<rect x="2050" y="1300.4" width="14" height="3" fill="#cfcfcf"/>
<text x="2049.5" y="1314.7" font-size="32.3" text-anchor="end" fill="#d6d6d6" textLength="47.1" lengthAdjust="spacingAndGlyphs">0.1</text>
<rect x="2493.9" y="1533" width="3" height="12" fill="#cfcfcf"/>
<text x="2495.4" y="1581" font-size="32.3" text-anchor="middle" fill="#d6d6d6" textLength="66.6" lengthAdjust="spacingAndGlyphs">0.15</text>
<rect x="2050" y="1185.6" width="14" height="3" fill="#cfcfcf"/>
<text x="2049.5" y="1199.9" font-size="32.3" text-anchor="end" fill="#d6d6d6" textLength="66.0" lengthAdjust="spacingAndGlyphs">0.15</text>
<rect x="2637.3" y="1533" width="3" height="12" fill="#cfcfcf"/>
<text x="2638.8" y="1581" font-size="32.3" text-anchor="middle" fill="#d6d6d6" textLength="47.6" lengthAdjust="spacingAndGlyphs">0.2</text>
<rect x="2050" y="1070.8" width="14" height="3" fill="#cfcfcf"/>
<text x="2049.5" y="1085.1" font-size="32.3" text-anchor="end" fill="#d6d6d6" textLength="47.1" lengthAdjust="spacingAndGlyphs">0.2</text>
<rect x="2780.6" y="1533" width="3" height="12" fill="#cfcfcf"/>
<text x="2782.1" y="1581" font-size="32.3" text-anchor="middle" fill="#d6d6d6" textLength="66.6" lengthAdjust="spacingAndGlyphs">0.25</text>
<rect x="2050" y="955.9" width="14" height="3" fill="#cfcfcf"/>
<text x="2049.5" y="970.2" font-size="32.3" text-anchor="end" fill="#d6d6d6" textLength="66.0" lengthAdjust="spacingAndGlyphs">0.25</text>
<rect x="2924.0" y="1533" width="3" height="12" fill="#cfcfcf"/>
<text x="2925.5" y="1581" font-size="32.3" text-anchor="middle" fill="#d6d6d6" textLength="47.6" lengthAdjust="spacingAndGlyphs">0.3</text>
<rect x="2050" y="841.1" width="14" height="3" fill="#cfcfcf"/>
<text x="2049.5" y="855.4" font-size="32.3" text-anchor="end" fill="#d6d6d6" textLength="47.1" lengthAdjust="spacingAndGlyphs">0.3</text>
<rect x="3067.4" y="1533" width="3" height="12" fill="#cfcfcf"/>
<text x="3068.9" y="1581" font-size="32.3" text-anchor="middle" fill="#d6d6d6" textLength="66.6" lengthAdjust="spacingAndGlyphs">0.35</text>
<rect x="2050" y="726.3" width="14" height="3" fill="#cfcfcf"/>
<text x="2049.5" y="740.6" font-size="32.3" text-anchor="end" fill="#d6d6d6" textLength="66.0" lengthAdjust="spacingAndGlyphs">0.35</text>
<rect x="3210.7" y="1533" width="3" height="12" fill="#cfcfcf"/>
<text x="3212.2" y="1581" font-size="32.3" text-anchor="middle" fill="#d6d6d6" textLength="47.6" lengthAdjust="spacingAndGlyphs">0.4</text>
<rect x="2050" y="611.4" width="14" height="3" fill="#cfcfcf"/>
<text x="2049.5" y="625.7" font-size="32.3" text-anchor="end" fill="#d6d6d6" textLength="47.1" lengthAdjust="spacingAndGlyphs">0.4</text>
<rect x="3354.1" y="1533" width="3" height="12" fill="#cfcfcf"/>
<text x="3355.6" y="1581" font-size="32.3" text-anchor="middle" fill="#d6d6d6" textLength="66.6" lengthAdjust="spacingAndGlyphs">0.45</text>
<rect x="2050" y="496.6" width="14" height="3" fill="#cfcfcf"/>
<text x="2049.5" y="510.9" font-size="32.3" text-anchor="end" fill="#d6d6d6" textLength="66.0" lengthAdjust="spacingAndGlyphs">0.45</text>
<rect x="3497.5" y="1533" width="3" height="12" fill="#cfcfcf"/>
<text x="3499.0" y="1581" font-size="32.3" text-anchor="middle" fill="#d6d6d6" textLength="47.6" lengthAdjust="spacingAndGlyphs">0.5</text>
<rect x="2050" y="381.8" width="14" height="3" fill="#cfcfcf"/>
<text x="2049.5" y="396.1" font-size="32.3" text-anchor="end" fill="#d6d6d6" textLength="47.1" lengthAdjust="spacingAndGlyphs">0.5</text>
<rect x="3640.8" y="1533" width="3" height="12" fill="#cfcfcf"/>
<text x="3642.3" y="1581" font-size="32.3" text-anchor="middle" fill="#d6d6d6" textLength="66.6" lengthAdjust="spacingAndGlyphs">0.55</text>
<rect x="2050" y="266.9" width="14" height="3" fill="#cfcfcf"/>
<text x="2049.5" y="281.2" font-size="32.3" text-anchor="end" fill="#d6d6d6" textLength="66.0" lengthAdjust="spacingAndGlyphs">0.55</text>
 <text x="2886.7" y="141" font-size="32.3" text-anchor="middle" fill="#d6d6d6" textLength="192" lengthAdjust="spacingAndGlyphs">CIE 1976 u'v'</text>
</svg></body></html>
